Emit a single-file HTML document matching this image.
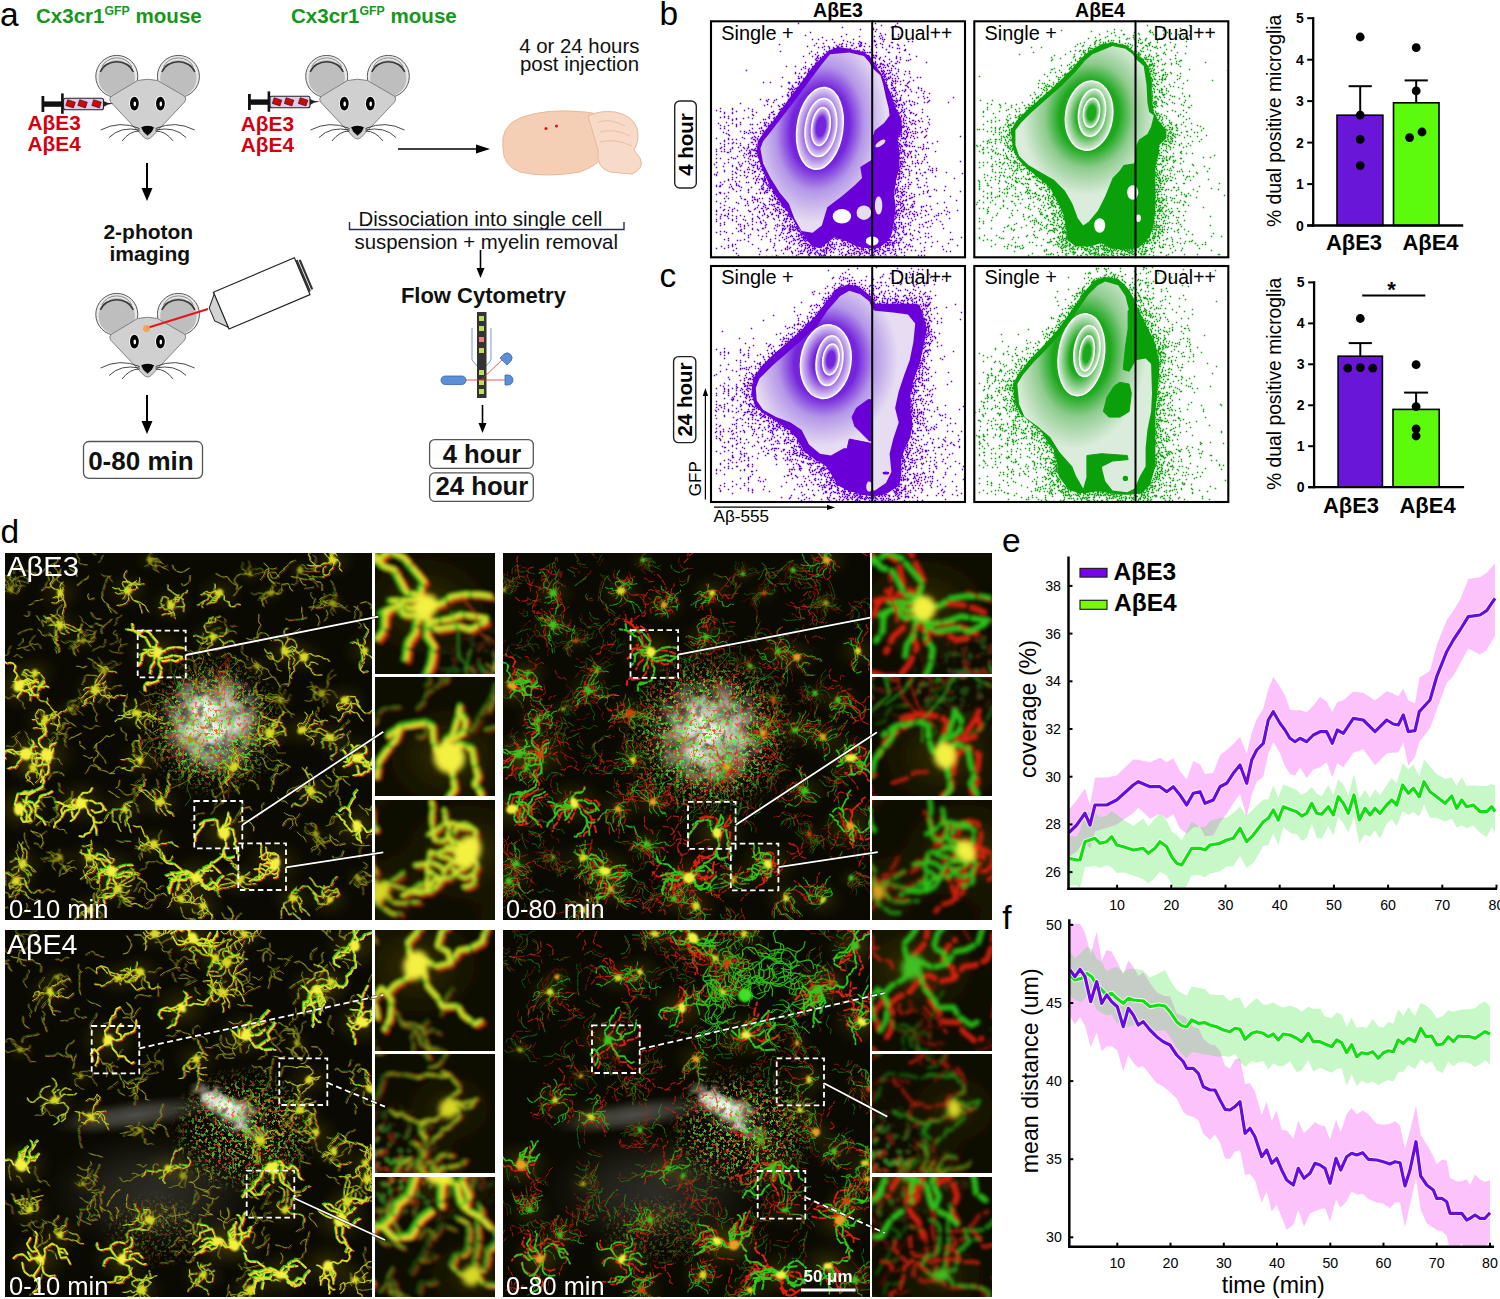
<!DOCTYPE html>
<html><head><meta charset="utf-8"><style>
html,body{margin:0;padding:0;background:#fff;}
body{width:1500px;height:1299px;overflow:hidden;}
svg{display:block;font-family:"Liberation Sans", sans-serif;}
</style></head><body>
<svg width="1500" height="1299" viewBox="0 0 1500 1299">
<defs><clipPath id="clip_bL"><rect x="712" y="22.3" width="252" height="234"/></clipPath><radialGradient id="g_bL" gradientUnits="userSpaceOnUse" cx="819.9" cy="128.4" r="94.8" gradientTransform="translate(819.9,128.4) rotate(8) scale(0.695,1) translate(-819.9,-128.4)"><stop offset="0.435" stop-color="#7324dc"/><stop offset="0.66" stop-color="#b496e8"/><stop offset="1" stop-color="#e6ddf2"/></radialGradient><radialGradient id="gr_bL"><stop offset="0.5" stop-color="#7324dc"/><stop offset="1" stop-color="#e6ddf2"/></radialGradient><clipPath id="clip_bR"><rect x="975.3" y="22.3" width="252" height="234"/></clipPath><radialGradient id="g_bR" gradientUnits="userSpaceOnUse" cx="1089.1" cy="115.6" r="80.1" gradientTransform="translate(1089.1,115.6) rotate(8) scale(0.842,1) translate(-1089.1,-115.6)"><stop offset="0.435" stop-color="#1ca81c"/><stop offset="0.66" stop-color="#8fcc8f"/><stop offset="1" stop-color="#dcecdc"/></radialGradient><radialGradient id="gr_bR"><stop offset="0.5" stop-color="#1ca81c"/><stop offset="1" stop-color="#dcecdc"/></radialGradient><clipPath id="clip_cL"><rect x="712" y="267" width="252" height="234"/></clipPath><radialGradient id="g_cL" gradientUnits="userSpaceOnUse" cx="825.8" cy="361.6" r="85.1" gradientTransform="translate(825.8,361.6) rotate(8) scale(0.848,1) translate(-825.8,-361.6)"><stop offset="0.435" stop-color="#7324dc"/><stop offset="0.66" stop-color="#b496e8"/><stop offset="1" stop-color="#e6ddf2"/></radialGradient><radialGradient id="gr_cL"><stop offset="0.5" stop-color="#7324dc"/><stop offset="1" stop-color="#e6ddf2"/></radialGradient><clipPath id="clip_cR"><rect x="975.3" y="267" width="252" height="234"/></clipPath><radialGradient id="g_cR" gradientUnits="userSpaceOnUse" cx="1081.4" cy="354.8" r="94.8" gradientTransform="translate(1081.4,354.8) rotate(8) scale(0.695,1) translate(-1081.4,-354.8)"><stop offset="0.435" stop-color="#1ca81c"/><stop offset="0.66" stop-color="#8fcc8f"/><stop offset="1" stop-color="#dcecdc"/></radialGradient><radialGradient id="gr_cR"><stop offset="0.5" stop-color="#1ca81c"/><stop offset="1" stop-color="#dcecdc"/></radialGradient><clipPath id="clipE"><rect x="1068.5" y="548.4" width="432.5" height="340.30000000000007"/></clipPath><clipPath id="clipF"><rect x="1069.3" y="911.3" width="428.70000000000005" height="335.4000000000001"/></clipPath><path id="t0" d="M0 0l-2 2l-4 -1l-3 0l-2 1l-2 3l0 4M0 0l-4 0l-4 -3l-1 -1l-3 -2l-4 2l-2 1l-2 0l-2 -2l-1 -3M-9 -4l-2 -2l0 -3l3 -3l3 -1l4 0M0 0l1 -3l0 -2l-1 -3l3 -2l2 -2l0 -4l-2 -3M1 -3l0 -3l2 -1l3 -1M0 0l3 0l3 -1l0 -4l3 -2l3 -1l4 3M6 -1l3 -2l2 1l3 1l4 1l2 -1M0 0l1 3l2 1l4 0l2 4l1 2l-2 3l-2 1l-1 4l-4 2M6 14l-3 0l-4 1l0 4l-2 1l-3 1M6 14l-2 0l-1 2l-1 2"/><path id="t1" d="M0 0l0 -3l3 -2l1 -4l-2 -4l1 -3l0 -4l-3 -3l-3 -2M4 -9l-3 -1l-3 2l-3 -3l-1 -3M0 0l3 -1l4 1l4 -1l3 0l2 -4l3 0l4 -2l0 -2M0 0l2 4l0 4l1 3l-2 1l2 4l2 0l3 1M1 12l4 -1l2 1l3 2l2 3M0 0l-4 0l-3 -1l-1 -3l-1 -2l-3 -2l-2 -3l0 -2l-3 -3l0 -3"/><path id="t2" d="M0 0l-2 -2l-5 0l-2 -1l-3 0l-3 -1l0 -2l-3 -3M0 0l-1 -3l-2 -3l1 -3l1 -3l-1 -2l-2 -3l-4 -1l-3 3M-4 -17l0 3l0 5M-2 -9l2 4l2 2l0 4M0 0l3 -1l2 2l3 2l2 3M0 0l3 3l0 4l2 2l0 3M5 12l0 2l0 4l4 1l2 2M3 3l2 0l3 -1l3 1l3 -3"/><path id="t3" d="M0 0l-3 -2l-2 0l-4 -1l-3 -1l-2 -2l-2 -1l-1 -3l-3 -1l-3 3M-23 -8l3 2l2 2l-1 3l0 2l2 3M-9 -3l-3 -1l-1 -3l-3 -1l-3 1M0 0l-3 -3l1 -5l3 -3l4 -1l2 -2l2 -4M-3 -3l0 -4l0 -2l-2 -2l0 -3l0 -2M0 0l-3 -3l-2 -3l0 -4l2 -1l2 -2M-1 -13l2 -1l4 0l2 0l4 -2l3 -1M-3 -11l3 2l2 2M0 0l2 1l1 4l3 2l1 1M2 1l2 4l2 1l-1 4M0 0l2 0l2 -4l0 -2l3 -2M0 0l-2 3l-2 3l-1 4l-1 2l-1 4M-6 12l3 0l3 0l3 1M-2 3l0 2l-1 3l-3 0"/><path id="t4" d="M0 0l2 1l2 1l4 1l3 -1l2 -1M0 0l1 2l1 4l1 4l3 0l4 -1l4 -1l0 -4l3 -2M17 2l2 -1l2 -2M3 10l3 1l1 2l2 1l4 1l2 1M0 0l-3 1l-2 -1l-2 -4l-1 -2M-5 0l1 -2l1 -3M0 0l1 -2l-1 -3l2 -1l4 -1l1 2l4 2l4 -1M0 0l2 -2l3 -1l4 -1l3 -1l2 -2l2 -1l4 -2"/><path id="t5" d="M0 0l4 -2l3 1l1 -1l1 -3l-1 -4l0 -2M0 0l3 3l0 4l3 2l1 2l3 0l2 -1l1 -4M7 11l3 1l2 -1l4 -1l3 1l1 4M6 9l3 -2l1 -2l-1 -4l-4 -2M0 0l-1 3l1 2l3 2l2 0l3 -1l3 -1M0 0l-3 0l-3 -1l-1 -2l1 -2l0 -3l2 -3M0 0l-1 -4l-2 -3l2 -3l2 -1M0 0l-2 -3l-3 -3l-3 -1l-3 3l-2 0l-2 2l-4 1M0 0l1 -3l4 -1l3 1l3 0l4 0l4 -1l2 -4M8 -3l2 0l2 1l2 -2l1 -3l0 -4M19 -4l3 0l4 1l4 1"/><path id="t6" d="M0 0l2 4l4 0l3 -1l3 -1l2 -3l3 -1l2 1l4 -2M0 0l-3 0l-5 -1l-1 -1l-3 -2l-2 -3M-14 -7l-3 -3l-4 -2M0 0l-1 -3l2 -3l2 -3l0 -3l-2 -3l-1 -1M1 -6l-4 2l-1 3M1 -6l-2 -2l-1 -4M0 0l-2 -2l-1 -3l-3 0l-3 1l-3 0M-9 -4l-3 -3l-4 0l-3 3M0 0l4 -2l1 -1l3 0l4 2l2 2l4 1M4 -2l-1 4l-3 3l-2 2l0 4l0 3M0 0l3 1l4 -1l3 1l2 4l-2 4l0 4M10 1l-2 0l-2 3"/><path id="t7" d="M0 0l-1 2l1 4l3 2l0 3l-1 3l-3 1l-4 1M0 0l-3 3l-3 -1l-3 0l-2 1l-1 4l1 3l2 3l1 4M-6 2l-4 2l-2 2M0 0l-4 2l-3 -1l-2 4l1 3l-2 2l-3 0M0 0l2 -3l1 -2l-1 -2l2 -4l3 -3l1 -2M7 -14l-3 -3l-1 -3M2 -7l3 -4l2 -1l3 -1l1 -4M0 0l4 -1l2 -3l2 -2l2 0l2 -1l3 -1l3 -4l2 -1l4 1M4 -1l3 -2l1 -3l1 -4l2 -3M0 0l3 -2l2 -2l2 -4l0 -3l-2 -3l1 -2l-3 -2l-2 -2M7 -8l-3 -3l-2 -1l-3 -3M3 -18l-1 -2l-3 -1M0 0l2 2l1 3l-2 3l-2 4"/><path id="t8" d="M0 0l4 1l2 -1l1 -2l2 -3l0 -4l3 -2l1 -2l0 -4l-1 -1M12 -11l1 -1l2 -2l1 -2l2 -1M0 0l3 1l2 1l0 4l1 2M3 1l2 -1l2 -1l3 -1l2 1l3 -3M0 0l-3 0l-3 -1l-1 -4l-2 -1l-3 0M-12 -6l-2 -4l-3 0l-2 1l-2 3l-3 0M-12 -6l-1 -2l-2 -2M0 0l-1 -3l1 -2l1 -3l4 -1M-0 -5l2 1l2 -2l1 -3l2 -3l2 -2M-0 -5l0 -2l1 -3l4 -1l2 -2M0 0l-1 -2l0 -3l2 -1l2 -1l4 2l3 0M7 -5l3 1l4 0l3 -2"/><path id="t9" d="M0 0l-2 -3l-2 0l-2 -3l-3 0l-2 3M-11 -3l-1 4l-1 2l-1 4l-4 2M-4 -3l-4 1l-3 -1l-1 -2M0 0l2 -1l2 2l2 3l-2 3l2 3M0 0l3 -1l1 -2l3 -3l4 -2M0 0l2 2l4 -2l1 -4l3 0M7 -4l2 4l1 3l2 2M0 0l-3 3l-3 2l0 3l1 2l3 0l3 0l2 -2l-1 -2M0 0l-4 1l-3 -3l-2 -2l-1 -3l1 -3l2 0l3 -3l3 0l3 -1M-7 -2l0 -3l-3 -2l-4 -1l-3 -3l-2 0M-4 -13l2 1l1 4l1 2"/><path id="t10" d="M0 0l3 3l3 0l2 -2l2 -2l3 -1l2 -4M0 0l3 3l2 3l3 1l2 4l1 4l-2 3l-2 3M9 18l-3 2l0 3l2 2M0 0l0 3l2 4l0 3l2 4M0 3l4 -1l3 -3l2 -3l4 -2l2 -1M0 3l-3 2l-3 -1M0 0l-3 3l-2 0l-2 3l-1 2M-7 6l0 2l2 3l0 3M0 0l-2 -1l-2 0l-2 1l-2 -1l-4 -2l-3 1l-3 -1l-3 1l-3 -3M-2 -1l-2 2l-4 3M0 0l-3 -2l-1 -3l-4 -1l-4 -1l-4 1l-1 4l-4 0l-4 2M0 0l3 -3l1 -3l3 -3l3 -2l2 -1"/><path id="t11" d="M0 0l-3 3l-1 4l-3 1l-2 -1l-2 -1M-3 3l1 -2l3 -1l3 -2l1 -3M-3 3l-2 -1l-4 0M0 0l0 3l0 2l1 3l0 3l0 2M1 11l-1 3l-2 1l-1 2l-2 3M0 0l-1 -4l-3 -2l-2 -3l0 -3l3 -2l2 -2l0 -4l-1 -3l-4 0M0 0l2 -3l0 -3l2 -2l3 -1M0 0l2 1l0 4l-2 2l-3 0"/><path id="t12" d="M0 0l-2 -1l-4 -2l-2 -1l-1 -3l-3 -3l0 -3M-12 -13l0 -4l1 -2l-2 -2l1 -4M-9 -7l-2 -1l-3 -1l-2 2l-1 3M0 0l3 -2l3 1l3 2l2 -1l1 -2l2 -4l0 -4M14 -6l-2 -3l-1 -4l-1 -3l-3 -3M0 0l2 0l2 2l0 2l3 4l2 2M4 2l-1 2l0 3l2 2l3 0M0 0l1 4l-3 2l-4 -2l-3 -1l-1 -2l-3 0l-3 -2l-2 0"/><path id="t13" d="M0 0l-3 1l-2 2l0 2l0 4l-2 3l0 3l-2 4l-2 1l-1 5M-9 19l2 1l2 1l4 -2l1 -5l2 -3M0 0l1 -4l3 -2l3 2l4 1l1 -3l3 1l2 1l2 4l3 1M0 0l2 -3l4 -1l1 1l0 4l3 3l0 3M0 0l2 2l4 0l1 2l2 3l3 1l2 0l4 2M2 2l1 4l1 3"/><path id="t14" d="M0 0l-4 1l-3 -3l-2 -2l1 -2l0 -3l3 -4M-8 -6l1 -2l1 -2l0 -4M0 0l1 -3l-2 -3l-3 -2l-1 -2l0 -3l0 -4M-5 -17l0 -4l-3 -3l-2 0l-3 0l-2 -2M0 0l1 -3l-2 -3l0 -2l2 -2l2 0l2 -2M3 -10l-1 -4l-2 -2l0 -2l1 -3l0 -4M3 -10l2 0l3 2l2 0l4 -2l4 0M0 0l4 0l2 2l3 0l1 -2l1 -3M11 -3l-3 0l-3 -4l-4 0l-2 1l-2 1M10 -0l-3 -2l-2 -1l-3 0l-2 1"/><path id="t15" d="M0 0l2 3l3 2l3 3l4 2l3 2l1 2l3 1M0 0l-2 2l-3 0l-3 4l-2 3l-3 2l-3 -1l-2 -2M0 0l2 -3l4 -1l2 3l-1 3l1 2l3 2l3 2l2 0l3 -2M0 0l0 3l-1 2l3 3l2 1l1 5l4 1M9 15l-2 3l-1 2l0 3l1 3l-1 3M4 9l0 2l1 4l-1 3"/><path id="t16" d="M0 0l-2 4l-1 3l-2 2l-2 0l-2 -3l-1 -2l1 -3l-1 -3M-2 4l4 -1l2 1l1 2l2 2l0 4M-7 9l-2 -4l-1 -2l1 -3l-1 -4l-1 -4M0 0l-2 2l-2 0l-3 -2l-2 -3l0 -2l2 -4M-9 -5l1 -2l3 0l2 3l1 2l-2 3M-2 2l3 2l2 4l-2 2l2 4l0 3M0 0l-3 -1l-4 0l-2 2l1 3l-3 3l-1 3l-4 1l-4 -1M0 0l2 -1l2 -4l2 -2l1 -3l-1 -5l0 -2l1 -3M7 -20l0 -2l1 -2l2 -2l2 -3M7 -10l0 -4l1 -3l3 -2l3 -3l2 -1M0 0l4 -2l4 -2l2 0l3 1l3 3l2 3l1 2M0 0l2 2l3 -1l3 0l2 1M0 0l-2 3l-2 0l-2 -1l-1 -3l-2 0l-3 -2l1 -5l-2 -3l-1 -2M-11 -8l-4 1l-3 1M-6 2l-2 -2l-3 -3l-3 -1"/><path id="t17" d="M0 0l1 4l3 1l3 1l3 -1M1 4l0 -4l-2 -1l-3 -2l-4 -1l-4 3M0 0l-2 4l-3 0l-4 2l-4 2M-13 8l-2 1l-1 2l-1 3l2 4l2 2M0 0l-2 4l-1 2l-3 2l-3 2l-2 1l-3 1l-2 2l-2 2l-3 -2M-2 4l-4 -1l-4 -1l-3 1M-16 14l-4 -1l0 -3l-4 -2l-2 -2M0 0l-1 -2l-2 -2l0 -3l-3 -2l-3 -1l-2 -3l-2 -2M-6 -9l-1 -3l-3 -1l-2 1M-13 -15l-3 1l-3 -1l-3 -2l-2 -1M0 0l1 -4l4 0l3 0l3 0l1 -1l2 -3l4 0M11 -4l3 -1l1 -3M0 0l2 -2l1 -3l2 -2l2 -3M0 0l3 0l3 2l4 -1l2 -1l3 -1"/><path id="t18" d="M0 0l-2 2l-1 1l-1 4l3 3l3 0l2 -3M2 10l-1 -1l-4 -1M2 10l2 1l3 0l3 -2l3 -1M0 0l-1 -2l-2 -3l2 -3l0 -3l2 -1l2 0M-1 -8l3 -1l2 1l2 3M0 0l0 -4l1 -1l3 -1l3 -2l4 0l3 3M11 -8l2 0l3 -3l2 -1l4 1l3 -1M-0 -4l2 1l3 0l2 2l3 1M0 0l2 -1l4 -2l3 -2l1 -3l3 -3l3 -1M16 -12l0 2l-1 4l0 3l-1 2l-1 3M9 -5l2 2l2 1l4 0l2 0M0 0l2 2l2 -1l3 1l4 -1l2 1M0 0l3 0l2 4l1 3l-1 3l1 2l0 4M3 0l2 2l2 1M0 0l2 3l4 3l2 -1l3 1l0 4l0 3l-1 4l0 3"/><path id="t19" d="M0 0l4 1l1 4l-2 3l0 2l1 2M0 0l0 3l-3 4l-3 1l-2 3l-3 0l-3 0M-8 11l-3 0l-2 -2l1 -3l1 -2l3 -1M0 0l-3 1l-3 0l-3 -1l-4 1l-4 -2l-4 -1l-3 -2M-13 1l-3 -1l-2 2l-1 2M-17 -1l-2 -4l-1 -2l1 -3l-1 -2l2 -2M0 0l-2 -2l-2 -3l-1 -3l-1 -2l0 -3M-6 -10l2 0l4 2l0 3l-2 2l-1 4M0 0l-1 -2l0 -4l2 -3l1 -3M2 -12l-2 -4l-1 -3l0 -3l-2 -3M-1 -2l3 -3l2 -4l1 -2l-1 -3l-3 -1M0 0l0 -4l1 -2l1 -2l3 -2l4 -2l2 -2M1 -6l3 1l1 3"/><path id="f0" d="M6 -0l1 -4l3 -3l1 -2l2 -4l3 0l3 -3M-1 3l-2 -1l-3 -1l-1 -3M7 -4l1 4l3 3l0 3l-2 2l0 3M-8 -9l-2 2l-3 3l-2 1l-1 2"/><path id="f1" d="M-4 7l-2 3l-3 0l-3 1M-6 -0l4 0l5 1l4 1l3 2M9 11l-4 1l-2 1l-3 1l-1 2l1 5l0 3"/><path id="f2" d="M9 1l4 -1l4 0l4 1l2 -3l3 -1l4 -1M7 -2l2 4l4 0l1 1l1 4l-1 3l-3 3l-1 2M5 -8l0 4l1 4l-1 4"/><path id="f3" d="M10 -11l-2 2l0 3l-3 3M2 -11l-3 -1l-2 -4l0 -2l-2 -4M-7 -0l-3 0l-5 -1l-1 -2l1 -2l-3 -4l-1 -3l-2 -1M9 9l2 2l2 0l4 0l2 4l2 1"/><path id="f4" d="M-5 2l4 2l4 1l3 2M7 -7l3 -1l4 1l3 3M-2 -4l1 -3l3 -4l1 -2l1 -3l-2 -3M12 12l1 4l0 4l0 3l0 3l0 3l-2 3"/><path id="f5" d="M-4 -10l-4 2l-3 3l-2 1l-3 -1l0 -3M7 -0l2 1l4 1l4 0l2 3l3 1l1 2l-1 5M-8 2l4 0l1 1l0 3l2 3M-0 -3l2 1l4 1l1 4l1 2l2 1"/><path id="f6" d="M-7 -0l0 -5l2 -2l3 -2l2 2M-6 6l4 -3l3 -1l3 1l3 2l1 3"/><path id="f7" d="M-1 8l-4 -1l-4 1l-3 -2l-4 -1M9 2l-1 -2l-3 -1l-2 4"/><path id="f8" d="M-10 -9l2 0l2 -2l2 0M-2 -3l-2 -2l-4 1l-3 1l-1 3l-4 1l-3 2M9 7l1 4l1 4l3 2l4 0l2 4M-11 -1l-1 -4l-3 -2l-3 -3l0 -4l-3 -1"/><path id="f9" d="M-11 -6l4 2l2 3l0 2l0 3l2 2l2 2l4 1M2 8l-3 -1l-3 -2l-1 -3l2 -2l4 -1l4 3M1 -5l-3 2l-3 0l-3 3l0 4l-1 3l-1 2M7 -6l3 -4l1 -3l4 -3"/><filter id="bl1" x="-5%" y="-5%" width="110%" height="110%"><feGaussianBlur stdDeviation="0.5"/></filter><filter id="bl2" x="-50%" y="-50%" width="200%" height="200%"><feGaussianBlur stdDeviation="1.1"/></filter><filter id="bl8" x="-50%" y="-50%" width="200%" height="200%"><feGaussianBlur stdDeviation="8"/></filter><filter id="blI" x="-5%" y="-5%" width="110%" height="110%"><feGaussianBlur stdDeviation="1.5"/></filter><filter id="blG" x="-5%" y="-5%" width="110%" height="110%"><feGaussianBlur stdDeviation="5"/></filter><filter id="spG" x="0" y="0" width="100%" height="100%"><feTurbulence type="fractalNoise" baseFrequency="0.3" numOctaves="2" seed="3"/><feColorMatrix type="matrix" values="0 0 0 0 0.1  0 0 0 0 0.92  0 0 0 0 0.05  15 0 0 0 -8.7"/><feComposite in2="SourceGraphic" operator="in"/></filter><filter id="spR" x="0" y="0" width="100%" height="100%"><feTurbulence type="fractalNoise" baseFrequency="0.3" numOctaves="2" seed="9"/><feColorMatrix type="matrix" values="0 0 0 0 0.95  0 0 0 0 0.08  0 0 0 0 0.02  15 0 0 0 -8.7"/><feComposite in2="SourceGraphic" operator="in"/></filter><filter id="plF" x="0" y="0" width="100%" height="100%"><feTurbulence type="fractalNoise" baseFrequency="0.07" numOctaves="3" seed="8"/><feColorMatrix type="matrix" values="0 0 0 0 0.96  0 0 0 0 0.96  0 0 0 0 0.9  3.2 0 0 0 -1.05"/><feComposite in2="SourceGraphic" operator="in"/></filter><radialGradient id="gfade"><stop offset="0" stop-color="#fff" stop-opacity="1"/><stop offset="0.6" stop-color="#fff" stop-opacity="0.7"/><stop offset="1" stop-color="#fff" stop-opacity="0"/></radialGradient><radialGradient id="glow"><stop offset="0" stop-color="#6a6200" stop-opacity="0.6"/><stop offset="1" stop-color="#3a3400" stop-opacity="0"/></radialGradient><radialGradient id="plq"><stop offset="0" stop-color="#ffffff" stop-opacity="1"/><stop offset="0.45" stop-color="#e8e8e0" stop-opacity="0.75"/><stop offset="1" stop-color="#a0a098" stop-opacity="0"/></radialGradient><filter id="plD" x="0" y="0" width="100%" height="100%"><feTurbulence type="fractalNoise" baseFrequency="0.11" numOctaves="2" seed="4"/><feColorMatrix type="matrix" values="0 0 0 0 0.05  0 0 0 0 0.05  0 0 0 0 0.03  5 0 0 0 -2.9"/><feComposite in2="SourceGraphic" operator="in"/></filter><clipPath id="cp_m1"><rect x="5" y="553" width="367" height="367"/></clipPath><clipPath id="ci_m1_553"><rect x="375" y="553" width="120" height="120.5"/></clipPath><clipPath id="ci_m1_677"><rect x="375" y="677" width="120" height="119.0"/></clipPath><clipPath id="ci_m1_800"><rect x="375" y="800" width="120" height="120.0"/></clipPath><clipPath id="cp_m2"><rect x="503" y="553" width="367" height="367"/></clipPath><clipPath id="ci_m2_553"><rect x="872" y="553" width="120" height="120.5"/></clipPath><clipPath id="ci_m2_677"><rect x="872" y="677" width="120" height="119.0"/></clipPath><clipPath id="ci_m2_800"><rect x="872" y="800" width="120" height="120.0"/></clipPath><clipPath id="cp_m3"><rect x="5" y="930" width="367" height="367"/></clipPath><clipPath id="ci_m3_930"><rect x="375" y="930" width="120" height="120.5"/></clipPath><clipPath id="ci_m3_1054"><rect x="375" y="1054" width="120" height="119.0"/></clipPath><clipPath id="ci_m3_1177"><rect x="375" y="1177" width="120" height="120.0"/></clipPath><clipPath id="cp_m4"><rect x="503" y="930" width="367" height="367"/></clipPath><clipPath id="ci_m4_930"><rect x="872" y="930" width="120" height="120.5"/></clipPath><clipPath id="ci_m4_1054"><rect x="872" y="1054" width="120" height="119.0"/></clipPath><clipPath id="ci_m4_1177"><rect x="872" y="1177" width="120" height="120.0"/></clipPath></defs>
<text x="0" y="25.5" font-size="33.5" font-weight="normal" fill="#000" text-anchor="start" >a</text><text x="659.5" y="25" font-size="33.5" font-weight="normal" fill="#000" text-anchor="start" >b</text><text x="659.5" y="286.5" font-size="33.5" font-weight="normal" fill="#000" text-anchor="start" >c</text><text x="0.5" y="542.8" font-size="33.5" font-weight="normal" fill="#000" text-anchor="start" >d</text><text x="1002" y="552.3" font-size="33.5" font-weight="normal" fill="#000" text-anchor="start" >e</text><text x="1002.3" y="929" font-size="33.5" font-weight="normal" fill="#000" text-anchor="start" >f</text><text x="36" y="22.5" font-size="20.55" font-weight="bold" fill="#16961a">Cx3cr1<tspan font-size="12.3" dy="-7.5">GFP</tspan><tspan dy="7.5"> mouse</tspan></text><text x="291" y="22.5" font-size="20.55" font-weight="bold" fill="#16961a">Cx3cr1<tspan font-size="12.3" dy="-7.5">GFP</tspan><tspan dy="7.5"> mouse</tspan></text><g transform="translate(147.6,55)"><circle cx="-30.8" cy="21.4" r="21" fill="#e9e9e9" stroke="#5a5a5a" stroke-width="1"/><circle cx="-30.8" cy="23.2" r="18.2" fill="#bebebe"/><path d="M-47.3,17 A17.5,15.5 0 0 1 -14.3,17" fill="none" stroke="#3a3a3a" stroke-width="1.5"/><path d="M-45.8,12 A16,14 0 0 1 -15.8,12" fill="none" stroke="#888" stroke-width="1"/><circle cx="30.8" cy="21.4" r="21" fill="#e9e9e9" stroke="#5a5a5a" stroke-width="1"/><circle cx="30.8" cy="23.2" r="18.2" fill="#bebebe"/><path d="M14.3,17 A17.5,15.5 0 0 1 47.3,17" fill="none" stroke="#3a3a3a" stroke-width="1.5"/><path d="M15.8,12 A16,14 0 0 1 45.8,12" fill="none" stroke="#888" stroke-width="1"/><path d="M-10,25.5 Q0,23 10,25.5 L37.5,41.5 Q39,44 37,47 L4,82 Q0,86 -4,82 L-37,47 Q-39,44 -36.5,41.5 Z" fill="#d0d0d0" stroke="#777" stroke-width="0.9"/><ellipse cx="-13.2" cy="48.6" rx="5.4" ry="7.8" fill="#f4f4f4"/><ellipse cx="-13.2" cy="48.6" rx="4.4" ry="6.8" fill="#000"/><ellipse cx="-12.799999999999999" cy="49" rx="1.3" ry="2.4" fill="#fff"/><ellipse cx="12.8" cy="48.6" rx="5.4" ry="7.8" fill="#f4f4f4"/><ellipse cx="12.8" cy="48.6" rx="4.4" ry="6.8" fill="#000"/><ellipse cx="13.200000000000001" cy="49" rx="1.3" ry="2.4" fill="#fff"/><path d="M-7,72 Q0,68.5 7,72 Q6,77 0,81 Q-6,77 -7,72 Z" fill="#050505" stroke="#eee" stroke-width="0.8"/><path d="M-8,73.5 Q-28,65 -47,75" fill="none" stroke="#333" stroke-width="0.9"/><path d="M-8,75 Q-27,71 -38.5,82.5" fill="none" stroke="#333" stroke-width="0.9"/><path d="M-8,76 Q-18,76 -25.5,86" fill="none" stroke="#333" stroke-width="0.9"/><path d="M8,73.5 Q28,65 47,75" fill="none" stroke="#333" stroke-width="0.9"/><path d="M8,75 Q27,71 38.5,82.5" fill="none" stroke="#333" stroke-width="0.9"/><path d="M8,76 Q18,76 25.5,86" fill="none" stroke="#333" stroke-width="0.9"/></g><g transform="translate(41.5,104)"><rect x="0" y="-8" width="2.8" height="16" fill="#111"/><rect x="2" y="-2.6" width="19" height="5.4" fill="#111"/><rect x="19.6" y="-10.6" width="2.6" height="20.4" fill="#111"/><rect x="22" y="-5.8" width="40" height="11.6" rx="2" fill="#dccdf0" stroke="#222" stroke-width="1.1"/><g fill="#c80a0a" stroke="#500" stroke-width="0.6"><rect x="25" y="-3.2" width="8" height="6" transform="rotate(18 29 0)"/><rect x="37" y="-3.2" width="8" height="6" transform="rotate(18 41 0)"/><rect x="51" y="-3.2" width="8" height="6" transform="rotate(18 55 0)"/></g><path d="M62,-3 L66,-1.2 L72,-0.4 L66,0.8 L62,3 Z" fill="#222"/></g><text x="27.6" y="130" font-size="20.3" font-weight="bold" fill="#d4000f" text-anchor="start"  textLength="53.2" lengthAdjust="spacingAndGlyphs">AβE3</text><text x="27.6" y="150.8" font-size="20.3" font-weight="bold" fill="#d4000f" text-anchor="start"  textLength="53.2" lengthAdjust="spacingAndGlyphs">AβE4</text><line x1="147" y1="163" x2="147" y2="189" stroke="#000" stroke-width="2"/><path d="M141.5,188 L152.5,188 L147,201 Z" fill="#000"/><text x="148.3" y="239.2" font-size="21" font-weight="bold" fill="#111" text-anchor="middle" >2-photon</text><text x="149.8" y="261.2" font-size="21" font-weight="bold" fill="#111" text-anchor="middle" >imaging</text><g transform="translate(147.6,293)"><circle cx="-30.8" cy="21.4" r="21" fill="#e9e9e9" stroke="#5a5a5a" stroke-width="1"/><circle cx="-30.8" cy="23.2" r="18.2" fill="#bebebe"/><path d="M-47.3,17 A17.5,15.5 0 0 1 -14.3,17" fill="none" stroke="#3a3a3a" stroke-width="1.5"/><path d="M-45.8,12 A16,14 0 0 1 -15.8,12" fill="none" stroke="#888" stroke-width="1"/><circle cx="30.8" cy="21.4" r="21" fill="#e9e9e9" stroke="#5a5a5a" stroke-width="1"/><circle cx="30.8" cy="23.2" r="18.2" fill="#bebebe"/><path d="M14.3,17 A17.5,15.5 0 0 1 47.3,17" fill="none" stroke="#3a3a3a" stroke-width="1.5"/><path d="M15.8,12 A16,14 0 0 1 45.8,12" fill="none" stroke="#888" stroke-width="1"/><path d="M-10,25.5 Q0,23 10,25.5 L37.5,41.5 Q39,44 37,47 L4,82 Q0,86 -4,82 L-37,47 Q-39,44 -36.5,41.5 Z" fill="#d0d0d0" stroke="#777" stroke-width="0.9"/><ellipse cx="-13.2" cy="48.6" rx="5.4" ry="7.8" fill="#f4f4f4"/><ellipse cx="-13.2" cy="48.6" rx="4.4" ry="6.8" fill="#000"/><ellipse cx="-12.799999999999999" cy="49" rx="1.3" ry="2.4" fill="#fff"/><ellipse cx="12.8" cy="48.6" rx="5.4" ry="7.8" fill="#f4f4f4"/><ellipse cx="12.8" cy="48.6" rx="4.4" ry="6.8" fill="#000"/><ellipse cx="13.200000000000001" cy="49" rx="1.3" ry="2.4" fill="#fff"/><path d="M-7,72 Q0,68.5 7,72 Q6,77 0,81 Q-6,77 -7,72 Z" fill="#050505" stroke="#eee" stroke-width="0.8"/><path d="M-8,73.5 Q-28,65 -47,75" fill="none" stroke="#333" stroke-width="0.9"/><path d="M-8,75 Q-27,71 -38.5,82.5" fill="none" stroke="#333" stroke-width="0.9"/><path d="M-8,76 Q-18,76 -25.5,86" fill="none" stroke="#333" stroke-width="0.9"/><path d="M8,73.5 Q28,65 47,75" fill="none" stroke="#333" stroke-width="0.9"/><path d="M8,75 Q27,71 38.5,82.5" fill="none" stroke="#333" stroke-width="0.9"/><path d="M8,76 Q18,76 25.5,86" fill="none" stroke="#333" stroke-width="0.9"/></g><g transform="translate(258,295) rotate(-23)"><rect x="-40" y="-20" width="88" height="40" fill="#fff" stroke="#222" stroke-width="1.2"/><rect x="48" y="-17" width="2.2" height="34" fill="#333"/><rect x="51" y="-16" width="2.2" height="32" fill="#333"/><path d="M-40,-18 L-50,-7 L-50,7 L-40,18 Z" fill="#d4d4d4" stroke="#222" stroke-width="1"/></g><line x1="147" y1="328" x2="208" y2="309" stroke="#e8141c" stroke-width="2"/><circle cx="146.5" cy="328.5" r="3.5" fill="#f7a043" opacity="0.9"/><line x1="147" y1="395" x2="147" y2="422" stroke="#000" stroke-width="2"/><path d="M141.5,421 L152.5,421 L147,434 Z" fill="#000"/><rect x="83.5" y="441.5" width="119" height="36.8" rx="5.5" fill="#fff" stroke="#555" stroke-width="1.3"/><text x="140.9" y="469.7" font-size="25.5" font-weight="bold" fill="#111" text-anchor="middle"  textLength="105.5" lengthAdjust="spacingAndGlyphs">0-80 min</text><g transform="translate(357.5,55)"><circle cx="-30.8" cy="21.4" r="21" fill="#e9e9e9" stroke="#5a5a5a" stroke-width="1"/><circle cx="-30.8" cy="23.2" r="18.2" fill="#bebebe"/><path d="M-47.3,17 A17.5,15.5 0 0 1 -14.3,17" fill="none" stroke="#3a3a3a" stroke-width="1.5"/><path d="M-45.8,12 A16,14 0 0 1 -15.8,12" fill="none" stroke="#888" stroke-width="1"/><circle cx="30.8" cy="21.4" r="21" fill="#e9e9e9" stroke="#5a5a5a" stroke-width="1"/><circle cx="30.8" cy="23.2" r="18.2" fill="#bebebe"/><path d="M14.3,17 A17.5,15.5 0 0 1 47.3,17" fill="none" stroke="#3a3a3a" stroke-width="1.5"/><path d="M15.8,12 A16,14 0 0 1 45.8,12" fill="none" stroke="#888" stroke-width="1"/><path d="M-10,25.5 Q0,23 10,25.5 L37.5,41.5 Q39,44 37,47 L4,82 Q0,86 -4,82 L-37,47 Q-39,44 -36.5,41.5 Z" fill="#d0d0d0" stroke="#777" stroke-width="0.9"/><ellipse cx="-13.2" cy="48.6" rx="5.4" ry="7.8" fill="#f4f4f4"/><ellipse cx="-13.2" cy="48.6" rx="4.4" ry="6.8" fill="#000"/><ellipse cx="-12.799999999999999" cy="49" rx="1.3" ry="2.4" fill="#fff"/><ellipse cx="12.8" cy="48.6" rx="5.4" ry="7.8" fill="#f4f4f4"/><ellipse cx="12.8" cy="48.6" rx="4.4" ry="6.8" fill="#000"/><ellipse cx="13.200000000000001" cy="49" rx="1.3" ry="2.4" fill="#fff"/><path d="M-7,72 Q0,68.5 7,72 Q6,77 0,81 Q-6,77 -7,72 Z" fill="#050505" stroke="#eee" stroke-width="0.8"/><path d="M-8,73.5 Q-28,65 -47,75" fill="none" stroke="#333" stroke-width="0.9"/><path d="M-8,75 Q-27,71 -38.5,82.5" fill="none" stroke="#333" stroke-width="0.9"/><path d="M-8,76 Q-18,76 -25.5,86" fill="none" stroke="#333" stroke-width="0.9"/><path d="M8,73.5 Q28,65 47,75" fill="none" stroke="#333" stroke-width="0.9"/><path d="M8,75 Q27,71 38.5,82.5" fill="none" stroke="#333" stroke-width="0.9"/><path d="M8,76 Q18,76 25.5,86" fill="none" stroke="#333" stroke-width="0.9"/></g><g transform="translate(248,102)"><rect x="0" y="-8" width="2.8" height="16" fill="#111"/><rect x="2" y="-2.6" width="19" height="5.4" fill="#111"/><rect x="19.6" y="-10.6" width="2.6" height="20.4" fill="#111"/><rect x="22" y="-5.8" width="40" height="11.6" rx="2" fill="#dccdf0" stroke="#222" stroke-width="1.1"/><g fill="#c80a0a" stroke="#500" stroke-width="0.6"><rect x="25" y="-3.2" width="8" height="6" transform="rotate(18 29 0)"/><rect x="37" y="-3.2" width="8" height="6" transform="rotate(18 41 0)"/><rect x="51" y="-3.2" width="8" height="6" transform="rotate(18 55 0)"/></g><path d="M62,-3 L66,-1.2 L72,-0.4 L66,0.8 L62,3 Z" fill="#222"/></g><text x="240.8" y="131" font-size="20.3" font-weight="bold" fill="#d4000f" text-anchor="start"  textLength="53.2" lengthAdjust="spacingAndGlyphs">AβE3</text><text x="240.8" y="152" font-size="20.3" font-weight="bold" fill="#d4000f" text-anchor="start"  textLength="53.2" lengthAdjust="spacingAndGlyphs">AβE4</text><line x1="398" y1="149" x2="478" y2="149" stroke="#000" stroke-width="1.6"/><path d="M476,144.5 L490,149 L476,153.5 Z" fill="#000"/><g><path d="M503,148 Q500,126 520,118 Q545,108 585,112 Q600,113 606,120 L612,130 Q618,140 608,150 Q600,165 580,172 Q545,178 520,172 Q503,166 503,148 Z" fill="#f5cfb5" stroke="#e9b89a" stroke-width="1"/><path d="M588,116 Q600,110 615,112 Q632,115 637,128 Q640,140 634,150 L640,158 Q645,168 632,174 L610,172 Q596,168 598,150 Z" fill="#f7dbc8" stroke="#e4b89c" stroke-width="1"/><path d="M598,122 Q610,118 625,126 M600,132 Q614,128 630,136 M600,142 Q615,138 632,146" fill="none" stroke="#e4b89c" stroke-width="0.8"/><circle cx="546" cy="128.5" r="1.5" fill="#e51010"/><circle cx="556.5" cy="126" r="1.5" fill="#e51010"/></g><text x="579.3" y="52.9" font-size="20.4" font-weight="normal" fill="#111" text-anchor="middle" >4 or 24 hours</text><text x="579.5" y="71.1" font-size="20.4" font-weight="normal" fill="#111" text-anchor="middle" >post injection</text><text x="480.4" y="225.5" font-size="20.4" font-weight="normal" fill="#111" text-anchor="middle" >Dissociation into single cell</text><path d="M349.5,222 L349.5,229.5 L624,229.5 L624,222" fill="none" stroke="#2a2a55" stroke-width="1.4"/><text x="486.2" y="249" font-size="20.4" font-weight="normal" fill="#111" text-anchor="middle" >suspension + myelin removal</text><line x1="480.5" y1="250" x2="480.5" y2="269" stroke="#000" stroke-width="1.6"/><path d="M476.5,268 L484.5,268 L480.5,278 Z" fill="#000"/><text x="483.4" y="302.6" font-size="22" font-weight="bold" fill="#111" text-anchor="middle" >Flow Cytometry</text><g><path d="M472,328 L472,360 L477,366 M491,328 L491,360 L486,366" fill="none" stroke="#7a9ad0" stroke-width="1"/><rect x="477" y="312" width="9.5" height="86" fill="#333"/><g fill="#b8e05a"><rect x="479" y="316" width="5" height="5"/><rect x="479" y="326" width="5" height="5"/><rect x="479" y="337" width="5" height="5" fill="#f08080"/><rect x="479" y="348" width="5" height="5"/><rect x="479" y="370" width="5" height="5"/><rect x="479" y="380" width="5" height="5"/><rect x="479" y="389" width="5" height="5"/></g><line x1="462" y1="380" x2="506" y2="380" stroke="#e03030" stroke-width="0.8"/><line x1="481" y1="380" x2="503" y2="359" stroke="#e03030" stroke-width="0.8"/><rect x="441" y="376" width="25" height="8.5" rx="4.2" fill="#5b8fd6" stroke="#3a66a8" stroke-width="0.8"/><path d="M505,375 L508,375 A5,5 0 0 1 508,385 L505,385 Z" fill="#5b8fd6" stroke="#3a66a8" stroke-width="0.8"/><path d="M500,358 L504,354 A5,5 0 0 1 511,361 L507,365 Z" fill="#5b8fd6" stroke="#3a66a8" stroke-width="0.8"/></g><line x1="482.5" y1="405" x2="482.5" y2="424" stroke="#000" stroke-width="1.6"/><path d="M478.5,423 L486.5,423 L482.5,433 Z" fill="#000"/><rect x="429.6" y="439.6" width="103.7" height="28.7" rx="5" fill="#fff" stroke="#555" stroke-width="1.3"/><text x="481.9" y="462.9" font-size="25.7" font-weight="bold" fill="#111" text-anchor="middle" >4 hour</text><rect x="429.6" y="472.9" width="103.7" height="28.4" rx="5" fill="#fff" stroke="#555" stroke-width="1.3"/><text x="481.9" y="495.4" font-size="25.7" font-weight="bold" fill="#111" text-anchor="middle" >24 hour</text><g clip-path="url(#clip_bL)"><path d="M798.5 23.5h0m77 0h0m22 0h0m-16 2h0m14 0h0m-53 2h0m49 0h0m-18 1h0m-13 1h0m13 0h0m3 0h0m-1 2h0m-65 1h0m70 1h0m-34 1h0m39 0h0m13 0h0m-93 1h0m76 0h0m11 0h0m-51 1h0m18 0h0m15 0h0m5 0h0m19 0h0m-76 1h0m60 0h0m-2 1h0m14 0h0m-82 1h0m6 0h0m14 0h0m21 0h0m29 0h0m2 0h0m-58 1h0m17 0h0m31 0h0m-27 1h0m12 0h0m15 0h0m1 0h0m8 0h0m25 0h0m4 0h0m-78 1h0m16 0h0m10 0h0m1 0h0m30 0h0m1 0h0m-76 1h0m7 0h0m19 0h0m11 0h0m5 0h0m3 0h0m4 0h0m15 0h0m-101 1h0m60 0h0m0 0h0m2 0h0m5 0h0m14 0h0m16 0h0m6 0h0m15 0h0m-83 1h0m22 0h0m15 0h0m1 0h0m7 0h0m2 0h0m14 0h0m14 0h0m9 0h0m6 0h0m-97 1h0m17 0h0m4 0h0m9 0h0m1 0h0m3 0h0m1 0h0m4 0h0m13 0h0m1 0h0m4 0h0m5 0h0m20 0h0m-71 1h0m4 0h0m7 0h0m4 0h0m4 0h0m19 0h0m20 0h0m6 0h0m10 0h0m-63 1h0m4 0h0m1 0h0m3 0h0m1 0h0m4 0h0m8 0h0m4 0h0m43 0h0m2 0h0m-75 1h0m0 0h0m21 0h0m2 0h0m0 0h0m1 0h0m0 0h0m0 0h0m1 0h0m14 0h0m0 0h0m8 0h0m15 0h0m19 0h0m-76 1h0m1 0h0m1 0h0m1 0h0m25 0h0m2 0h0m5 0h0m40 0h0m1 0h0m-125 1h0m31 0h0m15 0h0m30 0h0m0 0h0m6 0h0m-45 1h0m10 0h0m1 0h0m35 0h0m1 0h0m1 0h0m2 0h0m0 0h0m2 0h0m1 0h0m6 0h0m12 0h0m1 0h0m10 0h0m-90 1h0m14 0h0m4 0h0m-12 1h0m9 0h0m41 0h0m44 0h0m-91 1h0m50 0h0m4 0h0m1 0h0m2 0h0m1 0h0m-73 1h0m9 0h0m5 0h0m5 0h0m47 0h0m7 0h0m9 0h0m11 0h0m20 0h0m-99 1h0m0 0h0m3 0h0m53 0h0m1 0h0m6 0h0m0 0h0m16 0h0m4 0h0m-84 1h0m2 0h0m2 0h0m51 0h0m4 0h0m4 0h0m17 0h0m-81 1h0m6 0h0m58 0h0m10 0h0m11 0h0m10 0h0m-94 1h0m1 0h0m3 0h0m63 0h0m23 0h0m2 0h0m-90 1h0m53 0h0m4 0h0m0 0h0m9 0h0m7 0h0m6 0h0m-92 1h0m11 0h0m57 0h0m0 0h0m0 0h0m2 0h0m24 0h0m27 0h0m-111 1h0m0 0h0m1 0h0m57 0h0m1 0h0m0 0h0m1 0h0m5 0h0m1 0h0m8 0h0m6 0h0m1 0h0m-85 1h0m64 0h0m2 0h0m3 0h0m2 0h0m1 0h0m0 0h0m4 0h0m0 0h0m-72 1h0m61 0h0m8 0h0m3 0h0m5 0h0m-106 1h0m9 0h0m10 0h0m7 0h0m63 0h0m4 0h0m1 0h0m0 0h0m8 0h0m5 0h0m-90 1h0m73 0h0m2 0h0m1 0h0m4 0h0m2 0h0m-80 1h0m4 0h0m0 0h0m67 0h0m5 0h0m10 0h0m4 0h0m-94 1h0m7 0h0m90 0h0m-152 1h0m62 0h0m0 0h0m0 0h0m3 0h0m70 0h0m2 0h0m4 0h0m2 0h0m2 0h0m-83 1h0m1 0h0m1 0h0m71 0h0m1 0h0m2 0h0m14 0h0m7 0h0m4 0h0m-114 1h0m10 0h0m4 0h0m74 0h0m7 0h0m-95 1h0m4 0h0m5 0h0m3 0h0m75 0h0m1 0h0m3 0h0m2 0h0m1 0h0m7 0h0m13 0h0m-101 1h0m74 0h0m0 0h0m2 0h0m1 0h0m7 0h0m12 0h0m-97 1h0m77 0h0m10 0h0m-96 1h0m3 0h0m82 0h0m1 0h0m1 0h0m5 0h0m7 0h0m-115 1h0m19 0h0m83 0h0m0 0h0m4 0h0m2 0h0m20 0h0m7 0h0m3 0h0m-122 1h0m1 0h0m4 0h0m83 0h0m2 0h0m1 0h0m3 0h0m3 0h0m3 0h0m-94 1h0m79 0h0m1 0h0m1 0h0m2 0h0m-84 1h0m83 0h0m6 0h0m3 0h0m8 0h0m10 0h0m-114 1h0m4 0h0m90 0h0m2 0h0m2 0h0m3 0h0m9 0h0m-146 1h0m7 0h0m18 0h0m1 0h0m6 0h0m1 0h0m3 0h0m3 0h0m84 0h0m5 0h0m0 0h0m17 0h0m-119 1h0m9 0h0m2 0h0m92 0h0m0 0h0m3 0h0m0 0h0m12 0h0m-109 1h0m88 0h0m5 0h0m9 0h0m-108 1h0m8 0h0m87 0h0m4 0h0m1 0h0m13 0h0m1 0h0m-125 1h0m11 0h0m115 0h0m-114 1h0m0 0h0m4 0h0m96 0h0m2 0h0m13 0h0m10 0h0m-130 1h0m3 0h0m4 0h0m1 0h0m1 0h0m94 0h0m1 0h0m2 0h0m24 0h0m3 0h0m-132 1h0m1 0h0m2 0h0m2 0h0m94 0h0m6 0h0m11 0h0m5 0h0m-17 1h0m1 0h0m1 0h0m7 0h0m3 0h0m16 0h0m-129 1h0m1 0h0m96 0h0m10 0h0m5 0h0m7 0h0m13 0h0m-136 1h0m3 0h0m3 0h0m1 0h0m96 0h0m5 0h0m20 0h0m-125 1h0m2 0h0m1 0h0m96 0h0m5 0h0m28 0h0m6 0h0m0 0h0m-142 1h0m4 0h0m1 0h0m0 0h0m1 0h0m0 0h0m99 0h0m5 0h0m0 0h0m-110 1h0m1 0h0m3 0h0m101 0h0m0 0h0m3 0h0m6 0h0m7 0h0m-126 1h0m6 0h0m103 0h0m1 0h0m1 0h0m1 0h0m29 0h0m-133 1h0m1 0h0m109 0h0m18 0h0m9 0h0m26 0h0m-163 1h0m106 0h0m4 0h0m24 0h0m-164 1h0m8 0h0m8 0h0m12 0h0m104 0h0m0 0h0m8 0h0m-134 1h0m8 0h0m14 0h0m105 0h0m1 0h0m2 0h0m1 0h0m2 0h0m0 0h0m1 0h0m9 0h0m20 0h0m-162 1h0m128 0h0m2 0h0m9 0h0m3 0h0m3 0h0m16 0h0m-155 1h0m123 0h0m7 0h0m11 0h0m10 0h0m3 0h0m21 0h0m-208 1h0m44 0h0m110 0h0m10 0h0m13 0h0m-150 1h0m15 0h0m4 0h0m109 0h0m0 0h0m3 0h0m1 0h0m0 0h0m2 0h0m3 0h0m6 0h0m4 0h0m-150 1h0m14 0h0m5 0h0m113 0h0m2 0h0m1 0h0m3 0h0m9 0h0m-140 1h0m8 0h0m5 0h0m111 0h0m1 0h0m0 0h0m0 0h0m2 1h0m4 0h0m-182 1h0m12 0h0m16 0h0m33 0h0m1 0h0m124 0h0m-174 1h0m20 0h0m27 0h0m1 0h0m121 0h0m3 0h0m0 0h0m18 0h0m-206 1h0m0 0h0m28 0h0m152 0h0m0 0h0m1 0h0m5 0h0m7 0h0m-189 1h0m16 0h0m16 0h0m21 0h0m7 0h0m1 0h0m120 0h0m3 0h0m-180 1h0m0 0h0m8 0h0m24 0h0m15 0h0m1 0h0m7 0h0m119 0h0m2 0h0m3 0h0m0 0h0m0 0h0m7 0h0m1 0h0m11 0h0m-198 1h0m8 0h0m46 0h0m121 0h0m0 0h0m11 0h0m3 0h0m-161 1h0m17 0h0m4 0h0m1 0h0m130 0h0m12 0h0m-163 1h0m148 0h0m4 0h0m10 0h0m-191 1h0m4 0h0m41 0h0m7 0h0m1 0h0m0 0h0m124 0h0m3 0h0m23 0h0m-207 1h0m4 0h0m24 0h0m20 0h0m6 0h0m126 0h0m6 0h0m-178 1h0m8 0h0m7 0h0m9 0h0m17 0h0m4 0h0m2 0h0m1 0h0m127 0h0m0 0h0m6 0h0m12 0h0m-189 1h0m4 0h0m27 0h0m2 0h0m9 0h0m1 0h0m128 0h0m0 0h0m26 0h0m-197 1h0m42 0h0m1 0h0m128 0h0m2 0h0m7 0h0m1 0h0m5 0h0m-147 1h0m130 0h0m8 0h0m6 0h0m4 0h0m3 0h0m-196 1h0m14 0h0m20 0h0m0 0h0m4 0h0m2 0h0m5 0h0m0 0h0m1 0h0m1 0h0m130 0h0m7 0h0m18 0h0m-210 1h0m14 0h0m32 0h0m4 0h0m136 0h0m2 0h0m6 0h0m2 0h0m-178 1h0m4 0h0m0 0h0m10 0h0m2 0h0m5 0h0m8 0h0m5 0h0m0 0h0m1 0h0m140 0h0m4 0h0m14 0h0m0 0h0m-209 1h0m8 0h0m8 0h0m28 0h0m1 0h0m3 0h0m1 0h0m134 0h0m-179 1h0m12 0h0m30 0h0m2 0h0m134 0h0m2 0h0m0 0h0m2 0h0m-145 1h0m141 0h0m0 0h0m1 0h0m5 0h0m12 0h0m-200 1h0m4 0h0m28 0h0m7 0h0m0 0h0m2 0h0m7 0h0m139 0h0m8 0h0m12 0h0m-161 1h0m0 0h0m141 0h0m2 0h0m16 0h0m-197 1h0m21 0h0m13 0h0m1 0h0m142 0h0m0 0h0m-165 1h0m4 0h0m16 0h0m3 0h0m2 0h0m139 0h0m2 0h0m6 0h0m3 0h0m7 0h0m4 0h0m-203 1h0m23 0h0m4 0h0m2 0h0m3 0h0m1 0h0m8 0h0m0 0h0m1 0h0m136 0h0m0 0h0m0 0h0m5 0h0m2 0h0m2 0h0m7 0h0m4 0h0m-195 1h0m18 0h0m4 0h0m0 0h0m5 0h0m7 0h0m2 0h0m2 0h0m139 0h0m4 0h0m6 0h0m2 0h0m-187 1h0m172 0h0m0 0h0m0 0h0m1 0h0m3 0h0m3 0h0m-178 1h0m172 0h0m6 0h0m4 0h0m15 0h0m-172 1h0m4 0h0m141 0h0m2 0h0m5 0h0m1 0h0m6 0h0m12 0h0m35 0h0m-218 1h0m10 0h0m3 0h0m6 0h0m142 0h0m0 0h0m3 0h0m4 0h0m7 0h0m7 0h0m-208 1h0m12 0h0m16 0h0m7 0h0m6 0h0m144 0h0m1 0h0m1 0h0m1 0h0m1 0h0m9 0h0m-186 1h0m4 0h0m4 0h0m17 0h0m1 0h0m3 0h0m141 0h0m7 0h0m-181 1h0m31 0h0m4 0h0m141 0h0m-176 1h0m31 0h0m3 0h0m148 0h0m6 0h0m25 0h0m-204 1h0m18 0h0m1 0h0m146 0h0m5 0h0m2 0h0m4 0h0m18 0h0m0 0h0m-207 1h0m8 0h0m4 0h0m4 0h0m4 0h0m18 0h0m141 0h0m12 0h0m21 0h0m-208 1h0m24 0h0m5 0h0m3 0h0m0 0h0m2 0h0m0 0h0m141 0h0m1 0h0m4 0h0m1 0h0m1 0h0m17 0h0m-183 1h0m158 0h0m0 0h0m3 0h0m4 0h0m2 0h0m2 0h0m-185 1h0m24 0h0m8 0h0m1 0h0m1 0h0m141 0h0m2 0h0m1 0h0m0 0h0m0 0h0m4 0h0m3 0h0m3 0h0m2 0h0m9 0h0m-202 1h0m11 0h0m6 0h0m5 0h0m5 0h0m152 0h0m18 0h0m2 0h0m-200 1h0m12 0h0m12 0h0m3 0h0m8 0h0m2 0h0m143 0h0m23 0h0m3 0h0m2 0h0m-212 1h0m8 0h0m6 0h0m21 0h0m1 0h0m2 0h0m0 0h0m148 0h0m20 0h0m-181 1h0m5 0h0m3 0h0m4 0h0m1 0h0m1 0h0m1 0h0m143 0h0m1 0h0m3 0h0m1 0h0m11 0h0m-199 1h0m5 0h0m3 0h0m6 0h0m9 0h0m11 0h0m6 0h0m146 0h0m1 0h0m6 0h0m2 0h0m5 0h0m19 0h0m-208 1h0m1 0h0m21 0h0m1 0h0m150 0h0m1 0h0m0 0h0m3 0h0m6 0h0m-166 1h0m4 0h0m0 0h0m2 0h0m5 0h0m1 0h0m143 0h0m2 0h0m3 0h0m3 0h0m3 0h0m-194 1h0m30 0h0m153 0h0m5 0h0m4 0h0m10 0h0m7 0h0m-182 1h0m7 0h0m2 0h0m2 0h0m3 0h0m0 0h0m148 0h0m3 0h0m7 0h0m-178 1h0m12 0h0m3 0h0m3 0h0m1 0h0m151 0h0m4 0h0m15 0h0m-195 1h0m13 0h0m14 0h0m141 0h0m0 0h0m2 0h0m2 0h0m0 0h0m4 0h0m4 0h0m0 0h0m0 0h0m4 0h0m9 0h0m-208 1h0m4 0h0m13 0h0m2 0h0m13 0h0m11 0h0m140 0h0m1 0h0m2 0h0m-174 1h0m22 0h0m154 0h0m20 0h0m-171 1h0m0 0h0m164 0h0m-172 1h0m3 0h0m10 0h0m1 0h0m141 0h0m1 0h0m1 0h0m2 0h0m8 0h0m10 0h0m38 0h0m-244 1h0m12 0h0m10 0h0m17 0h0m2 0h0m143 0h0m0 0h0m3 0h0m2 0h0m12 0h0m10 0h0m-203 1h0m18 0h0m7 0h0m151 0h0m1 0h0m11 0h0m0 0h0m3 0h0m3 0h0m3 0h0m-207 1h0m25 0h0m12 0h0m4 0h0m146 0h0m1 0h0m-170 1h0m9 0h0m11 0h0m1 0h0m1 0h0m0 0h0m3 0h0m143 0h0m7 0h0m-184 1h0m9 0h0m8 0h0m17 0h0m3 0h0m2 0h0m138 0h0m2 0h0m1 0h0m1 0h0m0 0h0m0 0h0m5 0h0m6 0h0m14 0h0m-213 1h0m20 0h0m12 0h0m5 0h0m4 0h0m142 0h0m0 0h0m-163 1h0m21 0h0m2 0h0m0 0h0m142 0h0m31 0h0m4 0h0m-199 1h0m10 0h0m2 0h0m9 0h0m3 0h0m1 0h0m137 0h0m6 0h0m1 0h0m2 0h0m11 0h0m9 0h0m-204 1h0m16 0h0m0 0h0m12 0h0m10 0h0m1 0h0m0 0h0m135 0h0m1 0h0m12 0h0m19 0h0m2 0h0m4 0h0m-212 1h0m8 0h0m12 0h0m10 0h0m1 0h0m5 0h0m139 0h0m1 0h0m1 0h0m8 0h0m-192 1h0m18 0h0m9 0h0m4 0h0m6 0h0m0 0h0m148 0h0m14 0h0m8 0h0m1 0h0m7 0h0m14 0h0m-210 1h0m16 0h0m11 0h0m1 0h0m134 0h0m1 0h0m2 0h0m8 0h0m7 0h0m4 0h0m42 0h0m-248 1h0m2 0h0m16 0h0m27 0h0m139 0h0m1 0h0m4 0h0m-187 1h0m24 0h0m4 0h0m21 0h0m144 0h0m13 0h0m-175 1h0m8 0h0m3 0h0m6 0h0m135 0h0m4 0h0m0 0h0m32 0h0m-203 1h0m4 0h0m10 0h0m18 0h0m134 0h0m0 0h0m1 0h0m2 0h0m4 0h0m-152 1h0m4 0h0m4 0h0m1 0h0m2 0h0m0 0h0m1 0h0m134 0h0m2 0h0m15 0h0m1 0h0m9 0h0m28 0h0m-226 1h0m4 0h0m24 0h0m3 0h0m3 0h0m0 0h0m2 0h0m1 0h0m132 0h0m0 0h0m1 0h0m10 0h0m-180 1h0m28 0h0m7 0h0m1 0h0m1 0h0m153 0h0m-194 1h0m11 0h0m4 0h0m24 0h0m1 0h0m136 0h0m-180 1h0m26 0h0m2 0h0m7 0h0m3 0h0m7 0h0m1 0h0m129 0h0m3 0h0m10 0h0m3 0h0m15 0h0m-190 1h0m19 0h0m8 0h0m3 0h0m3 0h0m126 0h0m3 0h0m-176 1h0m8 0h0m6 0h0m27 0h0m3 0h0m0 0h0m2 0h0m127 0h0m1 0h0m0 0h0m0 0h0m9 0h0m4 0h0m1 0h0m7 0h0m-201 1h0m4 0h0m16 0h0m2 0h0m24 0h0m5 0h0m2 0h0m1 0h0m0 0h0m128 0h0m26 0h0m-208 1h0m3 0h0m1 0h0m11 0h0m8 0h0m22 0h0m7 0h0m2 0h0m0 0h0m1 0h0m131 0h0m3 0h0m3 0h0m0 0h0m19 0h0m18 0h0m-216 1h0m12 0h0m10 0h0m12 0h0m6 0h0m1 0h0m1 0h0m126 0h0m21 0h0m2 0h0m-188 1h0m29 0h0m1 0h0m5 0h0m2 0h0m1 0h0m126 0h0m4 0h0m4 0h0m4 0h0m-175 1h0m15 0h0m11 0h0m3 0h0m1 0h0m132 0h0m1 0h0m1 0h0m0 0h0m5 0h0m32 0h0m-194 1h0m8 0h0m0 0h0m18 0h0m1 0h0m2 0h0m126 0h0m2 0h0m0 0h0m0 0h0m31 0h0m8 0h0m8 0h0m-208 1h0m29 0h0m7 0h0m1 0h0m0 0h0m122 0h0m3 0h0m2 0h0m3 0h0m1 0h0m19 0h0m4 0h0m33 0h0m-241 1h0m1 0h0m8 0h0m20 0h0m12 0h0m4 0h0m2 0h0m1 0h0m6 0h0m1 0h0m121 0h0m2 0h0m4 0h0m1 0h0m0 0h0m4 0h0m21 0h0m-207 1h0m4 0h0m32 0h0m4 0h0m4 0h0m9 0h0m1 0h0m121 0h0m6 0h0m10 0h0m12 0h0m-207 1h0m59 0h0m0 0h0m119 0h0m8 0h0m2 0h0m10 0h0m5 0h0m-148 1h0m3 0h0m123 0h0m1 0h0m4 0h0m1 0h0m6 0h0m-183 1h0m14 0h0m12 0h0m20 0h0m4 0h0m0 0h0m120 0h0m4 0h0m6 0h0m8 0h0m15 0h0m1 0h0m20 0h0m-198 1h0m2 0h0m20 0h0m124 0h0m3 0h0m10 0h0m1 0h0m-188 1h0m4 0h0m13 0h0m18 0h0m0 0h0m3 0h0m7 0h0m5 0h0m1 0h0m3 0h0m131 0h0m1 0h0m0 0h0m-166 1h0m0 0h0m1 0h0m9 0h0m1 0h0m2 0h0m13 0h0m2 0h0m3 0h0m2 0h0m1 0h0m122 0h0m0 0h0m6 0h0m-154 1h0m5 0h0m15 0h0m0 0h0m7 0h0m117 0h0m7 0h0m2 0h0m1 0h0m50 0h0m-240 1h0m9 0h0m22 0h0m10 0h0m12 0h0m8 0h0m120 0h0m2 0h0m3 0h0m11 0h0m1 0h0m-178 1h0m17 0h0m7 0h0m0 0h0m17 0h0m1 0h0m1 0h0m2 0h0m117 0h0m2 0h0m0 0h0m44 0h0m-224 1h0m18 0h0m9 0h0m16 0h0m13 0h0m1 0h0m4 0h0m120 0h0m1 0h0m12 0h0m23 0h0m-173 1h0m5 0h0m2 0h0m2 0h0m0 0h0m1 0h0m4 0h0m0 0h0m1 0h0m3 0h0m114 0h0m1 0h0m1 0h0m2 0h0m3 0h0m0 0h0m4 0h0m5 0h0m-188 1h0m21 0h0m3 0h0m10 0h0m7 0h0m0 0h0m7 0h0m9 0h0m0 0h0m1 0h0m0 0h0m0 0h0m1 0h0m117 0h0m3 0h0m8 0h0m15 0h0m-163 1h0m11 0h0m8 0h0m114 0h0m6 0h0m10 0h0m1 0h0m8 0h0m2 0h0m7 0h0m-210 1h0m0 0h0m9 0h0m28 0h0m8 0h0m12 0h0m1 0h0m5 0h0m1 0h0m117 0h0m3 0h0m6 0h0m2 0h0m9 0h0m25 0h0m-212 1h0m21 0h0m6 0h0m1 0h0m0 0h0m5 0h0m1 0h0m7 0h0m0 0h0m125 0h0m4 0h0m-180 1h0m8 0h0m22 0h0m12 0h0m7 0h0m3 0h0m3 0h0m2 0h0m4 0h0m113 0h0m5 0h0m1 0h0m2 0h0m2 0h0m23 0h0m-215 1h0m7 0h0m5 0h0m0 0h0m9 0h0m11 0h0m15 0h0m12 0h0m2 0h0m6 0h0m3 0h0m110 0h0m1 0h0m1 0h0m1 0h0m2 0h0m20 0h0m4 0h0m19 0h0m13 0h0m-241 1h0m0 0h0m16 0h0m17 0h0m1 0h0m9 0h0m4 0h0m12 0h0m4 0h0m5 0h0m112 0h0m5 0h0m1 0h0m1 0h0m7 0h0m4 0h0m12 0h0m21 0h0m-188 1h0m11 0h0m10 0h0m3 0h0m112 0h0m1 0h0m0 0h0m13 0h0m7 0h0m33 0h0m-221 1h0m36 0h0m8 0h0m7 0h0m1 0h0m8 0h0m1 0h0m106 0h0m1 0h0m2 0h0m0 0h0m2 0h0m0 0h0m6 0h0m6 0h0m8 0h0m18 0h0m3 0h0m-225 1h0m5 0h0m7 0h0m24 0h0m12 0h0m7 0h0m1 0h0m13 0h0m1 0h0m2 0h0m1 0h0m106 0h0m2 0h0m8 0h0m4 0h0m4 0h0m1 0h0m3 0h0m11 0h0m18 0h0m-222 1h0m1 0h0m7 0h0m8 0h0m22 0h0m5 0h0m9 0h0m0 0h0m2 0h0m5 0h0m4 0h0m1 0h0m2 0h0m107 0h0m2 0h0m3 0h0m15 0h0m8 0h0m11 0h0m2 0h0m-218 1h0m7 0h0m9 0h0m8 0h0m13 0h0m11 0h0m10 0h0m9 0h0m2 0h0m1 0h0m1 0h0m104 0h0m0 0h0m7 0h0m5 0h0m7 0h0m20 0h0m-176 1h0m9 0h0m0 0h0m11 0h0m13 0h0m1 0h0m104 0h0m0 0h0m3 0h0m4 0h0m18 0h0m-201 1h0m8 0h0m8 0h0m16 0h0m7 0h0m14 0h0m11 0h0m2 0h0m1 0h0m3 0h0m105 0h0m13 0h0m3 0h0m38 0h0m-233 1h0m16 0h0m11 0h0m9 0h0m22 0h0m10 0h0m2 0h0m0 0h0m4 0h0m1 0h0m103 0h0m0 0h0m5 0h0m16 0h0m21 0h0m-204 1h0m13 0h0m18 0h0m16 0h0m4 0h0m11 0h0m118 0h0m19 0h0m-215 1h0m20 0h0m16 0h0m8 0h0m25 0h0m1 0h0m3 0h0m0 0h0m5 0h0m99 0h0m35 0h0m12 0h0m-216 1h0m32 0h0m4 0h0m5 0h0m20 0h0m7 0h0m101 0h0m3 0h0m2 0h0m1 0h0m0 0h0m2 0h0m9 0h0m15 0h0m1 0h0m-206 1h0m27 0h0m14 0h0m21 0h0m13 0h0m0 0h0m0 0h0m0 0h0m1 0h0m98 0h0m0 0h0m0 0h0m7 0h0m4 0h0m3 0h0m24 0h0m-208 1h0m14 0h0m2 0h0m12 0h0m14 0h0m11 0h0m13 0h0m4 0h0m2 0h0m98 0h0m1 0h0m6 0h0m7 0h0m11 0h0m3 0h0m20 0h0m-222 1h0m24 0h0m4 0h0m17 0h0m10 0h0m4 0h0m3 0h0m1 0h0m4 0h0m2 0h0m3 0h0m0 0h0m102 0h0m5 0h0m11 0h0m-170 1h0m4 0h0m33 0h0m7 0h0m3 0h0m3 0h0m2 0h0m2 0h0m0 0h0m2 0h0m0 0h0m0 0h0m1 0h0m0 0h0m97 0h0m1 0h0m0 0h0m4 0h0m4 0h0m2 0h0m18 0h0m7 0h0m-165 1h0m25 0h0m2 0h0m1 0h0m2 0h0m2 0h0m0 0h0m96 0h0m2 0h0m1 0h0m5 0h0m2 0h0m16 0h0m8 0h0m-191 1h0m8 0h0m8 0h0m10 0h0m1 0h0m11 0h0m8 0h0m1 0h0m0 0h0m2 0h0m4 0h0m7 0h0m1 0h0m1 0h0m96 0h0m0 0h0m1 0h0m3 0h0m5 0h0m40 0h0m-202 1h0m11 0h0m5 0h0m25 0h0m2 0h0m5 0h0m0 0h0m1 0h0m0 0h0m2 0h0m1 0h0m2 0h0m2 0h0m96 0h0m3 0h0m13 0h0m-169 1h0m18 0h0m18 0h0m6 0h0m7 0h0m4 0h0m0 0h0m0 0h0m1 0h0m3 0h0m1 0h0m1 0h0m0 0h0m95 0h0m1 0h0m8 0h0m11 0h0m-194 1h0m4 0h0m14 0h0m3 0h0m27 0h0m22 0h0m8 0h0m1 0h0m2 0h0m94 0h0m7 0h0m16 0h0m-202 1h0m10 0h0m55 0h0m7 0h0m1 0h0m11 0h0m2 0h0m93 0h0m2 0h0m0 0h0m6 0h0m16 0h0m31 0h0m-218 1h0m12 0h0m22 0h0m17 0h0m4 0h0m9 0h0m5 0h0m1 0h0m96 0h0m8 0h0m4 0h0m15 0h0m3 0h0m-208 1h0m30 0h0m30 0h0m18 0h0m2 0h0m1 0h0m1 0h0m92 0h0m5 0h0m5 0h0m1 0h0m1 0h0m4 0h0m-162 1h0m10 0h0m17 0h0m4 0h0m12 0h0m7 0h0m1 0h0m0 0h0m2 0h0m3 0h0m89 0h0m0 0h0m5 0h0m14 0h0m-150 1h0m4 0h0m20 0h0m4 0h0m2 0h0m4 0h0m2 0h0m5 0h0m87 0h0m2 0h0m0 0h0m2 0h0m31 0h0m6 0h0m-183 1h0m34 0h0m6 0h0m13 0h0m1 0h0m0 0h0m1 0h0m1 0h0m1 0h0m86 0h0m3 0h0m8 0h0m18 0h0m8 0h0m33 0h0m-233 1h0m47 0h0m11 0h0m7 0h0m6 0h0m4 0h0m1 0h0m0 0h0m1 0h0m30 0h0m1 0h0m2 0h0m2 0h0m56 0h0m3 0h0m1 0h0m13 0h0m-189 1h0m20 0h0m17 0h0m9 0h0m14 0h0m10 0h0m3 0h0m1 0h0m5 0h0m2 0h0m28 0h0m4 0h0m52 0h0m12 0h0m9 0h0m7 0h0m33 0h0m2 0h0m-224 1h0m9 0h0m3 0h0m39 0h0m14 0h0m2 0h0m5 0h0m0 0h0m1 0h0m0 0h0m0 0h0m0 0h0m1 0h0m2 0h0m2 0h0m1 0h0m34 0h0m1 0h0m1 0h0m0 0h0m45 0h0m0 0h0m1 0h0m1 0h0m1 0h0m0 0h0m0 0h0m0 0h0m4 0h0m1 0h0m4 0h0m11 0h0m-163 1h0m22 0h0m16 0h0m5 0h0m9 0h0m5 0h0m3 0h0m22 0h0m0 0h0m12 0h0m52 0h0m43 0h0m-148 1h0m10 0h0m0 0h0m11 0h0m17 0h0m1 0h0m4 0h0m4 0h0m8 0h0m3 0h0m2 0h0m0 0h0m37 0h0m1 0h0m2 0h0m1 0h0m2 0h0m1 0h0m3 0h0m2 0h0m0 0h0m0 0h0m1 0h0m4 0h0m22 0h0m7 0h0m-158 1h0m15 0h0m5 0h0m4 0h0m5 0h0m1 0h0m1 0h0m1 0h0m22 0h0m4 0h0m8 0h0m3 0h0m2 0h0m42 0h0m1 0h0m4 0h0m1 0h0m1 0h0m4 0h0m0 0h0m22 0h0m28 0h0m-216 1h0m3 0h0m17 0h0m41 0h0m8 0h0m6 0h0m1 0h0m19 0h0m0 0h0m2 0h0m2 0h0m1 0h0m2 0h0m0 0h0m2 0h0m5 0h0m0 0h0m0 0h0m4 0h0m3 0h0m4 0h0m33 0h0m0 0h0m2 0h0m1 0h0m0 0h0m2 0h0m2 0h0m14 0h0m3 0h0m-181 1h0m4 0h0m42 0h0m25 0h0m3 0h0m3 0h0m0 0h0m2 0h0m2 0h0m1 0h0m13 0h0m1 0h0m3 0h0m2 0h0m0 0h0m1 0h0m11 0h0m2 0h0m0 0h0m1 0h0m1 0h0m5 0h0m2 0h0m33 0h0m1 0h0m0 0h0m1 0h0m2 0h0m3 0h0m1 0h0m5 0h0m10 0h0m49 0h0m-236 1h0m11 0h0m55 0h0m14 0h0m8 0h0m3 0h0m11 0h0m7 0h0m4 0h0m5 0h0m8 0h0m3 0h0m3 0h0m3 0h0m5 0h0m22 0h0m2 0h0m8 0h0m0 0h0m12 0h0m5 0h0m2 0h0m19 0h0m11 0h0m-214 1h0m45 0h0m14 0h0m3 0h0m15 0h0m3 0h0m0 0h0m0 0h0m1 0h0m5 0h0m0 0h0m7 0h0m5 0h0m1 0h0m4 0h0m1 0h0m16 0h0m9 0h0m0 0h0m4 0h0m1 0h0m1 0h0m17 0h0m5 0h0m8 0h0m11 0h0m20 0h0m-208 1h0m8 0h0m12 0h0m22 0h0m27 0h0m4 0h0m8 0h0m8 0h0m2 0h0m5 0h0m0 0h0m1 0h0m1 0h0m0 0h0m1 0h0m10 0h0m1 0h0m1 0h0m1 0h0m5 0h0m2 0h0m8 0h0m11 0h0m1 0h0m2 0h0m1 0h0m0 0h0m3 0h0m2 0h0m5 0h0m5 0h0m1 0h0m1 0h0m0 0h0m4 0h0m8 0h0m1 0h0m1 0h0m10 0h0m-132 1h0m18 0h0m2 0h0m17 0h0m6 0h0m4 0h0m6 0h0m3 0h0m3 0h0m0 0h0m0 0h0m4 0h0m4 0h0m4 0h0m0 0h0m3 0h0m9 0h0m0 0h0m4 0h0m0 0h0m5 0h0m2 0h0m1 0h0m1 0h0m0 0h0m2 0h0m4 0h0m1 0h0m1 0h0m3 0h0m5 0h0m0 0h0m1 0h0m2 0h0m10 0h0m3 0h0m4 0h0m2 0h0m6 0h0m36 0h0m-210 1h0m33 0h0m9 0h0m6 0h0m14 0h0m6 0h0m3 0h0m4 0h0m2 0h0m2 0h0m5 0h0m3 0h0m1 0h0m2 0h0m1 0h0m2 0h0m3 0h0m19 0h0m4 0h0m1 0h0m10 0h0m6 0h0m3 0h0m3 0h0m1 0h0m1 0h0m6 0h0m0 0h0m4 0h0m1 0h0m1 0h0m4 0h0m18 0h0m4 0h0m9 0h0m-164 1h0m31 0h0m7 0h0m2 0h0m0 0h0m3 0h0m4 0h0m9 0h0m0 0h0m6 0h0m1 0h0m3 0h0m5 0h0m8 0h0m0 0h0m0 0h0m8 0h0m9 0h0m1 0h0m1 0h0m3 0h0m0 0h0m4 0h0m1 0h0m3 0h0m5 0h0m1 0h0m4 0h0m5 0h0m1 0h0m10 0h0m26 0h0m25 0h0m4 0h0m-158 1h0m15 0h0m3 0h0m1 0h0m4 0h0m2 0h0m0 0h0m7 0h0m2 0h0m4 0h0m3 0h0m0 0h0m9 0h0m6 0h0m6 0h0m5 0h0m5 0h0m2 0h0m1 0h0m6 0h0m4 0h0m6 0h0m8 0h0m10 0h0m3 0h0m-168 1h0m47 0h0m0 0h0m9 0h0m8 0h0m1 0h0m1 0h0m7 0h0m1 0h0m4 0h0m4 0h0m2 0h0m6 0h0m15 0h0m7 0h0m1 0h0m2 0h0m2 0h0m3 0h0m3 0h0m1 0h0m2 0h0m4 0h0m2 0h0m1 0h0m9 0h0m0 0h0m4 0h0m1 0h0m7 0h0m5 0h0m-136 1h0m39 0h0m10 0h0m7 0h0m4 0h0m1 0h0m4 0h0m15 0h0m6 0h0m1 0h0m8 0h0m6 0h0m14 0h0m4 0h0m7 0h0m9 0h0m-156 1h0m38 0h0m20 0h0m13 0h0m10 0h0m2 0h0m2 0h0m1 0h0m1 0h0m5 0h0m12 0h0m3 0h0m6 0h0m8 0h0m5 0h0m6 0h0m3 0h0m7 0h0m16 0h0m8 0h0m14 0h0m3 0h0m3 0h0m-158 1h0m6 0h0m6 0h0m10 0h0m4 0h0m16 0h0m8 0h0m3 0h0m3 0h0m12 0h0m3 0h0m12 0h0m0 0h0m1 0h0m7 0h0m0 0h0m1 0h0m5 0h0m6 0h0m6 0h0m5 0h0m4 0h0m2 0h0m4 0h0m2 0h0m4 0h0m1 0h0" stroke="#6a00d8" stroke-width="1.45" stroke-linecap="square"/><polygon points="829.1,51.4 838.3,47.8 849.3,49.6 862.1,52.4 869.4,56.9 872.2,62.4 874.9,66.1 880.4,73.4 885.9,84.4 891.4,97.3 895.1,108.2 900.6,119.2 901.5,130.2 896.9,139.4 898.7,152.2 898.7,166.9 895.1,181.5 893.2,194.4 895.1,207.2 893.2,221.8 891.4,232.8 887.8,240.2 878.6,247.5 867.6,247.5 856.6,245.7 845.6,240.2 834.6,236.5 827.3,242.0 819.9,247.5 812.6,245.7 805.3,236.5 798.0,225.5 790.6,214.5 783.3,205.4 776.0,194.4 768.6,181.5 761.3,165.0 757.6,152.2 758.6,141.2 765.0,132.1 774.1,121.1 787.0,102.7 798.0,88.1 812.6,67.9 823.6,56.9" fill="#6a00d8" stroke="#6a00d8" stroke-width="1.5" stroke-linejoin="round"/><polygon points="830.0,54.2 849.3,52.4 863.9,56.0 869.4,62.4 872.2,67.9 880.4,75.3 883.2,84.4 885.9,97.3 888.7,108.2 889.6,115.6 884.1,122.9 874.9,130.2 872.2,137.6 872.2,159.5 860.3,166.9 862.1,177.9 854.8,185.2 841.9,196.2 827.3,207.2 821.8,225.5 812.6,232.8 801.6,231.0 794.3,218.2 788.8,203.5 779.6,192.5 770.5,177.9 763.1,163.2 760.4,148.6 763.1,141.2 770.5,132.1 783.3,115.6 796.1,99.1 810.8,78.9 821.8,64.3" fill="url(#g_bL)"/><ellipse cx="880.4" cy="143.4" rx="5.9" ry="2.4" fill="#e6ddf2" transform="rotate(-35 880.4 143.4)"/><ellipse cx="841.9" cy="216.3" rx="9.2" ry="7.3" fill="#fff" transform="rotate(0 841.9 216.3)"/><ellipse cx="863.9" cy="212.7" rx="7.3" ry="7.3" fill="#e6ddf2" transform="rotate(0 863.9 212.7)"/><ellipse cx="878.6" cy="205.4" rx="3.7" ry="9.2" fill="#e6ddf2" transform="rotate(0 878.6 205.4)"/><ellipse cx="872.2" cy="241.1" rx="6.4" ry="4.6" fill="#fff" transform="rotate(0 872.2 241.1)"/><ellipse cx="819.9" cy="128.4" rx="22.9" ry="41.2" transform="rotate(8 819.9 128.4)" fill="url(#gr_bL)" stroke="#fff" stroke-width="1.5"/><ellipse cx="820.9" cy="127.5" rx="15.6" ry="29.3" transform="rotate(8 820.9 127.5)" fill="url(#gr_bL)" stroke="#fff" stroke-width="1.5"/><ellipse cx="820.9" cy="126.6" rx="9.2" ry="19.2" transform="rotate(8 820.9 126.6)" fill="url(#gr_bL)" stroke="#fff" stroke-width="1.5"/></g><line x1="872.2" y1="20.3" x2="872.2" y2="258.3" stroke="#000" stroke-width="2"/><rect x="711" y="21.3" width="254" height="236" fill="none" stroke="#000" stroke-width="2.1"/><text x="721.2" y="39.5" font-size="19.8" font-weight="normal" fill="#000" text-anchor="start"  textLength="72.5" lengthAdjust="spacingAndGlyphs">Single +</text><text x="952.4" y="39.5" font-size="19.3" font-weight="normal" fill="#000" text-anchor="end" >Dual++</text><g clip-path="url(#clip_bR)"><path d="M1147.5 25.5h0m42 0h0m-33 1h0m3 0h0m5 1h0m16 1h0m-66 1h0m62 0h0m-115 1h0m60 0h0m29 0h0m13 0h0m2 0h0m-74 1h0m16 0h0m42 0h0m41 0h0m-76 1h0m20 0h0m16 0h0m2 0h0m13 0h0m2 0h0m-56 1h0m27 0h0m33 0h0m-72 1h0m24 0h0m1 0h0m15 0h0m14 0h0m10 0h0m15 0h0m-63 1h0m18 0h0m23 0h0m33 0h0m-82 1h0m76 0h0m-88 1h0m10 0h0m14 0h0m14 0h0m54 0h0m-99 1h0m39 0h0m2 0h0m10 0h0m7 0h0m13 0h0m-59 1h0m26 0h0m8 0h0m6 0h0m5 0h0m30 0h0m-170 1h0m91 0h0m3 0h0m9 0h0m3 0h0m2 0h0m6 0h0m19 0h0m7 0h0m12 0h0m-62 1h0m13 0h0m11 0h0m67 0h0m-102 1h0m10 0h0m6 0h0m3 0h0m2 0h0m5 0h0m2 0h0m7 0h0m16 0h0m3 0h0m4 0h0m8 0h0m7 0h0m13 0h0m-90 1h0m15 0h0m8 0h0m2 0h0m4 0h0m2 0h0m1 0h0m1 0h0m2 0h0m1 0h0m9 0h0m3 0h0m12 0h0m1 0h0m7 0h0m0 0h0m1 0h0m-72 1h0m17 0h0m5 0h0m7 0h0m14 0h0m2 0h0m8 0h0m19 0h0m16 0h0m10 0h0m-92 1h0m7 0h0m32 0h0m1 0h0m4 0h0m5 0h0m13 0h0m1 0h0m3 0h0m0 0h0m15 0h0m0 0h0m-89 1h0m7 0h0m13 0h0m30 0h0m1 0h0m2 0h0m9 0h0m10 0h0m0 0h0m5 0h0m4 0h0m18 0h0m12 0h0m-155 1h0m10 0h0m48 0h0m7 0h0m31 0h0m4 0h0m12 0h0m11 0h0m1 0h0m5 0h0m14 0h0m-86 1h0m2 0h0m1 0h0m1 0h0m2 0h0m36 0h0m12 0h0m15 0h0m-69 1h0m7 0h0m40 0h0m0 0h0m12 0h0m19 0h0m-91 1h0m5 0h0m3 0h0m2 0h0m3 0h0m2 0h0m50 0h0m10 0h0m21 0h0m-101 1h0m9 0h0m4 0h0m5 0h0m1 0h0m45 0h0m2 0h0m5 0h0m2 0h0m-110 1h0m50 0h0m1 0h0m6 0h0m48 0h0m26 0h0m13 0h0m-92 1h0m2 0h0m51 0h0m1 0h0m17 0h0m7 0h0m22 0h0m-166 1h0m46 0h0m9 0h0m7 0h0m3 0h0m1 0h0m50 0h0m1 0h0m1 0h0m1 0h0m2 0h0m9 0h0m16 0h0m-111 1h0m84 0h0m1 0h0m6 0h0m4 0h0m0 0h0m8 0h0m1 0h0m17 0h0m-101 1h0m11 0h0m53 0h0m10 0h0m3 0h0m5 0h0m-105 1h0m22 0h0m0 0h0m7 0h0m59 0h0m1 0h0m0 0h0m4 0h0m2 0h0m7 0h0m-93 1h0m19 0h0m2 0h0m1 0h0m63 0h0m30 0h0m-123 1h0m23 0h0m68 0h0m2 0h0m1 0h0m1 0h0m1 0h0m0 0h0m2 0h0m3 0h0m8 0h0m9 0h0m-119 1h0m24 0h0m5 0h0m71 0h0m6 0h0m1 0h0m22 0h0m1 0h0m-104 1h0m70 0h0m3 0h0m1 0h0m7 0h0m18 0h0m3 0h0m-108 1h0m74 0h0m60 0h0m-127 1h0m74 0h0m2 0h0m11 0h0m6 0h0m5 0h0m-107 1h0m5 0h0m75 0h0m1 0h0m1 0h0m1 0h0m10 0h0m0 0h0m2 0h0m7 0h0m7 0h0m-117 1h0m6 0h0m6 0h0m2 0h0m74 0h0m0 0h0m1 0h0m0 0h0m1 0h0m2 0h0m1 0h0m-83 1h0m77 0h0m1 0h0m4 0h0m4 0h0m23 0h0m-110 1h0m-16 1h0m15 0h0m2 0h0m3 0h0m74 0h0m2 0h0m2 0h0m-101 1h0m1 0h0m17 0h0m80 0h0m5 0h0m9 0h0m26 0h0m-130 1h0m92 0h0m2 0h0m8 0h0m1 0h0m65 0h0m-157 1h0m80 0h0m1 0h0m-101 1h0m5 0h0m6 0h0m92 0h0m5 0h0m7 0h0m5 0h0m-105 1h0m2 0h0m1 0h0m1 0h0m81 0h0m4 0h0m1 0h0m1 0h0m15 0h0m9 0h0m-136 1h0m20 0h0m1 0h0m1 0h0m1 0h0m83 0h0m2 0h0m11 0h0m2 0h0m0 0h0m0 0h0m2 0h0m-105 1h0m0 0h0m2 0h0m0 0h0m91 0h0m7 0h0m1 0h0m14 0h0m-198 1h0m68 0h0m9 0h0m9 0h0m88 0h0m6 0h0m7 0h0m14 0h0m-122 1h0m2 0h0m90 0h0m1 0h0m11 0h0m-11 1h0m3 0h0m8 0h0m3 0h0m14 0h0m-121 1h0m1 0h0m93 0h0m2 0h0m1 0h0m4 0h0m2 0h0m1 0h0m2 0h0m1 0h0m12 0h0m-138 1h0m10 0h0m12 0h0m91 0h0m10 0h0m25 0h0m25 0h0m-154 1h0m3 0h0m91 0h0m0 0h0m5 0h0m-104 1h0m108 0h0m13 0h0m-136 1h0m4 0h0m2 0h0m12 0h0m1 0h0m99 0h0m27 0h0m-136 1h0m6 0h0m5 0h0m93 0h0m1 0h0m0 0h0m1 0h0m4 0h0m1 0h0m11 0h0m-124 1h0m4 0h0m6 0h0m1 0h0m0 0h0m0 0h0m98 0h0m-108 1h0m2 0h0m1 0h0m2 0h0m0 0h0m101 0h0m3 0h0m9 0h0m6 0h0m3 0h0m-135 1h0m6 0h0m8 0h0m126 0h0m-137 1h0m5 0h0m107 0h0m8 0h0m5 0h0m16 0h0m-139 1h0m4 0h0m107 0h0m3 0h0m4 0h0m1 0h0m-118 1h0m2 0h0m113 0h0m2 0h0m5 0h0m-14 1h0m2 0h0m0 0h0m0 0h0m5 0h0m0 0h0m9 0h0m-134 1h0m8 0h0m4 0h0m1 0h0m0 0h0m107 0h0m5 0h0m2 0h0m0 0h0m1 0h0m-116 1h0m1 0h0m105 0h0m14 0h0m16 0h0m-147 1h0m6 0h0m121 0h0m1 0h0m1 0h0m-134 1h0m10 0h0m4 0h0m108 0h0m11 0h0m7 0h0m19 0h0m-151 1h0m0 0h0m5 0h0m109 0h0m3 0h0m1 0h0m3 0h0m13 0h0m2 0h0m10 0h0m5 0h0m-153 1h0m1 0h0m1 0h0m0 0h0m113 0h0m3 0h0m1 0h0m5 0h0m4 0h0m-132 1h0m4 0h0m4 0h0m1 0h0m111 0h0m0 0h0m5 0h0m22 0h0m-140 1h0m119 0h0m11 0h0m-189 1h0m12 0h0m42 0h0m117 0h0m1 0h0m0 0h0m9 0h0m24 0h0m-151 1h0m4 0h0m116 0h0m0 0h0m1 0h0m1 0h0m6 0h0m-140 1h0m10 0h0m2 0h0m119 0h0m1 0h0m0 0h0m0 0h0m2 0h0m6 0h0m2 0h0m8 0h0m12 0h0m-197 1h0m18 0h0m29 0h0m119 0h0m2 0h0m1 0h0m10 0h0m8 0h0m-183 1h0m8 0h0m17 0h0m12 0h0m7 0h0m119 0h0m0 0h0m1 0h0m12 0h0m14 0h0m-181 1h0m11 0h0m13 0h0m5 0h0m2 0h0m1 0h0m124 0h0m5 0h0m22 0h0m8 0h0m-38 1h0m1 0h0m0 0h0m3 0h0m5 0h0m-175 1h0m13 0h0m11 0h0m15 0h0m2 0h0m1 0h0m0 0h0m1 0h0m0 0h0m123 0h0m2 0h0m0 0h0m33 0h0m1 0h0m-170 1h0m6 0h0m3 0h0m-41 1h0m21 0h0m7 0h0m13 0h0m-22 1h0m20 0h0m2 0h0m0 0h0m125 0h0m19 0h0m11 0h0m-200 1h0m16 0h0m17 0h0m3 0h0m136 0h0m12 0h0m8 0h0m-192 1h0m42 0h0m130 0h0m31 0h0m-193 1h0m163 0h0m0 0h0m0 0h0m1 0h0m1 0h0m-149 1h0m11 0h0m2 0h0m1 0h0m133 0h0m5 0h0m19 0h0m-165 1h0m4 0h0m2 0h0m134 0h0m2 0h0m2 0h0m0 0h0m5 0h0m0 0h0m14 0h0m-195 1h0m24 0h0m11 0h0m1 0h0m141 0h0m6 0h0m12 0h0m5 0h0m-188 1h0m20 0h0m1 0h0m3 0h0m137 0h0m3 0h0m3 0h0m-152 1h0m8 0h0m141 0h0m7 0h0m23 0h0m-183 1h0m151 0h0m1 0h0m0 0h0m4 0h0m0 0h0m0 0h0m24 0h0m-195 1h0m8 0h0m8 0h0m1 0h0m153 0h0m8 0h0m-182 1h0m8 0h0m21 0h0m142 0h0m-167 1h0m16 0h0m6 0h0m3 0h0m143 0h0m3 0h0m7 0h0m2 0h0m12 0h0m-171 1h0m1 0h0m2 0h0m1 0h0m144 0h0m1 0h0m9 0h0m21 0h0m-208 1h0m22 0h0m3 0h0m2 0h0m0 0h0m150 0h0m0 0h0m3 0h0m8 0h0m5 0h0m5 0h0m-173 1h0m1 0h0m1 0h0m1 0h0m3 0h0m147 0h0m6 0h0m1 0h0m7 0h0m1 0h0m21 0h0m-190 1h0m155 0h0m3 0h0m20 0h0m15 0h0m-209 1h0m4 0h0m5 0h0m3 0h0m5 0h0m154 0h0m2 0h0m5 0h0m1 0h0m2 0h0m4 0h0m-181 1h0m4 0h0m0 0h0m12 0h0m161 0h0m5 0h0m26 0h0m-226 1h0m2 0h0m4 0h0m16 0h0m0 0h0m10 0h0m2 0h0m0 0h0m154 0h0m1 0h0m3 0h0m2 0h0m0 0h0m1 0h0m19 0h0m-196 1h0m8 0h0m3 0h0m3 0h0m2 0h0m0 0h0m156 0h0m9 0h0m1 0h0m24 0h0m-214 1h0m4 0h0m14 0h0m6 0h0m159 0h0m16 0h0m1 0h0m-192 1h0m4 0h0m0 0h0m2 0h0m0 0h0m8 0h0m0 0h0m1 0h0m2 0h0m157 0h0m2 0h0m10 0h0m13 0h0m3 0h0m-188 1h0m2 0h0m1 0h0m0 0h0m156 0h0m2 0h0m3 0h0m-180 1h0m6 0h0m8 0h0m2 0h0m2 0h0m161 0h0m3 0h0m0 0h0m2 0h0m-169 1h0m1 0h0m3 0h0m155 0h0m1 0h0m4 0h0m1 0h0m6 0h0m8 0h0m19 0h0m-205 1h0m2 0h0m3 0h0m162 0h0m2 0h0m4 0h0m16 0h0m7 0h0m-193 1h0m3 0h0m3 0h0m157 0h0m4 0h0m4 0h0m9 0h0m-183 1h0m169 0h0m2 0h0m-182 1h0m5 0h0m1 0h0m3 0h0m6 0h0m4 0h0m2 0h0m0 0h0m1 0h0m155 0h0m0 0h0m1 0h0m3 0h0m30 0h0m-213 1h0m13 0h0m4 0h0m0 0h0m5 0h0m1 0h0m154 0h0m7 0h0m0 0h0m-189 1h0m4 0h0m8 0h0m13 0h0m0 0h0m4 0h0m152 0h0m1 0h0m1 0h0m2 0h0m2 0h0m2 0h0m3 0h0m0 0h0m17 0h0m7 0h0m-210 1h0m2 0h0m9 0h0m6 0h0m6 0h0m157 0h0m-182 1h0m0 0h0m8 0h0m9 0h0m3 0h0m155 0h0m1 0h0m7 0h0m1 0h0m10 0h0m7 0h0m-26 1h0m2 0h0m0 0h0m1 0h0m1 0h0m8 0h0m5 0h0m-203 1h0m4 0h0m25 0h0m2 0h0m3 0h0m2 0h0m150 0h0m6 0h0m11 0h0m11 0h0m-213 1h0m15 0h0m16 0h0m3 0h0m0 0h0m148 0h0m7 0h0m3 0h0m17 0h0m-203 1h0m4 0h0m20 0h0m1 0h0m2 0h0m160 0h0m3 0h0m10 0h0m-187 1h0m13 0h0m3 0h0m149 0h0m5 0h0m-184 1h0m1 0h0m8 0h0m12 0h0m7 0h0m2 0h0m158 0h0m-177 1h0m10 0h0m0 0h0m9 0h0m147 0h0m0 0h0m4 0h0m0 0h0m2 0h0m-186 1h0m13 0h0m16 0h0m3 0h0m155 0h0m15 0h0m0 0h0m-198 1h0m5 0h0m7 0h0m19 0h0m147 0h0m6 0h0m13 0h0m-197 1h0m12 0h0m0 0h0m3 0h0m7 0h0m10 0h0m143 0h0m1 0h0m0 0h0m14 0h0m8 0h0m5 0h0m6 0h0m-195 1h0m3 0h0m11 0h0m4 0h0m-12 1h0m3 0h0m153 0h0m1 0h0m1 0h0m53 0h0m-223 1h0m15 0h0m5 0h0m152 0h0m3 0h0m0 0h0m4 0h0m2 0h0m0 0h0m1 0h0m-166 1h0m6 0h0m3 0h0m0 0h0m0 0h0m150 0h0m4 0h0m33 0h0m7 0h0m-219 1h0m13 0h0m2 0h0m1 0h0m151 0h0m1 0h0m0 0h0m3 0h0m2 0h0m5 0h0m11 0h0m1 0h0m-182 1h0m9 0h0m9 0h0m149 0h0m3 0h0m-159 1h0m4 0h0m143 0h0m5 0h0m1 0h0m3 0h0m1 0h0m6 0h0m2 0h0m-180 1h0m19 0h0m1 0h0m0 0h0m147 0h0m1 0h0m11 0h0m9 0h0m-204 1h0m4 0h0m0 0h0m4 0h0m12 0h0m1 0h0m4 0h0m6 0h0m3 0h0m2 0h0m1 0h0m6 0h0m151 0h0m-170 1h0m4 0h0m7 0h0m3 0h0m0 0h0m2 0h0m137 0h0m4 0h0m7 0h0m13 0h0m-188 1h0m4 0h0m6 0h0m20 0h0m135 0h0m1 0h0m1 0h0m2 0h0m31 0h0m-209 1h0m25 0h0m3 0h0m6 0h0m0 0h0m2 0h0m2 0h0m2 0h0m142 0h0m28 0h0m-202 1h0m0 0h0m1 0h0m7 0h0m14 0h0m4 0h0m138 0h0m1 0h0m7 0h0m9 0h0m32 0h0m-225 1h0m40 0h0m136 0h0m7 0h0m11 0h0m-172 1h0m8 0h0m2 0h0m0 0h0m0 0h0m6 0h0m7 0h0m0 0h0m2 0h0m1 0h0m129 0h0m14 0h0m39 0h0m0 0h0m-217 1h0m13 0h0m11 0h0m4 0h0m1 0h0m2 0h0m5 0h0m1 0h0m127 0h0m8 0h0m3 0h0m14 0h0m-169 1h0m3 0h0m2 0h0m0 0h0m12 0h0m128 0h0m4 0h0m1 0h0m7 0h0m2 0h0m-179 1h0m22 0h0m7 0h0m8 0h0m130 0h0m2 0h0m16 0h0m2 0h0m3 0h0m7 0h0m18 0h0m-212 1h0m0 0h0m4 0h0m2 0h0m3 0h0m23 0h0m128 0h0m1 0h0m3 0h0m2 0h0m35 0h0m-183 1h0m3 0h0m13 0h0m2 0h0m0 0h0m126 0h0m2 0h0m11 0h0m27 0h0m-213 1h0m43 0h0m1 0h0m127 0h0m2 0h0m0 0h0m3 0h0m14 0h0m0 0h0m-187 1h0m13 0h0m3 0h0m9 0h0m23 0h0m120 0h0m1 0h0m2 0h0m5 0h0m4 0h0m16 0h0m-188 1h0m9 0h0m5 0h0m14 0h0m9 0h0m1 0h0m1 0h0m2 0h0m120 0h0m9 0h0m5 0h0m0 0h0m0 0h0m17 0h0m2 0h0m4 0h0m-209 1h0m7 0h0m8 0h0m8 0h0m3 0h0m5 0h0m18 0h0m2 0h0m122 0h0m2 0h0m3 0h0m10 0h0m14 0h0m-170 1h0m2 0h0m3 0h0m4 0h0m4 0h0m8 0h0m2 0h0m119 0h0m1 0h0m3 0h0m4 0h0m2 0h0m7 0h0m-180 1h0m17 0h0m14 0h0m2 0h0m1 0h0m1 0h0m11 0h0m115 0h0m4 0h0m5 0h0m20 0h0m23 0h0m-230 1h0m7 0h0m5 0h0m9 0h0m16 0h0m21 0h0m1 0h0m121 0h0m1 0h0m1 0h0m3 0h0m4 0h0m3 0h0m1 0h0m19 0h0m-211 1h0m20 0h0m6 0h0m10 0h0m1 0h0m3 0h0m19 0h0m0 0h0m0 0h0m1 0h0m3 0h0m117 0h0m1 0h0m2 0h0m4 0h0m-187 1h0m27 0h0m10 0h0m1 0h0m23 0h0m2 0h0m1 0h0m113 0h0m3 0h0m-172 1h0m11 0h0m10 0h0m13 0h0m1 0h0m3 0h0m2 0h0m8 0h0m7 0h0m118 0h0m0 0h0m1 0h0m3 0h0m12 0h0m7 0h0m1 0h0m35 0h0m-240 1h0m32 0h0m12 0h0m5 0h0m16 0h0m3 0h0m109 0h0m0 0h0m1 0h0m7 0h0m-177 1h0m1 0h0m25 0h0m23 0h0m1 0h0m10 0h0m108 0h0m0 0h0m2 0h0m1 0h0m2 0h0m-181 1h0m28 0h0m4 0h0m36 0h0m111 0h0m41 0h0m-208 1h0m0 0h0m24 0h0m11 0h0m2 0h0m13 0h0m2 0h0m1 0h0m4 0h0m1 0h0m1 0h0m108 0h0m2 0h0m2 0h0m1 0h0m10 0h0m1 0h0m4 0h0m-199 1h0m20 0h0m0 0h0m7 0h0m3 0h0m30 0h0m10 0h0m162 0h0m-232 1h0m25 0h0m0 0h0m3 0h0m8 0h0m12 0h0m13 0h0m1 0h0m6 0h0m1 0h0m1 0h0m106 0h0m1 0h0m0 0h0m1 0h0m2 0h0m2 0h0m1 0h0m4 0h0m2 0h0m10 0h0m15 0h0m25 0h0m-191 1h0m2 0h0m1 0h0m15 0h0m120 0h0m6 0h0m5 0h0m-193 1h0m16 0h0m27 0h0m20 0h0m3 0h0m0 0h0m3 0h0m0 0h0m104 0h0m2 0h0m1 0h0m0 0h0m0 0h0m1 0h0m37 0h0m-206 1h0m11 0h0m5 0h0m13 0h0m5 0h0m0 0h0m3 0h0m7 0h0m14 0h0m106 0h0m2 0h0m0 0h0m24 0h0m-194 1h0m4 0h0m13 0h0m3 0h0m8 0h0m12 0h0m2 0h0m3 0h0m2 0h0m0 0h0m1 0h0m18 0h0m0 0h0m0 0h0m135 0h0m-197 1h0m30 0h0m15 0h0m11 0h0m5 0h0m1 0h0m1 0h0m103 0h0m1 0h0m3 0h0m3 0h0m17 0h0m3 0h0m-185 1h0m13 0h0m26 0h0m1 0h0m4 0h0m6 0h0m4 0h0m102 0h0m2 0h0m19 0h0m10 0h0m4 0h0m34 0h0m-241 1h0m14 0h0m2 0h0m7 0h0m9 0h0m2 0h0m1 0h0m12 0h0m5 0h0m7 0h0m6 0h0m3 0h0m1 0h0m3 0h0m111 0h0m0 0h0m19 0h0m1 0h0m-199 1h0m4 0h0m4 0h0m38 0h0m12 0h0m3 0h0m5 0h0m102 0h0m2 0h0m4 0h0m9 0h0m26 0h0m-209 1h0m41 0h0m2 0h0m8 0h0m7 0h0m0 0h0m3 0h0m2 0h0m3 0h0m0 0h0m0 0h0m3 0h0m1 0h0m101 0h0m1 0h0m3 0h0m4 0h0m6 0h0m2 0h0m-156 1h0m4 0h0m15 0h0m3 0h0m5 0h0m9 0h0m0 0h0m103 0h0m6 0h0m1 0h0m-185 1h0m13 0h0m11 0h0m36 0h0m9 0h0m4 0h0m4 0h0m0 0h0m1 0h0m99 0h0m2 0h0m1 0h0m3 0h0m1 0h0m0 0h0m3 0h0m5 0h0m9 0h0m-177 1h0m8 0h0m1 0h0m39 0h0m1 0h0m0 0h0m6 0h0m97 0h0m1 0h0m2 0h0m3 0h0m23 0h0m-207 1h0m6 0h0m7 0h0m43 0h0m0 0h0m10 0h0m7 0h0m0 0h0m3 0h0m4 0h0m1 0h0m97 0h0m4 0h0m1 0h0m1 0h0m13 0h0m3 0h0m2 0h0m6 0h0m-171 1h0m6 0h0m27 0h0m4 0h0m1 0h0m4 0h0m99 0h0m7 0h0m0 0h0m5 0h0m-191 1h0m19 0h0m34 0h0m19 0h0m3 0h0m6 0h0m0 0h0m1 0h0m1 0h0m97 0h0m27 0h0m-180 1h0m12 0h0m0 0h0m26 0h0m3 0h0m7 0h0m1 0h0m2 0h0m6 0h0m0 0h0m96 0h0m3 0h0m1 0h0m4 0h0m1 0h0m18 0h0m5 0h0m-185 1h0m25 0h0m6 0h0m19 0h0m2 0h0m5 0h0m98 0h0m8 0h0m-178 1h0m37 0h0m18 0h0m6 0h0m1 0h0m5 0h0m0 0h0m4 0h0m0 0h0m1 0h0m1 0h0m95 0h0m4 0h0m2 0h0m0 0h0m0 0h0m1 0h0m40 0h0m-224 1h0m4 0h0m17 0h0m0 0h0m7 0h0m21 0h0m10 0h0m10 0h0m11 0h0m0 0h0m100 0h0m3 0h0m9 0h0m6 0h0m-190 1h0m43 0h0m10 0h0m118 0h0m1 0h0m0 0h0m2 0h0m0 0h0m7 0h0m-156 1h0m5 0h0m28 0h0m8 0h0m3 0h0m0 0h0m4 0h0m1 0h0m1 0h0m95 0h0m1 0h0m1 0h0m1 0h0m0 0h0m1 0h0m5 0h0m-179 1h0m1 0h0m51 0h0m20 0h0m96 0h0m2 0h0m2 0h0m1 0h0m2 0h0m3 0h0m4 0h0m3 0h0m6 0h0m1 0h0m6 0h0m-144 1h0m15 0h0m0 0h0m2 0h0m3 0h0m0 0h0m2 0h0m108 0h0m-184 1h0m10 0h0m14 0h0m29 0h0m11 0h0m1 0h0m1 0h0m1 0h0m4 0h0m3 0h0m93 0h0m1 0h0m0 0h0m4 0h0m0 0h0m4 0h0m7 0h0m-147 1h0m17 0h0m1 0h0m1 0h0m10 0h0m3 0h0m5 0h0m94 0h0m0 0h0m10 0h0m-168 1h0m16 0h0m20 0h0m14 0h0m1 0h0m0 0h0m7 0h0m5 0h0m3 0h0m2 0h0m91 0h0m2 0h0m1 0h0m3 0h0m5 0h0m7 0h0m10 0h0m-160 1h0m6 0h0m17 0h0m1 0h0m8 0h0m0 0h0m4 0h0m1 0h0m3 0h0m1 0h0m93 0h0m8 0h0m3 0h0m42 0h0m-218 1h0m17 0h0m19 0h0m16 0h0m9 0h0m4 0h0m4 0h0m3 0h0m93 0h0m5 0h0m1 0h0m2 0h0m11 0h0m2 0h0m-199 1h0m56 0h0m10 0h0m7 0h0m11 0h0m1 0h0m1 0h0m89 0h0m3 0h0m1 0h0m1 0h0m9 0h0m-144 1h0m24 0h0m5 0h0m4 0h0m1 0h0m5 0h0m0 0h0m1 0h0m97 0h0m-170 1h0m41 0h0m2 0h0m2 0h0m12 0h0m6 0h0m3 0h0m4 0h0m0 0h0m4 0h0m99 0h0m13 0h0m7 0h0m-205 1h0m4 0h0m47 0h0m6 0h0m14 0h0m15 0h0m89 0h0m2 0h0m3 0h0m4 0h0m-129 1h0m4 0h0m0 0h0m3 0h0m12 0h0m1 0h0m8 0h0m94 0h0m13 0h0m0 0h0m9 0h0m-195 1h0m0 0h0m33 0h0m22 0h0m19 0h0m0 0h0m5 0h0m92 0h0m9 0h0m2 0h0m0 0h0m2 0h0m5 0h0m4 0h0m-162 1h0m20 0h0m6 0h0m7 0h0m3 0h0m1 0h0m0 0h0m1 0h0m9 0h0m3 0h0m0 0h0m0 0h0m1 0h0m91 0h0m24 0h0m-172 1h0m18 0h0m16 0h0m4 0h0m7 0h0m3 0h0m2 0h0m96 0h0m0 0h0m2 0h0m1 0h0m1 0h0m2 0h0m1 0h0m49 0h0m-203 1h0m39 0h0m13 0h0m1 0h0m4 0h0m1 0h0m90 0h0m4 0h0m5 0h0m17 0h0m-177 1h0m17 0h0m11 0h0m12 0h0m15 0h0m2 0h0m2 0h0m0 0h0m3 0h0m87 0h0m1 0h0m0 0h0m2 0h0m1 0h0m1 0h0m1 0h0m3 0h0m6 0h0m-189 1h0m12 0h0m0 0h0m20 0h0m29 0h0m6 0h0m7 0h0m1 0h0m1 0h0m7 0h0m1 0h0m2 0h0m106 0h0m-160 1h0m3 0h0m27 0h0m13 0h0m2 0h0m6 0h0m5 0h0m85 0h0m1 0h0m1 0h0m1 0h0m1 0h0m3 0h0m1 0h0m2 0h0m2 0h0m3 0h0m11 0h0m6 0h0m-171 1h0m26 0h0m10 0h0m1 0h0m1 0h0m1 0h0m2 0h0m3 0h0m7 0h0m92 0h0m6 0h0m15 0h0m-174 1h0m31 0h0m14 0h0m5 0h0m9 0h0m1 0h0m2 0h0m87 0h0m6 0h0m3 0h0m1 0h0m12 0h0m0 0h0m14 0h0m-134 1h0m6 0h0m2 0h0m1 0h0m1 0h0m1 0h0m1 0h0m89 0h0m3 0h0m1 0h0m4 0h0m4 0h0m11 0h0m-131 1h0m12 0h0m0 0h0m4 0h0m2 0h0m87 0h0m2 0h0m0 0h0m1 0h0m3 0h0m0 0h0m2 0h0m53 0h0m-180 1h0m33 0h0m89 0h0m31 0h0m6 0h0m-208 1h0m12 0h0m31 0h0m7 0h0m28 0h0m5 0h0m86 0h0m5 0h0m0 0h0m4 0h0m-136 1h0m32 0h0m2 0h0m2 0h0m4 0h0m87 0h0m1 0h0m1 0h0m0 0h0m2 0h0m1 0h0m53 0h0m10 0h0m-242 1h0m20 0h0m14 0h0m5 0h0m17 0h0m2 0h0m20 0h0m1 0h0m4 0h0m4 0h0m1 0h0m1 0h0m81 0h0m3 0h0m0 0h0m2 0h0m5 0h0m12 0h0m-192 1h0m22 0h0m2 0h0m50 0h0m1 0h0m5 0h0m3 0h0m2 0h0m1 0h0m1 0h0m1 0h0m1 0h0m84 0h0m1 0h0m1 0h0m5 0h0m8 0h0m0 0h0m13 0h0m-193 1h0m25 0h0m31 0h0m7 0h0m11 0h0m2 0h0m3 0h0m2 0h0m81 0h0m0 0h0m1 0h0m16 0h0m6 0h0m-189 1h0m8 0h0m68 0h0m4 0h0m2 0h0m3 0h0m78 0h0m1 0h0m2 0h0m1 0h0m3 0h0m0 0h0m4 0h0m6 0h0m29 0h0m-142 1h0m1 0h0m5 0h0m5 0h0m1 0h0m4 0h0m79 0h0m1 0h0m1 0h0m1 0h0m24 0h0m13 0h0m4 0h0m2 0h0m-176 1h0m14 0h0m3 0h0m15 0h0m1 0h0m1 0h0m8 0h0m4 0h0m0 0h0m5 0h0m1 0h0m77 0h0m3 0h0m4 0h0m3 0h0m1 0h0m4 0h0m18 0h0m28 0h0m-147 1h0m7 0h0m1 0h0m3 0h0m31 0h0m2 0h0m42 0h0m2 0h0m1 0h0m2 0h0m5 0h0m1 0h0m25 0h0m4 0h0m11 0h0m-200 1h0m13 0h0m47 0h0m2 0h0m2 0h0m3 0h0m1 0h0m6 0h0m1 0h0m72 0h0m1 0h0m0 0h0m20 0h0m2 0h0m7 0h0m30 0h0m3 0h0m-194 1h0m11 0h0m14 0h0m5 0h0m12 0h0m9 0h0m3 0h0m2 0h0m2 0h0m0 0h0m1 0h0m5 0h0m25 0h0m0 0h0m1 0h0m1 0h0m0 0h0m2 0h0m0 0h0m0 0h0m1 0h0m38 0h0m9 0h0m7 0h0m10 0h0m28 0h0m-206 1h0m13 0h0m3 0h0m8 0h0m2 0h0m2 0h0m39 0h0m3 0h0m3 0h0m2 0h0m3 0h0m4 0h0m2 0h0m6 0h0m5 0h0m1 0h0m4 0h0m1 0h0m4 0h0m1 0h0m1 0h0m2 0h0m3 0h0m1 0h0m0 0h0m2 0h0m0 0h0m36 0h0m17 0h0m3 0h0m0 0h0m11 0h0m-158 1h0m8 0h0m37 0h0m3 0h0m2 0h0m7 0h0m6 0h0m3 0h0m1 0h0m1 0h0m7 0h0m2 0h0m0 0h0m1 0h0m5 0h0m5 0h0m0 0h0m5 0h0m0 0h0m35 0h0m2 0h0m0 0h0m1 0h0m8 0h0m6 0h0m2 0h0m1 0h0m-156 1h0m13 0h0m2 0h0m39 0h0m1 0h0m8 0h0m1 0h0m2 0h0m0 0h0m4 0h0m7 0h0m1 0h0m0 0h0m2 0h0m0 0h0m0 0h0m7 0h0m0 0h0m2 0h0m2 0h0m0 0h0m3 0h0m2 0h0m1 0h0m2 0h0m4 0h0m2 0h0m0 0h0m1 0h0m3 0h0m19 0h0m5 0h0m10 0h0m2 0h0m18 0h0m12 0h0m17 0h0m-153 1h0m23 0h0m3 0h0m0 0h0m2 0h0m0 0h0m3 0h0m4 0h0m3 0h0m2 0h0m1 0h0m2 0h0m0 0h0m0 0h0m4 0h0m2 0h0m2 0h0m5 0h0m1 0h0m2 0h0m2 0h0m3 0h0m0 0h0m4 0h0m2 0h0m0 0h0m4 0h0m1 0h0m6 0h0m2 0h0m2 0h0m1 0h0m0 0h0m2 0h0m1 0h0m4 0h0m3 0h0m3 0h0m0 0h0m6 0h0m0 0h0m-107 1h0m2 0h0m16 0h0m0 0h0m3 0h0m1 0h0m19 0h0m1 0h0m4 0h0m1 0h0m4 0h0m3 0h0m0 0h0m6 0h0m2 0h0m1 0h0m1 0h0m1 0h0m2 0h0m2 0h0m2 0h0m3 0h0m4 0h0m0 0h0m2 0h0m1 0h0m1 0h0m1 0h0m1 0h0m1 0h0m3 0h0m4 0h0m10 0h0m0 0h0m1 0h0m28 0h0m6 0h0m30 0h0m-197 1h0m30 0h0m26 0h0m0 0h0m3 0h0m15 0h0m0 0h0m2 0h0m8 0h0m11 0h0m2 0h0m1 0h0m5 0h0m4 0h0m4 0h0m0 0h0m2 0h0m0 0h0m3 0h0m1 0h0m2 0h0m5 0h0m3 0h0m0 0h0m1 0h0m2 0h0m1 0h0m1 0h0m5 0h0m-94 1h0m5 0h0m10 0h0m1 0h0m1 0h0m1 0h0m8 0h0m0 0h0m6 0h0m5 0h0m1 0h0m0 0h0m1 0h0m8 0h0m1 0h0m2 0h0m1 0h0m4 0h0m16 0h0m1 0h0m0 0h0m1 0h0m2 0h0m0 0h0m6 0h0m15 0h0m7 0h0m1 0h0m11 0h0m-140 1h0m19 0h0m15 0h0m2 0h0m6 0h0m8 0h0m7 0h0m0 0h0m2 0h0m1 0h0m1 0h0m1 0h0m1 0h0m3 0h0m4 0h0m9 0h0m2 0h0m3 0h0m1 0h0m3 0h0m1 0h0m3 0h0m5 0h0m2 0h0m3 0h0m6 0h0m1 0h0m3 0h0m1 0h0m-99 1h0m2 0h0m2 0h0m3 0h0m12 0h0m8 0h0m12 0h0m1 0h0m4 0h0m5 0h0m2 0h0m1 0h0m3 0h0m1 0h0m1 0h0m1 0h0m2 0h0m5 0h0m9 0h0m1 0h0m1 0h0m2 0h0m2 0h0m1 0h0m0 0h0m0 0h0m5 0h0m1 0h0m3 0h0m5 0h0m2 0h0m1 0h0m5 0h0m19 0h0m16 0h0m13 0h0m21 0h0m1 0h0m-191 1h0m30 0h0m8 0h0m11 0h0m3 0h0m0 0h0m0 0h0m1 0h0m6 0h0m7 0h0m5 0h0m2 0h0m3 0h0m3 0h0m0 0h0m1 0h0m4 0h0m1 0h0m4 0h0m0 0h0m0 0h0m6 0h0m1 0h0m5 0h0m24 0h0m13 0h0m-128 1h0m24 0h0m29 0h0m5 0h0m1 0h0m6 0h0m7 0h0m3 0h0m1 0h0m17 0h0m3 0h0m6 0h0m2 0h0m4 0h0m10 0h0m2 0h0" stroke="#13a313" stroke-width="1.45" stroke-linecap="square"/><polygon points="1090.6,51.4 1101.6,45.0 1112.6,43.2 1125.4,46.0 1132.7,51.4 1135.5,55.1 1141.9,58.8 1147.4,66.1 1151.1,80.8 1151.1,97.3 1152.9,111.9 1158.4,122.9 1165.7,130.2 1165.7,137.6 1158.4,144.9 1158.4,152.2 1156.5,159.5 1154.7,166.9 1154.7,179.7 1154.7,194.4 1154.7,209.0 1152.9,225.5 1149.2,236.5 1138.2,247.5 1123.6,249.3 1110.7,247.5 1101.6,242.0 1090.6,245.7 1075.9,245.7 1068.6,240.2 1066.8,229.2 1064.9,216.3 1059.4,203.5 1050.3,187.0 1037.4,176.0 1026.4,166.9 1019.1,159.5 1013.6,148.6 1011.8,130.2 1017.3,121.1 1028.3,110.1 1042.9,97.3 1059.4,82.6 1072.3,69.8 1081.4,58.8" fill="#0aa00a" stroke="#0aa00a" stroke-width="1.5" stroke-linejoin="round"/><polygon points="1092.4,54.2 1112.6,46.0 1125.4,48.7 1132.7,54.2 1135.5,58.8 1143.7,66.1 1146.5,84.4 1147.4,102.7 1149.2,111.9 1153.8,115.6 1151.1,126.6 1147.4,133.9 1139.1,139.4 1136.4,144.9 1134.6,163.2 1123.6,165.0 1119.9,170.5 1112.6,177.9 1105.2,196.2 1097.9,210.8 1088.7,221.8 1083.2,225.5 1077.8,218.2 1072.3,203.5 1064.9,190.7 1053.9,179.7 1041.1,172.4 1028.3,165.0 1019.1,155.9 1015.4,144.9 1015.4,130.2 1020.9,122.9 1031.9,111.9 1046.6,99.1 1061.3,86.3 1075.9,71.6 1085.1,60.6" fill="url(#g_bR)"/><ellipse cx="1132.7" cy="192.5" rx="5.5" ry="7.3" fill="#fff" transform="rotate(0 1132.7 192.5)"/><ellipse cx="1099.7" cy="225.5" rx="5.5" ry="7.3" fill="#fff" transform="rotate(0 1099.7 225.5)"/><ellipse cx="1138.2" cy="218.2" rx="2.7" ry="3.7" fill="#fff" transform="rotate(0 1138.2 218.2)"/><ellipse cx="1089.1" cy="115.6" rx="23.5" ry="34.8" transform="rotate(8 1089.1 115.6)" fill="url(#gr_bR)" stroke="#fff" stroke-width="1.5"/><ellipse cx="1092.0" cy="112.8" rx="13.4" ry="23.8" transform="rotate(8 1092.0 112.8)" fill="url(#gr_bR)" stroke="#fff" stroke-width="1.5"/><ellipse cx="1091.5" cy="112.8" rx="8.2" ry="14.7" transform="rotate(8 1091.5 112.8)" fill="url(#gr_bR)" stroke="#fff" stroke-width="1.5"/></g><line x1="1135.5" y1="20.3" x2="1135.5" y2="258.3" stroke="#000" stroke-width="2"/><rect x="974.3" y="21.3" width="254" height="236" fill="none" stroke="#000" stroke-width="2.1"/><text x="984.5" y="39.5" font-size="19.8" font-weight="normal" fill="#000" text-anchor="start"  textLength="72.5" lengthAdjust="spacingAndGlyphs">Single +</text><text x="1215.7" y="39.5" font-size="19.3" font-weight="normal" fill="#000" text-anchor="end" >Dual++</text><g clip-path="url(#clip_cL)"><path d="M876.5 267.5h0m-19 1h0m40 0h0m14 0h0m-63 1h0m70 0h0m4 0h0m-94 1h0m85 1h0m-68 1h0m54 0h0m2 0h0m8 0h0m8 0h0m-75 1h0m48 0h0m1 0h0m-42 1h0m0 0h0m34 0h0m18 0h0m9 0h0m19 0h0m-89 2h0m26 0h0m6 0h0m10 0h0m-49 1h0m10 0h0m9 0h0m28 0h0m29 0h0m2 0h0m12 0h0m7 0h0m-98 1h0m7 0h0m6 0h0m2 0h0m42 0h0m16 0h0m17 0h0m-79 1h0m30 0h0m69 0h0m-101 1h0m8 0h0m0 0h0m2 0h0m3 0h0m7 0h0m4 0h0m28 0h0m40 0h0m-86 1h0m2 0h0m52 0h0m14 0h0m-56 1h0m18 0h0m3 0h0m1 0h0m4 0h0m12 0h0m29 0h0m0 0h0m-91 1h0m4 0h0m10 0h0m3 0h0m2 0h0m1 0h0m46 0h0m16 0h0m9 0h0m-85 1h0m7 0h0m0 0h0m13 0h0m39 0h0m13 0h0m3 0h0m18 0h0m-100 1h0m7 0h0m1 0h0m1 0h0m3 0h0m1 0h0m0 0h0m0 0h0m4 0h0m0 0h0m1 0h0m2 0h0m1 0h0m10 0h0m5 0h0m3 0h0m8 0h0m5 0h0m7 0h0m20 0h0m11 0h0m-97 1h0m0 0h0m13 0h0m0 0h0m5 0h0m10 0h0m1 0h0m1 0h0m2 0h0m10 0h0m6 0h0m13 0h0m26 0h0m-82 1h0m6 0h0m1 0h0m19 0h0m0 0h0m4 0h0m17 0h0m39 0h0m-93 1h0m9 0h0m5 0h0m18 0h0m2 0h0m1 0h0m4 0h0m3 0h0m6 0h0m3 0h0m2 0h0m18 0h0m-60 1h0m27 0h0m42 0h0m8 0h0m-79 1h0m1 0h0m1 0h0m29 0h0m4 0h0m3 0h0m1 0h0m15 0h0m10 0h0m0 0h0m2 0h0m7 0h0m8 0h0m-101 1h0m20 0h0m1 0h0m0 0h0m34 0h0m12 0h0m4 0h0m0 0h0m7 0h0m28 0h0m10 0h0m-118 1h0m16 0h0m5 0h0m32 0h0m7 0h0m9 0h0m29 0h0m15 0h0m-106 1h0m6 0h0m3 0h0m4 0h0m33 0h0m4 0h0m3 0h0m1 0h0m0 0h0m6 0h0m5 0h0m5 0h0m6 0h0m14 0h0m3 0h0m7 0h0m5 0h0m-111 1h0m56 0h0m0 0h0m2 0h0m2 0h0m6 0h0m16 0h0m28 0h0m-93 1h0m2 0h0m42 0h0m9 0h0m14 0h0m7 0h0m1 0h0m4 0h0m5 0h0m21 0h0m-107 1h0m42 0h0m6 0h0m8 0h0m6 0h0m5 0h0m3 0h0m5 0h0m16 0h0m6 0h0m2 0h0m2 0h0m-106 1h0m5 0h0m46 0h0m2 0h0m1 0h0m0 0h0m1 0h0m28 0h0m5 0h0m5 0h0m4 0h0m1 0h0m-96 1h0m1 0h0m2 0h0m1 0h0m45 0h0m8 0h0m0 0h0m0 0h0m2 0h0m1 0h0m3 0h0m4 0h0m2 0h0m12 0h0m1 0h0m3 0h0m4 0h0m1 0h0m13 0h0m1 0h0m0 0h0m2 0h0m-109 1h0m8 0h0m41 0h0m2 0h0m3 0h0m11 0h0m3 0h0m5 0h0m1 0h0m1 0h0m11 0h0m4 0h0m7 0h0m3 0h0m5 0h0m1 0h0m-104 1h0m2 0h0m2 0h0m0 0h0m46 0h0m1 0h0m7 0h0m5 0h0m3 0h0m5 0h0m1 0h0m5 0h0m1 0h0m2 0h0m3 0h0m4 0h0m8 0h0m-93 1h0m47 0h0m6 0h0m3 0h0m5 0h0m9 0h0m2 0h0m5 0h0m9 0h0m0 0h0m4 0h0m6 0h0m-121 1h0m23 0h0m50 0h0m8 0h0m1 0h0m1 0h0m3 0h0m0 0h0m0 0h0m5 0h0m1 0h0m1 0h0m1 0h0m3 0h0m2 0h0m7 0h0m7 0h0m2 0h0m10 0h0m4 0h0m-107 1h0m2 0h0m49 0h0m0 0h0m3 0h0m2 0h0m1 0h0m6 0h0m1 0h0m5 0h0m0 0h0m5 0h0m0 0h0m4 0h0m1 0h0m0 0h0m1 0h0m4 0h0m1 0h0m4 0h0m11 0h0m6 0h0m-113 1h0m59 0h0m4 0h0m5 0h0m2 0h0m4 0h0m3 0h0m1 0h0m1 0h0m0 0h0m3 0h0m2 0h0m0 0h0m5 0h0m1 0h0m4 0h0m3 0h0m1 0h0m1 0h0m1 0h0m4 0h0m3 0h0m2 0h0m3 0h0m1 0h0m26 0h0m0 0h0m-144 1h0m3 0h0m3 0h0m2 0h0m97 0h0m1 0h0m6 0h0m2 0h0m0 0h0m1 0h0m1 0h0m1 0h0m-118 1h0m111 0h0m0 0h0m4 0h0m0 0h0m2 0h0m-133 1h0m22 0h0m4 0h0m116 0h0m10 0h0m-23 1h0m3 0h0m4 0h0m4 0h0m-122 1h0m8 0h0m0 0h0m1 0h0m101 0h0m2 0h0m0 0h0m-3 1h0m0 0h0m9 0h0m0 0h0m0 0h0m-136 1h0m24 0h0m0 0h0m1 0h0m1 0h0m101 0h0m1 0h0m4 0h0m0 0h0m2 0h0m-119 1h0m5 0h0m2 0h0m2 0h0m104 0h0m0 0h0m5 0h0m34 0h0m-150 1h0m0 0h0m116 0h0m10 0h0m-137 1h0m15 0h0m108 0h0m3 0h0m0 0h0m5 0h0m-158 1h0m24 0h0m128 0h0m0 0h0m-118 1h0m0 0h0m4 0h0m117 0h0m-118 1h0m3 0h0m116 0h0m-131 1h0m9 0h0m5 0h0m2 0h0m110 0h0m0 0h0m5 0h0m5 0h0m7 0h0m-128 1h0m111 0h0m0 0h0m1 0h0m1 0h0m34 0h0m-197 1h0m35 0h0m10 0h0m118 0h0m0 0h0m3 0h0m1 0h0m-128 1h0m6 0h0m116 0h0m7 0h0m6 0h0m-133 1h0m4 0h0m116 0h0m1 0h0m3 0h0m13 0h0m-143 1h0m9 0h0m118 0h0m2 0h0m1 0h0m9 0h0m-143 1h0m3 0h0m1 0h0m2 0h0m0 0h0m5 0h0m1 0h0m121 0h0m-133 1h0m9 0h0m3 0h0m123 0h0m-144 1h0m17 0h0m3 0h0m122 0h0m1 0h0m1 0h0m-140 1h0m3 0h0m12 0h0m1 0h0m0 0h0m1 0h0m120 0h0m1 0h0m1 0h0m0 0h0m-177 1h0m36 0h0m7 0h0m134 0h0m-131 1h0m3 0h0m1 0h0m127 0h0m0 0h0m3 0h0m-132 1h0m3 0h0m124 0h0m2 0h0m0 0h0m-206 1h0m76 0h0m1 0h0m129 0h0m2 0h0m1 0h0m0 0h0m-137 1h0m135 0h0m5 0h0m-154 1h0m8 0h0m4 0h0m5 0h0m0 0h0m2 0h0m128 0h0m0 0h0m1 0h0m11 0h0m-163 1h0m14 0h0m1 0h0m135 0h0m0 0h0m3 0h0m2 0h0m0 0h0m-145 1h0m9 0h0m131 0h0m2 0h0m0 0h0m-136 1h0m3 0h0m132 0h0m0 0h0m5 0h0m2 0h0m-151 1h0m11 0h0m131 0h0m1 0h0m4 0h0m5 0h0m-196 1h0m14 0h0m31 0h0m2 0h0m2 0h0m4 0h0m143 0h0m-155 1h0m3 0h0m5 0h0m2 0h0m2 0h0m134 0h0m4 0h0m2 1h0m-150 1h0m3 0h0m1 0h0m0 0h0m1 0h0m1 0h0m0 0h0m143 0h0m-7 1h0m2 0h0m2 0h0m9 0h0m0 0h0m-192 1h0m21 0h0m19 0h0m140 0h0m2 0h0m2 0h0m1 0h0m-160 1h0m11 0h0m0 0h0m1 0h0m142 0h0m5 0h0m-176 1h0m16 0h0m10 0h0m2 0h0m3 0h0m145 0h0m12 0h0m-173 1h0m5 0h0m11 0h0m141 0h0m12 0h0m-188 1h0m175 0h0m-200 1h0m47 0h0m152 0h0m0 0h0m-207 1h0m24 0h0m189 0h0m-189 1h0m8 0h0m19 0h0m7 0h0m151 0h0m1 0h0m0 0h0m1 0h0m0 0h0m1 0h0m2 0h0m-206 1h0m50 0h0m4 0h0m147 0h0m1 0h0m27 0h0m-233 1h0m4 0h0m4 0h0m12 0h0m32 0h0m3 0h0m149 0h0m3 0h0m-199 1h0m20 0h0m20 0h0m3 0h0m1 0h0m151 0h0m-203 1h0m24 0h0m16 0h0m12 0h0m3 0h0m153 0h0m-204 1h0m19 0h0m5 0h0m9 0h0m166 0h0m-160 1h0m5 0h0m155 0h0m0 0h0m4 0h0m17 0h0m-196 1h0m15 0h0m6 0h0m155 0h0m0 0h0m-200 1h0m47 0h0m151 0h0m18 0h0m-176 1h0m4 0h0m2 0h0m153 0h0m1 0h0m18 0h0m-206 1h0m4 0h0m180 0h0m2 0h0m1 0h0m0 0h0m8 0h0m-186 1h0m9 0h0m11 0h0m159 0h0m-184 1h0m20 0h0m5 0h0m0 0h0m154 0h0m0 0h0m2 0h0m-164 1h0m0 0h0m2 0h0m7 0h0m154 0h0m0 0h0m1 0h0m1 0h0m4 0h0m-198 1h0m31 0h0m1 0h0m3 0h0m2 0h0m157 0h0m-202 1h0m20 0h0m180 0h0m-169 1h0m4 0h0m5 0h0m159 0h0m3 0h0m2 0h0m-178 1h0m3 0h0m12 0h0m159 0h0m5 0h0m4 0h0m-189 1h0m2 0h0m2 0h0m0 0h0m11 0h0m3 0h0m160 0h0m1 0h0m4 0h0m3 0h0m-200 1h0m14 0h0m6 0h0m2 0h0m12 0h0m167 0h0m1 0h0m-196 1h0m187 0h0m3 0h0m-202 1h0m16 0h0m182 0h0m-169 1h0m7 0h0m163 0h0m3 0h0m0 0h0m3 0h0m10 0h0m13 0h0m-202 1h0m5 0h0m5 0h0m1 0h0m165 0h0m6 0h0m-212 1h0m36 0h0m0 0h0m3 0h0m0 0h0m1 0h0m0 0h0m1 0h0m159 0h0m3 0h0m2 0h0m5 0h0m-212 1h0m25 0h0m0 0h0m6 0h0m0 0h0m8 0h0m3 0h0m166 0h0m-170 1h0m164 0h0m15 0h0m-203 1h0m18 0h0m7 0h0m2 0h0m164 0h0m2 0h0m-177 1h0m5 0h0m1 0h0m4 0h0m160 0h0m3 0h0m1 0h0m1 0h0m3 0h0m6 0h0m-199 1h0m19 0h0m2 0h0m2 0h0m1 0h0m163 0h0m2 0h0m1 0h0m7 0h0m-186 1h0m4 0h0m0 0h0m171 0h0m7 0h0m2 0h0m2 0h0m2 0h0m-175 1h0m0 0h0m162 0h0m3 0h0m33 0h0m-204 1h0m1 0h0m0 0h0m166 0h0m0 0h0m5 0h0m1 0h0m-196 1h0m19 0h0m1 0h0m4 0h0m2 0h0m1 0h0m162 0h0m2 0h0m7 0h0m-186 1h0m8 0h0m8 0h0m0 0h0m170 0h0m25 0h0m-227 1h0m8 0h0m17 0h0m2 0h0m2 0h0m1 0h0m1 0h0m1 0h0m160 0h0m1 0h0m2 0h0m6 0h0m1 0h0m2 0h0m0 0h0m9 0h0m-210 1h0m13 0h0m8 0h0m1 0h0m2 0h0m5 0h0m160 0h0m1 0h0m2 0h0m1 0h0m0 0h0m2 0h0m6 0h0m-187 1h0m175 0h0m-196 1h0m8 0h0m8 0h0m4 0h0m5 0h0m6 0h0m1 0h0m1 0h0m3 0h0m159 0h0m2 0h0m11 0h0m11 0h0m-211 1h0m4 0h0m14 0h0m4 0h0m4 0h0m2 0h0m159 0h0m3 0h0m13 0h0m5 0h0m-204 1h0m8 0h0m4 0h0m7 0h0m164 0h0m0 0h0m3 0h0m1 0h0m1 0h0m0 0h0m1 0h0m0 0h0m1 0h0m12 0h0m-206 1h0m4 0h0m16 0h0m4 0h0m163 0h0m4 0h0m8 0h0m6 0h0m-187 1h0m10 0h0m160 0h0m2 0h0m2 0h0m-200 1h0m7 0h0m5 0h0m8 0h0m8 0h0m166 0h0m1 0h0m0 0h0m1 0h0m-176 1h0m8 0h0m2 0h0m2 0h0m3 0h0m1 0h0m0 0h0m161 0h0m0 0h0m1 0h0m0 0h0m13 0h0m2 0h0m3 0h0m-216 1h0m12 0h0m18 0h0m1 0h0m5 0h0m167 0h0m1 0h0m5 0h0m2 0h0m-193 1h0m6 0h0m6 0h0m3 0h0m2 0h0m2 0h0m160 0h0m5 0h0m13 0h0m-199 1h0m13 0h0m4 0h0m-25 1h0m9 0h0m13 0h0m164 0h0m2 0h0m1 0h0m0 0h0m8 0h0m0 0h0m0 0h0m-190 1h0m1 0h0m1 0h0m17 0h0m2 0h0m0 0h0m0 0h0m1 0h0m1 0h0m156 0h0m6 0h0m1 0h0m1 0h0m2 0h0m3 0h0m-191 1h0m5 0h0m12 0h0m162 0h0m2 0h0m2 0h0m5 0h0m11 0h0m-215 1h0m27 0h0m2 0h0m165 0h0m0 0h0m1 0h0m11 0h0m4 0h0m4 0h0m-187 1h0m172 0h0m17 0h0m-205 1h0m19 0h0m4 0h0m4 0h0m156 0h0m3 0h0m0 0h0m8 0h0m4 0h0m-209 1h0m8 0h0m16 0h0m8 0h0m1 0h0m2 0h0m160 0h0m0 0h0m0 0h0m1 0h0m4 0h0m12 0h0m-209 1h0m1 0h0m12 0h0m9 0h0m8 0h0m3 0h0m160 0h0m11 0h0m22 0h0m-221 1h0m16 0h0m9 0h0m3 0h0m1 0h0m2 0h0m155 0h0m1 0h0m0 0h0m5 0h0m47 0h0m-247 1h0m5 0h0m33 0h0m156 0h0m0 0h0m2 0h0m25 0h0m-213 1h0m12 0h0m20 0h0m156 0h0m12 0h0m-206 1h0m10 0h0m13 0h0m7 0h0m0 0h0m4 0h0m1 0h0m1 0h0m4 0h0m153 0h0m3 0h0m3 0h0m2 0h0m5 0h0m3 0h0m10 0h0m22 0h0m-244 1h0m13 0h0m183 0h0m1 0h0m0 0h0m2 0h0m0 0h0m3 0h0m12 0h0m-213 1h0m7 0h0m5 0h0m4 0h0m6 0h0m9 0h0m1 0h0m1 0h0m0 0h0m3 0h0m4 0h0m5 0h0m0 0h0m0 0h0m150 0h0m10 0h0m13 0h0m-198 1h0m8 0h0m1 0h0m2 0h0m4 0h0m0 0h0m5 0h0m6 0h0m1 0h0m0 0h0m148 0h0m2 0h0m1 0h0m3 0h0m2 0h0m1 0h0m1 0h0m2 0h0m0 0h0m-169 1h0m1 0h0m5 0h0m154 0h0m5 0h0m2 0h0m-177 1h0m6 0h0m1 0h0m1 0h0m7 0h0m2 0h0m3 0h0m148 0h0m6 0h0m5 0h0m16 0h0m6 0h0m-230 1h0m9 0h0m19 0h0m9 0h0m1 0h0m3 0h0m4 0h0m3 0h0m0 0h0m1 0h0m4 0h0m145 0h0m4 0h0m23 0h0m2 0h0m-218 1h0m38 0h0m1 0h0m2 0h0m146 0h0m2 0h0m1 0h0m1 0h0m2 0h0m3 0h0m11 0h0m-198 1h0m19 0h0m9 0h0m3 0h0m0 0h0m1 0h0m3 0h0m143 0h0m6 0h0m5 0h0m23 0h0m0 0h0m-229 1h0m24 0h0m8 0h0m12 0h0m8 0h0m2 0h0m142 0h0m0 0h0m4 0h0m7 0h0m2 0h0m25 0h0m-213 1h0m5 0h0m6 0h0m4 0h0m3 0h0m18 0h0m1 0h0m143 0h0m-181 1h0m0 0h0m21 0h0m1 0h0m8 0h0m1 0h0m1 0h0m5 0h0m141 0h0m6 0h0m3 0h0m18 0h0m-178 1h0m1 0h0m4 0h0m0 0h0m3 0h0m4 0h0m2 0h0m140 0h0m10 0h0m-182 1h0m26 0h0m2 0h0m5 0h0m1 0h0m136 0h0m3 0h0m-182 1h0m12 0h0m4 0h0m3 0h0m14 0h0m9 0h0m0 0h0m134 0h0m5 0h0m1 0h0m2 0h0m2 0h0m2 0h0m26 0h0m5 0h0m-239 1h0m16 0h0m2 0h0m25 0h0m1 0h0m12 0h0m4 0h0m1 0h0m2 0h0m0 0h0m2 0h0m131 0h0m8 0h0m16 0h0m-216 1h0m22 0h0m26 0h0m5 0h0m3 0h0m4 0h0m143 0h0m24 0h0m-228 1h0m17 0h0m12 0h0m3 0h0m18 0h0m4 0h0m3 0h0m1 0h0m2 0h0m3 0h0m1 0h0m129 0h0m14 0h0m8 0h0m-183 1h0m8 0h0m5 0h0m4 0h0m10 0h0m1 0h0m5 0h0m1 0h0m126 0h0m8 0h0m6 0h0m6 0h0m5 0h0m-220 1h0m13 0h0m7 0h0m22 0h0m14 0h0m0 0h0m1 0h0m1 0h0m1 0h0m5 0h0m4 0h0m2 0h0m1 0h0m124 0h0m6 0h0m0 0h0m16 0h0m-210 1h0m29 0h0m2 0h0m11 0h0m8 0h0m4 0h0m8 0h0m3 0h0m123 0h0m15 0h0m4 0h0m4 0h0m-202 1h0m11 0h0m19 0h0m8 0h0m1 0h0m5 0h0m6 0h0m2 0h0m128 0h0m5 0h0m1 0h0m2 0h0m1 0h0m5 0h0m2 0h0m-212 1h0m0 0h0m4 0h0m0 0h0m3 0h0m5 0h0m3 0h0m9 0h0m4 0h0m0 0h0m10 0h0m14 0h0m4 0h0m15 0h0m3 0h0m122 0h0m1 0h0m34 0h0m5 0h0m9 0h0m0 0h0m-246 1h0m5 0h0m16 0h0m8 0h0m0 0h0m26 0h0m2 0h0m19 0h0m121 0h0m-179 1h0m20 0h0m19 0h0m11 0h0m4 0h0m1 0h0m2 0h0m0 0h0m1 0h0m1 0h0m1 0h0m119 0h0m0 0h0m2 0h0m0 0h0m1 0h0m13 0h0m-208 1h0m12 0h0m24 0h0m6 0h0m11 0h0m10 0h0m5 0h0m4 0h0m-40 1h0m25 0h0m17 0h0m129 0h0m35 0h0m-242 1h0m6 0h0m15 0h0m25 0h0m10 0h0m139 0h0m6 0h0m1 0h0m-160 1h0m16 0h0m6 0h0m6 0h0m2 0h0m5 0h0m118 0h0m34 0h0m-229 1h0m3 0h0m11 0h0m2 0h0m2 0h0m6 0h0m27 0h0m4 0h0m142 0h0m17 0h0m8 0h0m-218 1h0m0 0h0m20 0h0m6 0h0m25 0h0m14 0h0m3 0h0m4 0h0m0 0h0m0 0h0m2 0h0m4 0h0m114 0h0m3 0h0m6 0h0m12 0h0m10 0h0m16 0h0m-239 1h0m16 0h0m29 0h0m0 0h0m4 0h0m8 0h0m7 0h0m1 0h0m5 0h0m0 0h0m0 0h0m0 0h0m0 0h0m7 0h0m1 0h0m118 0h0m2 0h0m26 0h0m-216 1h0m29 0h0m7 0h0m11 0h0m3 0h0m6 0h0m7 0h0m1 0h0m1 0h0m0 0h0m4 0h0m1 0h0m147 0h0m13 0h0m-234 1h0m4 0h0m12 0h0m8 0h0m10 0h0m29 0h0m1 0h0m9 0h0m2 0h0m111 0h0m3 0h0m14 0h0m5 0h0m19 0h0m-214 1h0m7 0h0m0 0h0m33 0h0m2 0h0m5 0h0m2 0h0m4 0h0m7 0h0m118 0h0m17 0h0m18 0h0m-214 1h0m35 0h0m2 0h0m26 0h0m108 0h0m4 0h0m13 0h0m2 0h0m16 0h0m11 0h0m-221 1h0m22 0h0m40 0h0m113 0h0m4 0h0m1 0h0m7 0h0m28 0h0m7 0h0m-232 1h0m10 0h0m20 0h0m12 0h0m30 0h0m2 0h0m2 0h0m1 0h0m1 0h0m106 0h0m15 0h0m21 0h0m17 0h0m-235 1h0m1 0h0m17 0h0m19 0h0m30 0h0m1 0h0m7 0h0m1 0h0m107 0h0m0 0h0m9 0h0m18 0h0m0 0h0m4 0h0m1 0h0m20 0h0m-223 1h0m8 0h0m17 0h0m5 0h0m6 0h0m2 0h0m1 0h0m1 0h0m2 0h0m15 0h0m0 0h0m8 0h0m0 0h0m104 0h0m4 0h0m1 0h0m2 0h0m8 0h0m-149 1h0m12 0h0m1 0h0m11 0h0m6 0h0m2 0h0m104 0h0m10 0h0m5 0h0m23 0h0m-217 1h0m40 0h0m6 0h0m9 0h0m6 0h0m4 0h0m3 0h0m4 0h0m2 0h0m0 0h0m1 0h0m102 0h0m5 0h0m8 0h0m7 0h0m1 0h0m2 0h0m5 0h0m-217 1h0m8 0h0m16 0h0m23 0h0m18 0h0m13 0h0m112 0h0m0 0h0m3 0h0m8 0h0m5 0h0m3 0h0m1 0h0m-194 1h0m55 0h0m2 0h0m4 0h0m4 0h0m3 0h0m0 0h0m2 0h0m0 0h0m3 0h0m101 0h0m0 0h0m1 0h0m2 0h0m0 0h0m6 0h0m5 0h0m-200 1h0m20 0h0m4 0h0m2 0h0m12 0h0m0 0h0m9 0h0m1 0h0m26 0h0m1 0h0m1 0h0m4 0h0m3 0h0m0 0h0m0 0h0m105 0h0m5 0h0m6 0h0m16 0h0m17 0h0m-211 1h0m34 0h0m10 0h0m4 0h0m3 0h0m1 0h0m7 0h0m1 0h0m1 0h0m103 0h0m2 0h0m1 0h0m19 0h0m14 0h0m8 0h0m-217 1h0m12 0h0m21 0h0m11 0h0m20 0h0m1 0h0m2 0h0m3 0h0m1 0h0m1 0h0m1 0h0m0 0h0m4 0h0m93 0h0m5 0h0m4 0h0m5 0h0m-184 1h0m12 0h0m8 0h0m22 0h0m16 0h0m9 0h0m7 0h0m1 0h0m3 0h0m0 0h0m93 0h0m4 0h0m14 0h0m1 0h0m-190 1h0m0 0h0m1 0h0m7 0h0m8 0h0m39 0h0m15 0h0m0 0h0m4 0h0m3 0h0m1 0h0m3 0h0m0 0h0m89 0h0m4 0h0m1 0h0m14 0h0m4 0h0m5 0h0m5 0h0m12 0h0m-199 1h0m9 0h0m18 0h0m8 0h0m4 0h0m18 0h0m1 0h0m2 0h0m0 0h0m3 0h0m3 0h0m88 0h0m0 0h0m0 0h0m1 0h0m0 0h0m5 0h0m0 0h0m4 0h0m10 0h0m-194 1h0m11 0h0m37 0h0m11 0h0m0 0h0m3 0h0m2 0h0m0 0h0m3 0h0m13 0h0m1 0h0m1 0h0m5 0h0m0 0h0m89 0h0m6 0h0m1 0h0m5 0h0m1 0h0m3 0h0m23 0h0m-219 1h0m6 0h0m14 0h0m0 0h0m4 0h0m37 0h0m4 0h0m0 0h0m8 0h0m16 0h0m3 0h0m1 0h0m85 0h0m1 0h0m1 0h0m8 0h0m2 0h0m20 0h0m-193 1h0m50 0h0m10 0h0m2 0h0m11 0h0m88 0h0m0 0h0m1 0h0m2 0h0m3 0h0m18 0h0m4 0h0m12 0h0m13 0h0m-223 1h0m4 0h0m66 0h0m1 0h0m13 0h0m0 0h0m0 0h0m1 0h0m0 0h0m1 0h0m0 0h0m1 0h0m85 0h0m0 0h0m6 0h0m1 0h0m1 0h0m3 0h0m21 0h0m-216 1h0m8 0h0m68 0h0m11 0h0m2 0h0m1 0h0m2 0h0m1 0h0m2 0h0m4 0h0m83 0h0m12 0h0m0 0h0m7 0h0m2 0h0m22 0h0m14 0h0m-239 1h0m28 0h0m4 0h0m24 0h0m11 0h0m6 0h0m5 0h0m10 0h0m2 0h0m91 0h0m3 0h0m5 0h0m13 0h0m12 0h0m-187 1h0m52 0h0m12 0h0m12 0h0m81 0h0m12 0h0m13 0h0m-201 1h0m8 0h0m1 0h0m0 0h0m11 0h0m4 0h0m47 0h0m0 0h0m1 0h0m0 0h0m17 0h0m1 0h0m1 0h0m86 0h0m1 0h0m4 0h0m3 0h0m0 0h0m22 0h0m1 0h0m14 0h0m13 0h0m-239 1h0m69 0h0m17 0h0m12 0h0m1 0h0m1 0h0m3 0h0m75 0h0m3 0h0m5 0h0m6 0h0m-188 1h0m0 0h0m4 0h0m67 0h0m1 0h0m1 0h0m16 0h0m4 0h0m0 0h0m1 0h0m0 0h0m0 0h0m0 0h0m1 0h0m3 0h0m1 0h0m75 0h0m1 0h0m0 0h0m6 0h0m1 0h0m11 0h0m8 0h0m7 0h0m11 0h0m-231 1h0m28 0h0m45 0h0m2 0h0m1 0h0m2 0h0m5 0h0m10 0h0m6 0h0m5 0h0m1 0h0m0 0h0m3 0h0m1 0h0m3 0h0m0 0h0m73 0h0m4 0h0m3 0h0m1 0h0m53 0h0m-246 1h0m4 0h0m20 0h0m4 0h0m12 0h0m44 0h0m9 0h0m3 0h0m2 0h0m6 0h0m3 0h0m84 0h0m-156 1h0m1 0h0m37 0h0m23 0h0m0 0h0m7 0h0m2 0h0m0 0h0m81 0h0m27 0h0m4 0h0m0 0h0m-123 1h0m6 0h0m2 0h0m1 0h0m9 0h0m1 0h0m0 0h0m0 0h0m78 0h0m16 0h0m10 0h0m12 0h0m-229 1h0m75 0h0m31 0h0m3 0h0m0 0h0m2 0h0m2 0h0m76 0h0m8 0h0m4 0h0m5 0h0m2 0h0m-200 1h0m28 0h0m39 0h0m21 0h0m1 0h0m2 0h0m5 0h0m4 0h0m85 0h0m1 0h0m4 0h0m6 0h0m25 0h0m10 0h0m-168 1h0m1 0h0m7 0h0m26 0h0m3 0h0m4 0h0m74 0h0m2 0h0m12 0h0m1 0h0m-167 1h0m34 0h0m12 0h0m7 0h0m5 0h0m17 0h0m7 0h0m73 0h0m9 0h0m11 0h0m5 0h0m2 0h0m-184 1h0m11 0h0m38 0h0m30 0h0m0 0h0m2 0h0m2 0h0m1 0h0m0 0h0m69 0h0m2 0h0m11 0h0m5 0h0m2 0h0m4 0h0m3 0h0m15 0h0m-203 1h0m0 0h0m8 0h0m44 0h0m13 0h0m10 0h0m15 0h0m2 0h0m71 0h0m4 0h0m6 0h0m2 0h0m17 0h0m-184 1h0m17 0h0m49 0h0m4 0h0m3 0h0m5 0h0m5 0h0m69 0h0m0 0h0m1 0h0m2 0h0m1 0h0m1 0h0m2 0h0m1 0h0m10 0h0m6 0h0m39 0h0m-205 1h0m51 0h0m6 0h0m15 0h0m0 0h0m1 0h0m2 0h0m2 0h0m66 0h0m0 0h0m2 0h0m4 0h0m9 0h0m5 0h0m16 0h0m0 0h0m-205 1h0m28 0h0m3 0h0m41 0h0m22 0h0m0 0h0m1 0h0m87 0h0m3 0h0m1 0h0m0 0h0m9 0h0m3 0h0m2 0h0m20 0h0m-204 1h0m38 0h0m25 0h0m9 0h0m6 0h0m3 0h0m1 0h0m3 0h0m1 0h0m77 0h0m3 0h0m11 0h0m-201 1h0m20 0h0m86 0h0m5 0h0m1 0h0m74 0h0m1 0h0m6 0h0m3 0h0m11 0h0m-195 1h0m61 0h0m4 0h0m5 0h0m0 0h0m7 0h0m4 0h0m0 0h0m1 0h0m6 0h0m4 0h0m1 0h0m7 0h0m0 0h0m1 0h0m0 0h0m62 0h0m0 0h0m1 0h0m1 0h0m39 0h0m-220 1h0m24 0h0m0 0h0m0 0h0m62 0h0m15 0h0m2 0h0m3 0h0m5 0h0m1 0h0m2 0h0m3 0h0m68 0h0m3 0h0m4 0h0m3 0h0m4 0h0m3 0h0m8 0h0m-206 1h0m8 0h0m32 0h0m17 0h0m18 0h0m3 0h0m17 0h0m5 0h0m7 0h0m4 0h0m63 0h0m1 0h0m6 0h0m32 0h0m8 0h0m11 0h0m0 0h0m-134 1h0m2 0h0m1 0h0m6 0h0m6 0h0m58 0h0m6 0h0m3 0h0m9 0h0m18 0h0m-212 1h0m21 0h0m8 0h0m81 0h0m1 0h0m1 0h0m7 0h0m6 0h0m51 0h0m2 0h0m7 0h0m0 0h0m1 0h0m8 0h0m5 0h0m3 0h0m-193 1h0m24 0h0m11 0h0m31 0h0m14 0h0m14 0h0m7 0h0m8 0h0m7 0h0m0 0h0m1 0h0m51 0h0m1 0h0m1 0h0m5 0h0m1 0h0m1 0h0m17 0h0m20 0h0m-222 1h0m28 0h0m4 0h0m60 0h0m6 0h0m19 0h0m1 0h0m4 0h0m6 0h0m1 0h0m44 0h0m3 0h0m1 0h0m1 0h0m3 0h0m0 0h0m1 0h0m8 0h0m0 0h0m5 0h0m7 0h0m19 0h0m15 0h0m-236 1h0m49 0h0m56 0h0m1 0h0m7 0h0m8 0h0m2 0h0m1 0h0m1 0h0m0 0h0m3 0h0m1 0h0m1 0h0m44 0h0m0 0h0m1 0h0m1 0h0m9 0h0m3 0h0m36 0h0m-192 1h0m49 0h0m24 0h0m1 0h0m5 0h0m0 0h0m3 0h0m1 0h0m3 0h0m5 0h0m1 0h0m6 0h0m44 0h0m2 0h0m3 0h0m1 0h0m0 0h0m1 0h0m9 0h0m11 0h0m22 0h0m-211 1h0m91 0h0m7 0h0m7 0h0m0 0h0m2 0h0m5 0h0m5 0h0m1 0h0m4 0h0m1 0h0m1 0h0m39 0h0m2 0h0m0 0h0m4 0h0m6 0h0m31 0h0m23 0h0m-157 1h0m9 0h0m29 0h0m2 0h0m2 0h0m1 0h0m6 0h0m4 0h0m2 0h0m1 0h0m2 0h0m19 0h0m1 0h0m0 0h0m2 0h0m1 0h0m1 0h0m0 0h0m10 0h0m3 0h0m6 0h0m47 0h0m-161 1h0m11 0h0m12 0h0m16 0h0m18 0h0m1 0h0m5 0h0m2 0h0m1 0h0m0 0h0m3 0h0m6 0h0m13 0h0m0 0h0m2 0h0m3 0h0m4 0h0m0 0h0m1 0h0m0 0h0m6 0h0m3 0h0m16 0h0m13 0h0m9 0h0m6 0h0m15 0h0m-118 1h0m3 0h0m3 0h0m2 0h0m5 0h0m3 0h0m4 0h0m1 0h0m1 0h0m1 0h0m4 0h0m5 0h0m1 0h0m2 0h0m4 0h0m1 0h0m3 0h0m3 0h0m0 0h0m4 0h0m4 0h0m4 0h0m4 0h0m4 0h0m1 0h0m1 0h0m1 0h0m-127 1h0m9 0h0m16 0h0m21 0h0m2 0h0m11 0h0m4 0h0m0 0h0m3 0h0m3 0h0m2 0h0m2 0h0m4 0h0m1 0h0m2 0h0m0 0h0m4 0h0m2 0h0m0 0h0m2 0h0m1 0h0m0 0h0m3 0h0m2 0h0m23 0h0m7 0h0m3 0h0m4 0h0m5 0h0m-128 1h0m9 0h0m11 0h0m18 0h0m6 0h0m1 0h0m12 0h0m0 0h0m5 0h0m6 0h0m0 0h0m3 0h0m1 0h0m1 0h0m2 0h0m0 0h0m2 0h0m2 0h0m2 0h0m2 0h0m0 0h0m1 0h0m2 0h0m1 0h0m4 0h0m1 0h0m2 0h0m3 0h0m2 0h0m10 0h0m1 0h0m-95 1h0m17 0h0m7 0h0m11 0h0m4 0h0m4 0h0m0 0h0m0 0h0m1 0h0m4 0h0m0 0h0m4 0h0m1 0h0m7 0h0m1 0h0m12 0h0m6 0h0m6 0h0m1 0h0m4 0h0m3 0h0m48 0h0m-144 1h0m28 0h0m7 0h0m6 0h0m13 0h0m2 0h0m2 0h0m10 0h0m5 0h0m1 0h0m6 0h0m1 0h0m0 0h0m3 0h0m3 0h0m4 0h0m12 0h0m13 0h0m5 0h0m-113 1h0m2 0h0m20 0h0m8 0h0m8 0h0m9 0h0m9 0h0m5 0h0m4 0h0m4 0h0m12 0h0m4 0h0m15 0h0m4 0h0" stroke="#6a00d8" stroke-width="1.45" stroke-linecap="square"/><polygon points="838.3,288.8 849.3,285.2 860.3,288.8 869.4,296.1 872.2,301.6 874.9,304.4 893.2,304.4 907.9,304.4 918.9,305.3 922.6,316.3 926.2,329.1 922.6,347.4 918.9,363.9 913.4,378.6 909.7,393.3 909.7,407.9 911.6,422.6 909.7,437.2 904.2,448.2 900.6,459.2 900.6,473.9 898.7,484.9 887.8,492.2 874.9,495.9 862.1,494.0 849.3,490.4 838.3,484.9 832.8,475.7 827.3,466.5 816.3,459.2 805.3,451.9 798.0,439.1 790.6,429.9 779.6,422.6 765.0,413.4 755.8,406.1 752.1,393.3 754.0,378.6 761.3,367.6 774.1,354.8 787.0,343.8 801.6,331.0 814.5,318.1 827.3,301.6" fill="#6a00d8" stroke="#6a00d8" stroke-width="1.5" stroke-linejoin="round"/><polygon points="840.1,296.1 849.3,290.7 860.3,294.3 869.4,301.6 872.2,309.0 874.9,310.8 893.2,312.6 907.9,314.5 915.2,323.6 913.4,342.0 909.7,360.3 904.2,374.9 898.7,391.4 895.1,407.9 898.7,422.6 893.2,439.1 889.6,453.7 891.4,472.0 885.9,483.0 874.9,490.4 867.6,490.4 862.1,448.2 843.8,448.2 830.9,455.5 819.9,453.7 809.0,444.6 801.6,429.9 790.6,422.6 776.0,417.1 763.1,409.7 756.7,400.6 755.8,387.8 759.5,378.6 772.3,365.8 787.0,352.9 801.6,340.1 816.3,327.3 827.3,310.8" fill="url(#g_cL)"/><polygon points="868.0,399.7 856.6,407.9 852.0,417.1 854.8,426.2 869.4,440.9 872.0,440.9 872.0,399.7" fill="#6a00d8" stroke="#6a00d8" stroke-width="1" stroke-linejoin="round"/><polygon points="849.3,439.1 872.0,443.6 872.0,481.2 865.8,493.1 849.3,490.4 838.3,484.9 834.6,473.9 838.3,464.7 845.6,455.5" fill="#6a00d8" stroke="#6a00d8" stroke-width="1" stroke-linejoin="round"/><ellipse cx="869.1" cy="486.7" rx="2.9" ry="5.1" fill="#e6ddf2" transform="rotate(0 869.1 486.7)"/><ellipse cx="885.9" cy="473.0" rx="3.3" ry="1.5" fill="#6a00d8" transform="rotate(0 885.9 473.0)"/><ellipse cx="825.8" cy="361.6" rx="25.1" ry="37.0" transform="rotate(8 825.8 361.6)" fill="url(#gr_cL)" stroke="#fff" stroke-width="1.5"/><ellipse cx="829.5" cy="360.6" rx="13.2" ry="25.1" transform="rotate(8 829.5 360.6)" fill="url(#gr_cL)" stroke="#fff" stroke-width="1.5"/><ellipse cx="830.9" cy="359.4" rx="8.2" ry="15.6" transform="rotate(8 830.9 359.4)" fill="url(#gr_cL)" stroke="#fff" stroke-width="1.5"/></g><line x1="872.2" y1="265" x2="872.2" y2="503" stroke="#000" stroke-width="2"/><rect x="711" y="266" width="254" height="236" fill="none" stroke="#000" stroke-width="2.1"/><text x="721.2" y="284.2" font-size="19.8" font-weight="normal" fill="#000" text-anchor="start"  textLength="72.5" lengthAdjust="spacingAndGlyphs">Single +</text><text x="952.4" y="284.2" font-size="19.3" font-weight="normal" fill="#000" text-anchor="end" >Dual++</text><g clip-path="url(#clip_cR)"><path d="M1143.5 267.5h0m1 0h0m8 0h0m-56 1h0m2 0h0m6 0h0m4 0h0m12 0h0m26 0h0m-50 1h0m9 0h0m1 0h0m37 0h0m40 0h0m-26 1h0m58 0h0m-166 1h0m48 0h0m9 0h0m14 0h0m14 0h0m16 0h0m11 0h0m-72 1h0m22 0h0m37 0h0m-63 1h0m3 0h0m2 0h0m20 0h0m30 0h0m6 0h0m12 0h0m-52 1h0m7 0h0m2 0h0m10 0h0m11 0h0m-32 1h0m1 0h0m0 0h0m9 0h0m4 0h0m-10 1h0m4 0h0m2 0h0m7 0h0m0 0h0m1 0h0m13 0h0m-67 1h0m20 0h0m12 0h0m3 0h0m1 0h0m5 0h0m2 0h0m0 0h0m3 0h0m3 0h0m54 0h0m-87 1h0m7 0h0m5 0h0m0 0h0m2 0h0m3 0h0m1 0h0m5 0h0m5 0h0m2 0h0m2 0h0m0 0h0m16 0h0m14 0h0m17 0h0m-69 1h0m3 0h0m2 0h0m0 0h0m23 0h0m16 0h0m-49 1h0m4 0h0m4 0h0m25 0h0m15 0h0m3 0h0m2 0h0m14 0h0m-64 1h0m32 0h0m29 0h0m33 0h0m-95 1h0m1 0h0m1 0h0m0 0h0m1 0h0m31 0h0m7 0h0m13 0h0m1 0h0m2 0h0m9 0h0m-71 1h0m2 0h0m4 0h0m30 0h0m18 0h0m5 0h0m6 0h0m-28 1h0m1 0h0m6 0h0m0 0h0m4 0h0m5 0h0m-10 1h0m10 0h0m8 0h0m1 0h0m34 0h0m-98 1h0m41 0h0m63 0h0m-105 1h0m47 0h0m3 0h0m2 0h0m12 0h0m-69 1h0m4 0h0m7 0h0m44 0h0m19 0h0m1 0h0m13 0h0m-98 1h0m14 0h0m5 0h0m42 0h0m2 0h0m5 0h0m5 0h0m20 0h0m-79 1h0m1 0h0m0 0h0m1 0h0m48 0h0m0 0h0m8 0h0m-83 1h0m25 0h0m2 0h0m45 0h0m16 0h0m3 0h0m13 0h0m6 0h0m-88 1h0m1 0h0m2 0h0m0 0h0m47 0h0m8 0h0m-61 1h0m1 0h0m2 0h0m2 0h0m3 0h0m48 0h0m6 0h0m15 0h0m-71 1h0m1 0h0m47 0h0m5 0h0m-63 1h0m4 0h0m5 0h0m2 0h0m51 0h0m4 0h0m1 0h0m8 0h0m36 0h0m-109 1h0m3 0h0m3 0h0m59 0h0m26 0h0m5 0h0m-115 1h0m80 0h0m1 0h0m4 0h0m3 0h0m1 0h0m1 0h0m8 0h0m-78 1h0m59 0h0m1 0h0m9 0h0m1 0h0m1 0h0m3 0h0m3 0h0m27 0h0m-114 1h0m9 0h0m5 0h0m54 0h0m3 0h0m4 0h0m0 0h0m7 0h0m0 0h0m3 0h0m15 0h0m20 0h0m-51 1h0m2 0h0m2 0h0m1 0h0m2 0h0m0 0h0m21 0h0m-105 1h0m20 0h0m2 0h0m0 0h0m58 0h0m4 0h0m7 0h0m12 0h0m56 0h0m-145 1h0m7 0h0m62 0h0m11 0h0m-76 1h0m68 0h0m5 0h0m21 0h0m-94 1h0m61 0h0m12 0h0m-90 1h0m10 0h0m4 0h0m64 0h0m2 0h0m3 0h0m2 0h0m0 0h0m10 0h0m0 0h0m8 0h0m-91 1h0m3 0h0m0 0h0m1 0h0m65 0h0m0 0h0m40 0h0m-108 1h0m65 0h0m4 0h0m11 0h0m5 0h0m-91 1h0m3 0h0m1 0h0m1 0h0m2 0h0m66 0h0m6 0h0m6 0h0m6 0h0m2 0h0m2 0h0m5 0h0m-103 1h0m76 0h0m2 0h0m5 0h0m9 0h0m18 0h0m20 0h0m-121 1h0m0 0h0m67 0h0m1 0h0m0 0h0m5 0h0m2 0h0m-75 1h0m70 0h0m2 0h0m2 0h0m4 0h0m35 0h0m-118 1h0m2 0h0m3 0h0m69 0h0m0 0h0m1 0h0m0 0h0m5 0h0m30 0h0m-114 1h0m6 0h0m74 0h0m4 0h0m0 0h0m3 0h0m3 0h0m4 0h0m7 0h0m1 0h0m-103 1h0m7 0h0m1 0h0m76 0h0m0 0h0m5 0h0m9 0h0m33 0h0m-133 1h0m4 0h0m1 0h0m5 0h0m71 0h0m3 0h0m3 0h0m2 0h0m1 0h0m2 0h0m-92 1h0m1 0h0m5 0h0m85 0h0m3 0h0m2 0h0m-104 1h0m14 0h0m77 0h0m8 0h0m2 0h0m8 0h0m5 0h0m-114 1h0m2 0h0m92 0h0m15 0h0m21 0h0m7 0h0m-130 1h0m84 0h0m1 0h0m0 0h0m13 0h0m11 0h0m-108 1h0m4 0h0m2 0h0m0 0h0m0 0h0m0 0h0m79 0h0m1 0h0m2 0h0m12 0h0m-102 1h0m2 0h0m3 0h0m0 0h0m3 0h0m81 0h0m3 0h0m5 0h0m3 0h0m11 0h0m-107 1h0m0 0h0m84 0h0m3 0h0m28 0h0m-116 1h0m85 0h0m3 0h0m3 0h0m0 0h0m1 0h0m-94 1h0m1 0h0m88 0h0m8 0h0m17 0h0m-116 1h0m3 0h0m92 0h0m1 0h0m1 0h0m2 0h0m32 0h0m-36 1h0m30 0h0m-133 1h0m7 0h0m2 0h0m1 0h0m89 0h0m1 0h0m10 0h0m6 0h0m8 0h0m-124 1h0m4 0h0m7 0h0m93 0h0m17 0h0m0 0h0m15 0h0m1 0h0m3 0h0m-160 1h0m18 0h0m102 0h0m2 0h0m10 0h0m12 0h0m-118 1h0m94 0h0m3 0h0m4 0h0m3 0h0m0 0h0m5 0h0m9 0h0m17 0h0m-147 1h0m9 0h0m1 0h0m5 0h0m94 0h0m0 0h0m7 0h0m6 0h0m2 0h0m3 0h0m12 0h0m-131 1h0m1 0h0m2 0h0m1 0h0m1 0h0m96 0h0m0 0h0m16 0h0m-121 1h0m7 0h0m0 0h0m106 0h0m1 0h0m23 0h0m-182 1h0m17 0h0m25 0h0m4 0h0m2 0h0m0 0h0m5 0h0m96 0h0m3 0h0m1 0h0m1 0h0m13 0h0m-119 1h0m103 0h0m4 0h0m8 0h0m40 0h0m-159 1h0m106 0h0m1 0h0m1 0h0m3 0h0m0 0h0m-109 1h0m106 0h0m0 0h0m1 0h0m4 0h0m6 0h0m-120 1h0m5 0h0m103 0h0m1 0h0m3 0h0m1 0h0m3 0h0m5 0h0m0 0h0m18 0h0m4 0h0m-34 1h0m5 0h0m6 0h0m16 0h0m9 0h0m-163 1h0m132 0h0m5 0h0m-161 1h0m36 0h0m8 0h0m109 0h0m2 0h0m9 0h0m3 0h0m18 0h0m-157 1h0m9 0h0m7 0h0m114 0h0m3 0h0m9 0h0m7 0h0m10 0h0m-162 1h0m8 0h0m10 0h0m1 0h0m0 0h0m1 0h0m110 0h0m3 0h0m8 0h0m7 0h0m2 0h0m-22 1h0m5 0h0m4 0h0m15 0h0m11 0h0m-153 1h0m7 0h0m111 0h0m0 0h0m0 0h0m7 0h0m3 0h0m6 0h0m-163 1h0m35 0h0m0 0h0m115 0h0m1 0h0m4 0h0m3 0h0m2 0h0m0 0h0m6 0h0m2 0h0m10 0h0m3 0h0m-173 1h0m10 0h0m7 0h0m9 0h0m117 0h0m3 0h0m3 0h0m2 0h0m30 0h0m-202 1h0m33 0h0m130 0h0m1 0h0m1 0h0m0 0h0m3 0h0m0 0h0m-168 1h0m20 0h0m11 0h0m11 0h0m1 0h0m3 0h0m117 0h0m0 0h0m1 0h0m3 0h0m12 0h0m16 0h0m-155 1h0m3 0h0m2 0h0m117 0h0m1 0h0m-151 1h0m15 0h0m134 0h0m2 0h0m3 0h0m10 0h0m7 0h0m12 0h0m-32 1h0m2 0h0m0 0h0m1 0h0m1 0h0m1 0h0m20 0h0m18 0h0m-222 1h0m24 0h0m12 0h0m12 0h0m0 0h0m3 0h0m3 0h0m3 0h0m122 0h0m1 0h0m1 0h0m3 0h0m1 0h0m17 0h0m-178 1h0m5 0h0m25 0h0m126 0h0m1 0h0m5 0h0m28 0h0m-210 1h0m33 0h0m1 0h0m143 0h0m-169 1h0m21 0h0m22 0h0m0 0h0m124 0h0m3 0h0m0 0h0m2 0h0m2 0h0m7 0h0m10 0h0m2 0h0m9 0h0m-206 1h0m35 0h0m0 0h0m7 0h0m2 0h0m1 0h0m128 0h0m4 0h0m5 0h0m7 0h0m13 0h0m-165 1h0m7 0h0m137 0h0m-150 1h0m2 0h0m4 0h0m2 0h0m134 0h0m2 0h0m-150 1h0m14 0h0m132 0h0m3 0h0m2 0h0m2 0h0m6 0h0m0 0h0m4 0h0m-192 1h0m12 0h0m4 0h0m19 0h0m3 0h0m5 0h0m2 0h0m132 0h0m1 0h0m7 0h0m0 0h0m3 0h0m17 0h0m5 0h0m-199 1h0m34 0h0m131 0h0m3 0h0m2 0h0m7 0h0m-171 1h0m15 0h0m145 0h0m4 0h0m43 0h0m-204 1h0m13 0h0m0 0h0m3 0h0m7 0h0m133 0h0m1 0h0m0 0h0m12 0h0m10 0h0m-176 1h0m16 0h0m2 0h0m2 0h0m151 0h0m-173 1h0m11 0h0m6 0h0m4 0h0m134 0h0m1 0h0m56 0h0m-200 1h0m5 0h0m3 0h0m139 0h0m15 0h0m3 0h0m1 0h0m-191 1h0m29 0h0m1 0h0m148 0h0m-178 1h0m9 0h0m11 0h0m0 0h0m148 0h0m3 0h0m6 0h0m0 0h0m3 0h0m-171 1h0m1 0h0m8 0h0m5 0h0m4 0h0m2 0h0m2 0h0m140 0h0m3 0h0m15 0h0m-181 1h0m2 0h0m6 0h0m155 0h0m-179 1h0m29 0h0m4 0h0m3 0h0m2 0h0m140 0h0m0 0h0m7 0h0m0 0h0m1 0h0m-178 1h0m14 0h0m4 0h0m4 0h0m7 0h0m192 0h0m-225 1h0m30 0h0m1 0h0m2 0h0m0 0h0m139 0h0m4 0h0m2 0h0m7 0h0m-184 1h0m3 0h0m1 0h0m6 0h0m6 0h0m156 0h0m6 0h0m2 0h0m-173 1h0m17 0h0m5 0h0m0 0h0m142 0h0m1 0h0m3 0h0m1 0h0m11 0h0m1 0h0m5 0h0m13 0h0m-206 1h0m7 0h0m166 0h0m21 0h0m-195 1h0m22 0h0m7 0h0m143 0h0m30 0h0m-194 1h0m7 0h0m14 0h0m147 0h0m4 0h0m1 0h0m13 0h0m-194 1h0m8 0h0m0 0h0m3 0h0m5 0h0m5 0h0m2 0h0m3 0h0m0 0h0m1 0h0m145 0h0m19 0h0m8 0h0m-192 1h0m7 0h0m4 0h0m2 0h0m4 0h0m2 0h0m146 0h0m0 0h0m1 0h0m5 0h0m8 0h0m-186 1h0m174 0h0m1 0h0m-183 1h0m13 0h0m7 0h0m159 0h0m0 0h0m6 0h0m6 0h0m11 0h0m10 0h0m-184 1h0m4 0h0m-22 1h0m17 0h0m2 0h0m2 0h0m1 0h0m2 0h0m146 0h0m27 0h0m-202 1h0m5 0h0m16 0h0m152 0h0m7 0h0m5 0h0m2 0h0m17 0h0m2 0h0m20 0h0m-211 1h0m3 0h0m7 0h0m1 0h0m2 0h0m2 0h0m144 0h0m0 0h0m6 0h0m5 0h0m6 0h0m-187 1h0m8 0h0m6 0h0m3 0h0m2 0h0m3 0h0m2 0h0m1 0h0m148 0h0m2 0h0m14 0h0m15 0h0m5 0h0m-213 1h0m23 0h0m0 0h0m2 0h0m5 0h0m143 0h0m22 0h0m-196 1h0m0 0h0m15 0h0m1 0h0m5 0h0m0 0h0m1 0h0m5 0h0m1 0h0m1 0h0m161 0h0m-178 1h0m3 0h0m14 0h0m146 0h0m1 0h0m21 0h0m1 0h0m-182 1h0m9 0h0m150 0h0m2 0h0m0 0h0m0 0h0m6 0h0m1 0h0m6 0h0m1 0h0m20 0h0m-181 1h0m144 0h0m2 0h0m3 0h0m1 0h0m6 0h0m7 0h0m-189 1h0m14 0h0m8 0h0m4 0h0m1 0h0m143 0h0m1 0h0m9 0h0m0 0h0m-180 1h0m4 0h0m6 0h0m17 0h0m151 0h0m1 0h0m1 0h0m4 0h0m-184 1h0m18 0h0m6 0h0m1 0h0m2 0h0m144 0h0m4 0h0m2 0h0m6 0h0m-182 1h0m3 0h0m1 0h0m11 0h0m10 0h0m1 0h0m0 0h0m1 0h0m142 0h0m3 0h0m-175 1h0m2 0h0m4 0h0m15 0h0m5 0h0m148 0h0m1 0h0m1 0h0m9 0h0m-167 1h0m2 0h0m7 0h0m144 0h0m5 0h0m2 0h0m1 0h0m15 0h0m-185 1h0m10 0h0m0 0h0m3 0h0m0 0h0m3 0h0m3 0h0m0 0h0m1 0h0m142 0h0m2 0h0m1 0h0m1 0h0m1 0h0m2 0h0m9 0h0m-191 1h0m6 0h0m0 0h0m24 0h0m2 0h0m0 0h0m1 0h0m0 0h0m0 0h0m-31 1h0m1 0h0m15 0h0m15 0h0m1 0h0m143 0h0m1 0h0m11 0h0m21 0h0m-184 1h0m3 0h0m4 0h0m2 0h0m141 0h0m0 0h0m7 0h0m4 0h0m-153 1h0m142 0h0m2 0h0m1 0h0m3 0h0m25 0h0m32 0h0m-237 1h0m12 0h0m11 0h0m6 0h0m2 0h0m2 0h0m1 0h0m0 0h0m141 0h0m3 0h0m6 0h0m5 0h0m29 0h0m20 0h0m-238 1h0m14 0h0m12 0h0m4 0h0m3 0h0m1 0h0m1 0h0m137 0h0m0 0h0m2 0h0m2 0h0m-164 1h0m8 0h0m1 0h0m7 0h0m5 0h0m2 0h0m152 0h0m-186 1h0m3 0h0m5 0h0m7 0h0m6 0h0m8 0h0m2 0h0m141 0h0m1 0h0m1 0h0m0 0h0m9 0h0m1 0h0m11 0h0m-200 1h0m12 0h0m15 0h0m4 0h0m0 0h0m3 0h0m3 0h0m1 0h0m2 0h0m136 0h0m1 0h0m1 0h0m5 0h0m1 0h0m8 0h0m16 0h0m16 0h0m-197 1h0m7 0h0m2 0h0m141 0h0m4 0h0m3 0h0m0 0h0m1 0h0m5 0h0m3 0h0m3 0h0m-196 1h0m30 0h0m2 0h0m6 0h0m0 0h0m2 0h0m161 0h0m23 0h0m-228 1h0m45 0h0m136 0h0m4 0h0m-175 1h0m12 0h0m1 0h0m2 0h0m7 0h0m11 0h0m3 0h0m135 0h0m4 0h0m3 0h0m2 0h0m-183 1h0m17 0h0m1 0h0m17 0h0m1 0h0m3 0h0m135 0h0m1 0h0m2 0h0m10 0h0m5 0h0m-191 1h0m16 0h0m158 0h0m7 0h0m4 0h0m0 0h0m3 0h0m3 0h0m-191 1h0m26 0h0m6 0h0m2 0h0m1 0h0m1 0h0m2 0h0m1 0h0m-6 1h0m139 0h0m4 0h0m1 0h0m18 0h0m27 0h0m-212 1h0m22 0h0m12 0h0m138 0h0m13 0h0m1 0h0m-178 1h0m21 0h0m5 0h0m129 0h0m1 0h0m0 0h0m1 0h0m2 0h0m23 0h0m-205 1h0m1 0h0m9 0h0m7 0h0m17 0h0m1 0h0m2 0h0m4 0h0m140 0h0m1 0h0m1 0h0m1 0h0m5 0h0m6 0h0m2 0h0m5 0h0m-200 1h0m11 0h0m26 0h0m6 0h0m0 0h0m2 0h0m0 0h0m3 0h0m128 0h0m2 0h0m3 0h0m3 0h0m1 0h0m1 0h0m30 0h0m-183 1h0m12 0h0m3 0h0m0 0h0m140 0h0m21 0h0m0 0h0m-202 1h0m20 0h0m149 0h0m1 0h0m29 0h0m-191 1h0m2 0h0m4 0h0m2 0h0m4 0h0m6 0h0m1 0h0m5 0h0m14 0h0m0 0h0m123 0h0m2 0h0m13 0h0m8 0h0m-188 1h0m0 0h0m22 0h0m2 0h0m12 0h0m0 0h0m6 0h0m124 0h0m1 0h0m1 0h0m0 0h0m50 0h0m-229 1h0m20 0h0m11 0h0m0 0h0m8 0h0m8 0h0m4 0h0m1 0h0m4 0h0m121 0h0m22 0h0m-180 1h0m9 0h0m5 0h0m2 0h0m17 0h0m0 0h0m2 0h0m1 0h0m121 0h0m1 0h0m0 0h0m2 0h0m16 0h0m0 0h0m15 0h0m-198 1h0m8 0h0m2 0h0m11 0h0m3 0h0m2 0h0m7 0h0m1 0h0m4 0h0m7 0h0m1 0h0m117 0h0m5 0h0m6 0h0m7 0h0m-186 1h0m9 0h0m4 0h0m13 0h0m8 0h0m4 0h0m11 0h0m122 0h0m5 0h0m8 0h0m0 0h0m-192 1h0m8 0h0m15 0h0m3 0h0m1 0h0m10 0h0m7 0h0m8 0h0m6 0h0m4 0h0m114 0h0m0 0h0m0 0h0m5 0h0m2 0h0m8 0h0m-166 1h0m7 0h0m17 0h0m4 0h0m6 0h0m1 0h0m1 0h0m116 0h0m4 0h0m2 0h0m12 0h0m12 0h0m35 0h0m-206 1h0m6 0h0m2 0h0m12 0h0m2 0h0m5 0h0m114 0h0m0 0h0m9 0h0m15 0h0m41 0h0m-213 1h0m3 0h0m2 0h0m2 0h0m7 0h0m2 0h0m1 0h0m6 0h0m1 0h0m2 0h0m3 0h0m2 0h0m0 0h0m116 0h0m1 0h0m2 0h0m0 0h0m7 0h0m-182 1h0m4 0h0m8 0h0m0 0h0m5 0h0m11 0h0m21 0h0m2 0h0m0 0h0m1 0h0m120 0h0m5 0h0m1 0h0m6 0h0m0 0h0m6 0h0m2 0h0m-199 1h0m7 0h0m12 0h0m5 0h0m16 0h0m16 0h0m5 0h0m4 0h0m0 0h0m0 0h0m1 0h0m1 0h0m1 0h0m0 0h0m112 0h0m1 0h0m17 0h0m4 0h0m14 0h0m-214 1h0m1 0h0m4 0h0m1 0h0m15 0h0m27 0h0m8 0h0m123 0h0m0 0h0m3 0h0m1 0h0m5 0h0m2 0h0m-189 1h0m0 0h0m0 0h0m14 0h0m16 0h0m15 0h0m7 0h0m6 0h0m0 0h0m6 0h0m114 0h0m1 0h0m11 0h0m-162 1h0m14 0h0m2 0h0m3 0h0m5 0h0m0 0h0m1 0h0m0 0h0m9 0h0m0 0h0m1 0h0m2 0h0m112 0h0m4 0h0m3 0h0m3 0h0m-183 1h0m18 0h0m11 0h0m6 0h0m16 0h0m7 0h0m5 0h0m117 0h0m5 0h0m9 0h0m-193 1h0m23 0h0m1 0h0m5 0h0m3 0h0m20 0h0m3 0h0m116 0h0m6 0h0m3 0h0m2 0h0m3 0h0m3 0h0m-193 1h0m33 0h0m3 0h0m23 0h0m8 0h0m109 0h0m3 0h0m0 0h0m8 0h0m1 0h0m-188 1h0m34 0h0m19 0h0m8 0h0m3 0h0m1 0h0m2 0h0m1 0h0m1 0h0m107 0h0m1 0h0m2 0h0m1 0h0m1 0h0m1 0h0m39 0h0m10 0h0m-230 1h0m7 0h0m18 0h0m2 0h0m10 0h0m4 0h0m8 0h0m16 0h0m2 0h0m1 0h0m1 0h0m107 0h0m45 0h0m22 0h0m-244 1h0m28 0h0m6 0h0m14 0h0m3 0h0m16 0h0m3 0h0m1 0h0m0 0h0m0 0h0m105 0h0m0 0h0m7 0h0m11 0h0m27 0h0m-212 1h0m11 0h0m8 0h0m27 0h0m7 0h0m3 0h0m0 0h0m3 0h0m4 0h0m0 0h0m106 0h0m6 0h0m0 0h0m15 0h0m0 0h0m-196 1h0m19 0h0m1 0h0m48 0h0m1 0h0m0 0h0m105 0h0m0 0h0m31 0h0m-153 1h0m4 0h0m7 0h0m1 0h0m3 0h0m3 0h0m0 0h0m106 0h0m3 0h0m2 0h0m2 0h0m27 0h0m-213 1h0m5 0h0m9 0h0m6 0h0m18 0h0m8 0h0m4 0h0m10 0h0m3 0h0m9 0h0m108 0h0m0 0h0m27 0h0m-195 1h0m20 0h0m9 0h0m14 0h0m5 0h0m11 0h0m1 0h0m3 0h0m111 0h0m11 0h0m5 0h0m17 0h0m-169 1h0m14 0h0m4 0h0m4 0h0m3 0h0m104 0h0m0 0h0m1 0h0m19 0h0m1 0h0m9 0h0m-181 1h0m4 0h0m5 0h0m22 0h0m9 0h0m2 0h0m6 0h0m103 0h0m7 0h0m1 0h0m0 0h0m2 0h0m2 0h0m9 0h0m1 0h0m22 0h0m-219 1h0m1 0h0m53 0h0m9 0h0m5 0h0m1 0h0m0 0h0m2 0h0m104 0h0m3 0h0m0 0h0m1 0h0m7 0h0m2 0h0m18 0h0m-198 1h0m4 0h0m36 0h0m11 0h0m11 0h0m2 0h0m102 0h0m2 0h0m8 0h0m1 0h0m4 0h0m3 0h0m24 0h0m2 0h0m-222 1h0m22 0h0m10 0h0m9 0h0m14 0h0m7 0h0m13 0h0m102 0h0m4 0h0m6 0h0m3 0h0m-190 1h0m5 0h0m70 0h0m0 0h0m101 0h0m1 0h0m4 0h0m1 0h0m1 0h0m5 0h0m23 0h0m20 0h0m1 0h0m-212 1h0m9 0h0m19 0h0m13 0h0m8 0h0m0 0h0m7 0h0m102 0h0m0 0h0m1 0h0m3 0h0m1 0h0m1 0h0m16 0h0m10 0h0m-190 1h0m7 0h0m2 0h0m1 0h0m11 0h0m9 0h0m8 0h0m16 0h0m1 0h0m1 0h0m1 0h0m102 0h0m5 0h0m2 0h0m8 0h0m27 0h0m-209 1h0m4 0h0m12 0h0m33 0h0m3 0h0m2 0h0m1 0h0m0 0h0m1 0h0m2 0h0m6 0h0m100 0h0m1 0h0m8 0h0m-149 1h0m25 0h0m5 0h0m6 0h0m105 0h0m4 0h0m11 0h0m10 0h0m-198 1h0m62 0h0m7 0h0m2 0h0m2 0h0m1 0h0m114 0h0m40 0h0m5 0h0m-232 1h0m11 0h0m16 0h0m4 0h0m1 0h0m16 0h0m1 0h0m20 0h0m1 0h0m1 0h0m1 0h0m99 0h0m1 0h0m2 0h0m6 0h0m9 0h0m5 0h0m3 0h0m-181 1h0m13 0h0m2 0h0m19 0h0m12 0h0m4 0h0m2 0h0m0 0h0m1 0h0m2 0h0m101 0h0m2 0h0m0 0h0m1 0h0m4 0h0m5 0h0m-183 1h0m49 0h0m3 0h0m0 0h0m3 0h0m5 0h0m5 0h0m1 0h0m6 0h0m99 0h0m7 0h0m6 0h0m21 0h0m-195 1h0m23 0h0m0 0h0m8 0h0m8 0h0m7 0h0m12 0h0m1 0h0m0 0h0m2 0h0m99 0h0m4 0h0m2 0h0m6 0h0m52 0h0m-240 1h0m8 0h0m47 0h0m21 0h0m1 0h0m2 0h0m98 0h0m5 0h0m0 0h0m1 0h0m5 0h0m5 0h0m47 0h0m4 0h0m-216 1h0m18 0h0m3 0h0m17 0h0m10 0h0m1 0h0m2 0h0m97 0h0m2 0h0m13 0h0m1 0h0m1 0h0m7 0h0m3 0h0m15 0h0m-214 1h0m9 0h0m5 0h0m10 0h0m29 0h0m4 0h0m3 0h0m5 0h0m2 0h0m0 0h0m4 0h0m2 0h0m103 0h0m0 0h0m2 0h0m12 0h0m13 0h0m-166 1h0m7 0h0m6 0h0m20 0h0m0 0h0m3 0h0m1 0h0m100 0h0m1 0h0m4 0h0m26 0h0m17 0h0m-197 1h0m4 0h0m23 0h0m10 0h0m2 0h0m4 0h0m4 0h0m1 0h0m1 0h0m100 0h0m4 0h0m7 0h0m0 0h0m4 0h0m5 0h0m44 0h0m-173 1h0m6 0h0m2 0h0m0 0h0m105 0h0m0 0h0m4 0h0m3 0h0m10 0h0m-167 1h0m2 0h0m10 0h0m5 0h0m22 0h0m3 0h0m0 0h0m2 0h0m1 0h0m1 0h0m99 0h0m3 0h0m1 0h0m2 0h0m5 0h0m-167 1h0m3 0h0m8 0h0m25 0h0m15 0h0m1 0h0m5 0h0m2 0h0m98 0h0m8 0h0m18 0h0m3 0h0m11 0h0m5 0h0m-183 1h0m5 0h0m23 0h0m2 0h0m0 0h0m2 0h0m1 0h0m2 0h0m1 0h0m3 0h0m1 0h0m96 0h0m2 0h0m3 0h0m1 0h0m1 0h0m14 0h0m-173 1h0m4 0h0m6 0h0m12 0h0m0 0h0m26 0h0m106 0h0m1 0h0m1 0h0m5 0h0m4 0h0m1 0h0m5 0h0m14 0h0m4 0h0m0 0h0m-193 1h0m20 0h0m29 0h0m4 0h0m0 0h0m4 0h0m0 0h0m98 0h0m1 0h0m0 0h0m0 0h0m4 0h0m6 0h0m17 0h0m3 0h0m-198 1h0m20 0h0m21 0h0m16 0h0m9 0h0m3 0h0m101 0h0m2 0h0m41 0h0m-163 1h0m5 0h0m3 0h0m12 0h0m3 0h0m95 0h0m1 0h0m1 0h0m5 0h0m7 0h0m27 0h0m-217 1h0m32 0h0m35 0h0m3 0h0m1 0h0m0 0h0m8 0h0m95 0h0m3 0h0m3 0h0m4 0h0m7 0h0m3 0h0m21 0h0m-160 1h0m11 0h0m3 0h0m9 0h0m2 0h0m95 0h0m2 0h0m2 0h0m21 0h0m7 0h0m-183 1h0m49 0h0m4 0h0m2 0h0m4 0h0m1 0h0m89 0h0m8 0h0m12 0h0m1 0h0m4 0h0m48 0h0m-238 1h0m26 0h0m19 0h0m4 0h0m6 0h0m9 0h0m6 0h0m0 0h0m1 0h0m2 0h0m0 0h0m95 0h0m-164 1h0m16 0h0m8 0h0m35 0h0m3 0h0m4 0h0m3 0h0m91 0h0m1 0h0m2 0h0m4 0h0m8 0h0m4 0h0m12 0h0m-203 1h0m12 0h0m45 0h0m114 0h0m13 0h0m19 0h0m2 0h0m-197 1h0m0 0h0m12 0h0m37 0h0m10 0h0m3 0h0m4 0h0m1 0h0m1 0h0m5 0h0m0 0h0m99 0h0m2 0h0m14 0h0m8 0h0m1 0h0m7 0h0m-200 1h0m17 0h0m13 0h0m24 0h0m7 0h0m2 0h0m4 0h0m5 0h0m3 0h0m84 0h0m0 0h0m1 0h0m1 0h0m3 0h0m4 0h0m5 0h0m2 0h0m3 0h0m1 0h0m-128 1h0m8 0h0m7 0h0m1 0h0m4 0h0m2 0h0m2 0h0m86 0h0m2 0h0m1 0h0m15 0h0m4 0h0m1 0h0m35 0h0m-211 1h0m28 0h0m11 0h0m2 0h0m18 0h0m7 0h0m85 0h0m0 0h0m1 0h0m1 0h0m9 0h0m-126 1h0m8 0h0m2 0h0m0 0h0m4 0h0m5 0h0m11 0h0m2 0h0m0 0h0m79 0h0m1 0h0m2 0h0m5 0h0m5 0h0m22 0h0m10 0h0m24 0h0m-178 1h0m3 0h0m11 0h0m0 0h0m11 0h0m1 0h0m1 0h0m4 0h0m0 0h0m79 0h0m2 0h0m3 0h0m6 0h0m16 0h0m2 0h0m5 0h0m11 0h0m-209 1h0m12 0h0m3 0h0m3 0h0m34 0h0m2 0h0m13 0h0m2 0h0m6 0h0m1 0h0m2 0h0m7 0h0m2 0h0m1 0h0m1 0h0m26 0h0m48 0h0m6 0h0m4 0h0m2 0h0m8 0h0m4 0h0m2 0h0m27 0h0m-208 1h0m40 0h0m8 0h0m5 0h0m3 0h0m3 0h0m10 0h0m0 0h0m2 0h0m3 0h0m1 0h0m1 0h0m3 0h0m0 0h0m22 0h0m5 0h0m1 0h0m4 0h0m41 0h0m4 0h0m1 0h0m16 0h0m5 0h0m38 0h0m-228 1h0m25 0h0m45 0h0m2 0h0m10 0h0m0 0h0m2 0h0m2 0h0m3 0h0m9 0h0m16 0h0m4 0h0m1 0h0m2 0h0m2 0h0m1 0h0m4 0h0m36 0h0m1 0h0m0 0h0m1 0h0m6 0h0m1 0h0m1 0h0m13 0h0m11 0h0m15 0h0m-205 1h0m20 0h0m1 0h0m8 0h0m33 0h0m2 0h0m4 0h0m8 0h0m14 0h0m2 0h0m1 0h0m3 0h0m1 0h0m1 0h0m0 0h0m4 0h0m6 0h0m2 0h0m5 0h0m4 0h0m2 0h0m0 0h0m2 0h0m3 0h0m1 0h0m24 0h0m1 0h0m2 0h0m7 0h0m44 0h0m-197 1h0m57 0h0m13 0h0m3 0h0m1 0h0m4 0h0m0 0h0m2 0h0m3 0h0m2 0h0m5 0h0m2 0h0m2 0h0m2 0h0m1 0h0m2 0h0m0 0h0m0 0h0m3 0h0m1 0h0m2 0h0m0 0h0m4 0h0m1 0h0m2 0h0m4 0h0m1 0h0m2 0h0m2 0h0m25 0h0m1 0h0m2 0h0m3 0h0m28 0h0m-161 1h0m18 0h0m13 0h0m18 0h0m2 0h0m0 0h0m1 0h0m1 0h0m2 0h0m2 0h0m5 0h0m1 0h0m1 0h0m5 0h0m0 0h0m4 0h0m1 0h0m6 0h0m2 0h0m2 0h0m0 0h0m2 0h0m1 0h0m2 0h0m2 0h0m3 0h0m1 0h0m0 0h0m1 0h0m3 0h0m3 0h0m4 0h0m1 0h0m9 0h0m4 0h0m1 0h0m6 0h0m2 0h0m1 0h0m3 0h0m7 0h0m1 0h0m0 0h0m0 0h0m1 0h0m8 0h0m3 0h0m3 0h0m-118 1h0m18 0h0m9 0h0m15 0h0m19 0h0m1 0h0m2 0h0m1 0h0m0 0h0m2 0h0m6 0h0m0 0h0m11 0h0m1 0h0m4 0h0m4 0h0m3 0h0m4 0h0m0 0h0m3 0h0m1 0h0m5 0h0m0 0h0m1 0h0m40 0h0m-181 1h0m7 0h0m4 0h0m4 0h0m9 0h0m19 0h0m18 0h0m1 0h0m2 0h0m0 0h0m1 0h0m2 0h0m1 0h0m4 0h0m1 0h0m5 0h0m7 0h0m3 0h0m3 0h0m3 0h0m6 0h0m2 0h0m0 0h0m3 0h0m3 0h0m2 0h0m2 0h0m7 0h0m3 0h0m2 0h0m5 0h0m10 0h0m9 0h0m10 0h0m-111 1h0m0 0h0m0 0h0m1 0h0m2 0h0m2 0h0m4 0h0m3 0h0m2 0h0m2 0h0m3 0h0m20 0h0m2 0h0m2 0h0m2 0h0m6 0h0m0 0h0m2 0h0m0 0h0m4 0h0m1 0h0m3 0h0m3 0h0m0 0h0m7 0h0m1 0h0m0 0h0m4 0h0m3 0h0m16 0h0m1 0h0m6 0h0m8 0h0m24 0h0m-194 1h0m18 0h0m2 0h0m10 0h0m7 0h0m19 0h0m13 0h0m4 0h0m5 0h0m7 0h0m13 0h0m11 0h0m8 0h0m0 0h0m8 0h0m2 0h0m3 0h0m2 0h0m8 0h0m3 0h0m33 0h0m25 0h0m-168 1h0m5 0h0m14 0h0m3 0h0m11 0h0m7 0h0m6 0h0m1 0h0m1 0h0m5 0h0m3 0h0m4 0h0m1 0h0m5 0h0m10 0h0m1 0h0m2 0h0m2 0h0m3 0h0m6 0h0m7 0h0m5 0h0m4 0h0m3 0h0m15 0h0m4 0h0m3 0h0m-126 1h0m3 0h0m4 0h0m7 0h0m2 0h0m27 0h0m2 0h0m0 0h0m21 0h0m4 0h0m3 0h0m4 0h0m2 0h0m62 0h0" stroke="#13a313" stroke-width="1.45" stroke-linecap="square"/><polygon points="1094.2,281.5 1105.2,277.8 1118.1,279.7 1127.2,288.8 1132.7,298.0 1135.5,305.3 1140.1,314.5 1147.4,329.1 1154.7,343.8 1158.4,360.3 1158.4,374.9 1156.5,393.3 1154.7,411.6 1154.7,429.9 1154.7,448.2 1154.7,466.5 1149.2,484.9 1141.9,492.2 1130.9,494.0 1119.9,494.0 1108.9,492.2 1097.9,490.4 1086.9,492.2 1077.8,492.2 1068.6,488.5 1059.4,475.7 1057.6,461.0 1053.9,448.2 1046.6,439.1 1041.1,429.9 1031.9,422.6 1020.9,413.4 1015.4,400.6 1013.6,384.1 1019.1,374.9 1030.1,360.3 1042.9,347.4 1057.6,331.0 1072.3,310.8 1083.2,294.3" fill="#0aa00a" stroke="#0aa00a" stroke-width="1.5" stroke-linejoin="round"/><polygon points="1097.9,285.2 1105.2,281.5 1118.1,285.2 1125.4,296.1 1129.1,310.8 1130.9,329.1 1134.6,347.4 1135.5,360.3 1145.6,358.4 1151.1,363.9 1152.0,393.3 1151.1,411.6 1147.4,429.9 1145.6,448.2 1145.6,466.5 1140.1,475.7 1134.6,488.5 1127.2,492.2 1112.6,490.4 1105.2,481.2 1101.6,466.5 1094.2,459.2 1086.9,475.7 1083.2,488.5 1075.9,475.7 1072.3,466.5 1059.4,451.9 1050.3,437.2 1037.4,426.2 1024.6,417.1 1019.1,404.2 1017.3,384.1 1022.8,374.9 1033.8,362.1 1046.6,349.3 1061.3,332.8 1075.9,312.6 1088.7,294.3" fill="url(#g_cR)"/><polygon points="1128.1,310.8 1135.3,304.4 1135.3,360.3 1129.1,371.3 1123.2,369.4 1125.4,347.4 1128.1,329.1" fill="#0aa00a" stroke="#0aa00a" stroke-width="1" stroke-linejoin="round"/><polygon points="1119.9,382.3 1129.1,384.1 1131.3,393.3 1129.1,411.6 1119.9,417.1 1108.9,417.1 1103.4,411.6 1107.1,396.9 1114.4,385.9" fill="#0aa00a" stroke="#0aa00a" stroke-width="1" stroke-linejoin="round"/><polygon points="1086.9,455.5 1101.6,453.7 1127.2,455.5 1128.1,459.6 1112.6,461.0 1101.6,466.5 1097.9,477.5 1090.6,484.9 1086.9,475.7" fill="#0aa00a" stroke="#0aa00a" stroke-width="1" stroke-linejoin="round"/><ellipse cx="1125.4" cy="478.4" rx="2.7" ry="2.7" fill="#0aa00a" transform="rotate(0 1125.4 478.4)"/><ellipse cx="1081.4" cy="354.8" rx="22.9" ry="41.2" transform="rotate(8 1081.4 354.8)" fill="url(#gr_cR)" stroke="#fff" stroke-width="1.5"/><ellipse cx="1086.9" cy="351.1" rx="12.8" ry="25.7" transform="rotate(8 1086.9 351.1)" fill="url(#gr_cR)" stroke="#fff" stroke-width="1.5"/><ellipse cx="1086.9" cy="353.3" rx="7.3" ry="17.8" transform="rotate(8 1086.9 353.3)" fill="url(#gr_cR)" stroke="#fff" stroke-width="1.5"/></g><line x1="1135.5" y1="265" x2="1135.5" y2="503" stroke="#000" stroke-width="2"/><rect x="974.3" y="266" width="254" height="236" fill="none" stroke="#000" stroke-width="2.1"/><text x="984.5" y="284.2" font-size="19.8" font-weight="normal" fill="#000" text-anchor="start"  textLength="72.5" lengthAdjust="spacingAndGlyphs">Single +</text><text x="1215.7" y="284.2" font-size="19.3" font-weight="normal" fill="#000" text-anchor="end" >Dual++</text><text x="838" y="17" font-size="19.5" font-weight="bold" fill="#000" text-anchor="middle" >AβE3</text><text x="1100" y="17" font-size="19.5" font-weight="bold" fill="#000" text-anchor="middle" >AβE4</text><rect x="674.7" y="101.0" width="21.6" height="87" rx="5" fill="#fff" stroke="#222" stroke-width="1.4"/><text x="0" y="0" font-size="20.5" font-weight="bold" text-anchor="middle" transform="translate(692.8,144.5) rotate(-90)">4 hour</text><rect x="673.6" y="356.6" width="22.2" height="86" rx="5" fill="#fff" stroke="#222" stroke-width="1.4"/><text x="0" y="0" font-size="20.5" font-weight="bold" text-anchor="middle" transform="translate(692.0,399.6) rotate(-90)">24 hour</text><line x1="705.4" y1="499.5" x2="705.4" y2="394" stroke="#000" stroke-width="1.2"/><path d="M702.7,396 L705.4,388 L708.1,396 Z" fill="#000"/><text x="0" y="0" font-size="17" text-anchor="middle" transform="translate(701.2,478.7) rotate(-90)">GFP</text><line x1="714" y1="507.2" x2="829" y2="507.2" stroke="#000" stroke-width="1.2"/><path d="M827,504.7 L835,507.4 L827,510.1 Z" fill="#000"/><text x="713.6" y="522" font-size="16.5" font-weight="normal" fill="#000" text-anchor="start"  textLength="55.5" lengthAdjust="spacingAndGlyphs">Aβ-555</text><rect x="1337" y="115.2" width="45.90000000000009" height="110.3" fill="#6a16d8" stroke="#000" stroke-width="1.6"/><rect x="1393.5" y="102.8" width="45.5" height="122.7" fill="#5cfa0c" stroke="#000" stroke-width="1.6"/><line x1="1360.2" y1="115.2" x2="1360.2" y2="86.2" stroke="#000" stroke-width="2"/><line x1="1348.6000000000001" y1="86.2" x2="1371.8" y2="86.2" stroke="#000" stroke-width="2"/><line x1="1416.2" y1="102.8" x2="1416.2" y2="80.4" stroke="#000" stroke-width="2"/><line x1="1404.6000000000001" y1="80.4" x2="1427.8" y2="80.4" stroke="#000" stroke-width="2"/><circle cx="1360.2" cy="37" r="4.4" fill="#000"/><circle cx="1360.2" cy="115.1" r="4.4" fill="#000"/><circle cx="1360.2" cy="139.4" r="4.4" fill="#000"/><circle cx="1360.2" cy="165.6" r="4.4" fill="#000"/><circle cx="1416.2" cy="47.7" r="4.4" fill="#000"/><circle cx="1416.2" cy="90.9" r="4.4" fill="#000"/><circle cx="1409.6" cy="137.6" r="4.4" fill="#000"/><circle cx="1422" cy="132" r="4.4" fill="#000"/><line x1="1313.2" y1="17.1" x2="1313.2" y2="226.6" stroke="#000" stroke-width="2.3"/><line x1="1307.2" y1="225.5" x2="1463.2" y2="225.5" stroke="#000" stroke-width="2.3"/><line x1="1307.2" y1="225.5" x2="1313.2" y2="225.5" stroke="#000" stroke-width="2"/><text x="1303.7" y="230.5" font-size="14" font-weight="bold" text-anchor="end">0</text><line x1="1307.2" y1="184.1" x2="1313.2" y2="184.1" stroke="#000" stroke-width="2"/><text x="1303.7" y="189.1" font-size="14" font-weight="bold" text-anchor="end">1</text><line x1="1307.2" y1="142.6" x2="1313.2" y2="142.6" stroke="#000" stroke-width="2"/><text x="1303.7" y="147.6" font-size="14" font-weight="bold" text-anchor="end">2</text><line x1="1307.2" y1="101.1" x2="1313.2" y2="101.1" stroke="#000" stroke-width="2"/><text x="1303.7" y="106.1" font-size="14" font-weight="bold" text-anchor="end">3</text><line x1="1307.2" y1="59.7" x2="1313.2" y2="59.7" stroke="#000" stroke-width="2"/><text x="1303.7" y="64.7" font-size="14" font-weight="bold" text-anchor="end">4</text><line x1="1307.2" y1="18.2" x2="1313.2" y2="18.2" stroke="#000" stroke-width="2"/><text x="1303.7" y="23.2" font-size="14" font-weight="bold" text-anchor="end">5</text><text x="0" y="0" font-size="19.3" text-anchor="middle" transform="translate(1281,120.9) rotate(-90)">% dual positive microglia</text><text x="1354" y="250" font-size="22" font-weight="bold" fill="#000" text-anchor="middle" >AβE3</text><text x="1430.5" y="250" font-size="22" font-weight="bold" fill="#000" text-anchor="middle" >AβE4</text><rect x="1338.1" y="356.2" width="44.30000000000018" height="131.0" fill="#6a16d8" stroke="#000" stroke-width="1.6"/><rect x="1393" y="409.4" width="46.200000000000045" height="77.8" fill="#5cfa0c" stroke="#000" stroke-width="1.6"/><line x1="1360.3" y1="356.2" x2="1360.3" y2="343.1" stroke="#000" stroke-width="2"/><line x1="1348.7" y1="343.1" x2="1371.8999999999999" y2="343.1" stroke="#000" stroke-width="2"/><line x1="1416.1" y1="409.4" x2="1416.1" y2="392.6" stroke="#000" stroke-width="2"/><line x1="1404.1" y1="392.6" x2="1428.1" y2="392.6" stroke="#000" stroke-width="2"/><circle cx="1360.3" cy="318.5" r="4.4" fill="#000"/><circle cx="1347.8" cy="368.2" r="4.4" fill="#000"/><circle cx="1360.3" cy="367.6" r="4.4" fill="#000"/><circle cx="1372.8" cy="368.2" r="4.4" fill="#000"/><circle cx="1416.1" cy="364.7" r="4.4" fill="#000"/><circle cx="1416.1" cy="406.7" r="4.4" fill="#000"/><circle cx="1416.1" cy="428.8" r="4.4" fill="#000"/><circle cx="1416.1" cy="436" r="4.4" fill="#000"/><line x1="1314.1" y1="281.2" x2="1314.1" y2="488.3" stroke="#000" stroke-width="2.3"/><line x1="1308.1" y1="487.2" x2="1464.1" y2="487.2" stroke="#000" stroke-width="2.3"/><line x1="1308.1" y1="487.2" x2="1314.1" y2="487.2" stroke="#000" stroke-width="2"/><text x="1304.6" y="492.2" font-size="14" font-weight="bold" text-anchor="end">0</text><line x1="1308.1" y1="446.2" x2="1314.1" y2="446.2" stroke="#000" stroke-width="2"/><text x="1304.6" y="451.2" font-size="14" font-weight="bold" text-anchor="end">1</text><line x1="1308.1" y1="405.3" x2="1314.1" y2="405.3" stroke="#000" stroke-width="2"/><text x="1304.6" y="410.3" font-size="14" font-weight="bold" text-anchor="end">2</text><line x1="1308.1" y1="364.3" x2="1314.1" y2="364.3" stroke="#000" stroke-width="2"/><text x="1304.6" y="369.3" font-size="14" font-weight="bold" text-anchor="end">3</text><line x1="1308.1" y1="323.4" x2="1314.1" y2="323.4" stroke="#000" stroke-width="2"/><text x="1304.6" y="328.4" font-size="14" font-weight="bold" text-anchor="end">4</text><line x1="1308.1" y1="282.4" x2="1314.1" y2="282.4" stroke="#000" stroke-width="2"/><text x="1304.6" y="287.4" font-size="14" font-weight="bold" text-anchor="end">5</text><text x="0" y="0" font-size="19.3" text-anchor="middle" transform="translate(1281,383.8) rotate(-90)">% dual positive microglia</text><line x1="1362.2" y1="295.4" x2="1425.3" y2="295.4" stroke="#000" stroke-width="2"/><text x="1391.5" y="297" font-size="22" font-weight="bold" text-anchor="middle">*</text><text x="1351" y="513" font-size="22" font-weight="bold" fill="#000" text-anchor="middle" >AβE3</text><text x="1427.6" y="513" font-size="22" font-weight="bold" fill="#000" text-anchor="middle" >AβE4</text><g clip-path="url(#clipE)"><polygon points="1068.3,836.1 1076.7,836.4 1080.0,830.5 1085.0,812.2 1095.0,812.5 1100.0,817.3 1106.7,816.0 1111.7,811.0 1116.7,814.4 1123.3,819.6 1133.3,825.9 1143.3,818.5 1148.3,826.6 1155.0,818.2 1160.0,812.8 1166.7,820.6 1171.7,831.6 1176.7,834.8 1181.7,840.6 1191.7,821.5 1200.0,827.0 1205.0,827.1 1210.0,820.8 1220.0,818.0 1226.7,817.4 1233.3,813.0 1240.0,806.5 1246.7,816.0 1253.3,808.9 1263.3,799.6 1268.3,799.5 1273.3,785.3 1278.3,797.7 1283.3,784.4 1291.7,787.7 1296.7,790.3 1301.7,794.9 1306.7,792.1 1311.7,786.9 1316.7,793.5 1321.7,796.3 1328.3,785.2 1333.3,794.8 1338.3,779.8 1343.3,784.3 1348.3,795.2 1354.0,774.6 1359.3,798.4 1365.0,789.7 1370.0,798.2 1375.0,789.2 1380.0,795.5 1386.7,785.0 1391.7,778.1 1396.7,783.6 1402.7,763.2 1408.3,769.6 1413.3,764.6 1419.3,776.4 1424.0,759.5 1430.0,766.6 1436.7,774.3 1445.0,778.7 1451.7,777.6 1456.7,785.8 1461.7,777.3 1466.7,785.9 1473.3,785.4 1480.0,786.0 1486.7,786.1 1491.7,784.0 1495.0,785.8 1495.0,833.6 1491.7,826.8 1486.7,837.0 1480.0,832.8 1473.3,825.4 1466.7,828.3 1461.7,825.3 1456.7,827.6 1451.7,818.7 1445.0,821.6 1436.7,817.7 1430.0,817.7 1424.0,804.5 1419.3,816.2 1413.3,811.9 1408.3,815.1 1402.7,811.1 1396.7,826.2 1391.7,819.2 1386.7,823.8 1380.0,838.5 1375.0,830.2 1370.0,836.8 1365.0,834.2 1359.3,843.4 1354.0,816.7 1348.3,832.3 1343.3,823.5 1338.3,816.5 1333.3,835.6 1328.3,825.8 1321.7,838.7 1316.7,837.4 1311.7,823.5 1306.7,838.0 1301.7,841.1 1296.7,834.0 1291.7,833.7 1283.3,827.3 1278.3,845.2 1273.3,833.5 1268.3,845.0 1263.3,846.1 1253.3,863.1 1246.7,867.8 1240.0,856.0 1233.3,866.1 1226.7,866.5 1220.0,871.3 1210.0,873.4 1205.0,877.4 1200.0,875.0 1191.7,875.5 1181.7,895.3 1176.7,891.9 1171.7,883.8 1166.7,875.8 1160.0,871.5 1155.0,877.8 1148.3,883.4 1143.3,878.9 1133.3,875.5 1123.3,872.5 1116.7,872.9 1111.7,867.2 1106.7,865.2 1100.0,867.8 1095.0,866.1 1085.0,867.0 1080.0,888.3 1076.7,884.9 1068.3,886.1" fill="#c8f7c8"/><polygon points="1068.3,810.4 1076.7,800.2 1085.0,788.5 1090.0,805.4 1095.0,777.6 1106.7,777.4 1116.7,775.4 1133.3,759.4 1138.3,759.8 1150.0,762.2 1160.0,757.8 1166.7,762.2 1173.3,758.3 1180.0,771.2 1186.7,779.2 1193.3,761.0 1200.0,764.5 1205.0,773.9 1213.3,772.9 1220.0,755.3 1226.7,750.0 1233.3,743.9 1240.0,737.0 1246.7,753.7 1251.7,732.4 1256.7,719.4 1263.3,708.6 1268.3,688.9 1273.3,677.1 1280.0,686.7 1285.0,695.3 1290.0,709.7 1295.0,710.4 1300.0,710.1 1306.7,712.3 1313.3,705.7 1320.0,696.7 1326.7,701.5 1332.3,712.0 1337.3,702.1 1343.3,700.2 1353.3,691.4 1363.3,692.8 1375.0,700.5 1386.7,691.2 1393.3,693.6 1398.3,696.5 1403.3,688.4 1408.3,700.2 1415.0,703.4 1419.3,677.8 1430.0,670.8 1436.7,645.2 1446.7,620.3 1453.3,610.8 1460.0,599.9 1468.3,579.1 1480.0,577.2 1486.7,572.7 1495.0,563.5 1495.0,635.8 1486.7,649.9 1480.0,654.5 1468.3,648.6 1460.0,663.8 1453.3,676.1 1446.7,682.8 1436.7,710.0 1430.0,727.9 1419.3,741.9 1415.0,757.1 1408.3,765.6 1403.3,742.2 1398.3,752.4 1393.3,752.5 1386.7,753.5 1375.0,765.3 1363.3,749.3 1353.3,752.7 1343.3,767.3 1337.3,763.3 1332.3,777.1 1326.7,762.3 1320.0,767.3 1313.3,769.4 1306.7,777.9 1300.0,767.5 1295.0,775.4 1290.0,774.0 1285.0,766.3 1280.0,753.3 1273.3,742.1 1268.3,753.6 1263.3,776.7 1256.7,781.7 1251.7,794.4 1246.7,817.0 1240.0,794.1 1233.3,803.0 1226.7,813.8 1220.0,822.3 1213.3,835.2 1205.0,836.2 1200.0,826.6 1193.3,827.3 1186.7,833.5 1180.0,828.5 1173.3,814.0 1166.7,818.9 1160.0,813.5 1150.0,818.8 1138.3,807.4 1133.3,812.9 1116.7,824.5 1106.7,827.7 1095.0,831.2 1090.0,849.0 1085.0,840.2 1076.7,851.3 1068.3,857.3" fill="#fcc2fc"/><polygon points="1068.3,857.3 1076.7,851.3 1085.0,840.2 1090.0,849.0 1095.0,831.2 1106.7,827.7 1116.7,824.5 1123.5,819.7 1123.3,819.6 1116.7,814.4 1111.7,811.0 1106.7,816.0 1100.0,817.3 1095.0,812.5 1085.0,812.2 1080.0,830.5 1076.7,836.4 1068.3,836.1 1068.3,857.3" fill="#c6ccc6"/><polygon points="1246.7,816.0 1246.2,815.3 1246.7,817.0 1247.0,815.7 1246.7,816.0" fill="#c6ccc6"/><polygon points="1220.0,818.0 1210.0,820.8 1205.0,827.1 1200.2,827.0 1205.0,836.2 1213.3,835.2 1220.0,822.3 1223.6,817.7 1220.0,818.0" fill="#c6ccc6"/><polygon points="1191.7,821.5 1185.8,832.8 1186.7,833.5 1193.3,827.3 1199.5,826.7 1191.7,821.5" fill="#c6ccc6"/><polygon points="1160.0,812.8 1158.7,814.2 1160.0,813.5 1162.0,815.1 1160.0,812.8" fill="#c6ccc6"/><polyline points="1068.3,858.3 1076.7,860.0 1080.0,860.0 1085.0,841.7 1095.0,838.3 1100.0,843.3 1106.7,841.7 1111.7,836.7 1116.7,845.0 1123.3,846.7 1133.3,850.0 1143.3,848.3 1148.3,853.3 1155.0,848.3 1160.0,841.7 1166.7,846.7 1171.7,856.7 1176.7,863.3 1181.7,865.0 1191.7,848.3 1200.0,848.3 1205.0,850.0 1210.0,845.0 1220.0,843.3 1226.7,840.0 1233.3,838.3 1240.0,828.3 1246.7,841.7 1253.3,835.0 1263.3,821.7 1268.3,818.3 1273.3,810.0 1278.3,820.0 1283.3,806.7 1291.7,810.0 1296.7,811.7 1301.7,816.0 1306.7,813.3 1311.7,803.3 1316.7,813.3 1321.7,814.3 1328.3,806.7 1333.3,815.0 1338.3,796.7 1343.3,803.3 1348.3,813.3 1354.0,795.0 1359.3,820.0 1365.0,808.3 1370.0,815.0 1375.0,808.3 1380.0,813.3 1386.7,805.0 1391.7,800.0 1396.7,805.0 1402.7,785.0 1408.3,793.3 1413.3,788.3 1419.3,796.7 1424.0,781.7 1430.0,791.7 1436.7,796.7 1445.0,803.3 1451.7,796.0 1456.7,808.3 1461.7,800.0 1466.7,806.7 1473.3,805.0 1480.0,811.7 1486.7,811.7 1491.7,806.7 1495.0,811.7" fill="none" stroke="#fff" stroke-width="5" stroke-linejoin="round" opacity="0.85"/><polyline points="1068.3,858.3 1076.7,860.0 1080.0,860.0 1085.0,841.7 1095.0,838.3 1100.0,843.3 1106.7,841.7 1111.7,836.7 1116.7,845.0 1123.3,846.7 1133.3,850.0 1143.3,848.3 1148.3,853.3 1155.0,848.3 1160.0,841.7 1166.7,846.7 1171.7,856.7 1176.7,863.3 1181.7,865.0 1191.7,848.3 1200.0,848.3 1205.0,850.0 1210.0,845.0 1220.0,843.3 1226.7,840.0 1233.3,838.3 1240.0,828.3 1246.7,841.7 1253.3,835.0 1263.3,821.7 1268.3,818.3 1273.3,810.0 1278.3,820.0 1283.3,806.7 1291.7,810.0 1296.7,811.7 1301.7,816.0 1306.7,813.3 1311.7,803.3 1316.7,813.3 1321.7,814.3 1328.3,806.7 1333.3,815.0 1338.3,796.7 1343.3,803.3 1348.3,813.3 1354.0,795.0 1359.3,820.0 1365.0,808.3 1370.0,815.0 1375.0,808.3 1380.0,813.3 1386.7,805.0 1391.7,800.0 1396.7,805.0 1402.7,785.0 1408.3,793.3 1413.3,788.3 1419.3,796.7 1424.0,781.7 1430.0,791.7 1436.7,796.7 1445.0,803.3 1451.7,796.0 1456.7,808.3 1461.7,800.0 1466.7,806.7 1473.3,805.0 1480.0,811.7 1486.7,811.7 1491.7,806.7 1495.0,811.7" fill="none" stroke="#10e010" stroke-width="3.2" stroke-linejoin="round"/><polyline points="1068.3,833.3 1076.7,825.0 1085.0,813.3 1090.0,825.0 1095.0,805.0 1106.7,805.0 1116.7,800.0 1133.3,785.0 1138.3,781.7 1150.0,786.7 1160.0,786.7 1166.7,791.7 1173.3,786.7 1180.0,795.0 1186.7,805.0 1193.3,793.3 1200.0,791.7 1205.0,803.3 1213.3,800.0 1220.0,786.7 1226.7,783.3 1233.3,773.3 1240.0,765.0 1246.7,783.3 1251.7,760.0 1256.7,750.0 1263.3,743.3 1268.3,720.0 1273.3,711.7 1280.0,723.3 1285.0,730.0 1290.0,738.3 1295.0,741.7 1300.0,738.3 1306.7,741.7 1313.3,735.0 1320.0,731.7 1326.7,731.7 1332.3,743.3 1337.3,730.0 1343.3,733.3 1353.3,718.3 1363.3,720.0 1375.0,731.7 1386.7,720.0 1393.3,724.0 1398.3,725.0 1403.3,715.0 1408.3,731.7 1415.0,730.7 1419.3,711.7 1430.0,700.0 1436.7,676.7 1446.7,651.7 1453.3,640.0 1460.0,630.0 1468.3,616.7 1480.0,615.0 1486.7,610.7 1495.0,598.3" fill="none" stroke="#fff" stroke-width="5" stroke-linejoin="round" opacity="0.85"/><polyline points="1068.3,833.3 1076.7,825.0 1085.0,813.3 1090.0,825.0 1095.0,805.0 1106.7,805.0 1116.7,800.0 1133.3,785.0 1138.3,781.7 1150.0,786.7 1160.0,786.7 1166.7,791.7 1173.3,786.7 1180.0,795.0 1186.7,805.0 1193.3,793.3 1200.0,791.7 1205.0,803.3 1213.3,800.0 1220.0,786.7 1226.7,783.3 1233.3,773.3 1240.0,765.0 1246.7,783.3 1251.7,760.0 1256.7,750.0 1263.3,743.3 1268.3,720.0 1273.3,711.7 1280.0,723.3 1285.0,730.0 1290.0,738.3 1295.0,741.7 1300.0,738.3 1306.7,741.7 1313.3,735.0 1320.0,731.7 1326.7,731.7 1332.3,743.3 1337.3,730.0 1343.3,733.3 1353.3,718.3 1363.3,720.0 1375.0,731.7 1386.7,720.0 1393.3,724.0 1398.3,725.0 1403.3,715.0 1408.3,731.7 1415.0,730.7 1419.3,711.7 1430.0,700.0 1436.7,676.7 1446.7,651.7 1453.3,640.0 1460.0,630.0 1468.3,616.7 1480.0,615.0 1486.7,610.7 1495.0,598.3" fill="none" stroke="#6c08e2" stroke-width="3.2" stroke-linejoin="round"/></g><line x1="1068.5" y1="556.4" x2="1068.5" y2="889.9000000000001" stroke="#000" stroke-width="2.5"/><line x1="1067.3" y1="888.7" x2="1497" y2="888.7" stroke="#000" stroke-width="2.5"/><line x1="1117.1" y1="884.7" x2="1117.1" y2="888.7" stroke="#000" stroke-width="2"/><text x="1117.1" y="909.7" font-size="14.2" text-anchor="middle">10</text><line x1="1171.3" y1="884.7" x2="1171.3" y2="888.7" stroke="#000" stroke-width="2"/><text x="1171.3" y="909.7" font-size="14.2" text-anchor="middle">20</text><line x1="1225.5" y1="884.7" x2="1225.5" y2="888.7" stroke="#000" stroke-width="2"/><text x="1225.5" y="909.7" font-size="14.2" text-anchor="middle">30</text><line x1="1279.7" y1="884.7" x2="1279.7" y2="888.7" stroke="#000" stroke-width="2"/><text x="1279.7" y="909.7" font-size="14.2" text-anchor="middle">40</text><line x1="1333.9" y1="884.7" x2="1333.9" y2="888.7" stroke="#000" stroke-width="2"/><text x="1333.9" y="909.7" font-size="14.2" text-anchor="middle">50</text><line x1="1388.1" y1="884.7" x2="1388.1" y2="888.7" stroke="#000" stroke-width="2"/><text x="1388.1" y="909.7" font-size="14.2" text-anchor="middle">60</text><line x1="1442.3" y1="884.7" x2="1442.3" y2="888.7" stroke="#000" stroke-width="2"/><text x="1442.3" y="909.7" font-size="14.2" text-anchor="middle">70</text><line x1="1496.5" y1="884.7" x2="1496.5" y2="888.7" stroke="#000" stroke-width="2"/><text x="1496.5" y="909.7" font-size="14.2" text-anchor="middle">80</text><line x1="1068.5" y1="872.1" x2="1072.5" y2="872.1" stroke="#000" stroke-width="2"/><text x="1061.0" y="877.1" font-size="14.2" text-anchor="end">26</text><line x1="1068.5" y1="824.4" x2="1072.5" y2="824.4" stroke="#000" stroke-width="2"/><text x="1061.0" y="829.4" font-size="14.2" text-anchor="end">28</text><line x1="1068.5" y1="776.7" x2="1072.5" y2="776.7" stroke="#000" stroke-width="2"/><text x="1061.0" y="781.7" font-size="14.2" text-anchor="end">30</text><line x1="1068.5" y1="729.0" x2="1072.5" y2="729.0" stroke="#000" stroke-width="2"/><text x="1061.0" y="734.0" font-size="14.2" text-anchor="end">32</text><line x1="1068.5" y1="681.3" x2="1072.5" y2="681.3" stroke="#000" stroke-width="2"/><text x="1061.0" y="686.3" font-size="14.2" text-anchor="end">34</text><line x1="1068.5" y1="633.6" x2="1072.5" y2="633.6" stroke="#000" stroke-width="2"/><text x="1061.0" y="638.6" font-size="14.2" text-anchor="end">36</text><line x1="1068.5" y1="585.9" x2="1072.5" y2="585.9" stroke="#000" stroke-width="2"/><text x="1061.0" y="590.9" font-size="14.2" text-anchor="end">38</text><text x="0" y="0" font-size="23.2" text-anchor="middle" transform="translate(1035.6,709) rotate(-90)">coverage (%)</text><rect x="1080" y="568.4" width="27" height="8.7" fill="#7800f0" stroke="#222" stroke-width="1.2"/><rect x="1080" y="600.3" width="27" height="9" fill="#78fa00" stroke="#222" stroke-width="1.2"/><text x="1113.5" y="579.5" font-size="24.5" font-weight="bold" fill="#000" text-anchor="start" >AβE3</text><text x="1114" y="610.7" font-size="24.5" font-weight="bold" fill="#000" text-anchor="start" >AβE4</text><g clip-path="url(#clipF)"><polygon points="1070.0,952.1 1075.0,958.2 1081.7,952.3 1086.7,946.8 1091.7,949.1 1096.7,958.8 1101.7,961.9 1106.7,971.4 1111.7,968.2 1116.7,967.0 1123.3,972.3 1128.3,968.9 1133.3,968.7 1143.3,970.3 1150.0,977.7 1158.3,973.6 1165.0,969.9 1170.0,979.8 1176.7,989.9 1181.7,992.9 1186.7,995.7 1191.7,986.6 1198.3,987.7 1205.0,989.0 1210.0,994.5 1216.7,995.0 1223.3,995.1 1230.0,1001.3 1235.0,998.0 1240.0,997.9 1245.0,1008.4 1251.7,1001.9 1256.7,998.3 1263.3,1004.8 1268.3,1004.4 1273.3,1002.2 1278.3,1005.8 1283.3,1007.4 1290.0,1005.7 1296.7,1008.0 1301.7,1011.6 1308.3,1006.8 1313.3,1008.7 1320.0,1008.5 1325.0,1016.4 1331.7,1017.9 1336.7,1012.4 1341.7,1014.7 1346.7,1026.9 1351.7,1017.8 1356.7,1028.1 1361.7,1026.7 1366.7,1027.9 1372.7,1019.1 1378.3,1026.4 1383.3,1027.5 1388.3,1021.8 1393.3,1023.7 1398.3,1009.3 1403.3,1016.0 1408.3,1006.9 1415.0,1016.0 1420.7,1002.9 1426.0,1005.5 1431.7,1010.4 1436.7,1018.5 1442.7,1016.1 1448.3,1010.3 1453.3,1011.7 1458.3,1010.1 1463.3,1009.4 1470.0,1009.1 1475.0,1008.2 1480.0,1003.7 1485.0,1001.5 1490.0,1006.5 1490.0,1064.5 1485.0,1060.3 1480.0,1064.3 1475.0,1066.9 1470.0,1063.4 1463.3,1061.7 1458.3,1062.6 1453.3,1066.4 1448.3,1061.6 1442.7,1073.1 1436.7,1070.2 1431.7,1061.2 1426.0,1063.8 1420.7,1059.2 1415.0,1068.9 1408.3,1064.9 1403.3,1071.8 1398.3,1072.2 1393.3,1081.6 1388.3,1080.3 1383.3,1082.1 1378.3,1085.2 1372.7,1081.6 1366.7,1083.6 1361.7,1080.5 1356.7,1086.3 1351.7,1074.1 1346.7,1085.9 1341.7,1068.6 1336.7,1068.8 1331.7,1072.7 1325.0,1070.1 1320.0,1067.8 1313.3,1071.4 1308.3,1059.7 1301.7,1070.3 1296.7,1072.2 1290.0,1061.3 1283.3,1066.2 1278.3,1065.9 1273.3,1063.2 1268.3,1069.8 1263.3,1060.8 1256.7,1062.8 1251.7,1060.9 1245.0,1067.0 1240.0,1062.2 1235.0,1053.9 1230.0,1056.7 1223.3,1056.1 1216.7,1056.7 1210.0,1054.9 1205.0,1054.7 1198.3,1053.1 1191.7,1051.7 1186.7,1058.2 1181.7,1053.5 1176.7,1047.7 1170.0,1037.3 1165.0,1030.3 1158.3,1030.9 1150.0,1030.4 1143.3,1024.0 1133.3,1025.3 1128.3,1027.0 1123.3,1024.5 1116.7,1023.1 1111.7,1014.2 1106.7,1015.5 1101.7,1013.1 1096.7,1009.2 1091.7,1000.1 1086.7,995.8 1081.7,1002.2 1075.0,999.4 1070.0,995.8" fill="#c8f7c8"/><polygon points="1070.0,922.8 1075.0,923.9 1080.0,923.7 1085.0,932.8 1090.7,954.6 1096.7,931.4 1101.7,960.8 1106.7,950.0 1111.7,951.7 1117.3,961.9 1123.3,974.8 1128.3,960.4 1133.3,966.8 1138.3,975.9 1143.3,972.5 1150.0,983.2 1156.7,992.3 1163.3,995.8 1170.0,996.4 1176.7,1013.6 1183.3,1016.1 1186.7,1018.5 1193.3,1027.3 1198.3,1028.2 1203.3,1038.8 1210.0,1044.5 1215.0,1045.5 1220.0,1050.9 1225.0,1065.8 1230.0,1068.8 1235.0,1059.3 1240.0,1058.4 1245.0,1083.9 1250.0,1083.2 1255.0,1091.4 1261.7,1114.9 1266.7,1101.7 1271.7,1120.9 1276.7,1110.4 1281.7,1129.7 1286.7,1130.5 1293.3,1138.5 1298.3,1120.7 1304.0,1132.9 1310.0,1127.5 1315.0,1121.9 1320.0,1125.3 1325.0,1126.2 1330.0,1139.4 1336.0,1119.8 1340.7,1132.1 1346.7,1114.0 1351.7,1107.9 1356.7,1114.3 1362.7,1110.5 1368.3,1114.1 1376.7,1123.8 1383.3,1124.8 1390.0,1123.8 1395.0,1121.2 1400.0,1125.4 1405.0,1149.1 1410.0,1130.7 1416.0,1105.5 1420.7,1135.0 1426.7,1144.5 1433.3,1156.1 1436.7,1164.6 1441.7,1159.8 1446.7,1160.6 1450.0,1178.0 1456.7,1181.2 1461.7,1181.3 1466.7,1179.2 1470.0,1185.1 1475.0,1174.5 1480.0,1179.6 1485.0,1181.8 1490.0,1180.3 1490.0,1241.0 1485.0,1247.4 1480.0,1245.8 1475.0,1248.2 1470.0,1246.5 1466.7,1254.4 1461.7,1242.9 1456.7,1249.2 1450.0,1250.4 1446.7,1236.1 1441.7,1230.8 1436.7,1230.2 1433.3,1227.8 1426.7,1223.2 1420.7,1210.0 1416.0,1178.1 1410.0,1204.5 1405.0,1227.2 1400.0,1202.4 1395.0,1202.6 1390.0,1208.2 1383.3,1203.4 1376.7,1202.6 1368.3,1199.0 1362.7,1193.7 1356.7,1194.6 1351.7,1191.3 1346.7,1201.0 1340.7,1207.8 1336.0,1199.6 1330.0,1221.5 1325.0,1207.9 1320.0,1209.3 1315.0,1211.0 1310.0,1213.4 1304.0,1226.8 1298.3,1209.8 1293.3,1225.0 1286.7,1229.7 1281.7,1217.2 1276.7,1205.0 1271.7,1211.6 1266.7,1190.8 1261.7,1202.7 1255.0,1180.2 1250.0,1174.1 1245.0,1175.1 1240.0,1149.9 1235.0,1151.5 1230.0,1158.9 1225.0,1158.2 1220.0,1142.6 1215.0,1134.6 1210.0,1139.8 1203.3,1133.8 1198.3,1119.9 1193.3,1117.0 1186.7,1114.7 1183.3,1111.8 1176.7,1098.6 1170.0,1092.1 1163.3,1086.5 1156.7,1083.3 1150.0,1074.8 1143.3,1066.2 1138.3,1067.8 1133.3,1062.8 1128.3,1055.0 1123.3,1071.6 1117.3,1050.3 1111.7,1046.3 1106.7,1046.6 1101.7,1051.0 1096.7,1032.4 1090.7,1047.2 1085.0,1025.6 1080.0,1016.9 1075.0,1024.5 1070.0,1016.2" fill="#fcc2fc"/><polygon points="1070.0,995.8 1075.0,999.4 1081.7,1002.2 1086.7,995.8 1091.7,1000.1 1096.7,1009.2 1101.7,1013.1 1106.7,1015.5 1111.7,1014.2 1116.7,1023.1 1123.3,1024.5 1128.3,1027.0 1133.3,1025.3 1143.3,1024.0 1150.0,1030.4 1158.3,1030.9 1165.0,1030.3 1170.0,1037.3 1176.7,1047.7 1181.7,1053.5 1186.7,1058.2 1191.7,1051.7 1198.3,1053.1 1205.0,1054.7 1210.0,1054.9 1216.7,1056.7 1221.8,1056.2 1220.0,1050.9 1215.0,1045.5 1210.0,1044.5 1203.3,1038.8 1198.3,1028.2 1193.3,1027.3 1186.7,1018.5 1183.3,1016.1 1176.7,1013.6 1170.0,996.4 1163.3,995.8 1156.7,992.3 1150.0,983.2 1143.3,972.5 1138.3,975.9 1134.4,968.9 1133.3,968.7 1128.3,968.9 1124.4,971.5 1123.3,974.8 1121.4,970.8 1116.7,967.0 1111.7,968.2 1106.7,971.4 1101.7,961.9 1096.7,958.8 1092.0,949.6 1090.7,954.6 1088.9,947.8 1086.7,946.8 1081.7,952.3 1075.0,958.2 1070.0,952.1 1070.0,995.8" fill="#c6ccc6"/><polygon points="1240.0,1062.2 1240.9,1063.1 1240.0,1058.4 1237.9,1058.8 1240.0,1062.2" fill="#c6ccc6"/><polyline points="1070.0,975.0 1075.0,980.0 1081.7,978.3 1086.7,973.3 1091.7,976.7 1096.7,985.0 1101.7,990.0 1106.7,995.0 1111.7,993.3 1116.7,998.3 1123.3,1003.3 1128.3,998.3 1133.3,1000.0 1143.3,1001.0 1150.0,1006.7 1158.3,1005.0 1165.0,1006.0 1170.0,1011.7 1176.7,1021.7 1181.7,1025.7 1186.7,1026.7 1191.7,1020.0 1198.3,1023.3 1205.0,1022.7 1210.0,1025.0 1216.7,1026.7 1223.3,1030.0 1230.0,1031.7 1235.0,1028.3 1240.0,1029.3 1245.0,1039.3 1251.7,1033.3 1256.7,1031.7 1263.3,1033.3 1268.3,1036.7 1273.3,1034.0 1278.3,1040.0 1283.3,1034.0 1290.0,1035.0 1296.7,1038.3 1301.7,1041.7 1308.3,1033.3 1313.3,1041.7 1320.0,1041.7 1325.0,1044.0 1331.7,1046.7 1336.7,1040.0 1341.7,1042.7 1346.7,1052.7 1351.7,1044.7 1356.7,1056.7 1361.7,1052.7 1366.7,1054.0 1372.7,1051.7 1378.3,1058.3 1383.3,1052.7 1388.3,1050.7 1393.3,1051.7 1398.3,1040.0 1403.3,1043.3 1408.3,1038.3 1415.0,1041.7 1420.7,1028.3 1426.0,1036.7 1431.7,1036.0 1436.7,1045.0 1442.7,1044.0 1448.3,1036.7 1453.3,1041.7 1458.3,1036.0 1463.3,1036.7 1470.0,1036.7 1475.0,1038.3 1480.0,1035.0 1485.0,1031.7 1490.0,1034.0" fill="none" stroke="#fff" stroke-width="5" stroke-linejoin="round" opacity="0.85"/><polyline points="1070.0,975.0 1075.0,980.0 1081.7,978.3 1086.7,973.3 1091.7,976.7 1096.7,985.0 1101.7,990.0 1106.7,995.0 1111.7,993.3 1116.7,998.3 1123.3,1003.3 1128.3,998.3 1133.3,1000.0 1143.3,1001.0 1150.0,1006.7 1158.3,1005.0 1165.0,1006.0 1170.0,1011.7 1176.7,1021.7 1181.7,1025.7 1186.7,1026.7 1191.7,1020.0 1198.3,1023.3 1205.0,1022.7 1210.0,1025.0 1216.7,1026.7 1223.3,1030.0 1230.0,1031.7 1235.0,1028.3 1240.0,1029.3 1245.0,1039.3 1251.7,1033.3 1256.7,1031.7 1263.3,1033.3 1268.3,1036.7 1273.3,1034.0 1278.3,1040.0 1283.3,1034.0 1290.0,1035.0 1296.7,1038.3 1301.7,1041.7 1308.3,1033.3 1313.3,1041.7 1320.0,1041.7 1325.0,1044.0 1331.7,1046.7 1336.7,1040.0 1341.7,1042.7 1346.7,1052.7 1351.7,1044.7 1356.7,1056.7 1361.7,1052.7 1366.7,1054.0 1372.7,1051.7 1378.3,1058.3 1383.3,1052.7 1388.3,1050.7 1393.3,1051.7 1398.3,1040.0 1403.3,1043.3 1408.3,1038.3 1415.0,1041.7 1420.7,1028.3 1426.0,1036.7 1431.7,1036.0 1436.7,1045.0 1442.7,1044.0 1448.3,1036.7 1453.3,1041.7 1458.3,1036.0 1463.3,1036.7 1470.0,1036.7 1475.0,1038.3 1480.0,1035.0 1485.0,1031.7 1490.0,1034.0" fill="none" stroke="#10e010" stroke-width="3.2" stroke-linejoin="round"/><polyline points="1070.0,970.0 1075.0,976.7 1080.0,969.3 1085.0,976.7 1090.7,1001.7 1096.7,981.7 1101.7,1003.3 1106.7,995.0 1111.7,1001.7 1117.3,1006.7 1123.3,1026.7 1128.3,1008.3 1133.3,1015.0 1138.3,1025.0 1143.3,1021.7 1150.0,1030.0 1156.7,1036.7 1163.3,1041.7 1170.0,1045.0 1176.7,1055.0 1183.3,1061.7 1186.7,1068.3 1193.3,1068.3 1198.3,1073.3 1203.3,1086.7 1210.0,1090.0 1215.0,1090.0 1220.0,1100.0 1225.0,1109.3 1230.0,1110.0 1235.0,1106.7 1240.0,1101.7 1245.0,1133.3 1250.0,1128.3 1255.0,1136.7 1261.7,1156.7 1266.7,1150.0 1271.7,1163.3 1276.7,1158.3 1281.7,1170.0 1286.7,1180.0 1293.3,1185.0 1298.3,1168.3 1304.0,1178.3 1310.0,1173.3 1315.0,1163.3 1320.0,1165.0 1325.0,1168.3 1330.0,1183.3 1336.0,1158.3 1340.7,1170.0 1346.7,1156.7 1351.7,1153.3 1356.7,1155.0 1362.7,1152.7 1368.3,1159.3 1376.7,1160.0 1383.3,1161.7 1390.0,1164.0 1395.0,1161.7 1400.0,1162.7 1405.0,1186.0 1410.0,1170.0 1416.0,1141.7 1420.7,1176.0 1426.7,1185.0 1433.3,1190.0 1436.7,1198.3 1441.7,1198.3 1446.7,1201.7 1450.0,1213.3 1456.7,1213.3 1461.7,1213.3 1466.7,1220.0 1470.0,1218.3 1475.0,1215.0 1480.0,1218.3 1485.0,1218.3 1490.0,1212.7" fill="none" stroke="#fff" stroke-width="5" stroke-linejoin="round" opacity="0.85"/><polyline points="1070.0,970.0 1075.0,976.7 1080.0,969.3 1085.0,976.7 1090.7,1001.7 1096.7,981.7 1101.7,1003.3 1106.7,995.0 1111.7,1001.7 1117.3,1006.7 1123.3,1026.7 1128.3,1008.3 1133.3,1015.0 1138.3,1025.0 1143.3,1021.7 1150.0,1030.0 1156.7,1036.7 1163.3,1041.7 1170.0,1045.0 1176.7,1055.0 1183.3,1061.7 1186.7,1068.3 1193.3,1068.3 1198.3,1073.3 1203.3,1086.7 1210.0,1090.0 1215.0,1090.0 1220.0,1100.0 1225.0,1109.3 1230.0,1110.0 1235.0,1106.7 1240.0,1101.7 1245.0,1133.3 1250.0,1128.3 1255.0,1136.7 1261.7,1156.7 1266.7,1150.0 1271.7,1163.3 1276.7,1158.3 1281.7,1170.0 1286.7,1180.0 1293.3,1185.0 1298.3,1168.3 1304.0,1178.3 1310.0,1173.3 1315.0,1163.3 1320.0,1165.0 1325.0,1168.3 1330.0,1183.3 1336.0,1158.3 1340.7,1170.0 1346.7,1156.7 1351.7,1153.3 1356.7,1155.0 1362.7,1152.7 1368.3,1159.3 1376.7,1160.0 1383.3,1161.7 1390.0,1164.0 1395.0,1161.7 1400.0,1162.7 1405.0,1186.0 1410.0,1170.0 1416.0,1141.7 1420.7,1176.0 1426.7,1185.0 1433.3,1190.0 1436.7,1198.3 1441.7,1198.3 1446.7,1201.7 1450.0,1213.3 1456.7,1213.3 1461.7,1213.3 1466.7,1220.0 1470.0,1218.3 1475.0,1215.0 1480.0,1218.3 1485.0,1218.3 1490.0,1212.7" fill="none" stroke="#6c08e2" stroke-width="3.2" stroke-linejoin="round"/></g><line x1="1069.3" y1="919.3" x2="1069.3" y2="1247.9" stroke="#000" stroke-width="2.5"/><line x1="1068.1" y1="1246.7" x2="1494" y2="1246.7" stroke="#000" stroke-width="2.5"/><line x1="1117.3" y1="1242.7" x2="1117.3" y2="1246.7" stroke="#000" stroke-width="2"/><text x="1117.3" y="1267.7" font-size="14.2" text-anchor="middle">10</text><line x1="1170.5" y1="1242.7" x2="1170.5" y2="1246.7" stroke="#000" stroke-width="2"/><text x="1170.5" y="1267.7" font-size="14.2" text-anchor="middle">20</text><line x1="1223.8" y1="1242.7" x2="1223.8" y2="1246.7" stroke="#000" stroke-width="2"/><text x="1223.8" y="1267.7" font-size="14.2" text-anchor="middle">30</text><line x1="1277.0" y1="1242.7" x2="1277.0" y2="1246.7" stroke="#000" stroke-width="2"/><text x="1277.0" y="1267.7" font-size="14.2" text-anchor="middle">40</text><line x1="1330.3" y1="1242.7" x2="1330.3" y2="1246.7" stroke="#000" stroke-width="2"/><text x="1330.3" y="1267.7" font-size="14.2" text-anchor="middle">50</text><line x1="1383.5" y1="1242.7" x2="1383.5" y2="1246.7" stroke="#000" stroke-width="2"/><text x="1383.5" y="1267.7" font-size="14.2" text-anchor="middle">60</text><line x1="1436.7" y1="1242.7" x2="1436.7" y2="1246.7" stroke="#000" stroke-width="2"/><text x="1436.7" y="1267.7" font-size="14.2" text-anchor="middle">70</text><line x1="1490.0" y1="1242.7" x2="1490.0" y2="1246.7" stroke="#000" stroke-width="2"/><text x="1490.0" y="1267.7" font-size="14.2" text-anchor="middle">80</text><line x1="1069.3" y1="1237.3" x2="1073.3" y2="1237.3" stroke="#000" stroke-width="2"/><text x="1061.8" y="1242.3" font-size="14.2" text-anchor="end">30</text><line x1="1069.3" y1="1159.2" x2="1073.3" y2="1159.2" stroke="#000" stroke-width="2"/><text x="1061.8" y="1164.2" font-size="14.2" text-anchor="end">35</text><line x1="1069.3" y1="1081.1" x2="1073.3" y2="1081.1" stroke="#000" stroke-width="2"/><text x="1061.8" y="1086.1" font-size="14.2" text-anchor="end">40</text><line x1="1069.3" y1="1003.0" x2="1073.3" y2="1003.0" stroke="#000" stroke-width="2"/><text x="1061.8" y="1008.0" font-size="14.2" text-anchor="end">45</text><line x1="1069.3" y1="924.9" x2="1073.3" y2="924.9" stroke="#000" stroke-width="2"/><text x="1061.8" y="929.9" font-size="14.2" text-anchor="end">50</text><text x="0" y="0" font-size="23.2" text-anchor="middle" transform="translate(1037.5,1070.8) rotate(-90)">mean distance (um)</text><text x="1273.3" y="1292.7" font-size="23.2" font-weight="normal" fill="#000" text-anchor="middle" >time (min)</text><g clip-path="url(#cp_m1)"><g transform="translate(5 553)"><g><rect x="-60" y="-60" width="487" height="487" fill="#0a0902"/></g><g><ellipse cx="6" cy="37" rx="18" ry="14" fill="url(#glow)" opacity="0.35"/><ellipse cx="55" cy="40" rx="26" ry="21" fill="url(#glow)" opacity="0.55"/><ellipse cx="123" cy="38" rx="26" ry="21" fill="url(#glow)" opacity="0.55"/><ellipse cx="166" cy="52" rx="26" ry="21" fill="url(#glow)" opacity="0.55"/><ellipse cx="153" cy="99" rx="34" ry="27" fill="url(#glow)" opacity="0.75"/><ellipse cx="14" cy="133" rx="34" ry="27" fill="url(#glow)" opacity="0.75"/><ellipse cx="30" cy="120" rx="26" ry="21" fill="url(#glow)" opacity="0.55"/><ellipse cx="132" cy="160" rx="26" ry="21" fill="url(#glow)" opacity="0.55"/><ellipse cx="78" cy="88" rx="18" ry="14" fill="url(#glow)" opacity="0.35"/><ellipse cx="99" cy="118" rx="18" ry="14" fill="url(#glow)" opacity="0.35"/><ellipse cx="65" cy="156" rx="18" ry="14" fill="url(#glow)" opacity="0.35"/><ellipse cx="328" cy="7" rx="26" ry="21" fill="url(#glow)" opacity="0.55"/><ellipse cx="214" cy="40" rx="26" ry="21" fill="url(#glow)" opacity="0.55"/><ellipse cx="266" cy="40" rx="18" ry="14" fill="url(#glow)" opacity="0.35"/><ellipse cx="245" cy="21" rx="18" ry="14" fill="url(#glow)" opacity="0.35"/><ellipse cx="328" cy="50" rx="18" ry="14" fill="url(#glow)" opacity="0.35"/><ellipse cx="208" cy="84" rx="26" ry="21" fill="url(#glow)" opacity="0.55"/><ellipse cx="280" cy="98" rx="26" ry="21" fill="url(#glow)" opacity="0.55"/><ellipse cx="299" cy="104" rx="26" ry="21" fill="url(#glow)" opacity="0.55"/><ellipse cx="360" cy="98" rx="26" ry="21" fill="url(#glow)" opacity="0.55"/><ellipse cx="252" cy="113" rx="18" ry="14" fill="url(#glow)" opacity="0.35"/><ellipse cx="297" cy="177" rx="26" ry="21" fill="url(#glow)" opacity="0.55"/><ellipse cx="265" cy="180" rx="26" ry="21" fill="url(#glow)" opacity="0.55"/><ellipse cx="317" cy="140" rx="18" ry="14" fill="url(#glow)" opacity="0.35"/><ellipse cx="21" cy="201" rx="34" ry="27" fill="url(#glow)" opacity="0.75"/><ellipse cx="42" cy="202" rx="34" ry="27" fill="url(#glow)" opacity="0.75"/><ellipse cx="14" cy="256" rx="34" ry="27" fill="url(#glow)" opacity="0.75"/><ellipse cx="76" cy="250" rx="34" ry="27" fill="url(#glow)" opacity="0.75"/><ellipse cx="120" cy="256" rx="26" ry="21" fill="url(#glow)" opacity="0.55"/><ellipse cx="155" cy="249" rx="26" ry="21" fill="url(#glow)" opacity="0.55"/><ellipse cx="149" cy="291" rx="26" ry="21" fill="url(#glow)" opacity="0.55"/><ellipse cx="107" cy="318" rx="34" ry="27" fill="url(#glow)" opacity="0.75"/><ellipse cx="113" cy="336" rx="26" ry="21" fill="url(#glow)" opacity="0.55"/><ellipse cx="11" cy="328" rx="26" ry="21" fill="url(#glow)" opacity="0.55"/><ellipse cx="18" cy="311" rx="26" ry="21" fill="url(#glow)" opacity="0.55"/><ellipse cx="55" cy="304" rx="18" ry="14" fill="url(#glow)" opacity="0.35"/><ellipse cx="84" cy="305" rx="26" ry="21" fill="url(#glow)" opacity="0.55"/><ellipse cx="28" cy="215" rx="26" ry="21" fill="url(#glow)" opacity="0.55"/><ellipse cx="176" cy="346" rx="26" ry="21" fill="url(#glow)" opacity="0.55"/><ellipse cx="219" cy="280" rx="34" ry="27" fill="url(#glow)" opacity="0.75"/><ellipse cx="270" cy="311" rx="34" ry="27" fill="url(#glow)" opacity="0.75"/><ellipse cx="191" cy="325" rx="34" ry="27" fill="url(#glow)" opacity="0.75"/><ellipse cx="229" cy="214" rx="26" ry="21" fill="url(#glow)" opacity="0.55"/><ellipse cx="306" cy="238" rx="26" ry="21" fill="url(#glow)" opacity="0.55"/><ellipse cx="353" cy="205" rx="34" ry="27" fill="url(#glow)" opacity="0.75"/><ellipse cx="352" cy="273" rx="34" ry="27" fill="url(#glow)" opacity="0.75"/><ellipse cx="311" cy="281" rx="18" ry="14" fill="url(#glow)" opacity="0.35"/><ellipse cx="288" cy="345" rx="26" ry="21" fill="url(#glow)" opacity="0.55"/><ellipse cx="325" cy="184" rx="26" ry="21" fill="url(#glow)" opacity="0.55"/><ellipse cx="353" cy="325" rx="18" ry="14" fill="url(#glow)" opacity="0.35"/><ellipse cx="198" cy="353" rx="26" ry="21" fill="url(#glow)" opacity="0.55"/><ellipse cx="55" cy="72" rx="26" ry="21" fill="url(#glow)" opacity="0.55"/><ellipse cx="90" cy="137" rx="26" ry="21" fill="url(#glow)" opacity="0.55"/><ellipse cx="40" cy="167" rx="26" ry="21" fill="url(#glow)" opacity="0.55"/><ellipse cx="135" cy="207" rx="26" ry="21" fill="url(#glow)" opacity="0.55"/><ellipse cx="185" cy="187" rx="18" ry="14" fill="url(#glow)" opacity="0.35"/><ellipse cx="275" cy="147" rx="18" ry="14" fill="url(#glow)" opacity="0.35"/><ellipse cx="340" cy="147" rx="26" ry="21" fill="url(#glow)" opacity="0.55"/><ellipse cx="235" cy="327" rx="26" ry="21" fill="url(#glow)" opacity="0.55"/><ellipse cx="325" cy="347" rx="26" ry="21" fill="url(#glow)" opacity="0.55"/><ellipse cx="85" cy="357" rx="26" ry="21" fill="url(#glow)" opacity="0.55"/><ellipse cx="145" cy="7" rx="18" ry="14" fill="url(#glow)" opacity="0.35"/><ellipse cx="295" cy="17" rx="18" ry="14" fill="url(#glow)" opacity="0.35"/></g><g><ellipse cx="207" cy="169" rx="36" ry="36" fill="url(#plq)" opacity="0.85" transform="rotate(0 207 169)"/><ellipse cx="200" cy="158" rx="18" ry="18" fill="url(#plq)" opacity="0.9" transform="rotate(0 200 158)"/><ellipse cx="236" cy="176" rx="18" ry="12" fill="url(#plq)" opacity="0.6" transform="rotate(0 236 176)"/><ellipse cx="186" cy="188" rx="20" ry="15" fill="url(#plq)" opacity="0.6" transform="rotate(0 186 188)"/><ellipse cx="207" cy="172" rx="60" ry="60" fill="url(#plq)" opacity="0.25" transform="rotate(0 207 172)"/><ellipse cx="207" cy="169" rx="54" ry="54" fill="url(#gfade)" opacity="0.85" filter="url(#plF)" transform="rotate(0 207 169)"/><ellipse cx="207" cy="169" rx="43" ry="43" fill="url(#gfade)" opacity="0.8" filter="url(#plD)" transform="rotate(0 207 169)"/></g><g><ellipse cx="207" cy="172" rx="75" ry="75" fill="url(#gfade)" opacity="0.95" filter="url(#spR)"/><ellipse cx="207" cy="172" rx="75" ry="75" fill="url(#gfade)" opacity="0.95" filter="url(#spG)"/></g><g filter="url(#bl1)" fill="none" stroke="#d83010" stroke-width="0.85" opacity="0.50" stroke-dasharray="4.5 1.8" stroke-linecap="round" stroke-linejoin="round"><use href="#t18" transform="matrix(.09 -.86 .86 .09 6 37)"/><use href="#t7" transform="matrix(-.72 -.35 .35 -.72 79 88)"/><use href="#t13" transform="matrix(-.53 -.44 .44 -.53 100 118)"/><use href="#t14" transform="matrix(.4 .59 -.59 .4 66 156)"/><use href="#t7" transform="matrix(-.67 -.34 .34 -.67 267 40)"/><use href="#t13" transform="matrix(-.35 -.54 .54 -.35 246 22)"/><use href="#t6" transform="matrix(-.78 .05 -.05 -.78 329 51)"/><use href="#t11" transform="matrix(.31 -.81 .81 .31 253 114)"/><use href="#t16" transform="matrix(.82 .04 -.04 .82 318 140)"/><use href="#t8" transform="matrix(-.61 -.46 .46 -.61 56 304)"/><use href="#t7" transform="matrix(-.26 .73 -.73 -.26 312 282)"/><use href="#t14" transform="matrix(-.19 .84 -.84 -.19 354 325)"/><use href="#t1" transform="matrix(.31 -.63 .63 .31 186 188)"/><use href="#t10" transform="matrix(-.6 -.58 .58 -.6 276 148)"/><use href="#t8" transform="matrix(.25 .8 -.8 .25 146 8)"/><use href="#t15" transform="matrix(.68 -.48 .48 .68 296 18)"/><use href="#f0" transform="matrix(.7 -.87 .87 .7 14 320)"/><use href="#f1" transform="matrix(-1.05 .13 -.13 -1.05 359 293)"/><use href="#f1" transform="matrix(-.72 -.47 .47 -.72 55 262)"/><use href="#f0" transform="matrix(.03 -.85 .85 .03 88 80)"/><use href="#f3" transform="matrix(.04 1.16 -1.16 .04 270 240)"/><use href="#f9" transform="matrix(-.14 1.01 -1.01 -.14 288 272)"/><use href="#f0" transform="matrix(1.04 -.2 .2 1.04 363 329)"/><use href="#f3" transform="matrix(.96 .1 -.1 .96 39 194)"/><use href="#f8" transform="matrix(-.51 -1.15 1.15 -.51 332 212)"/><use href="#f1" transform="matrix(.74 -.79 .79 .74 41 16)"/><use href="#f9" transform="matrix(-1.06 -.52 .52 -1.06 222 365)"/><use href="#f0" transform="matrix(1.11 .67 -.67 1.11 44 252)"/><use href="#f4" transform="matrix(-1.07 -.35 .35 -1.07 107 61)"/><use href="#f6" transform="matrix(.78 -.57 .57 .78 56 314)"/><use href="#f0" transform="matrix(-.56 .87 -.87 -.56 89 143)"/><use href="#f3" transform="matrix(-.3 -.97 .97 -.3 151 220)"/><use href="#f3" transform="matrix(-.12 .96 -.96 -.12 325 279)"/><use href="#f0" transform="matrix(1.13 .34 -.34 1.13 83 193)"/><use href="#f6" transform="matrix(1.08 -.42 .42 1.08 48 218)"/><use href="#f9" transform="matrix(-.65 -.9 .9 -.65 136 291)"/><use href="#f4" transform="matrix(.91 -.28 .28 .91 313 21)"/><use href="#f2" transform="matrix(1.14 .46 -.46 1.14 243 137)"/><use href="#f6" transform="matrix(.99 .02 -.02 .99 17 21)"/><use href="#f7" transform="matrix(-.09 1.01 -1.01 -.09 363 307)"/><use href="#f7" transform="matrix(-.37 1.08 -1.08 -.37 100 357)"/><use href="#f4" transform="matrix(.11 1.05 -1.05 .11 314 51)"/><use href="#f7" transform="matrix(-.01 -.82 .82 -.01 110 85)"/><use href="#f8" transform="matrix(1.04 -.07 .07 1.04 40 260)"/><use href="#f7" transform="matrix(.35 .92 -.92 .35 230 229)"/><use href="#f7" transform="matrix(-.81 -.84 .84 -.81 90 51)"/><use href="#f6" transform="matrix(.85 .98 -.98 .85 38 280)"/><use href="#f0" transform="matrix(-1.21 .06 -.06 -1.21 326 167)"/><use href="#f2" transform="matrix(-.6 1.08 -1.08 -.6 280 204)"/><use href="#f8" transform="matrix(-.98 -.66 .66 -.98 188 352)"/><use href="#f0" transform="matrix(.5 .64 -.64 .5 138 307)"/><use href="#f4" transform="matrix(.47 .97 -.97 .47 302 59)"/><use href="#f4" transform="matrix(1.25 -.31 .31 1.25 195 214)"/><use href="#f8" transform="matrix(-.12 .86 -.86 -.12 207 254)"/><use href="#f8" transform="matrix(.56 -.67 .67 .56 70 175)"/><use href="#f7" transform="matrix(-.08 .88 -.88 -.08 357 68)"/><use href="#f6" transform="matrix(-1.2 -.06 .06 -1.2 177 22)"/><use href="#f1" transform="matrix(.8 .03 -.03 .8 210 66)"/><use href="#f5" transform="matrix(.71 -.52 .52 .71 15 98)"/><use href="#f6" transform="matrix(-.84 .24 -.24 -.84 91 317)"/><use href="#f9" transform="matrix(.99 -.07 .07 .99 124 345)"/><use href="#f3" transform="matrix(-.88 .59 -.59 -.88 211 109)"/><use href="#f6" transform="matrix(.32 1.11 -1.11 .32 359 58)"/><use href="#f0" transform="matrix(-.03 .92 -.92 -.03 139 194)"/><use href="#f7" transform="matrix(.37 .77 -.77 .37 182 213)"/><use href="#f6" transform="matrix(-1.15 -.46 .46 -1.15 331 295)"/><use href="#f0" transform="matrix(-.27 -1.07 1.07 -.27 112 227)"/><use href="#f6" transform="matrix(-1.11 -.02 .02 -1.11 23 261)"/><use href="#f2" transform="matrix(1.16 -.33 .33 1.16 76 329)"/><use href="#f0" transform="matrix(-1.29 -.14 .14 -1.29 64 20)"/><use href="#f8" transform="matrix(1.06 -.07 .07 1.06 74 319)"/><use href="#f2" transform="matrix(1.04 .11 -.11 1.04 86 134)"/><use href="#f3" transform="matrix(.83 .58 -.58 .83 114 162)"/><use href="#f7" transform="matrix(1.12 -.08 .08 1.12 131 337)"/><use href="#f7" transform="matrix(-1.08 .06 -.06 -1.08 15 27)"/><use href="#f1" transform="matrix(-.51 -.85 .85 -.51 22 291)"/><use href="#f3" transform="matrix(.06 -.9 .9 .06 102 80)"/><use href="#f2" transform="matrix(.39 -.76 .76 .39 190 105)"/><use href="#f2" transform="matrix(-.06 1.1 -1.1 -.06 132 227)"/><use href="#f5" transform="matrix(-1.16 .16 -.16 -1.16 219 137)"/><use href="#f6" transform="matrix(-.43 .92 -.92 -.43 247 191)"/><use href="#f0" transform="matrix(-.16 .9 -.9 -.16 9 137)"/><use href="#f5" transform="matrix(1.22 -.24 .24 1.22 288 28)"/><use href="#f1" transform="matrix(-.81 .04 -.04 -.81 114 101)"/><use href="#f3" transform="matrix(.94 .05 -.05 .94 89 13)"/><use href="#f9" transform="matrix(.64 .77 -.77 .64 147 169)"/><use href="#f6" transform="matrix(-.71 -.44 .44 -.71 143 349)"/><use href="#f1" transform="matrix(.81 .61 -.61 .81 96 201)"/><use href="#f2" transform="matrix(.47 .7 -.7 .47 8 180)"/><use href="#f2" transform="matrix(-.12 1.17 -1.17 -.12 335 218)"/><use href="#f7" transform="matrix(-.79 .56 -.56 -.79 29 59)"/><use href="#f2" transform="matrix(.94 -.59 .59 .94 32 74)"/><use href="#f4" transform="matrix(-.05 .97 -.97 -.05 16 344)"/><use href="#f9" transform="matrix(1.09 .31 -.31 1.09 270 21)"/><use href="#f6" transform="matrix(1.15 .47 -.47 1.15 244 266)"/><use href="#f3" transform="matrix(-.83 -.29 .29 -.83 49 178)"/><use href="#f2" transform="matrix(.66 -.71 .71 .66 140 302)"/><use href="#f8" transform="matrix(-.1 -.81 .81 -.1 317 281)"/><use href="#f2" transform="matrix(1.07 -.35 .35 1.07 198 169)"/><use href="#f2" transform="matrix(.33 -1.02 1.02 .33 249 94)"/><use href="#f1" transform="matrix(-.07 1.27 -1.27 -.07 68 246)"/><use href="#f3" transform="matrix(.92 -.6 .6 .92 21 337)"/><use href="#f0" transform="matrix(-.54 .89 -.89 -.54 48 75)"/><use href="#f1" transform="matrix(.78 -.5 .5 .78 18 79)"/><use href="#f8" transform="matrix(1.22 -.06 .06 1.22 165 347)"/><use href="#f1" transform="matrix(.99 .48 -.48 .99 90 108)"/><use href="#f7" transform="matrix(.5 -.67 .67 .5 316 344)"/><use href="#f0" transform="matrix(.69 .47 -.47 .69 311 45)"/><use href="#f2" transform="matrix(.87 -.81 .81 .87 357 263)"/><use href="#f4" transform="matrix(1.07 .64 -.64 1.07 234 231)"/><use href="#f2" transform="matrix(-.82 -.76 .76 -.82 239 41)"/><use href="#f1" transform="matrix(.24 1.13 -1.13 .24 286 121)"/><use href="#f7" transform="matrix(-.49 .82 -.82 -.49 213 266)"/><use href="#f2" transform="matrix(-.7 .89 -.89 -.7 68 164)"/><use href="#f8" transform="matrix(.84 .29 -.29 .84 233 84)"/><use href="#f7" transform="matrix(-.73 .45 -.45 -.73 121 328)"/></g><g filter="url(#bl1)" fill="none" stroke="#d83010" stroke-width="1.05" opacity="0.80" stroke-dasharray="4.5 1.8" stroke-linecap="round" stroke-linejoin="round"><use href="#t11" transform="matrix(.95 -.36 .36 .95 56 41)"/><use href="#t16" transform="matrix(-.36 .85 -.85 -.36 124 39)"/><use href="#t9" transform="matrix(-.32 .97 -.97 -.32 166 53)"/><use href="#t14" transform="matrix(-1.11 -.14 .14 -1.11 31 121)"/><use href="#t6" transform="matrix(-.98 .25 -.25 -.98 132 160)"/><use href="#t19" transform="matrix(1.02 -.37 .37 1.02 329 8)"/><use href="#t8" transform="matrix(-.96 -.24 .24 -.96 214 41)"/><use href="#t0" transform="matrix(-.98 -.07 .07 -.98 209 84)"/><use href="#t0" transform="matrix(.2 .92 -.92 .2 281 98)"/><use href="#t1" transform="matrix(-.79 .62 -.62 -.79 300 104)"/><use href="#t2" transform="matrix(-1 -.51 .51 -1 360 98)"/><use href="#t15" transform="matrix(-.14 -.9 .9 -.14 298 178)"/><use href="#t9" transform="matrix(-.04 1.15 -1.15 -.04 266 180)"/><use href="#t4" transform="matrix(-.23 1.07 -1.07 -.23 120 256)"/><use href="#t17" transform="matrix(.33 .95 -.95 .33 156 249)"/><use href="#t2" transform="matrix(-1.11 .42 -.42 -1.11 150 292)"/><use href="#t17" transform="matrix(-1.04 .02 -.02 -1.04 114 336)"/><use href="#t14" transform="matrix(-.69 .54 -.54 -.69 12 328)"/><use href="#t10" transform="matrix(.18 .86 -.86 .18 19 311)"/><use href="#t3" transform="matrix(-.99 .3 -.3 -.99 85 306)"/><use href="#t7" transform="matrix(.79 -.39 .39 .79 29 216)"/><use href="#t5" transform="matrix(.69 -.5 .5 .69 177 346)"/><use href="#t6" transform="matrix(.07 -1.04 1.04 .07 230 214)"/><use href="#t10" transform="matrix(.36 .9 -.9 .36 307 238)"/><use href="#t4" transform="matrix(.3 1.04 -1.04 .3 289 345)"/><use href="#t10" transform="matrix(.87 .19 -.19 .87 326 184)"/><use href="#t11" transform="matrix(.79 -.66 .66 .79 199 354)"/><use href="#t17" transform="matrix(-.54 -.75 .75 -.54 56 72)"/><use href="#t17" transform="matrix(-.93 .47 -.47 -.93 91 138)"/><use href="#t9" transform="matrix(-.6 .93 -.93 -.6 41 168)"/><use href="#t13" transform="matrix(-.81 .43 -.43 -.81 136 208)"/><use href="#t14" transform="matrix(-.79 .74 -.74 -.79 341 148)"/><use href="#t17" transform="matrix(1.05 .32 -.32 1.05 236 328)"/><use href="#t14" transform="matrix(.86 -.83 .83 .86 326 348)"/><use href="#t1" transform="matrix(-.54 -.66 .66 -.54 86 358)"/></g><g filter="url(#bl1)" fill="none" stroke="#d83010" stroke-width="1.35" opacity="1.00" stroke-dasharray="4.5 1.8" stroke-linecap="round" stroke-linejoin="round"><use href="#t10" transform="matrix(1.25 .91 -.91 1.25 154 100)"/><use href="#t8" transform="matrix(.84 .84 -.84 .84 15 134)"/><use href="#t2" transform="matrix(.46 -1.04 1.04 .46 22 202)"/><use href="#t11" transform="matrix(1.35 -.02 .02 1.35 43 203)"/><use href="#t14" transform="matrix(.74 1.29 -1.29 .74 15 256)"/><use href="#t19" transform="matrix(-.84 -1.19 1.19 -.84 77 250)"/><use href="#t10" transform="matrix(1.1 .64 -.64 1.1 108 318)"/><use href="#t12" transform="matrix(-.88 -1.21 1.21 -.88 220 280)"/><use href="#t18" transform="matrix(-1.11 .16 -.16 -1.11 271 312)"/><use href="#t7" transform="matrix(-.71 -1.28 1.28 -.71 192 325)"/><use href="#t9" transform="matrix(-1.26 -.13 .13 -1.26 354 206)"/><use href="#t12" transform="matrix(1.15 .58 -.58 1.15 352 273)"/></g><g filter="url(#bl1)" fill="none" stroke="#38c41a" stroke-width="0.85" opacity="0.50" stroke-dasharray="6 1.2" stroke-linecap="round" stroke-linejoin="round"><use href="#t18" transform="matrix(.09 -.86 .86 .09 5 36)"/><use href="#t7" transform="matrix(-.72 -.35 .35 -.72 77 87)"/><use href="#t13" transform="matrix(-.53 -.44 .44 -.53 98 117)"/><use href="#t14" transform="matrix(.4 .59 -.59 .4 64 155)"/><use href="#t7" transform="matrix(-.67 -.34 .34 -.67 266 39)"/><use href="#t13" transform="matrix(-.35 -.54 .54 -.35 244 21)"/><use href="#t6" transform="matrix(-.78 .05 -.05 -.78 327 50)"/><use href="#t11" transform="matrix(.31 -.81 .81 .31 252 113)"/><use href="#t16" transform="matrix(.82 .04 -.04 .82 316 140)"/><use href="#t8" transform="matrix(-.61 -.46 .46 -.61 54 303)"/><use href="#t7" transform="matrix(-.26 .73 -.73 -.26 310 281)"/><use href="#t14" transform="matrix(-.19 .84 -.84 -.19 352 324)"/><use href="#t1" transform="matrix(.31 -.63 .63 .31 184 187)"/><use href="#t10" transform="matrix(-.6 -.58 .58 -.6 274 147)"/><use href="#t8" transform="matrix(.25 .8 -.8 .25 144 7)"/><use href="#t15" transform="matrix(.68 -.48 .48 .68 294 17)"/><use href="#f0" transform="matrix(.7 -.87 .87 .7 13 319)"/><use href="#f1" transform="matrix(-1.05 .13 -.13 -1.05 358 293)"/><use href="#f1" transform="matrix(-.72 -.47 .47 -.72 53 262)"/><use href="#f0" transform="matrix(.03 -.85 .85 .03 87 79)"/><use href="#f3" transform="matrix(.04 1.16 -1.16 .04 269 239)"/><use href="#f9" transform="matrix(-.14 1.01 -1.01 -.14 287 271)"/><use href="#f0" transform="matrix(1.04 -.2 .2 1.04 361 329)"/><use href="#f3" transform="matrix(.96 .1 -.1 .96 38 193)"/><use href="#f8" transform="matrix(-.51 -1.15 1.15 -.51 331 211)"/><use href="#f1" transform="matrix(.74 -.79 .79 .74 40 15)"/><use href="#f9" transform="matrix(-1.06 -.52 .52 -1.06 221 364)"/><use href="#f0" transform="matrix(1.11 .67 -.67 1.11 42 251)"/><use href="#f4" transform="matrix(-1.07 -.35 .35 -1.07 105 61)"/><use href="#f6" transform="matrix(.78 -.57 .57 .78 55 313)"/><use href="#f0" transform="matrix(-.56 .87 -.87 -.56 88 143)"/><use href="#f3" transform="matrix(-.3 -.97 .97 -.3 149 219)"/><use href="#f3" transform="matrix(-.12 .96 -.96 -.12 324 278)"/><use href="#f0" transform="matrix(1.13 .34 -.34 1.13 82 193)"/><use href="#f6" transform="matrix(1.08 -.42 .42 1.08 47 217)"/><use href="#f9" transform="matrix(-.65 -.9 .9 -.65 135 290)"/><use href="#f4" transform="matrix(.91 -.28 .28 .91 311 20)"/><use href="#f2" transform="matrix(1.14 .46 -.46 1.14 242 136)"/><use href="#f6" transform="matrix(.99 .02 -.02 .99 15 21)"/><use href="#f7" transform="matrix(-.09 1.01 -1.01 -.09 361 306)"/><use href="#f7" transform="matrix(-.37 1.08 -1.08 -.37 98 356)"/><use href="#f4" transform="matrix(.11 1.05 -1.05 .11 313 50)"/><use href="#f7" transform="matrix(-.01 -.82 .82 -.01 109 85)"/><use href="#f8" transform="matrix(1.04 -.07 .07 1.04 39 260)"/><use href="#f7" transform="matrix(.35 .92 -.92 .35 229 228)"/><use href="#f7" transform="matrix(-.81 -.84 .84 -.81 89 50)"/><use href="#f6" transform="matrix(.85 .98 -.98 .85 37 279)"/><use href="#f0" transform="matrix(-1.21 .06 -.06 -1.21 324 166)"/><use href="#f2" transform="matrix(-.6 1.08 -1.08 -.6 279 203)"/><use href="#f8" transform="matrix(-.98 -.66 .66 -.98 187 351)"/><use href="#f0" transform="matrix(.5 .64 -.64 .5 137 306)"/><use href="#f4" transform="matrix(.47 .97 -.97 .47 301 58)"/><use href="#f4" transform="matrix(1.25 -.31 .31 1.25 194 213)"/><use href="#f8" transform="matrix(-.12 .86 -.86 -.12 206 253)"/><use href="#f8" transform="matrix(.56 -.67 .67 .56 68 175)"/><use href="#f7" transform="matrix(-.08 .88 -.88 -.08 356 67)"/><use href="#f6" transform="matrix(-1.2 -.06 .06 -1.2 176 22)"/><use href="#f1" transform="matrix(.8 .03 -.03 .8 208 65)"/><use href="#f5" transform="matrix(.71 -.52 .52 .71 13 98)"/><use href="#f6" transform="matrix(-.84 .24 -.24 -.84 90 316)"/><use href="#f9" transform="matrix(.99 -.07 .07 .99 122 345)"/><use href="#f3" transform="matrix(-.88 .59 -.59 -.88 210 108)"/><use href="#f6" transform="matrix(.32 1.11 -1.11 .32 357 58)"/><use href="#f0" transform="matrix(-.03 .92 -.92 -.03 138 193)"/><use href="#f7" transform="matrix(.37 .77 -.77 .37 181 212)"/><use href="#f6" transform="matrix(-1.15 -.46 .46 -1.15 330 294)"/><use href="#f0" transform="matrix(-.27 -1.07 1.07 -.27 111 227)"/><use href="#f6" transform="matrix(-1.11 -.02 .02 -1.11 22 260)"/><use href="#f2" transform="matrix(1.16 -.33 .33 1.16 75 328)"/><use href="#f0" transform="matrix(-1.29 -.14 .14 -1.29 63 19)"/><use href="#f8" transform="matrix(1.06 -.07 .07 1.06 73 319)"/><use href="#f2" transform="matrix(1.04 .11 -.11 1.04 84 133)"/><use href="#f3" transform="matrix(.83 .58 -.58 .83 113 162)"/><use href="#f7" transform="matrix(1.12 -.08 .08 1.12 130 336)"/><use href="#f7" transform="matrix(-1.08 .06 -.06 -1.08 14 26)"/><use href="#f1" transform="matrix(-.51 -.85 .85 -.51 21 290)"/><use href="#f3" transform="matrix(.06 -.9 .9 .06 100 80)"/><use href="#f2" transform="matrix(.39 -.76 .76 .39 189 104)"/><use href="#f2" transform="matrix(-.06 1.1 -1.1 -.06 130 226)"/><use href="#f5" transform="matrix(-1.16 .16 -.16 -1.16 218 137)"/><use href="#f6" transform="matrix(-.43 .92 -.92 -.43 246 190)"/><use href="#f0" transform="matrix(-.16 .9 -.9 -.16 8 136)"/><use href="#f5" transform="matrix(1.22 -.24 .24 1.22 287 27)"/><use href="#f1" transform="matrix(-.81 .04 -.04 -.81 112 100)"/><use href="#f3" transform="matrix(.94 .05 -.05 .94 88 12)"/><use href="#f9" transform="matrix(.64 .77 -.77 .64 146 169)"/><use href="#f6" transform="matrix(-.71 -.44 .44 -.71 142 348)"/><use href="#f1" transform="matrix(.81 .61 -.61 .81 95 201)"/><use href="#f2" transform="matrix(.47 .7 -.7 .47 7 179)"/><use href="#f2" transform="matrix(-.12 1.17 -1.17 -.12 334 217)"/><use href="#f7" transform="matrix(-.79 .56 -.56 -.79 27 59)"/><use href="#f2" transform="matrix(.94 -.59 .59 .94 31 73)"/><use href="#f4" transform="matrix(-.05 .97 -.97 -.05 15 343)"/><use href="#f9" transform="matrix(1.09 .31 -.31 1.09 269 20)"/><use href="#f6" transform="matrix(1.15 .47 -.47 1.15 243 265)"/><use href="#f3" transform="matrix(-.83 -.29 .29 -.83 47 177)"/><use href="#f2" transform="matrix(.66 -.71 .71 .66 139 301)"/><use href="#f8" transform="matrix(-.1 -.81 .81 -.1 316 281)"/><use href="#f2" transform="matrix(1.07 -.35 .35 1.07 196 169)"/><use href="#f2" transform="matrix(.33 -1.02 1.02 .33 248 93)"/><use href="#f1" transform="matrix(-.07 1.27 -1.27 -.07 66 246)"/><use href="#f3" transform="matrix(.92 -.6 .6 .92 20 336)"/><use href="#f0" transform="matrix(-.54 .89 -.89 -.54 47 74)"/><use href="#f1" transform="matrix(.78 -.5 .5 .78 17 78)"/><use href="#f8" transform="matrix(1.22 -.06 .06 1.22 164 346)"/><use href="#f1" transform="matrix(.99 .48 -.48 .99 88 108)"/><use href="#f7" transform="matrix(.5 -.67 .67 .5 315 343)"/><use href="#f0" transform="matrix(.69 .47 -.47 .69 310 44)"/><use href="#f2" transform="matrix(.87 -.81 .81 .87 356 263)"/><use href="#f4" transform="matrix(1.07 .64 -.64 1.07 232 230)"/><use href="#f2" transform="matrix(-.82 -.76 .76 -.82 238 40)"/><use href="#f1" transform="matrix(.24 1.13 -1.13 .24 285 121)"/><use href="#f7" transform="matrix(-.49 .82 -.82 -.49 212 265)"/><use href="#f2" transform="matrix(-.7 .89 -.89 -.7 66 163)"/><use href="#f8" transform="matrix(.84 .29 -.29 .84 231 83)"/><use href="#f7" transform="matrix(-.73 .45 -.45 -.73 120 327)"/></g><g filter="url(#bl1)" fill="none" stroke="#38c41a" stroke-width="1.05" opacity="0.80" stroke-dasharray="6 1.2" stroke-linecap="round" stroke-linejoin="round"><use href="#t11" transform="matrix(.95 -.36 .36 .95 55 40)"/><use href="#t16" transform="matrix(-.36 .85 -.85 -.36 123 38)"/><use href="#t9" transform="matrix(-.32 .97 -.97 -.32 165 52)"/><use href="#t14" transform="matrix(-1.11 -.14 .14 -1.11 29 120)"/><use href="#t6" transform="matrix(-.98 .25 -.25 -.98 131 160)"/><use href="#t19" transform="matrix(1.02 -.37 .37 1.02 328 7)"/><use href="#t8" transform="matrix(-.96 -.24 .24 -.96 213 40)"/><use href="#t0" transform="matrix(-.98 -.07 .07 -.98 208 83)"/><use href="#t0" transform="matrix(.2 .92 -.92 .2 280 97)"/><use href="#t1" transform="matrix(-.79 .62 -.62 -.79 299 104)"/><use href="#t2" transform="matrix(-1 -.51 .51 -1 359 97)"/><use href="#t15" transform="matrix(-.14 -.9 .9 -.14 297 177)"/><use href="#t9" transform="matrix(-.04 1.15 -1.15 -.04 264 180)"/><use href="#t4" transform="matrix(-.23 1.07 -1.07 -.23 119 255)"/><use href="#t17" transform="matrix(.33 .95 -.95 .33 154 248)"/><use href="#t2" transform="matrix(-1.11 .42 -.42 -1.11 149 291)"/><use href="#t17" transform="matrix(-1.04 .02 -.02 -1.04 112 336)"/><use href="#t14" transform="matrix(-.69 .54 -.54 -.69 11 327)"/><use href="#t10" transform="matrix(.18 .86 -.86 .18 18 310)"/><use href="#t3" transform="matrix(-.99 .3 -.3 -.99 84 305)"/><use href="#t7" transform="matrix(.79 -.39 .39 .79 28 215)"/><use href="#t5" transform="matrix(.69 -.5 .5 .69 176 346)"/><use href="#t6" transform="matrix(.07 -1.04 1.04 .07 228 213)"/><use href="#t10" transform="matrix(.36 .9 -.9 .36 306 237)"/><use href="#t4" transform="matrix(.3 1.04 -1.04 .3 288 344)"/><use href="#t10" transform="matrix(.87 .19 -.19 .87 324 184)"/><use href="#t11" transform="matrix(.79 -.66 .66 .79 198 353)"/><use href="#t17" transform="matrix(-.54 -.75 .75 -.54 54 72)"/><use href="#t17" transform="matrix(-.93 .47 -.47 -.93 90 137)"/><use href="#t9" transform="matrix(-.6 .93 -.93 -.6 40 167)"/><use href="#t13" transform="matrix(-.81 .43 -.43 -.81 134 207)"/><use href="#t14" transform="matrix(-.79 .74 -.74 -.79 340 147)"/><use href="#t17" transform="matrix(1.05 .32 -.32 1.05 234 327)"/><use href="#t14" transform="matrix(.86 -.83 .83 .86 324 347)"/><use href="#t1" transform="matrix(-.54 -.66 .66 -.54 84 357)"/></g><g filter="url(#bl1)" fill="none" stroke="#38c41a" stroke-width="1.35" opacity="1.00" stroke-dasharray="6 1.2" stroke-linecap="round" stroke-linejoin="round"><use href="#t10" transform="matrix(1.25 .91 -.91 1.25 152 99)"/><use href="#t8" transform="matrix(.84 .84 -.84 .84 14 133)"/><use href="#t2" transform="matrix(.46 -1.04 1.04 .46 20 201)"/><use href="#t11" transform="matrix(1.35 -.02 .02 1.35 42 202)"/><use href="#t14" transform="matrix(.74 1.29 -1.29 .74 14 255)"/><use href="#t19" transform="matrix(-.84 -1.19 1.19 -.84 76 250)"/><use href="#t10" transform="matrix(1.1 .64 -.64 1.1 106 317)"/><use href="#t12" transform="matrix(-.88 -1.21 1.21 -.88 219 279)"/><use href="#t18" transform="matrix(-1.11 .16 -.16 -1.11 270 311)"/><use href="#t7" transform="matrix(-.71 -1.28 1.28 -.71 190 324)"/><use href="#t9" transform="matrix(-1.26 -.13 .13 -1.26 352 205)"/><use href="#t12" transform="matrix(1.15 .58 -.58 1.15 351 272)"/></g><g filter="url(#bl1)" fill="none" stroke="#e8e030" stroke-width="0.72" opacity="0.47" stroke-dasharray="5 1.5" stroke-linecap="round" stroke-linejoin="round"><use href="#t18" transform="matrix(.09 -.86 .86 .09 6 37)"/><use href="#t7" transform="matrix(-.72 -.35 .35 -.72 78 88)"/><use href="#t13" transform="matrix(-.53 -.44 .44 -.53 99 118)"/><use href="#t14" transform="matrix(.4 .59 -.59 .4 65 156)"/><use href="#t7" transform="matrix(-.67 -.34 .34 -.67 266 40)"/><use href="#t13" transform="matrix(-.35 -.54 .54 -.35 245 21)"/><use href="#t6" transform="matrix(-.78 .05 -.05 -.78 328 50)"/><use href="#t11" transform="matrix(.31 -.81 .81 .31 252 113)"/><use href="#t16" transform="matrix(.82 .04 -.04 .82 317 140)"/><use href="#t8" transform="matrix(-.61 -.46 .46 -.61 55 304)"/><use href="#t7" transform="matrix(-.26 .73 -.73 -.26 311 281)"/><use href="#t14" transform="matrix(-.19 .84 -.84 -.19 353 325)"/><use href="#t1" transform="matrix(.31 -.63 .63 .31 185 187)"/><use href="#t10" transform="matrix(-.6 -.58 .58 -.6 275 147)"/><use href="#t8" transform="matrix(.25 .8 -.8 .25 145 7)"/><use href="#t15" transform="matrix(.68 -.48 .48 .68 295 17)"/><use href="#f0" transform="matrix(.7 -.87 .87 .7 13 319)"/><use href="#f1" transform="matrix(-1.05 .13 -.13 -1.05 358 293)"/><use href="#f1" transform="matrix(-.72 -.47 .47 -.72 54 262)"/><use href="#f0" transform="matrix(.03 -.85 .85 .03 88 80)"/><use href="#f3" transform="matrix(.04 1.16 -1.16 .04 269 239)"/><use href="#f9" transform="matrix(-.14 1.01 -1.01 -.14 287 271)"/><use href="#f0" transform="matrix(1.04 -.2 .2 1.04 362 329)"/><use href="#f3" transform="matrix(.96 .1 -.1 .96 39 194)"/><use href="#f8" transform="matrix(-.51 -1.15 1.15 -.51 332 212)"/><use href="#f1" transform="matrix(.74 -.79 .79 .74 41 15)"/><use href="#f9" transform="matrix(-1.06 -.52 .52 -1.06 221 365)"/><use href="#f0" transform="matrix(1.11 .67 -.67 1.11 43 251)"/><use href="#f4" transform="matrix(-1.07 -.35 .35 -1.07 106 61)"/><use href="#f6" transform="matrix(.78 -.57 .57 .78 56 313)"/><use href="#f0" transform="matrix(-.56 .87 -.87 -.56 88 143)"/><use href="#f3" transform="matrix(-.3 -.97 .97 -.3 150 220)"/><use href="#f3" transform="matrix(-.12 .96 -.96 -.12 324 278)"/><use href="#f0" transform="matrix(1.13 .34 -.34 1.13 82 193)"/><use href="#f6" transform="matrix(1.08 -.42 .42 1.08 47 218)"/><use href="#f9" transform="matrix(-.65 -.9 .9 -.65 136 291)"/><use href="#f4" transform="matrix(.91 -.28 .28 .91 312 20)"/><use href="#f2" transform="matrix(1.14 .46 -.46 1.14 243 136)"/><use href="#f6" transform="matrix(.99 .02 -.02 .99 16 21)"/><use href="#f7" transform="matrix(-.09 1.01 -1.01 -.09 362 307)"/><use href="#f7" transform="matrix(-.37 1.08 -1.08 -.37 99 356)"/><use href="#f4" transform="matrix(.11 1.05 -1.05 .11 313 51)"/><use href="#f7" transform="matrix(-.01 -.82 .82 -.01 109 85)"/><use href="#f8" transform="matrix(1.04 -.07 .07 1.04 39 260)"/><use href="#f7" transform="matrix(.35 .92 -.92 .35 230 229)"/><use href="#f7" transform="matrix(-.81 -.84 .84 -.81 89 50)"/><use href="#f6" transform="matrix(.85 .98 -.98 .85 37 279)"/><use href="#f0" transform="matrix(-1.21 .06 -.06 -1.21 325 167)"/><use href="#f2" transform="matrix(-.6 1.08 -1.08 -.6 280 204)"/><use href="#f8" transform="matrix(-.98 -.66 .66 -.98 187 352)"/><use href="#f0" transform="matrix(.5 .64 -.64 .5 138 306)"/><use href="#f4" transform="matrix(.47 .97 -.97 .47 301 58)"/><use href="#f4" transform="matrix(1.25 -.31 .31 1.25 194 214)"/><use href="#f8" transform="matrix(-.12 .86 -.86 -.12 207 253)"/><use href="#f8" transform="matrix(.56 -.67 .67 .56 69 175)"/><use href="#f7" transform="matrix(-.08 .88 -.88 -.08 356 67)"/><use href="#f6" transform="matrix(-1.2 -.06 .06 -1.2 177 22)"/><use href="#f1" transform="matrix(.8 .03 -.03 .8 209 66)"/><use href="#f5" transform="matrix(.71 -.52 .52 .71 14 98)"/><use href="#f6" transform="matrix(-.84 .24 -.24 -.84 90 317)"/><use href="#f9" transform="matrix(.99 -.07 .07 .99 123 345)"/><use href="#f3" transform="matrix(-.88 .59 -.59 -.88 210 108)"/><use href="#f6" transform="matrix(.32 1.11 -1.11 .32 358 58)"/><use href="#f0" transform="matrix(-.03 .92 -.92 -.03 139 194)"/><use href="#f7" transform="matrix(.37 .77 -.77 .37 181 212)"/><use href="#f6" transform="matrix(-1.15 -.46 .46 -1.15 331 295)"/><use href="#f0" transform="matrix(-.27 -1.07 1.07 -.27 111 227)"/><use href="#f6" transform="matrix(-1.11 -.02 .02 -1.11 22 261)"/><use href="#f2" transform="matrix(1.16 -.33 .33 1.16 75 328)"/><use href="#f0" transform="matrix(-1.29 -.14 .14 -1.29 63 20)"/><use href="#f8" transform="matrix(1.06 -.07 .07 1.06 74 319)"/><use href="#f2" transform="matrix(1.04 .11 -.11 1.04 85 133)"/><use href="#f3" transform="matrix(.83 .58 -.58 .83 114 162)"/><use href="#f7" transform="matrix(1.12 -.08 .08 1.12 130 336)"/><use href="#f7" transform="matrix(-1.08 .06 -.06 -1.08 14 27)"/><use href="#f1" transform="matrix(-.51 -.85 .85 -.51 21 291)"/><use href="#f3" transform="matrix(.06 -.9 .9 .06 101 80)"/><use href="#f2" transform="matrix(.39 -.76 .76 .39 190 105)"/><use href="#f2" transform="matrix(-.06 1.1 -1.1 -.06 131 226)"/><use href="#f5" transform="matrix(-1.16 .16 -.16 -1.16 219 137)"/><use href="#f6" transform="matrix(-.43 .92 -.92 -.43 246 190)"/><use href="#f0" transform="matrix(-.16 .9 -.9 -.16 9 136)"/><use href="#f5" transform="matrix(1.22 -.24 .24 1.22 287 27)"/><use href="#f1" transform="matrix(-.81 .04 -.04 -.81 113 100)"/><use href="#f3" transform="matrix(.94 .05 -.05 .94 89 12)"/><use href="#f9" transform="matrix(.64 .77 -.77 .64 146 169)"/><use href="#f6" transform="matrix(-.71 -.44 .44 -.71 142 348)"/><use href="#f1" transform="matrix(.81 .61 -.61 .81 95 201)"/><use href="#f2" transform="matrix(.47 .7 -.7 .47 7 179)"/><use href="#f2" transform="matrix(-.12 1.17 -1.17 -.12 335 217)"/><use href="#f7" transform="matrix(-.79 .56 -.56 -.79 28 59)"/><use href="#f2" transform="matrix(.94 -.59 .59 .94 32 73)"/><use href="#f4" transform="matrix(-.05 .97 -.97 -.05 15 343)"/><use href="#f9" transform="matrix(1.09 .31 -.31 1.09 269 20)"/><use href="#f6" transform="matrix(1.15 .47 -.47 1.15 243 265)"/><use href="#f3" transform="matrix(-.83 -.29 .29 -.83 48 177)"/><use href="#f2" transform="matrix(.66 -.71 .71 .66 140 301)"/><use href="#f8" transform="matrix(-.1 -.81 .81 -.1 317 281)"/><use href="#f2" transform="matrix(1.07 -.35 .35 1.07 197 169)"/><use href="#f2" transform="matrix(.33 -1.02 1.02 .33 248 93)"/><use href="#f1" transform="matrix(-.07 1.27 -1.27 -.07 67 246)"/><use href="#f3" transform="matrix(.92 -.6 .6 .92 21 336)"/><use href="#f0" transform="matrix(-.54 .89 -.89 -.54 48 75)"/><use href="#f1" transform="matrix(.78 -.5 .5 .78 18 78)"/><use href="#f8" transform="matrix(1.22 -.06 .06 1.22 164 346)"/><use href="#f1" transform="matrix(.99 .48 -.48 .99 89 108)"/><use href="#f7" transform="matrix(.5 -.67 .67 .5 316 344)"/><use href="#f0" transform="matrix(.69 .47 -.47 .69 310 44)"/><use href="#f2" transform="matrix(.87 -.81 .81 .87 356 263)"/><use href="#f4" transform="matrix(1.07 .64 -.64 1.07 233 230)"/><use href="#f2" transform="matrix(-.82 -.76 .76 -.82 239 40)"/><use href="#f1" transform="matrix(.24 1.13 -1.13 .24 285 121)"/><use href="#f7" transform="matrix(-.49 .82 -.82 -.49 212 266)"/><use href="#f2" transform="matrix(-.7 .89 -.89 -.7 67 163)"/><use href="#f8" transform="matrix(.84 .29 -.29 .84 232 84)"/><use href="#f7" transform="matrix(-.73 .45 -.45 -.73 120 327)"/></g><g filter="url(#bl1)" fill="none" stroke="#e8e030" stroke-width="0.89" opacity="0.76" stroke-dasharray="5 1.5" stroke-linecap="round" stroke-linejoin="round"><use href="#t11" transform="matrix(.95 -.36 .36 .95 55 40)"/><use href="#t16" transform="matrix(-.36 .85 -.85 -.36 123 38)"/><use href="#t9" transform="matrix(-.32 .97 -.97 -.32 166 52)"/><use href="#t14" transform="matrix(-1.11 -.14 .14 -1.11 30 120)"/><use href="#t6" transform="matrix(-.98 .25 -.25 -.98 132 160)"/><use href="#t19" transform="matrix(1.02 -.37 .37 1.02 328 7)"/><use href="#t8" transform="matrix(-.96 -.24 .24 -.96 214 40)"/><use href="#t0" transform="matrix(-.98 -.07 .07 -.98 208 84)"/><use href="#t0" transform="matrix(.2 .92 -.92 .2 280 98)"/><use href="#t1" transform="matrix(-.79 .62 -.62 -.79 299 104)"/><use href="#t2" transform="matrix(-1 -.51 .51 -1 360 98)"/><use href="#t15" transform="matrix(-.14 -.9 .9 -.14 297 177)"/><use href="#t9" transform="matrix(-.04 1.15 -1.15 -.04 265 180)"/><use href="#t4" transform="matrix(-.23 1.07 -1.07 -.23 120 256)"/><use href="#t17" transform="matrix(.33 .95 -.95 .33 155 249)"/><use href="#t2" transform="matrix(-1.11 .42 -.42 -1.11 149 291)"/><use href="#t17" transform="matrix(-1.04 .02 -.02 -1.04 113 336)"/><use href="#t14" transform="matrix(-.69 .54 -.54 -.69 11 328)"/><use href="#t10" transform="matrix(.18 .86 -.86 .18 18 311)"/><use href="#t3" transform="matrix(-.99 .3 -.3 -.99 84 305)"/><use href="#t7" transform="matrix(.79 -.39 .39 .79 28 215)"/><use href="#t5" transform="matrix(.69 -.5 .5 .69 176 346)"/><use href="#t6" transform="matrix(.07 -1.04 1.04 .07 229 214)"/><use href="#t10" transform="matrix(.36 .9 -.9 .36 306 238)"/><use href="#t4" transform="matrix(.3 1.04 -1.04 .3 288 345)"/><use href="#t10" transform="matrix(.87 .19 -.19 .87 325 184)"/><use href="#t11" transform="matrix(.79 -.66 .66 .79 198 353)"/><use href="#t17" transform="matrix(-.54 -.75 .75 -.54 55 72)"/><use href="#t17" transform="matrix(-.93 .47 -.47 -.93 90 137)"/><use href="#t9" transform="matrix(-.6 .93 -.93 -.6 40 167)"/><use href="#t13" transform="matrix(-.81 .43 -.43 -.81 135 207)"/><use href="#t14" transform="matrix(-.79 .74 -.74 -.79 340 147)"/><use href="#t17" transform="matrix(1.05 .32 -.32 1.05 235 327)"/><use href="#t14" transform="matrix(.86 -.83 .83 .86 325 347)"/><use href="#t1" transform="matrix(-.54 -.66 .66 -.54 85 357)"/></g><g filter="url(#bl1)" fill="none" stroke="#e8e030" stroke-width="1.15" opacity="0.95" stroke-dasharray="5 1.5" stroke-linecap="round" stroke-linejoin="round"><use href="#t10" transform="matrix(1.25 .91 -.91 1.25 153 99)"/><use href="#t8" transform="matrix(.84 .84 -.84 .84 14 133)"/><use href="#t2" transform="matrix(.46 -1.04 1.04 .46 21 201)"/><use href="#t11" transform="matrix(1.35 -.02 .02 1.35 42 202)"/><use href="#t14" transform="matrix(.74 1.29 -1.29 .74 14 256)"/><use href="#t19" transform="matrix(-.84 -1.19 1.19 -.84 76 250)"/><use href="#t10" transform="matrix(1.1 .64 -.64 1.1 107 318)"/><use href="#t12" transform="matrix(-.88 -1.21 1.21 -.88 219 280)"/><use href="#t18" transform="matrix(-1.11 .16 -.16 -1.11 270 311)"/><use href="#t7" transform="matrix(-.71 -1.28 1.28 -.71 191 325)"/><use href="#t9" transform="matrix(-1.26 -.13 .13 -1.26 353 205)"/><use href="#t12" transform="matrix(1.15 .58 -.58 1.15 352 273)"/></g><g fill="none" stroke="#c8c820" stroke-width="0.8" opacity="0.6"><path d="M235 183l9 1l7 4l9 -3l7 6l6 9l8 0"/><path d="M194 201l-2 9l-4 8l-4 9l-10 5l-10 4l-3 10"/><path d="M187 149l-4 -2l-4 -3l-2 -4l0 -6l2 -7l3 -7"/><path d="M240 161l6 2l6 3l4 -6l4 -5l4 -3l4 -4"/><path d="M243 168l5 4l4 -1l5 -6l4 -2l4 -4l3 -6"/><path d="M195 141l-3 -8l0 -9l-3 -8l0 -8l-3 -8l-9 -6"/><path d="M175 169l-5 1l-4 -3l-6 4l-5 -2l-5 -4l-5 4"/><path d="M187 146l0 -5l0 -5l3 -6l-4 -3l-5 -2l-4 -3"/><path d="M178 158l-7 -4l-5 -7l-7 -5l-8 -2l-11 3l-6 -5"/><path d="M244 175l6 0l5 6l6 -2l5 5l6 -1l6 -4"/><path d="M189 196l0 6l-3 4l-6 1l-1 5l-2 5l-1 5"/><path d="M177 187l-6 7l-7 3l-9 -1l-9 -2l-5 9l-6 6"/><path d="M235 186l6 6l5 6l9 1l6 4l6 5l10 -1"/><path d="M172 162l-5 -6l-3 -7l-7 0l-9 3l-5 -4l-8 4"/><path d="M217 141l-2 -6l-1 -5l4 -4l4 -4l1 -5l-1 -6"/><path d="M196 138l2 -7l2 -7l-7 -6l4 -7l2 -7l-5 -6"/><path d="M177 172l-8 -1l-7 2l-8 3l-7 4l-8 -7l-7 -7"/><path d="M233 153l5 -4l8 1l6 -4l6 -1l8 1l8 4"/><path d="M236 184l6 0l5 -1l6 -3l4 2l6 -5l5 -4"/><path d="M195 202l-5 4l-1 5l-6 3l3 7l-3 5l3 6"/></g><g fill="none" stroke="#40c020" stroke-width="0.8" opacity="0.6"><path d="M232 199l3 4l4 3l1 7l6 1l4 3l6 3"/><path d="M181 158l-5 0l-6 1l-5 0l-4 -4l-3 -6l-5 -2"/><path d="M184 148l-6 -6l-5 -7l-1 -10l-6 -6l0 -10l-3 -8"/><path d="M221 145l5 -6l1 -7l-3 -9l2 -7l5 -5l-1 -9"/><path d="M185 200l0 6l0 6l-4 4l-3 5l-2 5l-9 1"/><path d="M234 187l7 0l8 -1l7 0l8 -5l7 0l7 1"/><path d="M194 138l-2 -3l-2 -3l2 -5l2 -4l4 -4l3 -4"/><path d="M200 203l-5 8l-4 8l-7 7l-2 9l4 10l-6 8"/><path d="M225 138l3 -2l0 -4l3 -2l2 -4l-2 -5l2 -3"/><path d="M173 174l-7 5l-8 1l-7 6l-8 3l-6 8l-10 -5"/><path d="M231 186l4 3l6 0l5 2l5 1l4 2l1 8"/><path d="M222 199l-1 5l1 4l5 3l0 4l0 5l7 2"/><path d="M187 146l-4 -5l-4 -3l-6 -3l-3 -5l-1 -6l2 -8"/><path d="M188 201l-2 4l-5 3l2 6l-2 4l-3 4l-4 3"/></g><g fill="none" stroke="#d04010" stroke-width="0.8" opacity="0.6"><path d="M236 176l7 -3l6 -3l7 -4l6 3l6 -6l7 3"/><path d="M216 142l1 -5l4 -4l-3 -6l-3 -6l7 -4l2 -4"/><path d="M227 199l1 8l1 8l-2 8l-3 8l-1 8l1 7"/><path d="M183 192l-5 4l-3 6l-7 2l-7 1l-8 0l-1 10"/><path d="M213 144l0 -8l4 -7l1 -7l7 -6l-1 -8l-5 -9"/><path d="M179 164l-7 0l-6 -4l-7 -4l-8 4l-7 -4l-4 -10"/><path d="M216 140l4 -6l2 -6l-4 -7l3 -6l-1 -7l7 -5"/><path d="M219 146l1 -7l-2 -8l-3 -7l-4 -7l7 -6l7 -5"/><path d="M206 143l4 -6l0 -6l4 -5l1 -6l0 -6l8 -4"/><path d="M176 184l-8 0l-8 -1l-7 2l-8 1l-7 1l-5 11"/><path d="M191 137l1 -9l-5 -6l-4 -7l-8 -5l-2 -8l-6 -7"/></g><g filter="url(#bl2)"><ellipse cx="6" cy="37" rx="3.0" ry="2.2" fill="#9a9a18" transform="rotate(70 6 37)"/><ellipse cx="55" cy="40" rx="3.9" ry="2.9" fill="#d8d828" transform="rotate(87 55 40)"/><ellipse cx="123" cy="38" rx="3.9" ry="3.3" fill="#d8d828" transform="rotate(4 123 38)"/><ellipse cx="166" cy="52" rx="5.0" ry="3.5" fill="#d8d828" transform="rotate(59 166 52)"/><ellipse cx="153" cy="99" rx="5.1" ry="4.5" fill="#f4f040" transform="rotate(134 153 99)"/><ellipse cx="14" cy="133" rx="6.3" ry="5.2" fill="#f4f040" transform="rotate(126 14 133)"/><ellipse cx="30" cy="120" rx="3.8" ry="3.2" fill="#d8d828" transform="rotate(85 30 120)"/><ellipse cx="132" cy="160" rx="3.9" ry="3.5" fill="#d8d828" transform="rotate(9 132 160)"/><ellipse cx="78" cy="88" rx="2.6" ry="2.3" fill="#9a9a18" transform="rotate(93 78 88)"/><ellipse cx="99" cy="118" rx="3.5" ry="2.7" fill="#9a9a18" transform="rotate(27 99 118)"/><ellipse cx="65" cy="156" rx="2.8" ry="2.6" fill="#9a9a18" transform="rotate(45 65 156)"/><ellipse cx="328" cy="7" rx="4.2" ry="3.7" fill="#d8d828" transform="rotate(35 328 7)"/><ellipse cx="214" cy="40" rx="4.5" ry="3.7" fill="#d8d828" transform="rotate(144 214 40)"/><ellipse cx="266" cy="40" rx="3.3" ry="2.9" fill="#9a9a18" transform="rotate(137 266 40)"/><ellipse cx="245" cy="21" rx="2.6" ry="1.8" fill="#9a9a18" transform="rotate(73 245 21)"/><ellipse cx="328" cy="50" rx="3.3" ry="2.7" fill="#9a9a18" transform="rotate(1 328 50)"/><ellipse cx="208" cy="84" rx="3.8" ry="3.1" fill="#d8d828" transform="rotate(63 208 84)"/><ellipse cx="280" cy="98" rx="5.0" ry="3.8" fill="#d8d828" transform="rotate(67 280 98)"/><ellipse cx="299" cy="104" rx="4.7" ry="4.5" fill="#d8d828" transform="rotate(126 299 104)"/><ellipse cx="360" cy="98" rx="3.7" ry="2.9" fill="#d8d828" transform="rotate(118 360 98)"/><ellipse cx="252" cy="113" rx="3.5" ry="2.7" fill="#9a9a18" transform="rotate(50 252 113)"/><ellipse cx="297" cy="177" rx="5.0" ry="3.6" fill="#d8d828" transform="rotate(148 297 177)"/><ellipse cx="265" cy="180" rx="5.0" ry="4.2" fill="#d8d828" transform="rotate(163 265 180)"/><ellipse cx="317" cy="140" rx="3.5" ry="2.9" fill="#9a9a18" transform="rotate(87 317 140)"/><ellipse cx="21" cy="201" rx="6.3" ry="6.0" fill="#f4f040" transform="rotate(105 21 201)"/><ellipse cx="42" cy="202" rx="6.9" ry="5.9" fill="#f4f040" transform="rotate(62 42 202)"/><ellipse cx="14" cy="256" rx="6.7" ry="5.1" fill="#f4f040" transform="rotate(96 14 256)"/><ellipse cx="76" cy="250" rx="6.0" ry="5.3" fill="#f4f040" transform="rotate(24 76 250)"/><ellipse cx="120" cy="256" rx="3.6" ry="2.8" fill="#d8d828" transform="rotate(81 120 256)"/><ellipse cx="155" cy="249" rx="5.0" ry="3.8" fill="#d8d828" transform="rotate(154 155 249)"/><ellipse cx="149" cy="291" rx="4.4" ry="3.8" fill="#d8d828" transform="rotate(82 149 291)"/><ellipse cx="107" cy="318" rx="5.2" ry="4.8" fill="#f4f040" transform="rotate(151 107 318)"/><ellipse cx="113" cy="336" rx="4.7" ry="3.5" fill="#d8d828" transform="rotate(157 113 336)"/><ellipse cx="11" cy="328" rx="4.7" ry="3.9" fill="#d8d828" transform="rotate(166 11 328)"/><ellipse cx="18" cy="311" rx="4.8" ry="3.9" fill="#d8d828" transform="rotate(107 18 311)"/><ellipse cx="55" cy="304" rx="3.3" ry="2.6" fill="#9a9a18" transform="rotate(64 55 304)"/><ellipse cx="84" cy="305" rx="4.0" ry="3.2" fill="#d8d828" transform="rotate(30 84 305)"/><ellipse cx="28" cy="215" rx="4.4" ry="3.5" fill="#d8d828" transform="rotate(59 28 215)"/><ellipse cx="176" cy="346" rx="4.1" ry="3.4" fill="#d8d828" transform="rotate(57 176 346)"/><ellipse cx="219" cy="280" rx="6.5" ry="6.1" fill="#f4f040" transform="rotate(65 219 280)"/><ellipse cx="270" cy="311" rx="6.8" ry="4.9" fill="#f4f040" transform="rotate(115 270 311)"/><ellipse cx="191" cy="325" rx="5.7" ry="4.6" fill="#f4f040" transform="rotate(118 191 325)"/><ellipse cx="229" cy="214" rx="4.8" ry="3.8" fill="#d8d828" transform="rotate(136 229 214)"/><ellipse cx="306" cy="238" rx="4.4" ry="3.8" fill="#d8d828" transform="rotate(39 306 238)"/><ellipse cx="353" cy="205" rx="5.8" ry="4.4" fill="#f4f040" transform="rotate(148 353 205)"/><ellipse cx="352" cy="273" rx="6.0" ry="4.6" fill="#f4f040" transform="rotate(81 352 273)"/><ellipse cx="311" cy="281" rx="3.1" ry="2.9" fill="#9a9a18" transform="rotate(157 311 281)"/><ellipse cx="288" cy="345" rx="4.6" ry="3.7" fill="#d8d828" transform="rotate(20 288 345)"/><ellipse cx="325" cy="184" rx="4.9" ry="3.4" fill="#d8d828" transform="rotate(18 325 184)"/><ellipse cx="353" cy="325" rx="3.5" ry="2.5" fill="#9a9a18" transform="rotate(56 353 325)"/><ellipse cx="198" cy="353" rx="4.0" ry="2.9" fill="#d8d828" transform="rotate(1 198 353)"/><ellipse cx="55" cy="72" rx="4.7" ry="3.3" fill="#d8d828" transform="rotate(62 55 72)"/><ellipse cx="90" cy="137" rx="4.5" ry="4.2" fill="#d8d828" transform="rotate(64 90 137)"/><ellipse cx="40" cy="167" rx="4.9" ry="3.5" fill="#d8d828" transform="rotate(112 40 167)"/><ellipse cx="135" cy="207" rx="3.7" ry="2.8" fill="#d8d828" transform="rotate(34 135 207)"/><ellipse cx="185" cy="187" rx="3.2" ry="2.8" fill="#9a9a18" transform="rotate(126 185 187)"/><ellipse cx="275" cy="147" rx="2.7" ry="2.3" fill="#9a9a18" transform="rotate(17 275 147)"/><ellipse cx="340" cy="147" rx="4.8" ry="3.8" fill="#d8d828" transform="rotate(176 340 147)"/><ellipse cx="235" cy="327" rx="4.7" ry="3.2" fill="#d8d828" transform="rotate(135 235 327)"/><ellipse cx="325" cy="347" rx="3.6" ry="2.6" fill="#d8d828" transform="rotate(156 325 347)"/><ellipse cx="85" cy="357" rx="3.8" ry="3.3" fill="#d8d828" transform="rotate(138 85 357)"/><ellipse cx="145" cy="7" rx="3.6" ry="2.9" fill="#9a9a18" transform="rotate(50 145 7)"/><ellipse cx="295" cy="17" rx="3.4" ry="3.0" fill="#9a9a18" transform="rotate(107 295 17)"/></g></g></g><g clip-path="url(#ci_m1_553)"><rect x="375" y="553" width="120" height="120.5" fill="#0a0902"/><g filter="url(#blI)"><g transform="translate(375 553) scale(2.500) translate(-132.7 -77.7)"><g><rect x="-60" y="-60" width="487" height="487" fill="#0a0902"/></g><g><ellipse cx="166" cy="52" rx="26" ry="21" fill="url(#glow)" opacity="0.55"/><ellipse cx="153" cy="99" rx="34" ry="27" fill="url(#glow)" opacity="0.75"/><ellipse cx="208" cy="84" rx="26" ry="21" fill="url(#glow)" opacity="0.55"/></g><g><ellipse cx="207" cy="172" rx="60" ry="60" fill="url(#plq)" opacity="0.25" transform="rotate(0 207 172)"/><ellipse cx="207" cy="169" rx="54" ry="54" fill="url(#gfade)" opacity="0.85" filter="url(#plF)" transform="rotate(0 207 169)"/><ellipse cx="207" cy="169" rx="43" ry="43" fill="url(#gfade)" opacity="0.8" filter="url(#plD)" transform="rotate(0 207 169)"/></g><g><ellipse cx="207" cy="172" rx="75" ry="75" fill="url(#gfade)" opacity="0.95" filter="url(#spR)"/><ellipse cx="207" cy="172" rx="75" ry="75" fill="url(#gfade)" opacity="0.95" filter="url(#spG)"/></g><g filter="url(#bl1)" fill="none" stroke="#d83010" stroke-width="0.85" opacity="0.50" stroke-dasharray="4.5 1.8" stroke-linecap="round" stroke-linejoin="round"><use href="#f4" transform="matrix(-1.07 -.35 .35 -1.07 107 61)"/><use href="#f0" transform="matrix(-.56 .87 -.87 -.56 89 143)"/><use href="#f7" transform="matrix(-.01 -.82 .82 -.01 110 85)"/><use href="#f7" transform="matrix(-.81 -.84 .84 -.81 90 51)"/><use href="#f1" transform="matrix(.8 .03 -.03 .8 210 66)"/><use href="#f3" transform="matrix(-.88 .59 -.59 -.88 211 109)"/><use href="#f3" transform="matrix(.83 .58 -.58 .83 114 162)"/><use href="#f3" transform="matrix(.06 -.9 .9 .06 102 80)"/><use href="#f2" transform="matrix(.39 -.76 .76 .39 190 105)"/><use href="#f5" transform="matrix(-1.16 .16 -.16 -1.16 219 137)"/><use href="#f1" transform="matrix(-.81 .04 -.04 -.81 114 101)"/><use href="#f2" transform="matrix(1.07 -.35 .35 1.07 198 169)"/><use href="#f1" transform="matrix(.99 .48 -.48 .99 90 108)"/></g><g filter="url(#bl1)" fill="none" stroke="#d83010" stroke-width="1.05" opacity="0.80" stroke-dasharray="4.5 1.8" stroke-linecap="round" stroke-linejoin="round"><use href="#t16" transform="matrix(-.36 .85 -.85 -.36 124 39)"/><use href="#t9" transform="matrix(-.32 .97 -.97 -.32 166 53)"/><use href="#t6" transform="matrix(-.98 .25 -.25 -.98 132 160)"/><use href="#t8" transform="matrix(-.96 -.24 .24 -.96 214 41)"/><use href="#t0" transform="matrix(-.98 -.07 .07 -.98 209 84)"/><use href="#t17" transform="matrix(-.93 .47 -.47 -.93 91 138)"/></g><g filter="url(#bl1)" fill="none" stroke="#d83010" stroke-width="1.35" opacity="1.00" stroke-dasharray="4.5 1.8" stroke-linecap="round" stroke-linejoin="round"><use href="#t10" transform="matrix(1.25 .91 -.91 1.25 154 100)"/></g><g filter="url(#bl1)" fill="none" stroke="#38c41a" stroke-width="0.85" opacity="0.50" stroke-dasharray="6 1.2" stroke-linecap="round" stroke-linejoin="round"><use href="#f4" transform="matrix(-1.07 -.35 .35 -1.07 105 61)"/><use href="#f0" transform="matrix(-.56 .87 -.87 -.56 88 143)"/><use href="#f7" transform="matrix(-.01 -.82 .82 -.01 109 85)"/><use href="#f7" transform="matrix(-.81 -.84 .84 -.81 89 50)"/><use href="#f1" transform="matrix(.8 .03 -.03 .8 208 65)"/><use href="#f3" transform="matrix(-.88 .59 -.59 -.88 210 108)"/><use href="#f3" transform="matrix(.83 .58 -.58 .83 113 162)"/><use href="#f3" transform="matrix(.06 -.9 .9 .06 100 80)"/><use href="#f2" transform="matrix(.39 -.76 .76 .39 189 104)"/><use href="#f5" transform="matrix(-1.16 .16 -.16 -1.16 218 137)"/><use href="#f1" transform="matrix(-.81 .04 -.04 -.81 112 100)"/><use href="#f2" transform="matrix(1.07 -.35 .35 1.07 196 169)"/><use href="#f1" transform="matrix(.99 .48 -.48 .99 88 108)"/></g><g filter="url(#bl1)" fill="none" stroke="#38c41a" stroke-width="1.05" opacity="0.80" stroke-dasharray="6 1.2" stroke-linecap="round" stroke-linejoin="round"><use href="#t16" transform="matrix(-.36 .85 -.85 -.36 123 38)"/><use href="#t9" transform="matrix(-.32 .97 -.97 -.32 165 52)"/><use href="#t6" transform="matrix(-.98 .25 -.25 -.98 131 160)"/><use href="#t8" transform="matrix(-.96 -.24 .24 -.96 213 40)"/><use href="#t0" transform="matrix(-.98 -.07 .07 -.98 208 83)"/><use href="#t17" transform="matrix(-.93 .47 -.47 -.93 90 137)"/></g><g filter="url(#bl1)" fill="none" stroke="#38c41a" stroke-width="1.35" opacity="1.00" stroke-dasharray="6 1.2" stroke-linecap="round" stroke-linejoin="round"><use href="#t10" transform="matrix(1.25 .91 -.91 1.25 152 99)"/></g><g filter="url(#bl1)" fill="none" stroke="#e8e030" stroke-width="0.72" opacity="0.47" stroke-dasharray="5 1.5" stroke-linecap="round" stroke-linejoin="round"><use href="#f4" transform="matrix(-1.07 -.35 .35 -1.07 106 61)"/><use href="#f0" transform="matrix(-.56 .87 -.87 -.56 88 143)"/><use href="#f7" transform="matrix(-.01 -.82 .82 -.01 109 85)"/><use href="#f7" transform="matrix(-.81 -.84 .84 -.81 89 50)"/><use href="#f1" transform="matrix(.8 .03 -.03 .8 209 66)"/><use href="#f3" transform="matrix(-.88 .59 -.59 -.88 210 108)"/><use href="#f3" transform="matrix(.83 .58 -.58 .83 114 162)"/><use href="#f3" transform="matrix(.06 -.9 .9 .06 101 80)"/><use href="#f2" transform="matrix(.39 -.76 .76 .39 190 105)"/><use href="#f5" transform="matrix(-1.16 .16 -.16 -1.16 219 137)"/><use href="#f1" transform="matrix(-.81 .04 -.04 -.81 113 100)"/><use href="#f2" transform="matrix(1.07 -.35 .35 1.07 197 169)"/><use href="#f1" transform="matrix(.99 .48 -.48 .99 89 108)"/></g><g filter="url(#bl1)" fill="none" stroke="#e8e030" stroke-width="0.89" opacity="0.76" stroke-dasharray="5 1.5" stroke-linecap="round" stroke-linejoin="round"><use href="#t16" transform="matrix(-.36 .85 -.85 -.36 123 38)"/><use href="#t9" transform="matrix(-.32 .97 -.97 -.32 166 52)"/><use href="#t6" transform="matrix(-.98 .25 -.25 -.98 132 160)"/><use href="#t8" transform="matrix(-.96 -.24 .24 -.96 214 40)"/><use href="#t0" transform="matrix(-.98 -.07 .07 -.98 208 84)"/><use href="#t17" transform="matrix(-.93 .47 -.47 -.93 90 137)"/></g><g filter="url(#bl1)" fill="none" stroke="#e8e030" stroke-width="1.15" opacity="0.95" stroke-dasharray="5 1.5" stroke-linecap="round" stroke-linejoin="round"><use href="#t10" transform="matrix(1.25 .91 -.91 1.25 153 99)"/></g><g fill="none" stroke="#c8c820" stroke-width="0.8" opacity="0.6"><path d="M187 149l-4 -2l-4 -3l-2 -4l0 -6l2 -7l3 -7"/><path d="M195 141l-3 -8l0 -9l-3 -8l0 -8l-3 -8l-9 -6"/><path d="M187 146l0 -5l0 -5l3 -6l-4 -3l-5 -2l-4 -3"/><path d="M178 158l-7 -4l-5 -7l-7 -5l-8 -2l-11 3l-6 -5"/><path d="M172 162l-5 -6l-3 -7l-7 0l-9 3l-5 -4l-8 4"/><path d="M196 138l2 -7l2 -7l-7 -6l4 -7l2 -7l-5 -6"/></g><g fill="none" stroke="#40c020" stroke-width="0.8" opacity="0.6"><path d="M184 148l-6 -6l-5 -7l-1 -10l-6 -6l0 -10l-3 -8"/><path d="M194 138l-2 -3l-2 -3l2 -5l2 -4l4 -4l3 -4"/><path d="M187 146l-4 -5l-4 -3l-6 -3l-3 -5l-1 -6l2 -8"/></g><g fill="none" stroke="#d04010" stroke-width="0.8" opacity="0.6"><path d="M191 137l1 -9l-5 -6l-4 -7l-8 -5l-2 -8l-6 -7"/></g><g filter="url(#bl2)"><ellipse cx="153" cy="99" rx="5.1" ry="4.5" fill="#f4f040" transform="rotate(134 153 99)"/></g></g></g></g><g clip-path="url(#ci_m1_677)"><rect x="375" y="677" width="120" height="119.0" fill="#0a0902"/><g filter="url(#blI)"><g transform="translate(375 677) scale(2.500) translate(-189.3 -248.0)"><g><rect x="-60" y="-60" width="487" height="487" fill="#0a0902"/></g><g><ellipse cx="219" cy="280" rx="34" ry="27" fill="url(#glow)" opacity="0.75"/><ellipse cx="270" cy="311" rx="34" ry="27" fill="url(#glow)" opacity="0.75"/><ellipse cx="191" cy="325" rx="34" ry="27" fill="url(#glow)" opacity="0.75"/></g><g><ellipse cx="207" cy="172" rx="75" ry="75" fill="url(#gfade)" opacity="0.95" filter="url(#spR)"/><ellipse cx="207" cy="172" rx="75" ry="75" fill="url(#gfade)" opacity="0.95" filter="url(#spG)"/></g><g filter="url(#bl1)" fill="none" stroke="#d83010" stroke-width="0.85" opacity="0.50" stroke-dasharray="4.5 1.8" stroke-linecap="round" stroke-linejoin="round"><use href="#f3" transform="matrix(.04 1.16 -1.16 .04 270 240)"/><use href="#f3" transform="matrix(-.3 -.97 .97 -.3 151 220)"/><use href="#f7" transform="matrix(.35 .92 -.92 .35 230 229)"/><use href="#f2" transform="matrix(-.6 1.08 -1.08 -.6 280 204)"/><use href="#f4" transform="matrix(1.25 -.31 .31 1.25 195 214)"/><use href="#f8" transform="matrix(-.12 .86 -.86 -.12 207 254)"/><use href="#f7" transform="matrix(.37 .77 -.77 .37 182 213)"/><use href="#f6" transform="matrix(1.15 .47 -.47 1.15 244 266)"/><use href="#f8" transform="matrix(1.22 -.06 .06 1.22 165 347)"/><use href="#f4" transform="matrix(1.07 .64 -.64 1.07 234 231)"/><use href="#f7" transform="matrix(-.49 .82 -.82 -.49 213 266)"/></g><g filter="url(#bl1)" fill="none" stroke="#d83010" stroke-width="1.05" opacity="0.80" stroke-dasharray="4.5 1.8" stroke-linecap="round" stroke-linejoin="round"><use href="#t17" transform="matrix(.33 .95 -.95 .33 156 249)"/><use href="#t2" transform="matrix(-1.11 .42 -.42 -1.11 150 292)"/><use href="#t6" transform="matrix(.07 -1.04 1.04 .07 230 214)"/><use href="#t17" transform="matrix(1.05 .32 -.32 1.05 236 328)"/></g><g filter="url(#bl1)" fill="none" stroke="#d83010" stroke-width="1.35" opacity="1.00" stroke-dasharray="4.5 1.8" stroke-linecap="round" stroke-linejoin="round"><use href="#t12" transform="matrix(-.88 -1.21 1.21 -.88 220 280)"/><use href="#t18" transform="matrix(-1.11 .16 -.16 -1.11 271 312)"/><use href="#t7" transform="matrix(-.71 -1.28 1.28 -.71 192 325)"/></g><g filter="url(#bl1)" fill="none" stroke="#38c41a" stroke-width="0.85" opacity="0.50" stroke-dasharray="6 1.2" stroke-linecap="round" stroke-linejoin="round"><use href="#f3" transform="matrix(.04 1.16 -1.16 .04 269 239)"/><use href="#f3" transform="matrix(-.3 -.97 .97 -.3 149 219)"/><use href="#f7" transform="matrix(.35 .92 -.92 .35 229 228)"/><use href="#f2" transform="matrix(-.6 1.08 -1.08 -.6 279 203)"/><use href="#f4" transform="matrix(1.25 -.31 .31 1.25 194 213)"/><use href="#f8" transform="matrix(-.12 .86 -.86 -.12 206 253)"/><use href="#f7" transform="matrix(.37 .77 -.77 .37 181 212)"/><use href="#f6" transform="matrix(1.15 .47 -.47 1.15 243 265)"/><use href="#f8" transform="matrix(1.22 -.06 .06 1.22 164 346)"/><use href="#f4" transform="matrix(1.07 .64 -.64 1.07 232 230)"/><use href="#f7" transform="matrix(-.49 .82 -.82 -.49 212 265)"/></g><g filter="url(#bl1)" fill="none" stroke="#38c41a" stroke-width="1.05" opacity="0.80" stroke-dasharray="6 1.2" stroke-linecap="round" stroke-linejoin="round"><use href="#t17" transform="matrix(.33 .95 -.95 .33 154 248)"/><use href="#t2" transform="matrix(-1.11 .42 -.42 -1.11 149 291)"/><use href="#t6" transform="matrix(.07 -1.04 1.04 .07 228 213)"/><use href="#t17" transform="matrix(1.05 .32 -.32 1.05 234 327)"/></g><g filter="url(#bl1)" fill="none" stroke="#38c41a" stroke-width="1.35" opacity="1.00" stroke-dasharray="6 1.2" stroke-linecap="round" stroke-linejoin="round"><use href="#t12" transform="matrix(-.88 -1.21 1.21 -.88 219 279)"/><use href="#t18" transform="matrix(-1.11 .16 -.16 -1.11 270 311)"/><use href="#t7" transform="matrix(-.71 -1.28 1.28 -.71 190 324)"/></g><g filter="url(#bl1)" fill="none" stroke="#e8e030" stroke-width="0.72" opacity="0.47" stroke-dasharray="5 1.5" stroke-linecap="round" stroke-linejoin="round"><use href="#f3" transform="matrix(.04 1.16 -1.16 .04 269 239)"/><use href="#f3" transform="matrix(-.3 -.97 .97 -.3 150 220)"/><use href="#f7" transform="matrix(.35 .92 -.92 .35 230 229)"/><use href="#f2" transform="matrix(-.6 1.08 -1.08 -.6 280 204)"/><use href="#f4" transform="matrix(1.25 -.31 .31 1.25 194 214)"/><use href="#f8" transform="matrix(-.12 .86 -.86 -.12 207 253)"/><use href="#f7" transform="matrix(.37 .77 -.77 .37 181 212)"/><use href="#f6" transform="matrix(1.15 .47 -.47 1.15 243 265)"/><use href="#f8" transform="matrix(1.22 -.06 .06 1.22 164 346)"/><use href="#f4" transform="matrix(1.07 .64 -.64 1.07 233 230)"/><use href="#f7" transform="matrix(-.49 .82 -.82 -.49 212 266)"/></g><g filter="url(#bl1)" fill="none" stroke="#e8e030" stroke-width="0.89" opacity="0.76" stroke-dasharray="5 1.5" stroke-linecap="round" stroke-linejoin="round"><use href="#t17" transform="matrix(.33 .95 -.95 .33 155 249)"/><use href="#t2" transform="matrix(-1.11 .42 -.42 -1.11 149 291)"/><use href="#t6" transform="matrix(.07 -1.04 1.04 .07 229 214)"/><use href="#t17" transform="matrix(1.05 .32 -.32 1.05 235 327)"/></g><g filter="url(#bl1)" fill="none" stroke="#e8e030" stroke-width="1.15" opacity="0.95" stroke-dasharray="5 1.5" stroke-linecap="round" stroke-linejoin="round"><use href="#t12" transform="matrix(-.88 -1.21 1.21 -.88 219 280)"/><use href="#t18" transform="matrix(-1.11 .16 -.16 -1.11 270 311)"/><use href="#t7" transform="matrix(-.71 -1.28 1.28 -.71 191 325)"/></g><g fill="none" stroke="#c8c820" stroke-width="0.8" opacity="0.6"><path d="M194 201l-2 9l-4 8l-4 9l-10 5l-10 4l-3 10"/></g><g fill="none" stroke="#40c020" stroke-width="0.8" opacity="0.6"><path d="M200 203l-5 8l-4 8l-7 7l-2 9l4 10l-6 8"/></g><g fill="none" stroke="#d04010" stroke-width="0.8" opacity="0.6"><path d="M227 199l1 8l1 8l-2 8l-3 8l-1 8l1 7"/></g><g filter="url(#bl2)"><ellipse cx="219" cy="280" rx="6.5" ry="6.1" fill="#f4f040" transform="rotate(65 219 280)"/></g></g></g></g><g clip-path="url(#ci_m1_800)"><rect x="375" y="800" width="120" height="120.0" fill="#0a0902"/><g filter="url(#blI)"><g transform="translate(375 800) scale(2.516) translate(-233.3 -290.3)"><g><rect x="-60" y="-60" width="487" height="487" fill="#0a0902"/></g><g><ellipse cx="219" cy="280" rx="34" ry="27" fill="url(#glow)" opacity="0.75"/><ellipse cx="270" cy="311" rx="34" ry="27" fill="url(#glow)" opacity="0.75"/><ellipse cx="288" cy="345" rx="26" ry="21" fill="url(#glow)" opacity="0.55"/><ellipse cx="235" cy="327" rx="26" ry="21" fill="url(#glow)" opacity="0.55"/></g><g filter="url(#bl1)" fill="none" stroke="#d83010" stroke-width="0.85" opacity="0.50" stroke-dasharray="4.5 1.8" stroke-linecap="round" stroke-linejoin="round"><use href="#t7" transform="matrix(-.26 .73 -.73 -.26 312 282)"/><use href="#f9" transform="matrix(-.14 1.01 -1.01 -.14 288 272)"/><use href="#f9" transform="matrix(-1.06 -.52 .52 -1.06 222 365)"/><use href="#f8" transform="matrix(-.98 -.66 .66 -.98 188 352)"/><use href="#f8" transform="matrix(-.12 .86 -.86 -.12 207 254)"/><use href="#f6" transform="matrix(-1.15 -.46 .46 -1.15 331 295)"/><use href="#f6" transform="matrix(1.15 .47 -.47 1.15 244 266)"/><use href="#f8" transform="matrix(-.1 -.81 .81 -.1 317 281)"/><use href="#f7" transform="matrix(.5 -.67 .67 .5 316 344)"/><use href="#f7" transform="matrix(-.49 .82 -.82 -.49 213 266)"/></g><g filter="url(#bl1)" fill="none" stroke="#d83010" stroke-width="1.05" opacity="0.80" stroke-dasharray="4.5 1.8" stroke-linecap="round" stroke-linejoin="round"><use href="#t4" transform="matrix(.3 1.04 -1.04 .3 289 345)"/><use href="#t11" transform="matrix(.79 -.66 .66 .79 199 354)"/><use href="#t17" transform="matrix(1.05 .32 -.32 1.05 236 328)"/><use href="#t14" transform="matrix(.86 -.83 .83 .86 326 348)"/></g><g filter="url(#bl1)" fill="none" stroke="#d83010" stroke-width="1.35" opacity="1.00" stroke-dasharray="4.5 1.8" stroke-linecap="round" stroke-linejoin="round"><use href="#t12" transform="matrix(-.88 -1.21 1.21 -.88 220 280)"/><use href="#t18" transform="matrix(-1.11 .16 -.16 -1.11 271 312)"/><use href="#t7" transform="matrix(-.71 -1.28 1.28 -.71 192 325)"/></g><g filter="url(#bl1)" fill="none" stroke="#38c41a" stroke-width="0.85" opacity="0.50" stroke-dasharray="6 1.2" stroke-linecap="round" stroke-linejoin="round"><use href="#t7" transform="matrix(-.26 .73 -.73 -.26 310 281)"/><use href="#f9" transform="matrix(-.14 1.01 -1.01 -.14 287 271)"/><use href="#f9" transform="matrix(-1.06 -.52 .52 -1.06 221 364)"/><use href="#f8" transform="matrix(-.98 -.66 .66 -.98 187 351)"/><use href="#f8" transform="matrix(-.12 .86 -.86 -.12 206 253)"/><use href="#f6" transform="matrix(-1.15 -.46 .46 -1.15 330 294)"/><use href="#f6" transform="matrix(1.15 .47 -.47 1.15 243 265)"/><use href="#f8" transform="matrix(-.1 -.81 .81 -.1 316 281)"/><use href="#f7" transform="matrix(.5 -.67 .67 .5 315 343)"/><use href="#f7" transform="matrix(-.49 .82 -.82 -.49 212 265)"/></g><g filter="url(#bl1)" fill="none" stroke="#38c41a" stroke-width="1.05" opacity="0.80" stroke-dasharray="6 1.2" stroke-linecap="round" stroke-linejoin="round"><use href="#t4" transform="matrix(.3 1.04 -1.04 .3 288 344)"/><use href="#t11" transform="matrix(.79 -.66 .66 .79 198 353)"/><use href="#t17" transform="matrix(1.05 .32 -.32 1.05 234 327)"/><use href="#t14" transform="matrix(.86 -.83 .83 .86 324 347)"/></g><g filter="url(#bl1)" fill="none" stroke="#38c41a" stroke-width="1.35" opacity="1.00" stroke-dasharray="6 1.2" stroke-linecap="round" stroke-linejoin="round"><use href="#t12" transform="matrix(-.88 -1.21 1.21 -.88 219 279)"/><use href="#t18" transform="matrix(-1.11 .16 -.16 -1.11 270 311)"/><use href="#t7" transform="matrix(-.71 -1.28 1.28 -.71 190 324)"/></g><g filter="url(#bl1)" fill="none" stroke="#e8e030" stroke-width="0.72" opacity="0.47" stroke-dasharray="5 1.5" stroke-linecap="round" stroke-linejoin="round"><use href="#t7" transform="matrix(-.26 .73 -.73 -.26 311 281)"/><use href="#f9" transform="matrix(-.14 1.01 -1.01 -.14 287 271)"/><use href="#f9" transform="matrix(-1.06 -.52 .52 -1.06 221 365)"/><use href="#f8" transform="matrix(-.98 -.66 .66 -.98 187 352)"/><use href="#f8" transform="matrix(-.12 .86 -.86 -.12 207 253)"/><use href="#f6" transform="matrix(-1.15 -.46 .46 -1.15 331 295)"/><use href="#f6" transform="matrix(1.15 .47 -.47 1.15 243 265)"/><use href="#f8" transform="matrix(-.1 -.81 .81 -.1 317 281)"/><use href="#f7" transform="matrix(.5 -.67 .67 .5 316 344)"/><use href="#f7" transform="matrix(-.49 .82 -.82 -.49 212 266)"/></g><g filter="url(#bl1)" fill="none" stroke="#e8e030" stroke-width="0.89" opacity="0.76" stroke-dasharray="5 1.5" stroke-linecap="round" stroke-linejoin="round"><use href="#t4" transform="matrix(.3 1.04 -1.04 .3 288 345)"/><use href="#t11" transform="matrix(.79 -.66 .66 .79 198 353)"/><use href="#t17" transform="matrix(1.05 .32 -.32 1.05 235 327)"/><use href="#t14" transform="matrix(.86 -.83 .83 .86 325 347)"/></g><g filter="url(#bl1)" fill="none" stroke="#e8e030" stroke-width="1.15" opacity="0.95" stroke-dasharray="5 1.5" stroke-linecap="round" stroke-linejoin="round"><use href="#t12" transform="matrix(-.88 -1.21 1.21 -.88 219 280)"/><use href="#t18" transform="matrix(-1.11 .16 -.16 -1.11 270 311)"/><use href="#t7" transform="matrix(-.71 -1.28 1.28 -.71 191 325)"/></g><g filter="url(#bl2)"><ellipse cx="219" cy="280" rx="6.5" ry="6.1" fill="#f4f040" transform="rotate(65 219 280)"/><ellipse cx="270" cy="311" rx="6.8" ry="4.9" fill="#f4f040" transform="rotate(115 270 311)"/><ellipse cx="288" cy="345" rx="4.6" ry="3.7" fill="#d8d828" transform="rotate(20 288 345)"/><ellipse cx="235" cy="327" rx="4.7" ry="3.2" fill="#d8d828" transform="rotate(135 235 327)"/></g></g></g></g><rect x="137.7" y="630.7" width="48.0" height="46.6" fill="none" stroke="#fff" stroke-width="1.8" stroke-dasharray="5.5 3.5"/><line x1="185.7" y1="655" x2="378.3" y2="616.7" stroke="#000" stroke-width="3.2" opacity="0.6"/><line x1="185.7" y1="655" x2="378.3" y2="616.7" stroke="#fff" stroke-width="1.8"/><rect x="194.3" y="801" width="48.0" height="47.3" fill="none" stroke="#fff" stroke-width="1.8" stroke-dasharray="5.5 3.5"/><line x1="242.3" y1="825" x2="383.3" y2="731.7" stroke="#000" stroke-width="3.2" opacity="0.6"/><line x1="242.3" y1="825" x2="383.3" y2="731.7" stroke="#fff" stroke-width="1.8"/><rect x="238.3" y="843.3" width="47.7" height="46.7" fill="none" stroke="#fff" stroke-width="1.8" stroke-dasharray="5.5 3.5"/><line x1="286" y1="867.3" x2="383.3" y2="852.3" stroke="#000" stroke-width="3.2" opacity="0.6"/><line x1="286" y1="867.3" x2="383.3" y2="852.3" stroke="#fff" stroke-width="1.8"/><g clip-path="url(#cp_m2)"><g transform="translate(503 553)"><g><rect x="-60" y="-60" width="487" height="487" fill="#0a0902"/></g><g><ellipse cx="1" cy="37" rx="18" ry="14" fill="url(#glow)" opacity="0.35"/><ellipse cx="50" cy="40" rx="26" ry="21" fill="url(#glow)" opacity="0.55"/><ellipse cx="118" cy="38" rx="26" ry="21" fill="url(#glow)" opacity="0.55"/><ellipse cx="161" cy="52" rx="26" ry="21" fill="url(#glow)" opacity="0.55"/><ellipse cx="148" cy="99" rx="34" ry="27" fill="url(#glow)" opacity="0.75"/><ellipse cx="9" cy="133" rx="34" ry="27" fill="url(#glow)" opacity="0.75"/><ellipse cx="25" cy="120" rx="26" ry="21" fill="url(#glow)" opacity="0.55"/><ellipse cx="127" cy="160" rx="26" ry="21" fill="url(#glow)" opacity="0.55"/><ellipse cx="73" cy="88" rx="18" ry="14" fill="url(#glow)" opacity="0.35"/><ellipse cx="94" cy="118" rx="18" ry="14" fill="url(#glow)" opacity="0.35"/><ellipse cx="60" cy="156" rx="18" ry="14" fill="url(#glow)" opacity="0.35"/><ellipse cx="324" cy="7" rx="26" ry="21" fill="url(#glow)" opacity="0.55"/><ellipse cx="209" cy="40" rx="26" ry="21" fill="url(#glow)" opacity="0.55"/><ellipse cx="261" cy="40" rx="18" ry="14" fill="url(#glow)" opacity="0.35"/><ellipse cx="240" cy="21" rx="18" ry="14" fill="url(#glow)" opacity="0.35"/><ellipse cx="323" cy="50" rx="18" ry="14" fill="url(#glow)" opacity="0.35"/><ellipse cx="203" cy="84" rx="26" ry="21" fill="url(#glow)" opacity="0.55"/><ellipse cx="275" cy="98" rx="26" ry="21" fill="url(#glow)" opacity="0.55"/><ellipse cx="294" cy="104" rx="26" ry="21" fill="url(#glow)" opacity="0.55"/><ellipse cx="355" cy="98" rx="26" ry="21" fill="url(#glow)" opacity="0.55"/><ellipse cx="247" cy="113" rx="18" ry="14" fill="url(#glow)" opacity="0.35"/><ellipse cx="292" cy="177" rx="26" ry="21" fill="url(#glow)" opacity="0.55"/><ellipse cx="260" cy="180" rx="26" ry="21" fill="url(#glow)" opacity="0.55"/><ellipse cx="312" cy="140" rx="18" ry="14" fill="url(#glow)" opacity="0.35"/><ellipse cx="16" cy="201" rx="34" ry="27" fill="url(#glow)" opacity="0.75"/><ellipse cx="37" cy="202" rx="34" ry="27" fill="url(#glow)" opacity="0.75"/><ellipse cx="9" cy="256" rx="34" ry="27" fill="url(#glow)" opacity="0.75"/><ellipse cx="71" cy="250" rx="34" ry="27" fill="url(#glow)" opacity="0.75"/><ellipse cx="115" cy="256" rx="26" ry="21" fill="url(#glow)" opacity="0.55"/><ellipse cx="150" cy="249" rx="26" ry="21" fill="url(#glow)" opacity="0.55"/><ellipse cx="144" cy="291" rx="26" ry="21" fill="url(#glow)" opacity="0.55"/><ellipse cx="102" cy="318" rx="34" ry="27" fill="url(#glow)" opacity="0.75"/><ellipse cx="108" cy="336" rx="26" ry="21" fill="url(#glow)" opacity="0.55"/><ellipse cx="6" cy="328" rx="26" ry="21" fill="url(#glow)" opacity="0.55"/><ellipse cx="13" cy="311" rx="26" ry="21" fill="url(#glow)" opacity="0.55"/><ellipse cx="50" cy="304" rx="18" ry="14" fill="url(#glow)" opacity="0.35"/><ellipse cx="80" cy="305" rx="26" ry="21" fill="url(#glow)" opacity="0.55"/><ellipse cx="23" cy="215" rx="26" ry="21" fill="url(#glow)" opacity="0.55"/><ellipse cx="171" cy="346" rx="26" ry="21" fill="url(#glow)" opacity="0.55"/><ellipse cx="214" cy="280" rx="34" ry="27" fill="url(#glow)" opacity="0.75"/><ellipse cx="265" cy="311" rx="34" ry="27" fill="url(#glow)" opacity="0.75"/><ellipse cx="186" cy="325" rx="34" ry="27" fill="url(#glow)" opacity="0.75"/><ellipse cx="224" cy="214" rx="26" ry="21" fill="url(#glow)" opacity="0.55"/><ellipse cx="302" cy="238" rx="26" ry="21" fill="url(#glow)" opacity="0.55"/><ellipse cx="348" cy="205" rx="34" ry="27" fill="url(#glow)" opacity="0.75"/><ellipse cx="347" cy="273" rx="34" ry="27" fill="url(#glow)" opacity="0.75"/><ellipse cx="306" cy="281" rx="18" ry="14" fill="url(#glow)" opacity="0.35"/><ellipse cx="283" cy="345" rx="26" ry="21" fill="url(#glow)" opacity="0.55"/><ellipse cx="320" cy="184" rx="26" ry="21" fill="url(#glow)" opacity="0.55"/><ellipse cx="348" cy="325" rx="18" ry="14" fill="url(#glow)" opacity="0.35"/><ellipse cx="193" cy="353" rx="26" ry="21" fill="url(#glow)" opacity="0.55"/><ellipse cx="50" cy="72" rx="26" ry="21" fill="url(#glow)" opacity="0.55"/><ellipse cx="85" cy="137" rx="26" ry="21" fill="url(#glow)" opacity="0.55"/><ellipse cx="35" cy="167" rx="26" ry="21" fill="url(#glow)" opacity="0.55"/><ellipse cx="130" cy="207" rx="26" ry="21" fill="url(#glow)" opacity="0.55"/><ellipse cx="180" cy="187" rx="18" ry="14" fill="url(#glow)" opacity="0.35"/><ellipse cx="270" cy="147" rx="18" ry="14" fill="url(#glow)" opacity="0.35"/><ellipse cx="335" cy="147" rx="26" ry="21" fill="url(#glow)" opacity="0.55"/><ellipse cx="230" cy="327" rx="26" ry="21" fill="url(#glow)" opacity="0.55"/><ellipse cx="320" cy="347" rx="26" ry="21" fill="url(#glow)" opacity="0.55"/><ellipse cx="80" cy="357" rx="26" ry="21" fill="url(#glow)" opacity="0.55"/><ellipse cx="140" cy="7" rx="18" ry="14" fill="url(#glow)" opacity="0.35"/><ellipse cx="290" cy="17" rx="18" ry="14" fill="url(#glow)" opacity="0.35"/></g><g><ellipse cx="206" cy="181" rx="40" ry="40" fill="url(#plq)" opacity="0.8" transform="rotate(0 206 181)"/><ellipse cx="196" cy="165" rx="16" ry="16" fill="url(#plq)" opacity="0.8" transform="rotate(0 196 165)"/><ellipse cx="235" cy="185" rx="18" ry="14" fill="url(#plq)" opacity="0.6" transform="rotate(0 235 185)"/><ellipse cx="190" cy="200" rx="20" ry="15" fill="url(#plq)" opacity="0.6" transform="rotate(0 190 200)"/><ellipse cx="206" cy="181" rx="65" ry="62" fill="url(#plq)" opacity="0.25" transform="rotate(0 206 181)"/><ellipse cx="206" cy="181" rx="60" ry="60" fill="url(#gfade)" opacity="0.8" filter="url(#plF)" transform="rotate(0 206 181)"/><ellipse cx="206" cy="181" rx="48" ry="48" fill="url(#gfade)" opacity="0.8" filter="url(#plD)" transform="rotate(0 206 181)"/></g><g><ellipse cx="206" cy="181" rx="90" ry="88" fill="url(#gfade)" opacity="1" filter="url(#spR)"/><ellipse cx="206" cy="181" rx="90" ry="88" fill="url(#gfade)" opacity="1" filter="url(#spG)"/></g><g filter="url(#bl1)" fill="none" stroke="#d82010" stroke-width="0.85" opacity="0.50" stroke-dasharray="5 2" stroke-linecap="round" stroke-linejoin="round"><use href="#t18" transform="matrix(.07 -.86 .86 .07 5 35)"/><use href="#t7" transform="matrix(-.79 -.17 .17 -.79 72 87)"/><use href="#t13" transform="matrix(-.64 -.27 .27 -.64 95 116)"/><use href="#t14" transform="matrix(.64 .33 -.33 .64 64 153)"/><use href="#t7" transform="matrix(-.73 -.14 .14 -.73 257 42)"/><use href="#t13" transform="matrix(-.32 -.55 .55 -.32 242 22)"/><use href="#t6" transform="matrix(-.78 .04 -.04 -.78 320 52)"/><use href="#t11" transform="matrix(.58 -.65 .65 .58 245 111)"/><use href="#t16" transform="matrix(.81 .09 -.09 .81 307 144)"/><use href="#t8" transform="matrix(-.48 -.59 .59 -.48 49 301)"/><use href="#t7" transform="matrix(-.3 .71 -.71 -.3 308 279)"/><use href="#t14" transform="matrix(-.58 .64 -.64 -.58 351 324)"/><use href="#t1" transform="matrix(.47 -.52 .52 .47 178 189)"/><use href="#t10" transform="matrix(-.56 -.62 .62 -.56 269 148)"/><use href="#t8" transform="matrix(-.03 .84 -.84 -.03 138 7)"/><use href="#t15" transform="matrix(.72 -.42 .42 .72 286 15)"/><use href="#f0" transform="matrix(.33 -1.07 1.07 .33 14 324)"/><use href="#f1" transform="matrix(-.85 .64 -.64 -.85 355 293)"/><use href="#f1" transform="matrix(-.81 -.26 .26 -.81 59 261)"/><use href="#f0" transform="matrix(.3 -.79 .79 .3 85 81)"/><use href="#f3" transform="matrix(.02 1.16 -1.16 .02 265 239)"/><use href="#f9" transform="matrix(-.12 1.02 -1.02 -.12 291 270)"/><use href="#f0" transform="matrix(.92 -.51 .51 .92 366 327)"/><use href="#f3" transform="matrix(.94 .22 -.22 .94 43 195)"/><use href="#f8" transform="matrix(-.3 -1.22 1.22 -.3 336 213)"/><use href="#f1" transform="matrix(.61 -.9 .9 .61 42 20)"/><use href="#f9" transform="matrix(-1.09 -.44 .44 -1.09 226 366)"/><use href="#f0" transform="matrix(1.24 .36 -.36 1.24 47 250)"/><use href="#f4" transform="matrix(-1.1 -.23 .23 -1.1 106 64)"/><use href="#f6" transform="matrix(.48 -.84 .84 .48 51 312)"/><use href="#f0" transform="matrix(-.4 .95 -.95 -.4 93 142)"/><use href="#f3" transform="matrix(-.16 -1.01 1.01 -.16 151 222)"/><use href="#f3" transform="matrix(-.44 .86 -.86 -.44 323 280)"/><use href="#f0" transform="matrix(1.03 .57 -.57 1.03 83 189)"/><use href="#f6" transform="matrix(.86 -.78 .78 .86 48 222)"/><use href="#f9" transform="matrix(-.57 -.95 .95 -.57 140 294)"/><use href="#f4" transform="matrix(.93 -.2 .2 .93 312 23)"/><use href="#f2" transform="matrix(1.14 .46 -.46 1.14 247 134)"/><use href="#f6" transform="matrix(.99 .07 -.07 .99 19 21)"/><use href="#f7" transform="matrix(-.09 1.01 -1.01 -.09 358 305)"/><use href="#f7" transform="matrix(-.54 1.01 -1.01 -.54 101 354)"/><use href="#f4" transform="matrix(-.31 1.01 -1.01 -.31 318 48)"/><use href="#f7" transform="matrix(.32 -.76 .76 .32 107 84)"/><use href="#f8" transform="matrix(1.03 .2 -.2 1.03 40 265)"/><use href="#f7" transform="matrix(.37 .91 -.91 .37 233 229)"/><use href="#f7" transform="matrix(-.75 -.9 .9 -.75 90 52)"/><use href="#f6" transform="matrix(1.15 .61 -.61 1.15 36 278)"/><use href="#f0" transform="matrix(-1.21 -.08 .08 -1.21 325 165)"/><use href="#f2" transform="matrix(-.4 1.17 -1.17 -.4 280 209)"/><use href="#f8" transform="matrix(-.73 -.93 .93 -.73 188 354)"/><use href="#f0" transform="matrix(.55 .59 -.59 .55 133 308)"/><use href="#f4" transform="matrix(.9 .6 -.6 .9 297 54)"/><use href="#f4" transform="matrix(1.25 -.31 .31 1.25 191 216)"/><use href="#f8" transform="matrix(.28 .82 -.82 .28 202 256)"/><use href="#f8" transform="matrix(.2 -.85 .85 .2 66 173)"/><use href="#f7" transform="matrix(-.09 .87 -.87 -.09 354 68)"/><use href="#f6" transform="matrix(-1.05 -.58 .58 -1.05 180 18)"/><use href="#f1" transform="matrix(.8 -.07 .07 .8 204 66)"/><use href="#f5" transform="matrix(.84 -.26 .26 .84 9 94)"/><use href="#f6" transform="matrix(-.87 .09 -.09 -.87 95 320)"/><use href="#f9" transform="matrix(.99 -.07 .07 .99 122 348)"/><use href="#f3" transform="matrix(-.59 .88 -.88 -.59 212 104)"/><use href="#f6" transform="matrix(.63 .97 -.97 .63 363 55)"/><use href="#f0" transform="matrix(-.26 .89 -.89 -.26 135 198)"/><use href="#f7" transform="matrix(.35 .78 -.78 .35 182 209)"/><use href="#f6" transform="matrix(-.89 -.86 .86 -.89 333 294)"/><use href="#f0" transform="matrix(-.55 -.95 .95 -.55 108 226)"/><use href="#f6" transform="matrix(-1.09 -.19 .19 -1.09 22 262)"/><use href="#f2" transform="matrix(.97 -.73 .73 .97 75 332)"/><use href="#f0" transform="matrix(-1.3 .09 -.09 -1.3 67 18)"/><use href="#f8" transform="matrix(1.01 .35 -.35 1.01 70 321)"/><use href="#f2" transform="matrix(.87 .59 -.59 .87 83 131)"/><use href="#f3" transform="matrix(.82 .59 -.59 .82 114 162)"/><use href="#f7" transform="matrix(1.04 -.42 .42 1.04 135 337)"/><use href="#f7" transform="matrix(-1.01 .39 -.39 -1.01 14 26)"/><use href="#f1" transform="matrix(-.83 -.54 .54 -.83 21 286)"/><use href="#f3" transform="matrix(-.05 -.9 .9 -.05 104 82)"/><use href="#f2" transform="matrix(.36 -.77 .77 .36 188 109)"/><use href="#f2" transform="matrix(.19 1.09 -1.09 .19 126 224)"/><use href="#f5" transform="matrix(-1.17 -.02 .02 -1.17 223 134)"/><use href="#f6" transform="matrix(-.73 .71 -.71 -.73 251 193)"/><use href="#f0" transform="matrix(-.28 .87 -.87 -.28 13 137)"/><use href="#f5" transform="matrix(1.24 -.02 .02 1.24 284 28)"/><use href="#f1" transform="matrix(-.71 .39 -.39 -.71 117 100)"/><use href="#f3" transform="matrix(.94 .05 -.05 .94 91 15)"/><use href="#f9" transform="matrix(.85 .53 -.53 .85 148 165)"/><use href="#f6" transform="matrix(-.82 -.14 .14 -.82 138 353)"/><use href="#f1" transform="matrix(.78 .64 -.64 .78 94 199)"/><use href="#f2" transform="matrix(.71 .46 -.46 .71 3 178)"/><use href="#f2" transform="matrix(-.26 1.14 -1.14 -.26 339 215)"/><use href="#f7" transform="matrix(-.92 .32 -.32 -.92 25 58)"/><use href="#f2" transform="matrix(1.05 -.36 .36 1.05 36 69)"/><use href="#f4" transform="matrix(-.05 .97 -.97 -.05 20 347)"/><use href="#f9" transform="matrix(1.12 .16 -.16 1.12 272 23)"/><use href="#f6" transform="matrix(1.13 .52 -.52 1.13 248 266)"/><use href="#f3" transform="matrix(-.84 -.26 .26 -.84 45 181)"/><use href="#f2" transform="matrix(.91 -.31 .31 .91 142 301)"/><use href="#f8" transform="matrix(.14 -.8 .8 .14 312 282)"/><use href="#f2" transform="matrix(1.06 -.39 .39 1.06 199 171)"/><use href="#f2" transform="matrix(.21 -1.06 1.06 .21 252 90)"/><use href="#f1" transform="matrix(.15 1.26 -1.26 .15 63 245)"/><use href="#f3" transform="matrix(1.08 -.23 .23 1.08 21 339)"/><use href="#f0" transform="matrix(-.64 .82 -.82 -.64 44 77)"/><use href="#f1" transform="matrix(.43 -.82 .82 .43 20 74)"/><use href="#f8" transform="matrix(1.19 .28 -.28 1.19 167 350)"/><use href="#f1" transform="matrix(.74 .82 -.82 .74 91 107)"/><use href="#f7" transform="matrix(.67 -.5 .5 .67 311 340)"/><use href="#f0" transform="matrix(.55 .63 -.63 .55 314 43)"/><use href="#f2" transform="matrix(.63 -1.01 1.01 .63 355 265)"/><use href="#f4" transform="matrix(1.24 .15 -.15 1.24 231 232)"/><use href="#f2" transform="matrix(-.93 -.63 .63 -.93 241 37)"/><use href="#f1" transform="matrix(.53 1.03 -1.03 .53 288 116)"/><use href="#f7" transform="matrix(-.72 .63 -.63 -.72 212 261)"/><use href="#f2" transform="matrix(-.9 .68 -.68 -.9 64 163)"/><use href="#f8" transform="matrix(.87 -.17 .17 .87 236 85)"/><use href="#f7" transform="matrix(-.84 .15 -.15 -.84 122 325)"/></g><g filter="url(#bl1)" fill="none" stroke="#d82010" stroke-width="1.05" opacity="0.80" stroke-dasharray="5 2" stroke-linecap="round" stroke-linejoin="round"><use href="#t11" transform="matrix(.89 -.49 .49 .89 55 45)"/><use href="#t16" transform="matrix(.02 .92 -.92 .02 121 36)"/><use href="#t9" transform="matrix(.11 1.01 -1.01 .11 162 51)"/><use href="#t14" transform="matrix(-1.12 .02 -.02 -1.12 22 118)"/><use href="#t6" transform="matrix(-.86 .54 -.54 -.86 123 162)"/><use href="#t19" transform="matrix(.7 -.83 .83 .7 324 9)"/><use href="#t8" transform="matrix(-.98 .15 -.15 -.98 210 38)"/><use href="#t0" transform="matrix(-.95 -.24 .24 -.95 202 88)"/><use href="#t0" transform="matrix(.57 .75 -.75 .57 275 102)"/><use href="#t1" transform="matrix(-.77 .64 -.64 -.77 292 105)"/><use href="#t2" transform="matrix(-.84 -.73 .73 -.84 357 96)"/><use href="#t15" transform="matrix(.02 -.91 .91 .02 292 177)"/><use href="#t9" transform="matrix(0 1.15 -1.15 0 262 176)"/><use href="#t4" transform="matrix(-.58 .92 -.92 -.58 118 261)"/><use href="#t17" transform="matrix(.76 .66 -.66 .76 148 246)"/><use href="#t2" transform="matrix(-1.15 .27 -.27 -1.15 142 294)"/><use href="#t17" transform="matrix(-.99 .34 -.34 -.99 106 339)"/><use href="#t14" transform="matrix(-.58 .65 -.65 -.58 5 331)"/><use href="#t10" transform="matrix(.59 .66 -.66 .59 12 314)"/><use href="#t3" transform="matrix(-1.03 .13 -.13 -1.03 84 304)"/><use href="#t7" transform="matrix(.88 -.06 .06 .88 20 213)"/><use href="#t5" transform="matrix(.84 -.15 .15 .84 169 344)"/><use href="#t6" transform="matrix(.31 -1 1 .31 229 218)"/><use href="#t10" transform="matrix(.12 .96 -.96 .12 298 236)"/><use href="#t4" transform="matrix(.23 1.06 -1.06 .23 282 345)"/><use href="#t10" transform="matrix(.89 .02 -.02 .89 316 179)"/><use href="#t11" transform="matrix(.79 -.66 .66 .79 189 349)"/><use href="#t17" transform="matrix(-.5 -.77 .77 -.5 46 67)"/><use href="#t17" transform="matrix(-.86 .6 -.6 -.86 82 140)"/><use href="#t9" transform="matrix(-.27 1.07 -1.07 -.27 32 169)"/><use href="#t13" transform="matrix(-.58 .72 -.72 -.58 132 206)"/><use href="#t14" transform="matrix(-.53 .95 -.95 -.53 334 144)"/><use href="#t17" transform="matrix(1.09 -.13 .13 1.09 232 325)"/><use href="#t14" transform="matrix(.61 -1.02 1.02 .61 316 344)"/><use href="#t1" transform="matrix(-.69 -.5 .5 -.69 83 355)"/></g><g filter="url(#bl1)" fill="none" stroke="#d82010" stroke-width="1.35" opacity="1.00" stroke-dasharray="5 2" stroke-linecap="round" stroke-linejoin="round"><use href="#t10" transform="matrix(.97 1.2 -1.2 .97 146 98)"/><use href="#t8" transform="matrix(.61 1.02 -1.02 .61 11 129)"/><use href="#t2" transform="matrix(-.06 -1.13 1.13 -.06 12 205)"/><use href="#t11" transform="matrix(1.34 .09 -.09 1.34 36 198)"/><use href="#t14" transform="matrix(.77 1.27 -1.27 .77 12 259)"/><use href="#t19" transform="matrix(-1.01 -1.05 1.05 -1.01 73 250)"/><use href="#t10" transform="matrix(1.06 .71 -.71 1.06 100 319)"/><use href="#t12" transform="matrix(-.51 -1.4 1.4 -.51 218 280)"/><use href="#t18" transform="matrix(-.96 .58 -.58 -.96 270 309)"/><use href="#t7" transform="matrix(-1.26 -.75 .75 -1.26 189 322)"/><use href="#t9" transform="matrix(-1.12 -.57 .57 -1.12 352 205)"/><use href="#t12" transform="matrix(.89 .93 -.93 .89 351 277)"/></g><g filter="url(#bl1)" fill="none" stroke="#2ed41a" stroke-width="0.85" opacity="0.46" stroke-dasharray="6 1.5" stroke-linecap="round" stroke-linejoin="round"><use href="#t18" transform="matrix(.09 -.86 .86 .09 1 37)"/><use href="#t7" transform="matrix(-.72 -.35 .35 -.72 73 88)"/><use href="#t13" transform="matrix(-.53 -.44 .44 -.53 94 118)"/><use href="#t14" transform="matrix(.4 .59 -.59 .4 60 156)"/><use href="#t7" transform="matrix(-.67 -.34 .34 -.67 261 40)"/><use href="#t13" transform="matrix(-.35 -.54 .54 -.35 240 21)"/><use href="#t6" transform="matrix(-.78 .05 -.05 -.78 323 50)"/><use href="#t11" transform="matrix(.31 -.81 .81 .31 247 113)"/><use href="#t16" transform="matrix(.82 .04 -.04 .82 312 140)"/><use href="#t8" transform="matrix(-.61 -.46 .46 -.61 50 304)"/><use href="#t7" transform="matrix(-.26 .73 -.73 -.26 306 281)"/><use href="#t14" transform="matrix(-.19 .84 -.84 -.19 348 325)"/><use href="#t1" transform="matrix(.31 -.63 .63 .31 180 187)"/><use href="#t10" transform="matrix(-.6 -.58 .58 -.6 270 147)"/><use href="#t8" transform="matrix(.25 .8 -.8 .25 140 7)"/><use href="#t15" transform="matrix(.68 -.48 .48 .68 290 17)"/><use href="#f0" transform="matrix(.7 -.87 .87 .7 13 319)"/><use href="#f1" transform="matrix(-1.05 .13 -.13 -1.05 358 293)"/><use href="#f1" transform="matrix(-.72 -.47 .47 -.72 54 262)"/><use href="#f0" transform="matrix(.03 -.85 .85 .03 88 80)"/><use href="#f3" transform="matrix(.04 1.16 -1.16 .04 269 239)"/><use href="#f9" transform="matrix(-.14 1.01 -1.01 -.14 287 271)"/><use href="#f0" transform="matrix(1.04 -.2 .2 1.04 362 329)"/><use href="#f3" transform="matrix(.96 .1 -.1 .96 39 194)"/><use href="#f8" transform="matrix(-.51 -1.15 1.15 -.51 332 212)"/><use href="#f1" transform="matrix(.74 -.79 .79 .74 41 15)"/><use href="#f9" transform="matrix(-1.06 -.52 .52 -1.06 221 365)"/><use href="#f0" transform="matrix(1.11 .67 -.67 1.11 43 251)"/><use href="#f4" transform="matrix(-1.07 -.35 .35 -1.07 106 61)"/><use href="#f6" transform="matrix(.78 -.57 .57 .78 56 313)"/><use href="#f0" transform="matrix(-.56 .87 -.87 -.56 88 143)"/><use href="#f3" transform="matrix(-.3 -.97 .97 -.3 150 220)"/><use href="#f3" transform="matrix(-.12 .96 -.96 -.12 324 278)"/><use href="#f0" transform="matrix(1.13 .34 -.34 1.13 82 193)"/><use href="#f6" transform="matrix(1.08 -.42 .42 1.08 47 218)"/><use href="#f9" transform="matrix(-.65 -.9 .9 -.65 136 291)"/><use href="#f4" transform="matrix(.91 -.28 .28 .91 312 20)"/><use href="#f2" transform="matrix(1.14 .46 -.46 1.14 243 136)"/><use href="#f6" transform="matrix(.99 .02 -.02 .99 16 21)"/><use href="#f7" transform="matrix(-.09 1.01 -1.01 -.09 362 307)"/><use href="#f7" transform="matrix(-.37 1.08 -1.08 -.37 99 356)"/><use href="#f4" transform="matrix(.11 1.05 -1.05 .11 313 51)"/><use href="#f7" transform="matrix(-.01 -.82 .82 -.01 109 85)"/><use href="#f8" transform="matrix(1.04 -.07 .07 1.04 39 260)"/><use href="#f7" transform="matrix(.35 .92 -.92 .35 230 229)"/><use href="#f7" transform="matrix(-.81 -.84 .84 -.81 89 50)"/><use href="#f6" transform="matrix(.85 .98 -.98 .85 37 279)"/><use href="#f0" transform="matrix(-1.21 .06 -.06 -1.21 325 167)"/><use href="#f2" transform="matrix(-.6 1.08 -1.08 -.6 280 204)"/><use href="#f8" transform="matrix(-.98 -.66 .66 -.98 187 352)"/><use href="#f0" transform="matrix(.5 .64 -.64 .5 138 306)"/><use href="#f4" transform="matrix(.47 .97 -.97 .47 301 58)"/><use href="#f4" transform="matrix(1.25 -.31 .31 1.25 194 214)"/><use href="#f8" transform="matrix(-.12 .86 -.86 -.12 207 253)"/><use href="#f8" transform="matrix(.56 -.67 .67 .56 69 175)"/><use href="#f7" transform="matrix(-.08 .88 -.88 -.08 356 67)"/><use href="#f6" transform="matrix(-1.2 -.06 .06 -1.2 177 22)"/><use href="#f1" transform="matrix(.8 .03 -.03 .8 209 66)"/><use href="#f5" transform="matrix(.71 -.52 .52 .71 14 98)"/><use href="#f6" transform="matrix(-.84 .24 -.24 -.84 90 317)"/><use href="#f9" transform="matrix(.99 -.07 .07 .99 123 345)"/><use href="#f3" transform="matrix(-.88 .59 -.59 -.88 210 108)"/><use href="#f6" transform="matrix(.32 1.11 -1.11 .32 358 58)"/><use href="#f0" transform="matrix(-.03 .92 -.92 -.03 139 194)"/><use href="#f7" transform="matrix(.37 .77 -.77 .37 181 212)"/><use href="#f6" transform="matrix(-1.15 -.46 .46 -1.15 331 295)"/><use href="#f0" transform="matrix(-.27 -1.07 1.07 -.27 111 227)"/><use href="#f6" transform="matrix(-1.11 -.02 .02 -1.11 22 261)"/><use href="#f2" transform="matrix(1.16 -.33 .33 1.16 75 328)"/><use href="#f0" transform="matrix(-1.29 -.14 .14 -1.29 63 20)"/><use href="#f8" transform="matrix(1.06 -.07 .07 1.06 74 319)"/><use href="#f2" transform="matrix(1.04 .11 -.11 1.04 85 133)"/><use href="#f3" transform="matrix(.83 .58 -.58 .83 114 162)"/><use href="#f7" transform="matrix(1.12 -.08 .08 1.12 130 336)"/><use href="#f7" transform="matrix(-1.08 .06 -.06 -1.08 14 27)"/><use href="#f1" transform="matrix(-.51 -.85 .85 -.51 21 291)"/><use href="#f3" transform="matrix(.06 -.9 .9 .06 101 80)"/><use href="#f2" transform="matrix(.39 -.76 .76 .39 190 105)"/><use href="#f2" transform="matrix(-.06 1.1 -1.1 -.06 131 226)"/><use href="#f5" transform="matrix(-1.16 .16 -.16 -1.16 219 137)"/><use href="#f6" transform="matrix(-.43 .92 -.92 -.43 246 190)"/><use href="#f0" transform="matrix(-.16 .9 -.9 -.16 9 136)"/><use href="#f5" transform="matrix(1.22 -.24 .24 1.22 287 27)"/><use href="#f1" transform="matrix(-.81 .04 -.04 -.81 113 100)"/><use href="#f3" transform="matrix(.94 .05 -.05 .94 89 12)"/><use href="#f9" transform="matrix(.64 .77 -.77 .64 146 169)"/><use href="#f6" transform="matrix(-.71 -.44 .44 -.71 142 348)"/><use href="#f1" transform="matrix(.81 .61 -.61 .81 95 201)"/><use href="#f2" transform="matrix(.47 .7 -.7 .47 7 179)"/><use href="#f2" transform="matrix(-.12 1.17 -1.17 -.12 335 217)"/><use href="#f7" transform="matrix(-.79 .56 -.56 -.79 28 59)"/><use href="#f2" transform="matrix(.94 -.59 .59 .94 32 73)"/><use href="#f4" transform="matrix(-.05 .97 -.97 -.05 15 343)"/><use href="#f9" transform="matrix(1.09 .31 -.31 1.09 269 20)"/><use href="#f6" transform="matrix(1.15 .47 -.47 1.15 243 265)"/><use href="#f3" transform="matrix(-.83 -.29 .29 -.83 48 177)"/><use href="#f2" transform="matrix(.66 -.71 .71 .66 140 301)"/><use href="#f8" transform="matrix(-.1 -.81 .81 -.1 317 281)"/><use href="#f2" transform="matrix(1.07 -.35 .35 1.07 197 169)"/><use href="#f2" transform="matrix(.33 -1.02 1.02 .33 248 93)"/><use href="#f1" transform="matrix(-.07 1.27 -1.27 -.07 67 246)"/><use href="#f3" transform="matrix(.92 -.6 .6 .92 21 336)"/><use href="#f0" transform="matrix(-.54 .89 -.89 -.54 48 75)"/><use href="#f1" transform="matrix(.78 -.5 .5 .78 18 78)"/><use href="#f8" transform="matrix(1.22 -.06 .06 1.22 164 346)"/><use href="#f1" transform="matrix(.99 .48 -.48 .99 89 108)"/><use href="#f7" transform="matrix(.5 -.67 .67 .5 316 344)"/><use href="#f0" transform="matrix(.69 .47 -.47 .69 310 44)"/><use href="#f2" transform="matrix(.87 -.81 .81 .87 356 263)"/><use href="#f4" transform="matrix(1.07 .64 -.64 1.07 233 230)"/><use href="#f2" transform="matrix(-.82 -.76 .76 -.82 239 40)"/><use href="#f1" transform="matrix(.24 1.13 -1.13 .24 285 121)"/><use href="#f7" transform="matrix(-.49 .82 -.82 -.49 212 266)"/><use href="#f2" transform="matrix(-.7 .89 -.89 -.7 67 163)"/><use href="#f8" transform="matrix(.84 .29 -.29 .84 232 84)"/><use href="#f7" transform="matrix(-.73 .45 -.45 -.73 120 327)"/></g><g filter="url(#bl1)" fill="none" stroke="#2ed41a" stroke-width="1.05" opacity="0.74" stroke-dasharray="6 1.5" stroke-linecap="round" stroke-linejoin="round"><use href="#t11" transform="matrix(.95 -.36 .36 .95 50 40)"/><use href="#t16" transform="matrix(-.36 .85 -.85 -.36 118 38)"/><use href="#t9" transform="matrix(-.32 .97 -.97 -.32 161 52)"/><use href="#t14" transform="matrix(-1.11 -.14 .14 -1.11 25 120)"/><use href="#t6" transform="matrix(-.98 .25 -.25 -.98 127 160)"/><use href="#t19" transform="matrix(1.02 -.37 .37 1.02 324 7)"/><use href="#t8" transform="matrix(-.96 -.24 .24 -.96 209 40)"/><use href="#t0" transform="matrix(-.98 -.07 .07 -.98 203 84)"/><use href="#t0" transform="matrix(.2 .92 -.92 .2 275 98)"/><use href="#t1" transform="matrix(-.79 .62 -.62 -.79 294 104)"/><use href="#t2" transform="matrix(-1 -.51 .51 -1 355 98)"/><use href="#t15" transform="matrix(-.14 -.9 .9 -.14 292 177)"/><use href="#t9" transform="matrix(-.04 1.15 -1.15 -.04 260 180)"/><use href="#t4" transform="matrix(-.23 1.07 -1.07 -.23 115 256)"/><use href="#t17" transform="matrix(.33 .95 -.95 .33 150 249)"/><use href="#t2" transform="matrix(-1.11 .42 -.42 -1.11 144 291)"/><use href="#t17" transform="matrix(-1.04 .02 -.02 -1.04 108 336)"/><use href="#t14" transform="matrix(-.69 .54 -.54 -.69 6 328)"/><use href="#t10" transform="matrix(.18 .86 -.86 .18 13 311)"/><use href="#t3" transform="matrix(-.99 .3 -.3 -.99 80 305)"/><use href="#t7" transform="matrix(.79 -.39 .39 .79 23 215)"/><use href="#t5" transform="matrix(.69 -.5 .5 .69 171 346)"/><use href="#t6" transform="matrix(.07 -1.04 1.04 .07 224 214)"/><use href="#t10" transform="matrix(.36 .9 -.9 .36 302 238)"/><use href="#t4" transform="matrix(.3 1.04 -1.04 .3 283 345)"/><use href="#t10" transform="matrix(.87 .19 -.19 .87 320 184)"/><use href="#t11" transform="matrix(.79 -.66 .66 .79 193 353)"/><use href="#t17" transform="matrix(-.54 -.75 .75 -.54 50 72)"/><use href="#t17" transform="matrix(-.93 .47 -.47 -.93 85 137)"/><use href="#t9" transform="matrix(-.6 .93 -.93 -.6 35 167)"/><use href="#t13" transform="matrix(-.81 .43 -.43 -.81 130 207)"/><use href="#t14" transform="matrix(-.79 .74 -.74 -.79 335 147)"/><use href="#t17" transform="matrix(1.05 .32 -.32 1.05 230 327)"/><use href="#t14" transform="matrix(.86 -.83 .83 .86 320 347)"/><use href="#t1" transform="matrix(-.54 -.66 .66 -.54 80 357)"/></g><g filter="url(#bl1)" fill="none" stroke="#2ed41a" stroke-width="1.35" opacity="0.92" stroke-dasharray="6 1.5" stroke-linecap="round" stroke-linejoin="round"><use href="#t10" transform="matrix(1.25 .91 -.91 1.25 148 99)"/><use href="#t8" transform="matrix(.84 .84 -.84 .84 9 133)"/><use href="#t2" transform="matrix(.46 -1.04 1.04 .46 16 201)"/><use href="#t11" transform="matrix(1.35 -.02 .02 1.35 37 202)"/><use href="#t14" transform="matrix(.74 1.29 -1.29 .74 9 256)"/><use href="#t19" transform="matrix(-.84 -1.19 1.19 -.84 71 250)"/><use href="#t10" transform="matrix(1.1 .64 -.64 1.1 102 318)"/><use href="#t12" transform="matrix(-.88 -1.21 1.21 -.88 214 280)"/><use href="#t18" transform="matrix(-1.11 .16 -.16 -1.11 265 311)"/><use href="#t7" transform="matrix(-.71 -1.28 1.28 -.71 186 325)"/><use href="#t9" transform="matrix(-1.26 -.13 .13 -1.26 348 205)"/><use href="#t12" transform="matrix(1.15 .58 -.58 1.15 347 273)"/></g><g fill="none" stroke="#d82010" stroke-width="1.0" opacity="0.8" stroke-dasharray="5 2" stroke-linecap="round"><use href="#f5" transform="matrix(.76 .34 -.34 .76 348 145)"/><use href="#f8" transform="matrix(-.17 -.89 .89 -.17 35 214)"/><use href="#f1" transform="matrix(.75 .77 -.77 .75 159 26)"/><use href="#f0" transform="matrix(-.45 1.02 -1.02 -.45 303 45)"/><use href="#f9" transform="matrix(-.76 -.32 .32 -.76 348 212)"/><use href="#f3" transform="matrix(-.86 .53 -.53 -.86 17 315)"/><use href="#f8" transform="matrix(.87 -.17 .17 .87 43 113)"/><use href="#f9" transform="matrix(.7 .81 -.81 .7 210 69)"/><use href="#f1" transform="matrix(-.31 -1.1 1.1 -.31 207 227)"/><use href="#f6" transform="matrix(-.6 -.77 .77 -.6 285 171)"/><use href="#f3" transform="matrix(-.47 .7 -.7 -.47 292 257)"/><use href="#f4" transform="matrix(-.62 -.71 .71 -.62 193 321)"/><use href="#f1" transform="matrix(-.87 .08 -.08 -.87 43 153)"/><use href="#f7" transform="matrix(.92 .74 -.74 .92 155 353)"/><use href="#f9" transform="matrix(-1.14 .12 -.12 -1.14 290 300)"/><use href="#f9" transform="matrix(1 .7 -.7 1 182 292)"/><use href="#f4" transform="matrix(1 .6 -.6 1 174 244)"/><use href="#f4" transform="matrix(-.63 -.7 .7 -.63 237 364)"/><use href="#f6" transform="matrix(-.55 -.81 .81 -.55 326 127)"/><use href="#f9" transform="matrix(-.73 .47 -.47 -.73 43 22)"/><use href="#f3" transform="matrix(-.23 -.81 .81 -.23 146 336)"/><use href="#f7" transform="matrix(.41 1.14 -1.14 .41 147 102)"/><use href="#f8" transform="matrix(-1.14 -.06 .06 -1.14 102 152)"/><use href="#f6" transform="matrix(0 .88 -.88 0 351 55)"/><use href="#f3" transform="matrix(-.05 .93 -.93 -.05 4 305)"/><use href="#f0" transform="matrix(.72 -.8 .8 .72 53 196)"/><use href="#f2" transform="matrix(.81 -.78 .78 .81 253 189)"/><use href="#f0" transform="matrix(1.17 -.25 .25 1.17 168 320)"/><use href="#f6" transform="matrix(-.45 -1.02 1.02 -.45 146 145)"/><use href="#f0" transform="matrix(-.62 -.62 .62 -.62 70 361)"/><use href="#f5" transform="matrix(.3 -.82 .82 .3 220 38)"/><use href="#f1" transform="matrix(1 .73 -.73 1 348 225)"/><use href="#f9" transform="matrix(-1.1 .06 -.06 -1.1 138 233)"/><use href="#f7" transform="matrix(-.55 -.88 .88 -.55 45 312)"/><use href="#f4" transform="matrix(-1.17 .1 -.1 -1.17 32 38)"/><use href="#f7" transform="matrix(.89 .17 -.17 .89 304 59)"/><use href="#f8" transform="matrix(1.15 .27 -.27 1.15 133 253)"/><use href="#f4" transform="matrix(1.22 -.09 .09 1.22 359 317)"/><use href="#f8" transform="matrix(-.43 .97 -.97 -.43 135 61)"/><use href="#f8" transform="matrix(-.19 1.19 -1.19 -.19 121 82)"/><use href="#f6" transform="matrix(-.09 -1.04 1.04 -.09 272 83)"/><use href="#f0" transform="matrix(-.45 -.81 .81 -.45 363 290)"/><use href="#f9" transform="matrix(-1.28 .04 -.04 -1.28 351 164)"/><use href="#f5" transform="matrix(-.45 -.78 .78 -.45 30 37)"/><use href="#f3" transform="matrix(.82 -.91 .91 .82 177 362)"/><use href="#f7" transform="matrix(.72 -.43 .43 .72 334 126)"/><use href="#f1" transform="matrix(-.22 1.02 -1.02 -.22 334 287)"/><use href="#f2" transform="matrix(.86 .83 -.83 .86 159 233)"/><use href="#f6" transform="matrix(.85 .79 -.79 .85 170 273)"/><use href="#f2" transform="matrix(.66 -1.06 1.06 .66 364 10)"/><use href="#f2" transform="matrix(-.53 -1 1 -.53 224 219)"/><use href="#f5" transform="matrix(.79 .14 -.14 .79 57 201)"/><use href="#f1" transform="matrix(-.96 -.87 .87 -.96 193 343)"/><use href="#f3" transform="matrix(-.56 .71 -.71 -.56 303 77)"/><use href="#f8" transform="matrix(-.72 .8 -.8 -.72 88 215)"/><use href="#f2" transform="matrix(-.66 -.92 .92 -.66 22 272)"/><use href="#f8" transform="matrix(-.21 -.84 .84 -.21 154 337)"/><use href="#f2" transform="matrix(-.84 -.84 .84 -.84 192 7)"/><use href="#f9" transform="matrix(.03 .87 -.87 .03 1 293)"/><use href="#f9" transform="matrix(-1.11 .28 -.28 -1.11 266 204)"/></g><g fill="none" stroke="#30c818" stroke-width="0.8" opacity="0.6"><path d="M187 205l-2 10l-8 7l-9 5l-11 4l-13 1l-3 11"/><path d="M239 189l8 -3l7 -5l7 6l7 4l5 8l7 2"/><path d="M237 186l7 -3l8 -2l7 2l8 -2l7 2l8 -3"/><path d="M242 177l5 4l5 5l5 -3l5 -2l4 3l5 1"/><path d="M181 164l-7 -6l-11 -1l-5 -10l-12 0l-6 -8l-7 -8"/><path d="M180 206l-3 8l-3 9l-2 9l0 9l3 11l-2 8"/><path d="M223 155l7 -5l6 -5l9 -3l2 -8l3 -9l11 0"/><path d="M167 176l-5 -6l-7 1l-5 -8l-6 -5l-8 6l-7 0"/><path d="M187 206l-7 4l-6 4l-7 4l-6 4l-7 3l-7 4"/><path d="M194 152l-4 -8l-1 -9l-8 -7l-1 -9l4 -11l-11 -5"/><path d="M176 206l-7 -2l-4 1l-2 6l0 7l-3 3l-4 3"/><path d="M220 216l-2 8l7 5l-2 8l-2 7l6 6l9 4"/><path d="M187 207l-4 7l-4 8l0 10l1 10l1 9l-7 6"/><path d="M174 170l-10 -1l-10 3l-10 0l-10 1l-8 -9l-9 -1"/><path d="M176 193l-5 3l-3 6l-4 3l-5 2l-1 8l-6 1"/><path d="M199 146l3 -10l5 -10l5 -9l8 -8l7 -9l-1 -10"/><path d="M225 151l9 -6l3 -9l8 -6l12 -3l9 -5l7 -6"/><path d="M175 209l0 7l-1 5l2 7l-5 3l3 8l3 6"/><path d="M183 151l-3 -3l-1 -4l2 -7l1 -6l-6 -2l-7 -1"/><path d="M217 146l-2 -6l-3 -5l0 -5l-2 -5l5 -4l-2 -5"/><path d="M182 200l-7 6l-8 5l-8 4l-7 6l-7 5l-9 4"/><path d="M224 214l1 6l2 5l6 3l7 3l0 7l1 6"/><path d="M194 218l-7 7l1 10l1 10l3 11l-8 7l-7 8"/><path d="M213 222l-2 9l0 9l7 8l-5 9l-8 9l0 9"/><path d="M176 187l-9 -2l-8 -1l-8 -2l-8 -3l-8 5l-7 -9"/><path d="M204 223l3 6l5 6l-4 7l-6 6l-4 6l-8 6"/><path d="M177 192l-8 2l-7 5l-8 3l-7 5l-11 -4l-10 -3"/><path d="M194 144l2 -10l-6 -8l0 -10l-4 -8l5 -11l-10 -7"/><path d="M235 199l3 6l3 5l2 6l5 3l7 1l8 -2"/><path d="M174 182l-8 1l-7 1l-7 -3l-7 -2l-7 -6l-7 -2"/><path d="M167 187l-8 6l-9 4l-9 1l-8 5l-10 -1l-10 -3"/><path d="M171 165l-4 -7l-6 -5l-9 0l-9 3l-9 5l-9 4"/></g><g fill="none" stroke="#d02010" stroke-width="0.8" opacity="0.6"><path d="M233 199l6 4l4 6l9 -1l6 4l2 8l6 4"/><path d="M189 207l-4 7l-4 8l-9 4l-6 6l-2 10l-4 7"/><path d="M225 216l3 7l1 9l2 9l8 5l6 6l9 5"/><path d="M226 154l1 -10l2 -10l-1 -10l11 -5l10 -4l-2 -12"/><path d="M178 158l-7 -3l-4 -7l-9 -1l-2 -9l-6 -5l-4 -7"/><path d="M184 158l-8 -1l-2 -8l-4 -6l1 -9l0 -8l-7 -4"/><path d="M237 163l2 -5l4 -4l0 -7l6 -2l8 3l2 -7"/><path d="M165 182l-5 6l-7 -5l-5 4l-5 9l-7 -5l-6 -4"/><path d="M181 200l-8 1l-5 6l-5 5l-5 5l-10 -1l-1 11"/><path d="M237 192l8 -3l5 5l5 4l5 6l7 -1l8 -4"/><path d="M170 180l-7 -5l-7 0l-8 0l-6 -6l-6 -8l-6 -6"/><path d="M226 150l6 -3l4 -5l2 -6l-2 -8l-3 -8l1 -6"/><path d="M244 197l5 7l6 4l7 2l3 10l4 6l-1 12"/><path d="M242 167l5 -5l6 -4l5 -4l9 3l4 -7l8 1"/><path d="M212 151l1 -10l-1 -11l-2 -10l-1 -10l-1 -10l-8 -10"/><path d="M191 216l3 6l-6 2l-1 4l-2 4l-3 3l-2 4"/><path d="M188 149l-6 -3l-7 -2l-5 -3l-3 -4l2 -9l-2 -5"/><path d="M240 178l7 0l8 2l7 -5l8 0l7 -7l7 0"/><path d="M207 216l1 9l-4 8l-2 9l-2 9l3 9l7 9"/><path d="M216 149l1 -10l-1 -11l-2 -10l4 -10l-7 -11l5 -10"/><path d="M181 152l-1 -6l-1 -6l-3 -5l3 -8l-9 -1l-8 -1"/><path d="M211 140l7 -8l5 -7l6 -7l6 -6l12 -4l5 -7"/><path d="M241 184l5 -3l5 -3l4 3l5 3l5 -4l4 -7"/><path d="M195 147l-1 -11l-7 -8l-9 -8l-2 -10l2 -12l-13 -6"/><path d="M169 191l-6 2l-7 -3l-5 7l-6 1l-5 4l-4 8"/><path d="M180 163l-5 -4l-7 0l-6 -1l-7 -1l-7 1l-4 -6"/><path d="M225 211l0 8l0 7l0 7l-1 7l5 6l5 5"/><path d="M199 219l-5 7l4 8l0 8l-3 8l3 8l7 8"/></g><g filter="url(#bl2)"><ellipse cx="1" cy="37" rx="2.6" ry="2.2" fill="#9a9a18" transform="rotate(91 1 37)"/><ellipse cx="50" cy="40" rx="4.0" ry="3.5" fill="#40c020" transform="rotate(172 50 40)"/><ellipse cx="118" cy="38" rx="4.2" ry="3.5" fill="#d8d828" transform="rotate(169 118 38)"/><ellipse cx="161" cy="52" rx="3.3" ry="2.6" fill="#e8a020" transform="rotate(9 161 52)"/><ellipse cx="148" cy="99" rx="5.0" ry="4.6" fill="#f4f040" transform="rotate(82 148 99)"/><ellipse cx="9" cy="133" rx="5.1" ry="3.5" fill="#e8a020" transform="rotate(18 9 133)"/><ellipse cx="25" cy="120" rx="3.1" ry="2.2" fill="#40c020" transform="rotate(143 25 120)"/><ellipse cx="127" cy="160" rx="4.1" ry="3.9" fill="#d84010" transform="rotate(175 127 160)"/><ellipse cx="73" cy="88" rx="2.7" ry="1.8" fill="#d84010" transform="rotate(22 73 88)"/><ellipse cx="94" cy="118" rx="2.8" ry="1.9" fill="#9a9a18" transform="rotate(120 94 118)"/><ellipse cx="60" cy="156" rx="2.4" ry="2.0" fill="#9a9a18" transform="rotate(155 60 156)"/><ellipse cx="324" cy="7" rx="3.7" ry="3.3" fill="#e8a020" transform="rotate(16 324 7)"/><ellipse cx="209" cy="40" rx="3.5" ry="2.7" fill="#d8d828" transform="rotate(133 209 40)"/><ellipse cx="261" cy="40" rx="2.6" ry="2.0" fill="#d84010" transform="rotate(111 261 40)"/><ellipse cx="240" cy="21" rx="2.6" ry="1.9" fill="#40c020" transform="rotate(89 240 21)"/><ellipse cx="323" cy="50" rx="2.8" ry="2.5" fill="#9a9a18" transform="rotate(101 323 50)"/><ellipse cx="203" cy="84" rx="3.1" ry="2.4" fill="#40c020" transform="rotate(47 203 84)"/><ellipse cx="275" cy="98" rx="3.3" ry="2.1" fill="#40c020" transform="rotate(117 275 98)"/><ellipse cx="294" cy="104" rx="3.8" ry="3.5" fill="#e8a020" transform="rotate(169 294 104)"/><ellipse cx="355" cy="98" rx="3.1" ry="2.9" fill="#d8d828" transform="rotate(106 355 98)"/><ellipse cx="247" cy="113" rx="2.5" ry="2.2" fill="#40c020" transform="rotate(23 247 113)"/><ellipse cx="292" cy="177" rx="3.5" ry="2.6" fill="#40c020" transform="rotate(141 292 177)"/><ellipse cx="260" cy="180" rx="3.2" ry="2.6" fill="#e8a020" transform="rotate(132 260 180)"/><ellipse cx="312" cy="140" rx="2.8" ry="2.3" fill="#40c020" transform="rotate(72 312 140)"/><ellipse cx="16" cy="201" rx="4.8" ry="4.1" fill="#40c020" transform="rotate(138 16 201)"/><ellipse cx="37" cy="202" rx="4.2" ry="2.9" fill="#d84010" transform="rotate(88 37 202)"/><ellipse cx="9" cy="256" rx="5.9" ry="4.6" fill="#f4f040" transform="rotate(158 9 256)"/><ellipse cx="71" cy="250" rx="5.5" ry="3.8" fill="#f4f040" transform="rotate(67 71 250)"/><ellipse cx="115" cy="256" rx="3.6" ry="3.1" fill="#e8a020" transform="rotate(25 115 256)"/><ellipse cx="150" cy="249" rx="3.4" ry="3.2" fill="#e8a020" transform="rotate(116 150 249)"/><ellipse cx="144" cy="291" rx="3.5" ry="3.2" fill="#40c020" transform="rotate(74 144 291)"/><ellipse cx="102" cy="318" rx="5.9" ry="4.0" fill="#f4f040" transform="rotate(12 102 318)"/><ellipse cx="108" cy="336" rx="3.5" ry="2.3" fill="#e8a020" transform="rotate(39 108 336)"/><ellipse cx="6" cy="328" rx="3.8" ry="3.1" fill="#40c020" transform="rotate(27 6 328)"/><ellipse cx="13" cy="311" rx="4.0" ry="2.6" fill="#40c020" transform="rotate(167 13 311)"/><ellipse cx="50" cy="304" rx="2.4" ry="1.7" fill="#9a9a18" transform="rotate(123 50 304)"/><ellipse cx="80" cy="305" rx="4.1" ry="3.3" fill="#d8d828" transform="rotate(148 80 305)"/><ellipse cx="23" cy="215" rx="3.1" ry="2.2" fill="#40c020" transform="rotate(48 23 215)"/><ellipse cx="171" cy="346" rx="3.3" ry="2.2" fill="#40c020" transform="rotate(136 171 346)"/><ellipse cx="214" cy="280" rx="5.4" ry="4.4" fill="#f4f040" transform="rotate(84 214 280)"/><ellipse cx="265" cy="311" rx="4.6" ry="3.7" fill="#f4f040" transform="rotate(59 265 311)"/><ellipse cx="186" cy="325" rx="5.8" ry="5.3" fill="#f4f040" transform="rotate(157 186 325)"/><ellipse cx="224" cy="214" rx="3.7" ry="3.3" fill="#e8a020" transform="rotate(44 224 214)"/><ellipse cx="302" cy="238" rx="3.9" ry="3.2" fill="#40c020" transform="rotate(178 302 238)"/><ellipse cx="348" cy="205" rx="5.7" ry="3.7" fill="#f4f040" transform="rotate(172 348 205)"/><ellipse cx="347" cy="273" rx="4.5" ry="4.0" fill="#e8a020" transform="rotate(61 347 273)"/><ellipse cx="306" cy="281" rx="2.3" ry="2.1" fill="#d84010" transform="rotate(77 306 281)"/><ellipse cx="283" cy="345" rx="3.6" ry="2.7" fill="#d8d828" transform="rotate(89 283 345)"/><ellipse cx="320" cy="184" rx="3.6" ry="2.9" fill="#e8a020" transform="rotate(88 320 184)"/><ellipse cx="348" cy="325" rx="3.0" ry="2.5" fill="#40c020" transform="rotate(103 348 325)"/><ellipse cx="193" cy="353" rx="4.0" ry="3.8" fill="#d8d828" transform="rotate(87 193 353)"/><ellipse cx="50" cy="72" rx="4.1" ry="3.5" fill="#40c020" transform="rotate(59 50 72)"/><ellipse cx="85" cy="137" rx="4.2" ry="3.1" fill="#40c020" transform="rotate(41 85 137)"/><ellipse cx="35" cy="167" rx="3.1" ry="2.3" fill="#40c020" transform="rotate(29 35 167)"/><ellipse cx="130" cy="207" rx="3.5" ry="2.7" fill="#d8d828" transform="rotate(61 130 207)"/><ellipse cx="180" cy="187" rx="2.8" ry="2.1" fill="#9a9a18" transform="rotate(37 180 187)"/><ellipse cx="270" cy="147" rx="2.7" ry="2.3" fill="#d84010" transform="rotate(69 270 147)"/><ellipse cx="335" cy="147" rx="3.4" ry="2.8" fill="#40c020" transform="rotate(75 335 147)"/><ellipse cx="230" cy="327" rx="3.3" ry="2.2" fill="#e8a020" transform="rotate(62 230 327)"/><ellipse cx="320" cy="347" rx="3.7" ry="2.5" fill="#d8d828" transform="rotate(130 320 347)"/><ellipse cx="80" cy="357" rx="3.3" ry="2.7" fill="#d8d828" transform="rotate(67 80 357)"/><ellipse cx="140" cy="7" rx="2.7" ry="2.0" fill="#40c020" transform="rotate(169 140 7)"/><ellipse cx="290" cy="17" rx="2.7" ry="2.4" fill="#40c020" transform="rotate(18 290 17)"/></g></g></g><g clip-path="url(#ci_m2_553)"><rect x="872" y="553" width="120" height="120.5" fill="#0a0902"/><g filter="url(#blI)"><g transform="translate(872 553) scale(2.521) translate(-127.5 -77.1)"><g><rect x="-60" y="-60" width="487" height="487" fill="#0a0902"/></g><g><ellipse cx="161" cy="52" rx="26" ry="21" fill="url(#glow)" opacity="0.55"/><ellipse cx="148" cy="99" rx="34" ry="27" fill="url(#glow)" opacity="0.75"/><ellipse cx="203" cy="84" rx="26" ry="21" fill="url(#glow)" opacity="0.55"/></g><g><ellipse cx="206" cy="181" rx="65" ry="62" fill="url(#plq)" opacity="0.25" transform="rotate(0 206 181)"/><ellipse cx="206" cy="181" rx="60" ry="60" fill="url(#gfade)" opacity="0.8" filter="url(#plF)" transform="rotate(0 206 181)"/></g><g><ellipse cx="206" cy="181" rx="90" ry="88" fill="url(#gfade)" opacity="1" filter="url(#spR)"/><ellipse cx="206" cy="181" rx="90" ry="88" fill="url(#gfade)" opacity="1" filter="url(#spG)"/></g><g filter="url(#bl1)" fill="none" stroke="#d82010" stroke-width="0.85" opacity="0.50" stroke-dasharray="5 2" stroke-linecap="round" stroke-linejoin="round"><use href="#f4" transform="matrix(-1.1 -.23 .23 -1.1 106 64)"/><use href="#f0" transform="matrix(-.4 .95 -.95 -.4 93 142)"/><use href="#f7" transform="matrix(.32 -.76 .76 .32 107 84)"/><use href="#f7" transform="matrix(-.75 -.9 .9 -.75 90 52)"/><use href="#f1" transform="matrix(.8 -.07 .07 .8 204 66)"/><use href="#f3" transform="matrix(-.59 .88 -.88 -.59 212 104)"/><use href="#f2" transform="matrix(.87 .59 -.59 .87 83 131)"/><use href="#f3" transform="matrix(.82 .59 -.59 .82 114 162)"/><use href="#f3" transform="matrix(-.05 -.9 .9 -.05 104 82)"/><use href="#f2" transform="matrix(.36 -.77 .77 .36 188 109)"/><use href="#f5" transform="matrix(-1.17 -.02 .02 -1.17 223 134)"/><use href="#f1" transform="matrix(-.71 .39 -.39 -.71 117 100)"/><use href="#f9" transform="matrix(.85 .53 -.53 .85 148 165)"/><use href="#f2" transform="matrix(1.06 -.39 .39 1.06 199 171)"/><use href="#f1" transform="matrix(.74 .82 -.82 .74 91 107)"/></g><g filter="url(#bl1)" fill="none" stroke="#d82010" stroke-width="1.05" opacity="0.80" stroke-dasharray="5 2" stroke-linecap="round" stroke-linejoin="round"><use href="#t9" transform="matrix(.11 1.01 -1.01 .11 162 51)"/><use href="#t6" transform="matrix(-.86 .54 -.54 -.86 123 162)"/><use href="#t8" transform="matrix(-.98 .15 -.15 -.98 210 38)"/><use href="#t0" transform="matrix(-.95 -.24 .24 -.95 202 88)"/><use href="#t17" transform="matrix(-.86 .6 -.6 -.86 82 140)"/></g><g filter="url(#bl1)" fill="none" stroke="#d82010" stroke-width="1.35" opacity="1.00" stroke-dasharray="5 2" stroke-linecap="round" stroke-linejoin="round"><use href="#t10" transform="matrix(.97 1.2 -1.2 .97 146 98)"/></g><g filter="url(#bl1)" fill="none" stroke="#2ed41a" stroke-width="0.85" opacity="0.46" stroke-dasharray="6 1.5" stroke-linecap="round" stroke-linejoin="round"><use href="#f4" transform="matrix(-1.07 -.35 .35 -1.07 106 61)"/><use href="#f0" transform="matrix(-.56 .87 -.87 -.56 88 143)"/><use href="#f7" transform="matrix(-.01 -.82 .82 -.01 109 85)"/><use href="#f7" transform="matrix(-.81 -.84 .84 -.81 89 50)"/><use href="#f1" transform="matrix(.8 .03 -.03 .8 209 66)"/><use href="#f3" transform="matrix(-.88 .59 -.59 -.88 210 108)"/><use href="#f2" transform="matrix(1.04 .11 -.11 1.04 85 133)"/><use href="#f3" transform="matrix(.83 .58 -.58 .83 114 162)"/><use href="#f3" transform="matrix(.06 -.9 .9 .06 101 80)"/><use href="#f2" transform="matrix(.39 -.76 .76 .39 190 105)"/><use href="#f5" transform="matrix(-1.16 .16 -.16 -1.16 219 137)"/><use href="#f1" transform="matrix(-.81 .04 -.04 -.81 113 100)"/><use href="#f2" transform="matrix(1.07 -.35 .35 1.07 197 169)"/><use href="#f1" transform="matrix(.99 .48 -.48 .99 89 108)"/></g><g filter="url(#bl1)" fill="none" stroke="#2ed41a" stroke-width="1.05" opacity="0.74" stroke-dasharray="6 1.5" stroke-linecap="round" stroke-linejoin="round"><use href="#t16" transform="matrix(-.36 .85 -.85 -.36 118 38)"/><use href="#t9" transform="matrix(-.32 .97 -.97 -.32 161 52)"/><use href="#t6" transform="matrix(-.98 .25 -.25 -.98 127 160)"/><use href="#t8" transform="matrix(-.96 -.24 .24 -.96 209 40)"/><use href="#t0" transform="matrix(-.98 -.07 .07 -.98 203 84)"/><use href="#t17" transform="matrix(-.93 .47 -.47 -.93 85 137)"/></g><g filter="url(#bl1)" fill="none" stroke="#2ed41a" stroke-width="1.35" opacity="0.92" stroke-dasharray="6 1.5" stroke-linecap="round" stroke-linejoin="round"><use href="#t10" transform="matrix(1.25 .91 -.91 1.25 148 99)"/></g><g fill="none" stroke="#d82010" stroke-width="1.0" opacity="0.8" stroke-dasharray="5 2" stroke-linecap="round"><use href="#f7" transform="matrix(.41 1.14 -1.14 .41 147 102)"/><use href="#f6" transform="matrix(-.45 -1.02 1.02 -.45 146 145)"/><use href="#f8" transform="matrix(-.43 .97 -.97 -.43 135 61)"/><use href="#f8" transform="matrix(-.19 1.19 -1.19 -.19 121 82)"/></g><g fill="none" stroke="#30c818" stroke-width="0.8" opacity="0.6"><path d="M181 164l-7 -6l-11 -1l-5 -10l-12 0l-6 -8l-7 -8"/><path d="M194 152l-4 -8l-1 -9l-8 -7l-1 -9l4 -11l-11 -5"/><path d="M183 151l-3 -3l-1 -4l2 -7l1 -6l-6 -2l-7 -1"/><path d="M194 144l2 -10l-6 -8l0 -10l-4 -8l5 -11l-10 -7"/></g><g fill="none" stroke="#d02010" stroke-width="0.8" opacity="0.6"><path d="M178 158l-7 -3l-4 -7l-9 -1l-2 -9l-6 -5l-4 -7"/><path d="M184 158l-8 -1l-2 -8l-4 -6l1 -9l0 -8l-7 -4"/><path d="M212 151l1 -10l-1 -11l-2 -10l-1 -10l-1 -10l-8 -10"/><path d="M188 149l-6 -3l-7 -2l-5 -3l-3 -4l2 -9l-2 -5"/><path d="M181 152l-1 -6l-1 -6l-3 -5l3 -8l-9 -1l-8 -1"/><path d="M195 147l-1 -11l-7 -8l-9 -8l-2 -10l2 -12l-13 -6"/></g><g filter="url(#bl2)"><ellipse cx="148" cy="99" rx="5.0" ry="4.6" fill="#f4f040" transform="rotate(82 148 99)"/></g></g></g></g><g clip-path="url(#ci_m2_677)"><rect x="872" y="677" width="120" height="119.0" fill="#0a0902"/><g filter="url(#blI)"><g transform="translate(872 677) scale(2.521) translate(-185.0 -248.9)"><g><rect x="-60" y="-60" width="487" height="487" fill="#0a0902"/></g><g><ellipse cx="214" cy="280" rx="34" ry="27" fill="url(#glow)" opacity="0.75"/><ellipse cx="265" cy="311" rx="34" ry="27" fill="url(#glow)" opacity="0.75"/><ellipse cx="186" cy="325" rx="34" ry="27" fill="url(#glow)" opacity="0.75"/></g><g><ellipse cx="206" cy="181" rx="65" ry="62" fill="url(#plq)" opacity="0.25" transform="rotate(0 206 181)"/></g><g><ellipse cx="206" cy="181" rx="90" ry="88" fill="url(#gfade)" opacity="1" filter="url(#spR)"/><ellipse cx="206" cy="181" rx="90" ry="88" fill="url(#gfade)" opacity="1" filter="url(#spG)"/></g><g filter="url(#bl1)" fill="none" stroke="#d82010" stroke-width="0.85" opacity="0.50" stroke-dasharray="5 2" stroke-linecap="round" stroke-linejoin="round"><use href="#f3" transform="matrix(.02 1.16 -1.16 .02 265 239)"/><use href="#f3" transform="matrix(-.16 -1.01 1.01 -.16 151 222)"/><use href="#f9" transform="matrix(-.57 -.95 .95 -.57 140 294)"/><use href="#f7" transform="matrix(.37 .91 -.91 .37 233 229)"/><use href="#f2" transform="matrix(-.4 1.17 -1.17 -.4 280 209)"/><use href="#f4" transform="matrix(1.25 -.31 .31 1.25 191 216)"/><use href="#f8" transform="matrix(.28 .82 -.82 .28 202 256)"/><use href="#f6" transform="matrix(1.13 .52 -.52 1.13 248 266)"/><use href="#f4" transform="matrix(1.24 .15 -.15 1.24 231 232)"/><use href="#f7" transform="matrix(-.72 .63 -.63 -.72 212 261)"/></g><g filter="url(#bl1)" fill="none" stroke="#d82010" stroke-width="1.05" opacity="0.80" stroke-dasharray="5 2" stroke-linecap="round" stroke-linejoin="round"><use href="#t17" transform="matrix(.76 .66 -.66 .76 148 246)"/><use href="#t2" transform="matrix(-1.15 .27 -.27 -1.15 142 294)"/><use href="#t6" transform="matrix(.31 -1 1 .31 229 218)"/><use href="#t17" transform="matrix(1.09 -.13 .13 1.09 232 325)"/></g><g filter="url(#bl1)" fill="none" stroke="#d82010" stroke-width="1.35" opacity="1.00" stroke-dasharray="5 2" stroke-linecap="round" stroke-linejoin="round"><use href="#t12" transform="matrix(-.51 -1.4 1.4 -.51 218 280)"/><use href="#t18" transform="matrix(-.96 .58 -.58 -.96 270 309)"/><use href="#t7" transform="matrix(-1.26 -.75 .75 -1.26 189 322)"/></g><g filter="url(#bl1)" fill="none" stroke="#2ed41a" stroke-width="0.85" opacity="0.46" stroke-dasharray="6 1.5" stroke-linecap="round" stroke-linejoin="round"><use href="#f3" transform="matrix(.04 1.16 -1.16 .04 269 239)"/><use href="#f3" transform="matrix(-.3 -.97 .97 -.3 150 220)"/><use href="#f7" transform="matrix(.35 .92 -.92 .35 230 229)"/><use href="#f2" transform="matrix(-.6 1.08 -1.08 -.6 280 204)"/><use href="#f4" transform="matrix(1.25 -.31 .31 1.25 194 214)"/><use href="#f8" transform="matrix(-.12 .86 -.86 -.12 207 253)"/><use href="#f7" transform="matrix(.37 .77 -.77 .37 181 212)"/><use href="#f6" transform="matrix(1.15 .47 -.47 1.15 243 265)"/><use href="#f8" transform="matrix(1.22 -.06 .06 1.22 164 346)"/><use href="#f4" transform="matrix(1.07 .64 -.64 1.07 233 230)"/><use href="#f7" transform="matrix(-.49 .82 -.82 -.49 212 266)"/></g><g filter="url(#bl1)" fill="none" stroke="#2ed41a" stroke-width="1.05" opacity="0.74" stroke-dasharray="6 1.5" stroke-linecap="round" stroke-linejoin="round"><use href="#t17" transform="matrix(.33 .95 -.95 .33 150 249)"/><use href="#t2" transform="matrix(-1.11 .42 -.42 -1.11 144 291)"/><use href="#t6" transform="matrix(.07 -1.04 1.04 .07 224 214)"/><use href="#t17" transform="matrix(1.05 .32 -.32 1.05 230 327)"/></g><g filter="url(#bl1)" fill="none" stroke="#2ed41a" stroke-width="1.35" opacity="0.92" stroke-dasharray="6 1.5" stroke-linecap="round" stroke-linejoin="round"><use href="#t12" transform="matrix(-.88 -1.21 1.21 -.88 214 280)"/><use href="#t18" transform="matrix(-1.11 .16 -.16 -1.11 265 311)"/><use href="#t7" transform="matrix(-.71 -1.28 1.28 -.71 186 325)"/></g><g fill="none" stroke="#d82010" stroke-width="1.0" opacity="0.8" stroke-dasharray="5 2" stroke-linecap="round"><use href="#f1" transform="matrix(-.31 -1.1 1.1 -.31 207 227)"/><use href="#f9" transform="matrix(1 .7 -.7 1 182 292)"/><use href="#f4" transform="matrix(1 .6 -.6 1 174 244)"/><use href="#f0" transform="matrix(1.17 -.25 .25 1.17 168 320)"/><use href="#f6" transform="matrix(.85 .79 -.79 .85 170 273)"/></g><g fill="none" stroke="#30c818" stroke-width="0.8" opacity="0.6"><path d="M187 205l-2 10l-8 7l-9 5l-11 4l-13 1l-3 11"/><path d="M180 206l-3 8l-3 9l-2 9l0 9l3 11l-2 8"/><path d="M220 216l-2 8l7 5l-2 8l-2 7l6 6l9 4"/><path d="M187 207l-4 7l-4 8l0 10l1 10l1 9l-7 6"/><path d="M175 209l0 7l-1 5l2 7l-5 3l3 8l3 6"/><path d="M182 200l-7 6l-8 5l-8 4l-7 6l-7 5l-9 4"/><path d="M224 214l1 6l2 5l6 3l7 3l0 7l1 6"/><path d="M194 218l-7 7l1 10l1 10l3 11l-8 7l-7 8"/><path d="M213 222l-2 9l0 9l7 8l-5 9l-8 9l0 9"/><path d="M204 223l3 6l5 6l-4 7l-6 6l-4 6l-8 6"/></g><g fill="none" stroke="#d02010" stroke-width="0.8" opacity="0.6"><path d="M189 207l-4 7l-4 8l-9 4l-6 6l-2 10l-4 7"/><path d="M225 216l3 7l1 9l2 9l8 5l6 6l9 5"/><path d="M191 216l3 6l-6 2l-1 4l-2 4l-3 3l-2 4"/><path d="M207 216l1 9l-4 8l-2 9l-2 9l3 9l7 9"/><path d="M225 211l0 8l0 7l0 7l-1 7l5 6l5 5"/><path d="M199 219l-5 7l4 8l0 8l-3 8l3 8l7 8"/></g><g filter="url(#bl2)"><ellipse cx="214" cy="280" rx="5.4" ry="4.4" fill="#f4f040" transform="rotate(84 214 280)"/></g></g></g></g><g clip-path="url(#ci_m2_800)"><rect x="872" y="800" width="120" height="120.0" fill="#0a0902"/><g filter="url(#blI)"><g transform="translate(872 800) scale(2.521) translate(-227.8 -290.7)"><g><rect x="-60" y="-60" width="487" height="487" fill="#0a0902"/></g><g><ellipse cx="214" cy="280" rx="34" ry="27" fill="url(#glow)" opacity="0.75"/><ellipse cx="265" cy="311" rx="34" ry="27" fill="url(#glow)" opacity="0.75"/><ellipse cx="283" cy="345" rx="26" ry="21" fill="url(#glow)" opacity="0.55"/><ellipse cx="230" cy="327" rx="26" ry="21" fill="url(#glow)" opacity="0.55"/></g><g filter="url(#bl1)" fill="none" stroke="#d82010" stroke-width="0.85" opacity="0.50" stroke-dasharray="5 2" stroke-linecap="round" stroke-linejoin="round"><use href="#t7" transform="matrix(-.3 .71 -.71 -.3 308 279)"/><use href="#f9" transform="matrix(-.12 1.02 -1.02 -.12 291 270)"/><use href="#f9" transform="matrix(-1.09 -.44 .44 -1.09 226 366)"/><use href="#f8" transform="matrix(-.73 -.93 .93 -.73 188 354)"/><use href="#f8" transform="matrix(.28 .82 -.82 .28 202 256)"/><use href="#f6" transform="matrix(1.13 .52 -.52 1.13 248 266)"/><use href="#f7" transform="matrix(.67 -.5 .5 .67 311 340)"/><use href="#f7" transform="matrix(-.72 .63 -.63 -.72 212 261)"/></g><g filter="url(#bl1)" fill="none" stroke="#d82010" stroke-width="1.05" opacity="0.80" stroke-dasharray="5 2" stroke-linecap="round" stroke-linejoin="round"><use href="#t4" transform="matrix(.23 1.06 -1.06 .23 282 345)"/><use href="#t11" transform="matrix(.79 -.66 .66 .79 189 349)"/><use href="#t17" transform="matrix(1.09 -.13 .13 1.09 232 325)"/><use href="#t14" transform="matrix(.61 -1.02 1.02 .61 316 344)"/></g><g filter="url(#bl1)" fill="none" stroke="#d82010" stroke-width="1.35" opacity="1.00" stroke-dasharray="5 2" stroke-linecap="round" stroke-linejoin="round"><use href="#t12" transform="matrix(-.51 -1.4 1.4 -.51 218 280)"/><use href="#t18" transform="matrix(-.96 .58 -.58 -.96 270 309)"/><use href="#t7" transform="matrix(-1.26 -.75 .75 -1.26 189 322)"/></g><g filter="url(#bl1)" fill="none" stroke="#2ed41a" stroke-width="0.85" opacity="0.46" stroke-dasharray="6 1.5" stroke-linecap="round" stroke-linejoin="round"><use href="#t7" transform="matrix(-.26 .73 -.73 -.26 306 281)"/><use href="#f9" transform="matrix(-.14 1.01 -1.01 -.14 287 271)"/><use href="#f9" transform="matrix(-1.06 -.52 .52 -1.06 221 365)"/><use href="#f8" transform="matrix(-.98 -.66 .66 -.98 187 352)"/><use href="#f8" transform="matrix(-.12 .86 -.86 -.12 207 253)"/><use href="#f6" transform="matrix(1.15 .47 -.47 1.15 243 265)"/><use href="#f7" transform="matrix(-.49 .82 -.82 -.49 212 266)"/></g><g filter="url(#bl1)" fill="none" stroke="#2ed41a" stroke-width="1.05" opacity="0.74" stroke-dasharray="6 1.5" stroke-linecap="round" stroke-linejoin="round"><use href="#t4" transform="matrix(.3 1.04 -1.04 .3 283 345)"/><use href="#t11" transform="matrix(.79 -.66 .66 .79 193 353)"/><use href="#t17" transform="matrix(1.05 .32 -.32 1.05 230 327)"/><use href="#t14" transform="matrix(.86 -.83 .83 .86 320 347)"/></g><g filter="url(#bl1)" fill="none" stroke="#2ed41a" stroke-width="1.35" opacity="0.92" stroke-dasharray="6 1.5" stroke-linecap="round" stroke-linejoin="round"><use href="#t12" transform="matrix(-.88 -1.21 1.21 -.88 214 280)"/><use href="#t18" transform="matrix(-1.11 .16 -.16 -1.11 265 311)"/><use href="#t7" transform="matrix(-.71 -1.28 1.28 -.71 186 325)"/></g><g fill="none" stroke="#d82010" stroke-width="1.0" opacity="0.8" stroke-dasharray="5 2" stroke-linecap="round"><use href="#f9" transform="matrix(-1.14 .12 -.12 -1.14 290 300)"/></g><g filter="url(#bl2)"><ellipse cx="265" cy="311" rx="4.6" ry="3.7" fill="#f4f040" transform="rotate(59 265 311)"/><ellipse cx="283" cy="345" rx="3.6" ry="2.7" fill="#d8d828" transform="rotate(89 283 345)"/><ellipse cx="230" cy="327" rx="3.3" ry="2.2" fill="#e8a020" transform="rotate(62 230 327)"/></g></g></g></g><rect x="630.5" y="630.1" width="47.6" height="47.7" fill="none" stroke="#fff" stroke-width="1.8" stroke-dasharray="5.5 3.5"/><line x1="678.1" y1="654.6" x2="870.3" y2="617.6" stroke="#000" stroke-width="3.2" opacity="0.6"/><line x1="678.1" y1="654.6" x2="870.3" y2="617.6" stroke="#fff" stroke-width="1.8"/><rect x="688" y="801.9" width="47.6" height="46.9" fill="none" stroke="#fff" stroke-width="1.8" stroke-dasharray="5.5 3.5"/><line x1="735.6" y1="825" x2="877" y2="732.2" stroke="#000" stroke-width="3.2" opacity="0.6"/><line x1="735.6" y1="825" x2="877" y2="732.2" stroke="#fff" stroke-width="1.8"/><rect x="730.8" y="843.7" width="47.6" height="46.6" fill="none" stroke="#fff" stroke-width="1.8" stroke-dasharray="5.5 3.5"/><line x1="778.4" y1="867.2" x2="877.8" y2="852.2" stroke="#000" stroke-width="3.2" opacity="0.6"/><line x1="778.4" y1="867.2" x2="877.8" y2="852.2" stroke="#fff" stroke-width="1.8"/><g clip-path="url(#cp_m3)"><g transform="translate(5 930)"><g><rect x="-60" y="-60" width="487" height="487" fill="#0a0902"/></g><g><ellipse cx="45" cy="62" rx="26" ry="21" fill="url(#glow)" opacity="0.55"/><ellipse cx="113" cy="48" rx="26" ry="21" fill="url(#glow)" opacity="0.55"/><ellipse cx="135" cy="42" rx="26" ry="21" fill="url(#glow)" opacity="0.55"/><ellipse cx="150" cy="4" rx="26" ry="21" fill="url(#glow)" opacity="0.55"/><ellipse cx="177" cy="78" rx="34" ry="27" fill="url(#glow)" opacity="0.75"/><ellipse cx="103" cy="110" rx="34" ry="27" fill="url(#glow)" opacity="0.75"/><ellipse cx="76" cy="146" rx="18" ry="14" fill="url(#glow)" opacity="0.35"/><ellipse cx="50" cy="170" rx="26" ry="21" fill="url(#glow)" opacity="0.55"/><ellipse cx="52" cy="47" rx="18" ry="14" fill="url(#glow)" opacity="0.35"/><ellipse cx="188" cy="8" rx="34" ry="27" fill="url(#glow)" opacity="0.75"/><ellipse cx="239" cy="4" rx="26" ry="21" fill="url(#glow)" opacity="0.55"/><ellipse cx="210" cy="28" rx="26" ry="21" fill="url(#glow)" opacity="0.55"/><ellipse cx="222" cy="33" rx="26" ry="21" fill="url(#glow)" opacity="0.55"/><ellipse cx="218" cy="62" rx="26" ry="21" fill="url(#glow)" opacity="0.55"/><ellipse cx="312" cy="60" rx="34" ry="27" fill="url(#glow)" opacity="0.75"/><ellipse cx="326" cy="52" rx="26" ry="21" fill="url(#glow)" opacity="0.55"/><ellipse cx="350" cy="16" rx="34" ry="27" fill="url(#glow)" opacity="0.75"/><ellipse cx="357" cy="92" rx="34" ry="27" fill="url(#glow)" opacity="0.75"/><ellipse cx="241" cy="105" rx="34" ry="27" fill="url(#glow)" opacity="0.75"/><ellipse cx="191" cy="129" rx="26" ry="21" fill="url(#glow)" opacity="0.55"/><ellipse cx="304" cy="150" rx="26" ry="21" fill="url(#glow)" opacity="0.55"/><ellipse cx="292" cy="113" rx="18" ry="14" fill="url(#glow)" opacity="0.35"/><ellipse cx="365" cy="159" rx="26" ry="21" fill="url(#glow)" opacity="0.55"/><ellipse cx="86" cy="187" rx="26" ry="21" fill="url(#glow)" opacity="0.55"/><ellipse cx="16" cy="235" rx="34" ry="27" fill="url(#glow)" opacity="0.75"/><ellipse cx="35" cy="329" rx="34" ry="27" fill="url(#glow)" opacity="0.75"/><ellipse cx="117" cy="329" rx="34" ry="27" fill="url(#glow)" opacity="0.75"/><ellipse cx="163" cy="238" rx="26" ry="21" fill="url(#glow)" opacity="0.55"/><ellipse cx="137" cy="360" rx="26" ry="21" fill="url(#glow)" opacity="0.55"/><ellipse cx="178" cy="246" rx="18" ry="14" fill="url(#glow)" opacity="0.35"/><ellipse cx="78" cy="254" rx="18" ry="14" fill="url(#glow)" opacity="0.35"/><ellipse cx="25" cy="280" rx="26" ry="21" fill="url(#glow)" opacity="0.55"/><ellipse cx="55" cy="305" rx="26" ry="21" fill="url(#glow)" opacity="0.55"/><ellipse cx="145" cy="290" rx="26" ry="21" fill="url(#glow)" opacity="0.55"/><ellipse cx="267" cy="238" rx="34" ry="27" fill="url(#glow)" opacity="0.75"/><ellipse cx="280" cy="280" rx="26" ry="21" fill="url(#glow)" opacity="0.55"/><ellipse cx="311" cy="202" rx="26" ry="21" fill="url(#glow)" opacity="0.55"/><ellipse cx="329" cy="221" rx="26" ry="21" fill="url(#glow)" opacity="0.55"/><ellipse cx="362" cy="249" rx="26" ry="21" fill="url(#glow)" opacity="0.55"/><ellipse cx="335" cy="290" rx="34" ry="27" fill="url(#glow)" opacity="0.75"/><ellipse cx="342" cy="271" rx="26" ry="21" fill="url(#glow)" opacity="0.55"/><ellipse cx="212" cy="311" rx="34" ry="27" fill="url(#glow)" opacity="0.75"/><ellipse cx="229" cy="315" rx="34" ry="27" fill="url(#glow)" opacity="0.75"/><ellipse cx="276" cy="345" rx="34" ry="27" fill="url(#glow)" opacity="0.75"/><ellipse cx="323" cy="336" rx="34" ry="27" fill="url(#glow)" opacity="0.75"/><ellipse cx="360" cy="233" rx="26" ry="21" fill="url(#glow)" opacity="0.55"/><ellipse cx="198" cy="345" rx="26" ry="21" fill="url(#glow)" opacity="0.55"/><ellipse cx="255" cy="210" rx="26" ry="21" fill="url(#glow)" opacity="0.55"/><ellipse cx="295" cy="180" rx="26" ry="21" fill="url(#glow)" opacity="0.55"/><ellipse cx="15" cy="120" rx="18" ry="14" fill="url(#glow)" opacity="0.35"/><ellipse cx="135" cy="200" rx="18" ry="14" fill="url(#glow)" opacity="0.35"/><ellipse cx="245" cy="360" rx="26" ry="21" fill="url(#glow)" opacity="0.55"/><ellipse cx="350" cy="350" rx="26" ry="21" fill="url(#glow)" opacity="0.55"/></g><g><ellipse cx="225" cy="181" rx="32" ry="14" fill="url(#plq)" opacity="0.95" transform="rotate(32 225 181)"/><ellipse cx="202" cy="167" rx="9" ry="7" fill="url(#plq)" opacity="1" transform="rotate(0 202 167)"/><ellipse cx="222" cy="177" rx="11" ry="8" fill="url(#plq)" opacity="0.9" transform="rotate(0 222 177)"/><ellipse cx="130" cy="185" rx="85" ry="16" fill="url(#plq)" opacity="0.28" transform="rotate(-8 130 185)"/><ellipse cx="150" cy="262" rx="110" ry="60" fill="url(#plq)" opacity="0.14" transform="rotate(0 150 262)"/><ellipse cx="225" cy="181" rx="48" ry="21" fill="url(#gfade)" opacity="0.95" filter="url(#plF)" transform="rotate(32 225 181)"/><ellipse cx="225" cy="181" rx="38" ry="17" fill="url(#gfade)" opacity="0.8" filter="url(#plD)" transform="rotate(32 225 181)"/></g><g><ellipse cx="240" cy="200" rx="78" ry="66" fill="url(#gfade)" opacity="0.9" filter="url(#spR)"/><ellipse cx="240" cy="200" rx="78" ry="66" fill="url(#gfade)" opacity="0.9" filter="url(#spG)"/><ellipse cx="150" cy="300" rx="55" ry="40" fill="url(#gfade)" opacity="0.35" filter="url(#spR)"/><ellipse cx="150" cy="300" rx="55" ry="40" fill="url(#gfade)" opacity="0.35" filter="url(#spG)"/></g><g filter="url(#bl1)" fill="none" stroke="#d83010" stroke-width="0.85" opacity="0.50" stroke-dasharray="4.5 1.8" stroke-linecap="round" stroke-linejoin="round"><use href="#t12" transform="matrix(-.57 .36 -.36 -.57 77 146)"/><use href="#t13" transform="matrix(.67 .23 -.23 .67 53 47)"/><use href="#t7" transform="matrix(.68 -.57 .57 .68 292 114)"/><use href="#t12" transform="matrix(-.16 -.63 .63 -.16 178 246)"/><use href="#t4" transform="matrix(.7 -.36 .36 .7 78 255)"/><use href="#t2" transform="matrix(.77 -.37 .37 .77 16 120)"/><use href="#t8" transform="matrix(-.66 -.44 .44 -.66 136 200)"/><use href="#f4" transform="matrix(-.82 .27 -.27 -.82 316 66)"/><use href="#f7" transform="matrix(-1.16 -.1 .1 -1.16 264 102)"/><use href="#f6" transform="matrix(-.08 1.19 -1.19 -.08 307 125)"/><use href="#f6" transform="matrix(-.52 .9 -.9 -.52 27 18)"/><use href="#f5" transform="matrix(.16 -.9 .9 .16 260 280)"/><use href="#f1" transform="matrix(.36 .93 -.93 .36 171 281)"/><use href="#f7" transform="matrix(.81 -.31 .31 .81 168 325)"/><use href="#f8" transform="matrix(.66 .81 -.81 .66 88 259)"/><use href="#f1" transform="matrix(.41 -1.06 1.06 .41 344 167)"/><use href="#f5" transform="matrix(-.75 .7 -.7 -.75 3 28)"/><use href="#f1" transform="matrix(-.77 .27 -.27 -.77 149 144)"/><use href="#f4" transform="matrix(-1.12 .12 -.12 -1.12 93 230)"/><use href="#f9" transform="matrix(.45 .85 -.85 .45 265 26)"/><use href="#f1" transform="matrix(.98 -.85 .85 .98 292 54)"/><use href="#f3" transform="matrix(-.74 .58 -.58 -.74 76 30)"/><use href="#f9" transform="matrix(-.89 -.64 .64 -.89 225 114)"/><use href="#f2" transform="matrix(-1.14 -.31 .31 -1.14 77 131)"/><use href="#f2" transform="matrix(-.89 -.05 .05 -.89 163 134)"/><use href="#f5" transform="matrix(.22 1.22 -1.22 .22 266 130)"/><use href="#f8" transform="matrix(-1.05 -.28 .28 -1.05 236 248)"/><use href="#f0" transform="matrix(.73 -.78 .78 .73 360 344)"/><use href="#f2" transform="matrix(1.02 .2 -.2 1.02 218 362)"/><use href="#f2" transform="matrix(.81 -.4 .4 .81 321 233)"/><use href="#f5" transform="matrix(-.7 -.51 .51 -.7 177 39)"/><use href="#f4" transform="matrix(.73 .51 -.51 .73 330 34)"/><use href="#f8" transform="matrix(-.9 .02 -.02 -.9 340 83)"/><use href="#f4" transform="matrix(-.43 -.96 .96 -.43 150 63)"/><use href="#f1" transform="matrix(.52 -1.16 1.16 .52 106 269)"/><use href="#f4" transform="matrix(-1.16 .4 -.4 -1.16 243 81)"/><use href="#f0" transform="matrix(.23 .91 -.91 .23 171 96)"/><use href="#f0" transform="matrix(-.16 -1 1 -.16 206 269)"/><use href="#f0" transform="matrix(1.09 .09 -.09 1.09 122 163)"/><use href="#f1" transform="matrix(-.29 -.88 .88 -.29 5 245)"/><use href="#f1" transform="matrix(.28 -.99 .99 .28 32 76)"/><use href="#f2" transform="matrix(.68 -.98 .98 .68 143 207)"/><use href="#f4" transform="matrix(-1.17 0 -0 -1.17 90 79)"/><use href="#f6" transform="matrix(-.44 1.08 -1.08 -.44 197 247)"/><use href="#f5" transform="matrix(-1.17 -.45 .45 -1.17 330 7)"/><use href="#f2" transform="matrix(.83 .46 -.46 .83 242 282)"/><use href="#f6" transform="matrix(.98 .03 -.03 .98 195 105)"/><use href="#f0" transform="matrix(.45 -.71 .71 .45 34 258)"/><use href="#f5" transform="matrix(-.71 .71 -.71 -.71 254 55)"/><use href="#f8" transform="matrix(-.13 -1.04 1.04 -.13 246 329)"/><use href="#f3" transform="matrix(-.39 -.7 .7 -.39 187 313)"/><use href="#f5" transform="matrix(.12 1.12 -1.12 .12 302 303)"/><use href="#f1" transform="matrix(1.07 .55 -.55 1.07 289 121)"/><use href="#f4" transform="matrix(-.82 -.91 .91 -.82 37 99)"/><use href="#f1" transform="matrix(-.57 .78 -.78 -.57 262 313)"/><use href="#f2" transform="matrix(.84 -.03 .03 .84 8 5)"/><use href="#f9" transform="matrix(.43 1.19 -1.19 .43 356 265)"/><use href="#f4" transform="matrix(.18 1.01 -1.01 .18 195 268)"/><use href="#f9" transform="matrix(.95 -.03 .03 .95 274 42)"/><use href="#f2" transform="matrix(.51 .67 -.67 .51 36 171)"/><use href="#f3" transform="matrix(1.01 0 -0 1.01 174 23)"/><use href="#f8" transform="matrix(-1.18 .02 -.02 -1.18 120 153)"/><use href="#f9" transform="matrix(-.83 .13 -.13 -.83 239 51)"/><use href="#f4" transform="matrix(.26 -1.24 1.24 .26 314 41)"/><use href="#f0" transform="matrix(1.03 -.69 .69 1.03 92 286)"/><use href="#f9" transform="matrix(.88 .67 -.67 .88 251 172)"/><use href="#f2" transform="matrix(.02 1.02 -1.02 .02 91 258)"/><use href="#f8" transform="matrix(.84 -.81 .81 .84 360 136)"/><use href="#f8" transform="matrix(-.88 -.12 .12 -.88 16 292)"/><use href="#f4" transform="matrix(-.84 -.49 .49 -.84 260 208)"/><use href="#f7" transform="matrix(1.03 .24 -.24 1.03 257 262)"/><use href="#f4" transform="matrix(.26 .98 -.98 .26 268 319)"/><use href="#f6" transform="matrix(-.05 1.3 -1.3 -.05 130 14)"/><use href="#f3" transform="matrix(.18 .91 -.91 .18 296 74)"/><use href="#f8" transform="matrix(-.5 -1.02 1.02 -.5 286 188)"/><use href="#f2" transform="matrix(-.48 -.71 .71 -.48 281 115)"/><use href="#f3" transform="matrix(-.32 .99 -.99 -.32 362 60)"/><use href="#f9" transform="matrix(-.12 -.85 .85 -.12 281 190)"/><use href="#f2" transform="matrix(1.18 -.41 .41 1.18 112 156)"/><use href="#f7" transform="matrix(.8 -.36 .36 .8 67 82)"/><use href="#f5" transform="matrix(1.22 -.17 .17 1.22 8 31)"/><use href="#f5" transform="matrix(.36 -.8 .8 .36 301 79)"/><use href="#f4" transform="matrix(-.62 -.96 .96 -.62 232 120)"/><use href="#f5" transform="matrix(-.65 .67 -.67 -.65 138 241)"/><use href="#f1" transform="matrix(-1.01 -.23 .23 -1.01 237 225)"/><use href="#f9" transform="matrix(.87 -.22 .22 .87 109 137)"/><use href="#f3" transform="matrix(-.65 .74 -.74 -.65 170 38)"/><use href="#f3" transform="matrix(1.07 -.13 .13 1.07 237 127)"/><use href="#f4" transform="matrix(1.09 .58 -.58 1.09 32 324)"/><use href="#f3" transform="matrix(.54 .74 -.74 .54 26 63)"/><use href="#f3" transform="matrix(.22 1.13 -1.13 .22 327 10)"/><use href="#f2" transform="matrix(-.27 .84 -.84 -.27 42 287)"/><use href="#f6" transform="matrix(.55 -.73 .73 .55 279 241)"/><use href="#f1" transform="matrix(-.96 -.28 .28 -.96 81 293)"/><use href="#f1" transform="matrix(-.84 .29 -.29 -.84 364 360)"/><use href="#f9" transform="matrix(-1.11 .12 -.12 -1.11 248 4)"/><use href="#f2" transform="matrix(-.94 -.5 .5 -.94 353 219)"/><use href="#f0" transform="matrix(-.84 -.5 .5 -.84 175 9)"/><use href="#f0" transform="matrix(1.03 .3 -.3 1.03 198 62)"/><use href="#f4" transform="matrix(-.83 .24 -.24 -.83 213 313)"/><use href="#f6" transform="matrix(-.86 -.38 .38 -.86 184 325)"/><use href="#f9" transform="matrix(-.66 -.81 .81 -.66 218 287)"/><use href="#f9" transform="matrix(-1.18 -.06 .06 -1.18 183 301)"/><use href="#f6" transform="matrix(-.05 .93 -.93 -.05 197 267)"/><use href="#f9" transform="matrix(-1.05 -.4 .4 -1.05 122 84)"/><use href="#f8" transform="matrix(.88 .57 -.57 .88 323 75)"/><use href="#f3" transform="matrix(1.1 .1 -.1 1.1 314 235)"/></g><g filter="url(#bl1)" fill="none" stroke="#d83010" stroke-width="1.05" opacity="0.80" stroke-dasharray="4.5 1.8" stroke-linecap="round" stroke-linejoin="round"><use href="#t1" transform="matrix(-.15 .92 -.92 -.15 46 63)"/><use href="#t2" transform="matrix(.9 -.79 .79 .9 114 49)"/><use href="#t8" transform="matrix(-.97 -.41 .41 -.97 135 43)"/><use href="#t5" transform="matrix(.47 -.88 .88 .47 151 4)"/><use href="#t0" transform="matrix(1.1 -.29 .29 1.1 50 170)"/><use href="#t5" transform="matrix(-.8 .46 -.46 -.8 240 5)"/><use href="#t3" transform="matrix(1.1 -.02 .02 1.1 210 29)"/><use href="#t16" transform="matrix(-.66 .85 -.85 -.66 223 33)"/><use href="#t16" transform="matrix(1.17 .21 -.21 1.17 219 63)"/><use href="#t4" transform="matrix(-1.13 0 -0 -1.13 326 53)"/><use href="#t5" transform="matrix(-.05 1.02 -1.02 -.05 192 129)"/><use href="#t12" transform="matrix(.35 -.79 .79 .35 305 150)"/><use href="#t2" transform="matrix(1.1 .02 -.02 1.1 366 159)"/><use href="#t3" transform="matrix(.07 .96 -.96 .07 87 188)"/><use href="#t2" transform="matrix(-.17 1.18 -1.18 -.17 164 238)"/><use href="#t16" transform="matrix(-.06 1.09 -1.09 -.06 137 360)"/><use href="#t18" transform="matrix(-.33 -.81 .81 -.33 26 280)"/><use href="#t13" transform="matrix(-.09 -.9 .9 -.09 56 306)"/><use href="#t14" transform="matrix(-.26 -1.05 1.05 -.26 146 290)"/><use href="#t15" transform="matrix(-.6 -1 1 -.6 281 280)"/><use href="#t13" transform="matrix(-.75 .42 -.42 -.75 312 203)"/><use href="#t12" transform="matrix(-.23 .98 -.98 -.23 330 221)"/><use href="#t14" transform="matrix(.18 1.15 -1.15 .18 362 249)"/><use href="#t17" transform="matrix(-.7 .81 -.81 -.7 342 272)"/><use href="#t7" transform="matrix(.92 -.28 .28 .92 361 234)"/><use href="#t9" transform="matrix(.21 -1.01 1.01 .21 199 345)"/><use href="#t10" transform="matrix(.03 -.94 .94 .03 256 210)"/><use href="#t0" transform="matrix(.8 -.42 .42 .8 296 180)"/><use href="#t12" transform="matrix(-.18 1.11 -1.11 -.18 246 360)"/><use href="#t1" transform="matrix(.12 .95 -.95 .12 351 350)"/></g><g filter="url(#bl1)" fill="none" stroke="#d83010" stroke-width="1.35" opacity="1.00" stroke-dasharray="4.5 1.8" stroke-linecap="round" stroke-linejoin="round"><use href="#t2" transform="matrix(.17 -1.21 1.21 .17 178 78)"/><use href="#t1" transform="matrix(.65 1.21 -1.21 .65 104 111)"/><use href="#t7" transform="matrix(.29 1.17 -1.17 .29 189 9)"/><use href="#t8" transform="matrix(-1.15 .97 -.97 -1.15 312 60)"/><use href="#t2" transform="matrix(-.43 -1.33 1.33 -.43 350 16)"/><use href="#t5" transform="matrix(.28 -1.2 1.2 .28 358 92)"/><use href="#t4" transform="matrix(1.41 -.51 .51 1.41 242 105)"/><use href="#t8" transform="matrix(1.17 -.23 .23 1.17 16 235)"/><use href="#t0" transform="matrix(-.17 -1.38 1.38 -.17 36 330)"/><use href="#t0" transform="matrix(1.19 .3 -.3 1.19 118 330)"/><use href="#t13" transform="matrix(1.42 .49 -.49 1.42 268 238)"/><use href="#t10" transform="matrix(-.51 -1.25 1.25 -.51 336 290)"/><use href="#t4" transform="matrix(-1.17 .12 -.12 -1.17 213 311)"/><use href="#t8" transform="matrix(1.25 -.63 .63 1.25 230 316)"/><use href="#t7" transform="matrix(-.85 -1.3 1.3 -.85 276 345)"/><use href="#t8" transform="matrix(-.74 .85 -.85 -.74 324 336)"/></g><g filter="url(#bl1)" fill="none" stroke="#38c41a" stroke-width="0.85" opacity="0.50" stroke-dasharray="6 1.2" stroke-linecap="round" stroke-linejoin="round"><use href="#t12" transform="matrix(-.57 .36 -.36 -.57 76 146)"/><use href="#t13" transform="matrix(.67 .23 -.23 .67 52 46)"/><use href="#t7" transform="matrix(.68 -.57 .57 .68 291 113)"/><use href="#t12" transform="matrix(-.16 -.63 .63 -.16 177 246)"/><use href="#t4" transform="matrix(.7 -.36 .36 .7 77 254)"/><use href="#t2" transform="matrix(.77 -.37 .37 .77 14 120)"/><use href="#t8" transform="matrix(-.66 -.44 .44 -.66 134 200)"/><use href="#f4" transform="matrix(-.82 .27 -.27 -.82 315 65)"/><use href="#f7" transform="matrix(-1.16 -.1 .1 -1.16 263 101)"/><use href="#f6" transform="matrix(-.08 1.19 -1.19 -.08 306 125)"/><use href="#f6" transform="matrix(-.52 .9 -.9 -.52 25 17)"/><use href="#f5" transform="matrix(.16 -.9 .9 .16 258 279)"/><use href="#f1" transform="matrix(.36 .93 -.93 .36 170 281)"/><use href="#f7" transform="matrix(.81 -.31 .31 .81 166 324)"/><use href="#f8" transform="matrix(.66 .81 -.81 .66 87 258)"/><use href="#f1" transform="matrix(.41 -1.06 1.06 .41 343 166)"/><use href="#f5" transform="matrix(-.75 .7 -.7 -.75 2 27)"/><use href="#f1" transform="matrix(-.77 .27 -.27 -.77 148 143)"/><use href="#f4" transform="matrix(-1.12 .12 -.12 -1.12 91 230)"/><use href="#f9" transform="matrix(.45 .85 -.85 .45 264 25)"/><use href="#f1" transform="matrix(.98 -.85 .85 .98 290 53)"/><use href="#f3" transform="matrix(-.74 .58 -.58 -.74 75 29)"/><use href="#f9" transform="matrix(-.89 -.64 .64 -.89 224 113)"/><use href="#f2" transform="matrix(-1.14 -.31 .31 -1.14 76 130)"/><use href="#f2" transform="matrix(-.89 -.05 .05 -.89 162 133)"/><use href="#f5" transform="matrix(.22 1.22 -1.22 .22 264 129)"/><use href="#f8" transform="matrix(-1.05 -.28 .28 -1.05 235 247)"/><use href="#f0" transform="matrix(.73 -.78 .78 .73 358 343)"/><use href="#f2" transform="matrix(1.02 .2 -.2 1.02 217 362)"/><use href="#f2" transform="matrix(.81 -.4 .4 .81 319 233)"/><use href="#f5" transform="matrix(-.7 -.51 .51 -.7 175 39)"/><use href="#f4" transform="matrix(.73 .51 -.51 .73 329 33)"/><use href="#f8" transform="matrix(-.9 .02 -.02 -.9 338 82)"/><use href="#f4" transform="matrix(-.43 -.96 .96 -.43 149 62)"/><use href="#f1" transform="matrix(.52 -1.16 1.16 .52 105 269)"/><use href="#f4" transform="matrix(-1.16 .4 -.4 -1.16 242 80)"/><use href="#f0" transform="matrix(.23 .91 -.91 .23 169 95)"/><use href="#f0" transform="matrix(-.16 -1 1 -.16 205 268)"/><use href="#f0" transform="matrix(1.09 .09 -.09 1.09 120 162)"/><use href="#f1" transform="matrix(-.29 -.88 .88 -.29 4 244)"/><use href="#f1" transform="matrix(.28 -.99 .99 .28 31 75)"/><use href="#f2" transform="matrix(.68 -.98 .98 .68 141 206)"/><use href="#f4" transform="matrix(-1.17 0 -0 -1.17 89 78)"/><use href="#f6" transform="matrix(-.44 1.08 -1.08 -.44 196 247)"/><use href="#f5" transform="matrix(-1.17 -.45 .45 -1.17 329 6)"/><use href="#f2" transform="matrix(.83 .46 -.46 .83 241 281)"/><use href="#f6" transform="matrix(.98 .03 -.03 .98 194 104)"/><use href="#f0" transform="matrix(.45 -.71 .71 .45 32 257)"/><use href="#f5" transform="matrix(-.71 .71 -.71 -.71 253 54)"/><use href="#f8" transform="matrix(-.13 -1.04 1.04 -.13 244 328)"/><use href="#f3" transform="matrix(-.39 -.7 .7 -.39 186 313)"/><use href="#f5" transform="matrix(.12 1.12 -1.12 .12 301 302)"/><use href="#f1" transform="matrix(1.07 .55 -.55 1.07 287 121)"/><use href="#f4" transform="matrix(-.82 -.91 .91 -.82 35 98)"/><use href="#f1" transform="matrix(-.57 .78 -.78 -.57 261 312)"/><use href="#f2" transform="matrix(.84 -.03 .03 .84 6 4)"/><use href="#f9" transform="matrix(.43 1.19 -1.19 .43 354 265)"/><use href="#f4" transform="matrix(.18 1.01 -1.01 .18 193 268)"/><use href="#f9" transform="matrix(.95 -.03 .03 .95 273 41)"/><use href="#f2" transform="matrix(.51 .67 -.67 .51 35 171)"/><use href="#f3" transform="matrix(1.01 0 -0 1.01 173 22)"/><use href="#f8" transform="matrix(-1.18 .02 -.02 -1.18 119 153)"/><use href="#f9" transform="matrix(-.83 .13 -.13 -.83 238 51)"/><use href="#f4" transform="matrix(.26 -1.24 1.24 .26 312 40)"/><use href="#f0" transform="matrix(1.03 -.69 .69 1.03 90 285)"/><use href="#f9" transform="matrix(.88 .67 -.67 .88 249 171)"/><use href="#f2" transform="matrix(.02 1.02 -1.02 .02 90 257)"/><use href="#f8" transform="matrix(.84 -.81 .81 .84 359 135)"/><use href="#f8" transform="matrix(-.88 -.12 .12 -.88 14 291)"/><use href="#f4" transform="matrix(-.84 -.49 .49 -.84 259 207)"/><use href="#f7" transform="matrix(1.03 .24 -.24 1.03 256 261)"/><use href="#f4" transform="matrix(.26 .98 -.98 .26 267 318)"/><use href="#f6" transform="matrix(-.05 1.3 -1.3 -.05 129 14)"/><use href="#f3" transform="matrix(.18 .91 -.91 .18 295 73)"/><use href="#f8" transform="matrix(-.5 -1.02 1.02 -.5 284 187)"/><use href="#f2" transform="matrix(-.48 -.71 .71 -.48 279 115)"/><use href="#f3" transform="matrix(-.32 .99 -.99 -.32 361 59)"/><use href="#f9" transform="matrix(-.12 -.85 .85 -.12 279 189)"/><use href="#f2" transform="matrix(1.18 -.41 .41 1.18 111 155)"/><use href="#f7" transform="matrix(.8 -.36 .36 .8 66 81)"/><use href="#f5" transform="matrix(1.22 -.17 .17 1.22 6 30)"/><use href="#f5" transform="matrix(.36 -.8 .8 .36 300 78)"/><use href="#f4" transform="matrix(-.62 -.96 .96 -.62 230 119)"/><use href="#f5" transform="matrix(-.65 .67 -.67 -.65 137 241)"/><use href="#f1" transform="matrix(-1.01 -.23 .23 -1.01 235 224)"/><use href="#f9" transform="matrix(.87 -.22 .22 .87 108 136)"/><use href="#f3" transform="matrix(-.65 .74 -.74 -.65 168 37)"/><use href="#f3" transform="matrix(1.07 -.13 .13 1.07 236 127)"/><use href="#f4" transform="matrix(1.09 .58 -.58 1.09 31 323)"/><use href="#f3" transform="matrix(.54 .74 -.74 .54 25 62)"/><use href="#f3" transform="matrix(.22 1.13 -1.13 .22 326 10)"/><use href="#f2" transform="matrix(-.27 .84 -.84 -.27 41 286)"/><use href="#f6" transform="matrix(.55 -.73 .73 .55 278 240)"/><use href="#f1" transform="matrix(-.96 -.28 .28 -.96 80 292)"/><use href="#f1" transform="matrix(-.84 .29 -.29 -.84 363 360)"/><use href="#f9" transform="matrix(-1.11 .12 -.12 -1.11 247 3)"/><use href="#f2" transform="matrix(-.94 -.5 .5 -.94 352 218)"/><use href="#f0" transform="matrix(-.84 -.5 .5 -.84 174 8)"/><use href="#f0" transform="matrix(1.03 .3 -.3 1.03 196 61)"/><use href="#f4" transform="matrix(-.83 .24 -.24 -.83 212 312)"/><use href="#f6" transform="matrix(-.86 -.38 .38 -.86 183 324)"/><use href="#f9" transform="matrix(-.66 -.81 .81 -.66 217 286)"/><use href="#f9" transform="matrix(-1.18 -.06 .06 -1.18 182 300)"/><use href="#f6" transform="matrix(-.05 .93 -.93 -.05 195 266)"/><use href="#f9" transform="matrix(-1.05 -.4 .4 -1.05 121 83)"/><use href="#f8" transform="matrix(.88 .57 -.57 .88 321 74)"/><use href="#f3" transform="matrix(1.1 .1 -.1 1.1 312 234)"/></g><g filter="url(#bl1)" fill="none" stroke="#38c41a" stroke-width="1.05" opacity="0.80" stroke-dasharray="6 1.2" stroke-linecap="round" stroke-linejoin="round"><use href="#t1" transform="matrix(-.15 .92 -.92 -.15 45 62)"/><use href="#t2" transform="matrix(.9 -.79 .79 .9 113 48)"/><use href="#t8" transform="matrix(-.97 -.41 .41 -.97 134 42)"/><use href="#t5" transform="matrix(.47 -.88 .88 .47 150 4)"/><use href="#t0" transform="matrix(1.1 -.29 .29 1.1 49 170)"/><use href="#t5" transform="matrix(-.8 .46 -.46 -.8 239 4)"/><use href="#t3" transform="matrix(1.1 -.02 .02 1.1 209 28)"/><use href="#t16" transform="matrix(-.66 .85 -.85 -.66 222 32)"/><use href="#t16" transform="matrix(1.17 .21 -.21 1.17 218 62)"/><use href="#t4" transform="matrix(-1.13 0 -0 -1.13 325 52)"/><use href="#t5" transform="matrix(-.05 1.02 -1.02 -.05 190 129)"/><use href="#t12" transform="matrix(.35 -.79 .79 .35 304 150)"/><use href="#t2" transform="matrix(1.1 .02 -.02 1.1 364 158)"/><use href="#t3" transform="matrix(.07 .96 -.96 .07 86 187)"/><use href="#t2" transform="matrix(-.17 1.18 -1.18 -.17 163 237)"/><use href="#t16" transform="matrix(-.06 1.09 -1.09 -.06 136 360)"/><use href="#t18" transform="matrix(-.33 -.81 .81 -.33 24 280)"/><use href="#t13" transform="matrix(-.09 -.9 .9 -.09 54 305)"/><use href="#t14" transform="matrix(-.26 -1.05 1.05 -.26 144 290)"/><use href="#t15" transform="matrix(-.6 -1 1 -.6 279 279)"/><use href="#t13" transform="matrix(-.75 .42 -.42 -.75 310 202)"/><use href="#t12" transform="matrix(-.23 .98 -.98 -.23 328 220)"/><use href="#t14" transform="matrix(.18 1.15 -1.15 .18 361 248)"/><use href="#t17" transform="matrix(-.7 .81 -.81 -.7 341 271)"/><use href="#t7" transform="matrix(.92 -.28 .28 .92 360 233)"/><use href="#t9" transform="matrix(.21 -1.01 1.01 .21 198 344)"/><use href="#t10" transform="matrix(.03 -.94 .94 .03 254 210)"/><use href="#t0" transform="matrix(.8 -.42 .42 .8 294 180)"/><use href="#t12" transform="matrix(-.18 1.11 -1.11 -.18 244 360)"/><use href="#t1" transform="matrix(.12 .95 -.95 .12 350 350)"/></g><g filter="url(#bl1)" fill="none" stroke="#38c41a" stroke-width="1.35" opacity="1.00" stroke-dasharray="6 1.2" stroke-linecap="round" stroke-linejoin="round"><use href="#t2" transform="matrix(.17 -1.21 1.21 .17 176 78)"/><use href="#t1" transform="matrix(.65 1.21 -1.21 .65 103 110)"/><use href="#t7" transform="matrix(.29 1.17 -1.17 .29 188 8)"/><use href="#t8" transform="matrix(-1.15 .97 -.97 -1.15 311 59)"/><use href="#t2" transform="matrix(-.43 -1.33 1.33 -.43 349 15)"/><use href="#t5" transform="matrix(.28 -1.2 1.2 .28 356 92)"/><use href="#t4" transform="matrix(1.41 -.51 .51 1.41 240 104)"/><use href="#t8" transform="matrix(1.17 -.23 .23 1.17 15 234)"/><use href="#t0" transform="matrix(-.17 -1.38 1.38 -.17 35 329)"/><use href="#t0" transform="matrix(1.19 .3 -.3 1.19 116 329)"/><use href="#t13" transform="matrix(1.42 .49 -.49 1.42 266 237)"/><use href="#t10" transform="matrix(-.51 -1.25 1.25 -.51 334 289)"/><use href="#t4" transform="matrix(-1.17 .12 -.12 -1.17 212 310)"/><use href="#t8" transform="matrix(1.25 -.63 .63 1.25 228 315)"/><use href="#t7" transform="matrix(-.85 -1.3 1.3 -.85 275 344)"/><use href="#t8" transform="matrix(-.74 .85 -.85 -.74 323 336)"/></g><g filter="url(#bl1)" fill="none" stroke="#e8e030" stroke-width="0.72" opacity="0.47" stroke-dasharray="5 1.5" stroke-linecap="round" stroke-linejoin="round"><use href="#t12" transform="matrix(-.57 .36 -.36 -.57 76 146)"/><use href="#t13" transform="matrix(.67 .23 -.23 .67 52 47)"/><use href="#t7" transform="matrix(.68 -.57 .57 .68 292 113)"/><use href="#t12" transform="matrix(-.16 -.63 .63 -.16 178 246)"/><use href="#t4" transform="matrix(.7 -.36 .36 .7 78 254)"/><use href="#t2" transform="matrix(.77 -.37 .37 .77 15 120)"/><use href="#t8" transform="matrix(-.66 -.44 .44 -.66 135 200)"/><use href="#f4" transform="matrix(-.82 .27 -.27 -.82 315 65)"/><use href="#f7" transform="matrix(-1.16 -.1 .1 -1.16 264 101)"/><use href="#f6" transform="matrix(-.08 1.19 -1.19 -.08 306 125)"/><use href="#f6" transform="matrix(-.52 .9 -.9 -.52 26 17)"/><use href="#f5" transform="matrix(.16 -.9 .9 .16 259 280)"/><use href="#f1" transform="matrix(.36 .93 -.93 .36 170 281)"/><use href="#f7" transform="matrix(.81 -.31 .31 .81 167 324)"/><use href="#f8" transform="matrix(.66 .81 -.81 .66 87 258)"/><use href="#f1" transform="matrix(.41 -1.06 1.06 .41 344 167)"/><use href="#f5" transform="matrix(-.75 .7 -.7 -.75 2 28)"/><use href="#f1" transform="matrix(-.77 .27 -.27 -.77 149 144)"/><use href="#f4" transform="matrix(-1.12 .12 -.12 -1.12 92 230)"/><use href="#f9" transform="matrix(.45 .85 -.85 .45 265 25)"/><use href="#f1" transform="matrix(.98 -.85 .85 .98 291 53)"/><use href="#f3" transform="matrix(-.74 .58 -.58 -.74 76 29)"/><use href="#f9" transform="matrix(-.89 -.64 .64 -.89 224 113)"/><use href="#f2" transform="matrix(-1.14 -.31 .31 -1.14 76 131)"/><use href="#f2" transform="matrix(-.89 -.05 .05 -.89 163 133)"/><use href="#f5" transform="matrix(.22 1.22 -1.22 .22 265 129)"/><use href="#f8" transform="matrix(-1.05 -.28 .28 -1.05 236 248)"/><use href="#f0" transform="matrix(.73 -.78 .78 .73 359 344)"/><use href="#f2" transform="matrix(1.02 .2 -.2 1.02 217 362)"/><use href="#f2" transform="matrix(.81 -.4 .4 .81 320 233)"/><use href="#f5" transform="matrix(-.7 -.51 .51 -.7 176 39)"/><use href="#f4" transform="matrix(.73 .51 -.51 .73 329 33)"/><use href="#f8" transform="matrix(-.9 .02 -.02 -.9 339 83)"/><use href="#f4" transform="matrix(-.43 -.96 .96 -.43 149 62)"/><use href="#f1" transform="matrix(.52 -1.16 1.16 .52 105 269)"/><use href="#f4" transform="matrix(-1.16 .4 -.4 -1.16 242 80)"/><use href="#f0" transform="matrix(.23 .91 -.91 .23 170 95)"/><use href="#f0" transform="matrix(-.16 -1 1 -.16 205 268)"/><use href="#f0" transform="matrix(1.09 .09 -.09 1.09 121 162)"/><use href="#f1" transform="matrix(-.29 -.88 .88 -.29 4 245)"/><use href="#f1" transform="matrix(.28 -.99 .99 .28 32 75)"/><use href="#f2" transform="matrix(.68 -.98 .98 .68 142 206)"/><use href="#f4" transform="matrix(-1.17 0 -0 -1.17 90 79)"/><use href="#f6" transform="matrix(-.44 1.08 -1.08 -.44 196 247)"/><use href="#f5" transform="matrix(-1.17 -.45 .45 -1.17 329 7)"/><use href="#f2" transform="matrix(.83 .46 -.46 .83 241 281)"/><use href="#f6" transform="matrix(.98 .03 -.03 .98 195 104)"/><use href="#f0" transform="matrix(.45 -.71 .71 .45 33 257)"/><use href="#f5" transform="matrix(-.71 .71 -.71 -.71 253 54)"/><use href="#f8" transform="matrix(-.13 -1.04 1.04 -.13 245 328)"/><use href="#f3" transform="matrix(-.39 -.7 .7 -.39 186 313)"/><use href="#f5" transform="matrix(.12 1.12 -1.12 .12 301 302)"/><use href="#f1" transform="matrix(1.07 .55 -.55 1.07 288 121)"/><use href="#f4" transform="matrix(-.82 -.91 .91 -.82 36 99)"/><use href="#f1" transform="matrix(-.57 .78 -.78 -.57 261 313)"/><use href="#f2" transform="matrix(.84 -.03 .03 .84 7 5)"/><use href="#f9" transform="matrix(.43 1.19 -1.19 .43 355 265)"/><use href="#f4" transform="matrix(.18 1.01 -1.01 .18 194 268)"/><use href="#f9" transform="matrix(.95 -.03 .03 .95 274 42)"/><use href="#f2" transform="matrix(.51 .67 -.67 .51 35 171)"/><use href="#f3" transform="matrix(1.01 0 -0 1.01 173 22)"/><use href="#f8" transform="matrix(-1.18 .02 -.02 -1.18 119 153)"/><use href="#f9" transform="matrix(-.83 .13 -.13 -.83 238 51)"/><use href="#f4" transform="matrix(.26 -1.24 1.24 .26 313 40)"/><use href="#f0" transform="matrix(1.03 -.69 .69 1.03 91 286)"/><use href="#f9" transform="matrix(.88 .67 -.67 .88 250 171)"/><use href="#f2" transform="matrix(.02 1.02 -1.02 .02 90 257)"/><use href="#f8" transform="matrix(.84 -.81 .81 .84 359 136)"/><use href="#f8" transform="matrix(-.88 -.12 .12 -.88 15 291)"/><use href="#f4" transform="matrix(-.84 -.49 .49 -.84 259 208)"/><use href="#f7" transform="matrix(1.03 .24 -.24 1.03 257 261)"/><use href="#f4" transform="matrix(.26 .98 -.98 .26 267 318)"/><use href="#f6" transform="matrix(-.05 1.3 -1.3 -.05 129 14)"/><use href="#f3" transform="matrix(.18 .91 -.91 .18 295 73)"/><use href="#f8" transform="matrix(-.5 -1.02 1.02 -.5 285 187)"/><use href="#f2" transform="matrix(-.48 -.71 .71 -.48 280 115)"/><use href="#f3" transform="matrix(-.32 .99 -.99 -.32 361 59)"/><use href="#f9" transform="matrix(-.12 -.85 .85 -.12 280 190)"/><use href="#f2" transform="matrix(1.18 -.41 .41 1.18 112 156)"/><use href="#f7" transform="matrix(.8 -.36 .36 .8 67 81)"/><use href="#f5" transform="matrix(1.22 -.17 .17 1.22 7 30)"/><use href="#f5" transform="matrix(.36 -.8 .8 .36 300 79)"/><use href="#f4" transform="matrix(-.62 -.96 .96 -.62 231 119)"/><use href="#f5" transform="matrix(-.65 .67 -.67 -.65 138 241)"/><use href="#f1" transform="matrix(-1.01 -.23 .23 -1.01 236 225)"/><use href="#f9" transform="matrix(.87 -.22 .22 .87 108 137)"/><use href="#f3" transform="matrix(-.65 .74 -.74 -.65 169 37)"/><use href="#f3" transform="matrix(1.07 -.13 .13 1.07 236 127)"/><use href="#f4" transform="matrix(1.09 .58 -.58 1.09 31 324)"/><use href="#f3" transform="matrix(.54 .74 -.74 .54 26 63)"/><use href="#f3" transform="matrix(.22 1.13 -1.13 .22 327 10)"/><use href="#f2" transform="matrix(-.27 .84 -.84 -.27 42 287)"/><use href="#f6" transform="matrix(.55 -.73 .73 .55 279 240)"/><use href="#f1" transform="matrix(-.96 -.28 .28 -.96 80 293)"/><use href="#f1" transform="matrix(-.84 .29 -.29 -.84 364 360)"/><use href="#f9" transform="matrix(-1.11 .12 -.12 -1.11 247 3)"/><use href="#f2" transform="matrix(-.94 -.5 .5 -.94 352 219)"/><use href="#f0" transform="matrix(-.84 -.5 .5 -.84 174 9)"/><use href="#f0" transform="matrix(1.03 .3 -.3 1.03 197 62)"/><use href="#f4" transform="matrix(-.83 .24 -.24 -.83 213 312)"/><use href="#f6" transform="matrix(-.86 -.38 .38 -.86 184 324)"/><use href="#f9" transform="matrix(-.66 -.81 .81 -.66 217 286)"/><use href="#f9" transform="matrix(-1.18 -.06 .06 -1.18 183 300)"/><use href="#f6" transform="matrix(-.05 .93 -.93 -.05 196 266)"/><use href="#f9" transform="matrix(-1.05 -.4 .4 -1.05 121 83)"/><use href="#f8" transform="matrix(.88 .57 -.57 .88 322 74)"/><use href="#f3" transform="matrix(1.1 .1 -.1 1.1 313 234)"/></g><g filter="url(#bl1)" fill="none" stroke="#e8e030" stroke-width="0.89" opacity="0.76" stroke-dasharray="5 1.5" stroke-linecap="round" stroke-linejoin="round"><use href="#t1" transform="matrix(-.15 .92 -.92 -.15 45 62)"/><use href="#t2" transform="matrix(.9 -.79 .79 .9 113 48)"/><use href="#t8" transform="matrix(-.97 -.41 .41 -.97 135 42)"/><use href="#t5" transform="matrix(.47 -.88 .88 .47 150 4)"/><use href="#t0" transform="matrix(1.1 -.29 .29 1.1 50 170)"/><use href="#t5" transform="matrix(-.8 .46 -.46 -.8 239 4)"/><use href="#t3" transform="matrix(1.1 -.02 .02 1.1 210 28)"/><use href="#t16" transform="matrix(-.66 .85 -.85 -.66 222 33)"/><use href="#t16" transform="matrix(1.17 .21 -.21 1.17 218 62)"/><use href="#t4" transform="matrix(-1.13 0 -0 -1.13 326 52)"/><use href="#t5" transform="matrix(-.05 1.02 -1.02 -.05 191 129)"/><use href="#t12" transform="matrix(.35 -.79 .79 .35 304 150)"/><use href="#t2" transform="matrix(1.1 .02 -.02 1.1 365 159)"/><use href="#t3" transform="matrix(.07 .96 -.96 .07 86 187)"/><use href="#t2" transform="matrix(-.17 1.18 -1.18 -.17 163 238)"/><use href="#t16" transform="matrix(-.06 1.09 -1.09 -.06 137 360)"/><use href="#t18" transform="matrix(-.33 -.81 .81 -.33 25 280)"/><use href="#t13" transform="matrix(-.09 -.9 .9 -.09 55 305)"/><use href="#t14" transform="matrix(-.26 -1.05 1.05 -.26 145 290)"/><use href="#t15" transform="matrix(-.6 -1 1 -.6 280 280)"/><use href="#t13" transform="matrix(-.75 .42 -.42 -.75 311 202)"/><use href="#t12" transform="matrix(-.23 .98 -.98 -.23 329 221)"/><use href="#t14" transform="matrix(.18 1.15 -1.15 .18 362 249)"/><use href="#t17" transform="matrix(-.7 .81 -.81 -.7 342 271)"/><use href="#t7" transform="matrix(.92 -.28 .28 .92 360 233)"/><use href="#t9" transform="matrix(.21 -1.01 1.01 .21 198 345)"/><use href="#t10" transform="matrix(.03 -.94 .94 .03 255 210)"/><use href="#t0" transform="matrix(.8 -.42 .42 .8 295 180)"/><use href="#t12" transform="matrix(-.18 1.11 -1.11 -.18 245 360)"/><use href="#t1" transform="matrix(.12 .95 -.95 .12 350 350)"/></g><g filter="url(#bl1)" fill="none" stroke="#e8e030" stroke-width="1.15" opacity="0.95" stroke-dasharray="5 1.5" stroke-linecap="round" stroke-linejoin="round"><use href="#t2" transform="matrix(.17 -1.21 1.21 .17 177 78)"/><use href="#t1" transform="matrix(.65 1.21 -1.21 .65 103 110)"/><use href="#t7" transform="matrix(.29 1.17 -1.17 .29 188 8)"/><use href="#t8" transform="matrix(-1.15 .97 -.97 -1.15 312 60)"/><use href="#t2" transform="matrix(-.43 -1.33 1.33 -.43 350 16)"/><use href="#t5" transform="matrix(.28 -1.2 1.2 .28 357 92)"/><use href="#t4" transform="matrix(1.41 -.51 .51 1.41 241 105)"/><use href="#t8" transform="matrix(1.17 -.23 .23 1.17 16 235)"/><use href="#t0" transform="matrix(-.17 -1.38 1.38 -.17 35 329)"/><use href="#t0" transform="matrix(1.19 .3 -.3 1.19 117 329)"/><use href="#t13" transform="matrix(1.42 .49 -.49 1.42 267 238)"/><use href="#t10" transform="matrix(-.51 -1.25 1.25 -.51 335 290)"/><use href="#t4" transform="matrix(-1.17 .12 -.12 -1.17 212 311)"/><use href="#t8" transform="matrix(1.25 -.63 .63 1.25 229 315)"/><use href="#t7" transform="matrix(-.85 -1.3 1.3 -.85 276 345)"/><use href="#t8" transform="matrix(-.74 .85 -.85 -.74 323 336)"/></g><g filter="url(#bl2)"><ellipse cx="45" cy="62" rx="4.7" ry="3.1" fill="#d8d828" transform="rotate(67 45 62)"/><ellipse cx="113" cy="48" rx="3.6" ry="2.4" fill="#d8d828" transform="rotate(127 113 48)"/><ellipse cx="135" cy="42" rx="4.7" ry="4.2" fill="#d8d828" transform="rotate(7 135 42)"/><ellipse cx="150" cy="4" rx="4.9" ry="4.0" fill="#d8d828" transform="rotate(170 150 4)"/><ellipse cx="177" cy="78" rx="5.0" ry="3.5" fill="#f4f040" transform="rotate(52 177 78)"/><ellipse cx="103" cy="110" rx="5.8" ry="4.8" fill="#f4f040" transform="rotate(109 103 110)"/><ellipse cx="76" cy="146" rx="2.9" ry="1.9" fill="#9a9a18" transform="rotate(83 76 146)"/><ellipse cx="50" cy="170" rx="5.0" ry="3.8" fill="#d8d828" transform="rotate(177 50 170)"/><ellipse cx="52" cy="47" rx="2.9" ry="2.2" fill="#9a9a18" transform="rotate(176 52 47)"/><ellipse cx="188" cy="8" rx="5.9" ry="4.7" fill="#f4f040" transform="rotate(66 188 8)"/><ellipse cx="239" cy="4" rx="3.9" ry="3.3" fill="#d8d828" transform="rotate(43 239 4)"/><ellipse cx="210" cy="28" rx="4.2" ry="3.0" fill="#d8d828" transform="rotate(99 210 28)"/><ellipse cx="222" cy="33" rx="4.4" ry="4.1" fill="#d8d828" transform="rotate(15 222 33)"/><ellipse cx="218" cy="62" rx="5.0" ry="3.6" fill="#d8d828" transform="rotate(23 218 62)"/><ellipse cx="312" cy="60" rx="5.3" ry="4.5" fill="#f4f040" transform="rotate(23 312 60)"/><ellipse cx="326" cy="52" rx="4.1" ry="3.6" fill="#d8d828" transform="rotate(87 326 52)"/><ellipse cx="350" cy="16" rx="5.6" ry="4.8" fill="#f4f040" transform="rotate(85 350 16)"/><ellipse cx="357" cy="92" rx="7.0" ry="4.9" fill="#f4f040" transform="rotate(27 357 92)"/><ellipse cx="241" cy="105" rx="6.0" ry="5.3" fill="#f4f040" transform="rotate(114 241 105)"/><ellipse cx="191" cy="129" rx="3.8" ry="3.3" fill="#d8d828" transform="rotate(91 191 129)"/><ellipse cx="304" cy="150" rx="4.1" ry="3.8" fill="#d8d828" transform="rotate(138 304 150)"/><ellipse cx="292" cy="113" rx="3.3" ry="2.6" fill="#9a9a18" transform="rotate(32 292 113)"/><ellipse cx="365" cy="159" rx="4.7" ry="3.4" fill="#d8d828" transform="rotate(37 365 159)"/><ellipse cx="86" cy="187" rx="4.9" ry="3.2" fill="#d8d828" transform="rotate(44 86 187)"/><ellipse cx="16" cy="235" rx="6.7" ry="6.0" fill="#f4f040" transform="rotate(57 16 235)"/><ellipse cx="35" cy="329" rx="5.0" ry="3.7" fill="#f4f040" transform="rotate(20 35 329)"/><ellipse cx="117" cy="329" rx="5.6" ry="4.2" fill="#f4f040" transform="rotate(96 117 329)"/><ellipse cx="163" cy="238" rx="3.6" ry="3.0" fill="#d8d828" transform="rotate(33 163 238)"/><ellipse cx="137" cy="360" rx="4.9" ry="4.4" fill="#d8d828" transform="rotate(154 137 360)"/><ellipse cx="178" cy="246" rx="3.6" ry="3.2" fill="#9a9a18" transform="rotate(44 178 246)"/><ellipse cx="78" cy="254" rx="2.8" ry="1.8" fill="#9a9a18" transform="rotate(7 78 254)"/><ellipse cx="25" cy="280" rx="3.8" ry="2.8" fill="#d8d828" transform="rotate(136 25 280)"/><ellipse cx="55" cy="305" rx="3.7" ry="3.3" fill="#d8d828" transform="rotate(88 55 305)"/><ellipse cx="145" cy="290" rx="5.0" ry="4.3" fill="#d8d828" transform="rotate(6 145 290)"/><ellipse cx="267" cy="238" rx="6.2" ry="5.8" fill="#f4f040" transform="rotate(24 267 238)"/><ellipse cx="280" cy="280" rx="3.8" ry="3.5" fill="#d8d828" transform="rotate(111 280 280)"/><ellipse cx="311" cy="202" rx="3.7" ry="2.9" fill="#d8d828" transform="rotate(46 311 202)"/><ellipse cx="329" cy="221" rx="4.2" ry="2.9" fill="#d8d828" transform="rotate(73 329 221)"/><ellipse cx="362" cy="249" rx="4.8" ry="4.1" fill="#d8d828" transform="rotate(104 362 249)"/><ellipse cx="335" cy="290" rx="6.7" ry="5.9" fill="#f4f040" transform="rotate(133 335 290)"/><ellipse cx="342" cy="271" rx="5.0" ry="4.1" fill="#d8d828" transform="rotate(58 342 271)"/><ellipse cx="212" cy="311" rx="5.5" ry="4.1" fill="#f4f040" transform="rotate(179 212 311)"/><ellipse cx="229" cy="315" rx="6.4" ry="5.2" fill="#f4f040" transform="rotate(61 229 315)"/><ellipse cx="276" cy="345" rx="6.0" ry="4.0" fill="#f4f040" transform="rotate(175 276 345)"/><ellipse cx="323" cy="336" rx="5.5" ry="5.0" fill="#f4f040" transform="rotate(105 323 336)"/><ellipse cx="360" cy="233" rx="3.8" ry="2.6" fill="#d8d828" transform="rotate(39 360 233)"/><ellipse cx="198" cy="345" rx="4.0" ry="2.9" fill="#d8d828" transform="rotate(178 198 345)"/><ellipse cx="255" cy="210" rx="5.0" ry="3.9" fill="#d8d828" transform="rotate(9 255 210)"/><ellipse cx="295" cy="180" rx="4.6" ry="3.8" fill="#d8d828" transform="rotate(175 295 180)"/><ellipse cx="15" cy="120" rx="2.8" ry="2.5" fill="#9a9a18" transform="rotate(9 15 120)"/><ellipse cx="135" cy="200" rx="3.2" ry="2.4" fill="#9a9a18" transform="rotate(10 135 200)"/><ellipse cx="245" cy="360" rx="4.7" ry="4.3" fill="#d8d828" transform="rotate(97 245 360)"/><ellipse cx="350" cy="350" rx="3.7" ry="3.2" fill="#d8d828" transform="rotate(151 350 350)"/></g></g></g><g clip-path="url(#ci_m3_930)"><rect x="375" y="930" width="120" height="120.5" fill="#0a0902"/><g filter="url(#blI)"><g transform="translate(375 930) scale(2.521) translate(-86.7 -96.0)"><g><rect x="-60" y="-60" width="487" height="487" fill="#0a0902"/></g><g><ellipse cx="103" cy="110" rx="34" ry="27" fill="url(#glow)" opacity="0.75"/><ellipse cx="76" cy="146" rx="18" ry="14" fill="url(#glow)" opacity="0.35"/></g><g><ellipse cx="130" cy="185" rx="85" ry="16" fill="url(#plq)" opacity="0.28" transform="rotate(-8 130 185)"/></g><g filter="url(#bl1)" fill="none" stroke="#d83010" stroke-width="0.85" opacity="0.50" stroke-dasharray="4.5 1.8" stroke-linecap="round" stroke-linejoin="round"><use href="#t12" transform="matrix(-.57 .36 -.36 -.57 77 146)"/><use href="#f1" transform="matrix(-.77 .27 -.27 -.77 149 144)"/><use href="#f2" transform="matrix(-1.14 -.31 .31 -1.14 77 131)"/><use href="#f2" transform="matrix(-.89 -.05 .05 -.89 163 134)"/><use href="#f4" transform="matrix(-.43 -.96 .96 -.43 150 63)"/><use href="#f0" transform="matrix(.23 .91 -.91 .23 171 96)"/><use href="#f0" transform="matrix(1.09 .09 -.09 1.09 122 163)"/><use href="#f4" transform="matrix(-1.17 0 -0 -1.17 90 79)"/><use href="#f4" transform="matrix(-.82 -.91 .91 -.82 37 99)"/><use href="#f8" transform="matrix(-1.18 .02 -.02 -1.18 120 153)"/><use href="#f2" transform="matrix(1.18 -.41 .41 1.18 112 156)"/><use href="#f7" transform="matrix(.8 -.36 .36 .8 67 82)"/><use href="#f9" transform="matrix(.87 -.22 .22 .87 109 137)"/><use href="#f9" transform="matrix(-1.05 -.4 .4 -1.05 122 84)"/></g><g filter="url(#bl1)" fill="none" stroke="#d83010" stroke-width="1.05" opacity="0.80" stroke-dasharray="4.5 1.8" stroke-linecap="round" stroke-linejoin="round"><use href="#t1" transform="matrix(-.15 .92 -.92 -.15 46 63)"/><use href="#t2" transform="matrix(.9 -.79 .79 .9 114 49)"/><use href="#t0" transform="matrix(1.1 -.29 .29 1.1 50 170)"/></g><g filter="url(#bl1)" fill="none" stroke="#d83010" stroke-width="1.35" opacity="1.00" stroke-dasharray="4.5 1.8" stroke-linecap="round" stroke-linejoin="round"><use href="#t2" transform="matrix(.17 -1.21 1.21 .17 178 78)"/><use href="#t1" transform="matrix(.65 1.21 -1.21 .65 104 111)"/></g><g filter="url(#bl1)" fill="none" stroke="#38c41a" stroke-width="0.85" opacity="0.50" stroke-dasharray="6 1.2" stroke-linecap="round" stroke-linejoin="round"><use href="#t12" transform="matrix(-.57 .36 -.36 -.57 76 146)"/><use href="#f1" transform="matrix(-.77 .27 -.27 -.77 148 143)"/><use href="#f2" transform="matrix(-1.14 -.31 .31 -1.14 76 130)"/><use href="#f2" transform="matrix(-.89 -.05 .05 -.89 162 133)"/><use href="#f4" transform="matrix(-.43 -.96 .96 -.43 149 62)"/><use href="#f0" transform="matrix(.23 .91 -.91 .23 169 95)"/><use href="#f0" transform="matrix(1.09 .09 -.09 1.09 120 162)"/><use href="#f4" transform="matrix(-1.17 0 -0 -1.17 89 78)"/><use href="#f4" transform="matrix(-.82 -.91 .91 -.82 35 98)"/><use href="#f8" transform="matrix(-1.18 .02 -.02 -1.18 119 153)"/><use href="#f2" transform="matrix(1.18 -.41 .41 1.18 111 155)"/><use href="#f7" transform="matrix(.8 -.36 .36 .8 66 81)"/><use href="#f9" transform="matrix(.87 -.22 .22 .87 108 136)"/><use href="#f9" transform="matrix(-1.05 -.4 .4 -1.05 121 83)"/></g><g filter="url(#bl1)" fill="none" stroke="#38c41a" stroke-width="1.05" opacity="0.80" stroke-dasharray="6 1.2" stroke-linecap="round" stroke-linejoin="round"><use href="#t2" transform="matrix(.9 -.79 .79 .9 113 48)"/><use href="#t0" transform="matrix(1.1 -.29 .29 1.1 49 170)"/></g><g filter="url(#bl1)" fill="none" stroke="#38c41a" stroke-width="1.35" opacity="1.00" stroke-dasharray="6 1.2" stroke-linecap="round" stroke-linejoin="round"><use href="#t2" transform="matrix(.17 -1.21 1.21 .17 176 78)"/><use href="#t1" transform="matrix(.65 1.21 -1.21 .65 103 110)"/></g><g filter="url(#bl1)" fill="none" stroke="#e8e030" stroke-width="0.72" opacity="0.47" stroke-dasharray="5 1.5" stroke-linecap="round" stroke-linejoin="round"><use href="#t12" transform="matrix(-.57 .36 -.36 -.57 76 146)"/><use href="#f1" transform="matrix(-.77 .27 -.27 -.77 149 144)"/><use href="#f2" transform="matrix(-1.14 -.31 .31 -1.14 76 131)"/><use href="#f2" transform="matrix(-.89 -.05 .05 -.89 163 133)"/><use href="#f4" transform="matrix(-.43 -.96 .96 -.43 149 62)"/><use href="#f0" transform="matrix(.23 .91 -.91 .23 170 95)"/><use href="#f0" transform="matrix(1.09 .09 -.09 1.09 121 162)"/><use href="#f4" transform="matrix(-1.17 0 -0 -1.17 90 79)"/><use href="#f4" transform="matrix(-.82 -.91 .91 -.82 36 99)"/><use href="#f8" transform="matrix(-1.18 .02 -.02 -1.18 119 153)"/><use href="#f2" transform="matrix(1.18 -.41 .41 1.18 112 156)"/><use href="#f7" transform="matrix(.8 -.36 .36 .8 67 81)"/><use href="#f9" transform="matrix(.87 -.22 .22 .87 108 137)"/><use href="#f9" transform="matrix(-1.05 -.4 .4 -1.05 121 83)"/></g><g filter="url(#bl1)" fill="none" stroke="#e8e030" stroke-width="0.89" opacity="0.76" stroke-dasharray="5 1.5" stroke-linecap="round" stroke-linejoin="round"><use href="#t2" transform="matrix(.9 -.79 .79 .9 113 48)"/><use href="#t0" transform="matrix(1.1 -.29 .29 1.1 50 170)"/></g><g filter="url(#bl1)" fill="none" stroke="#e8e030" stroke-width="1.15" opacity="0.95" stroke-dasharray="5 1.5" stroke-linecap="round" stroke-linejoin="round"><use href="#t2" transform="matrix(.17 -1.21 1.21 .17 177 78)"/><use href="#t1" transform="matrix(.65 1.21 -1.21 .65 103 110)"/></g><g filter="url(#bl2)"><ellipse cx="103" cy="110" rx="5.8" ry="4.8" fill="#f4f040" transform="rotate(109 103 110)"/><ellipse cx="76" cy="146" rx="2.9" ry="1.9" fill="#9a9a18" transform="rotate(83 76 146)"/></g></g></g></g><g clip-path="url(#ci_m3_1054)"><rect x="375" y="1054" width="120" height="119.0" fill="#0a0902"/><g filter="url(#blI)"><g transform="translate(375 1054) scale(2.500) translate(-274.3 -128.3)"><g><rect x="-60" y="-60" width="487" height="487" fill="#0a0902"/></g><g><ellipse cx="357" cy="92" rx="34" ry="27" fill="url(#glow)" opacity="0.75"/><ellipse cx="241" cy="105" rx="34" ry="27" fill="url(#glow)" opacity="0.75"/><ellipse cx="304" cy="150" rx="26" ry="21" fill="url(#glow)" opacity="0.55"/><ellipse cx="292" cy="113" rx="18" ry="14" fill="url(#glow)" opacity="0.35"/><ellipse cx="311" cy="202" rx="26" ry="21" fill="url(#glow)" opacity="0.55"/><ellipse cx="295" cy="180" rx="26" ry="21" fill="url(#glow)" opacity="0.55"/></g><g><ellipse cx="225" cy="181" rx="48" ry="21" fill="url(#gfade)" opacity="0.95" filter="url(#plF)" transform="rotate(32 225 181)"/></g><g><ellipse cx="240" cy="200" rx="78" ry="66" fill="url(#gfade)" opacity="0.9" filter="url(#spR)"/><ellipse cx="240" cy="200" rx="78" ry="66" fill="url(#gfade)" opacity="0.9" filter="url(#spG)"/></g><g filter="url(#bl1)" fill="none" stroke="#d83010" stroke-width="0.85" opacity="0.50" stroke-dasharray="4.5 1.8" stroke-linecap="round" stroke-linejoin="round"><use href="#t7" transform="matrix(.68 -.57 .57 .68 292 114)"/><use href="#f7" transform="matrix(-1.16 -.1 .1 -1.16 264 102)"/><use href="#f6" transform="matrix(-.08 1.19 -1.19 -.08 307 125)"/><use href="#f1" transform="matrix(.41 -1.06 1.06 .41 344 167)"/><use href="#f5" transform="matrix(.22 1.22 -1.22 .22 266 130)"/><use href="#f4" transform="matrix(-1.16 .4 -.4 -1.16 243 81)"/><use href="#f1" transform="matrix(1.07 .55 -.55 1.07 289 121)"/><use href="#f9" transform="matrix(.88 .67 -.67 .88 251 172)"/><use href="#f8" transform="matrix(.84 -.81 .81 .84 360 136)"/><use href="#f4" transform="matrix(-.84 -.49 .49 -.84 260 208)"/><use href="#f8" transform="matrix(-.5 -1.02 1.02 -.5 286 188)"/><use href="#f2" transform="matrix(-.48 -.71 .71 -.48 281 115)"/><use href="#f9" transform="matrix(-.12 -.85 .85 -.12 281 190)"/><use href="#f4" transform="matrix(-.62 -.96 .96 -.62 232 120)"/><use href="#f3" transform="matrix(1.07 -.13 .13 1.07 237 127)"/><use href="#f2" transform="matrix(-.94 -.5 .5 -.94 353 219)"/></g><g filter="url(#bl1)" fill="none" stroke="#d83010" stroke-width="1.05" opacity="0.80" stroke-dasharray="4.5 1.8" stroke-linecap="round" stroke-linejoin="round"><use href="#t12" transform="matrix(.35 -.79 .79 .35 305 150)"/><use href="#t2" transform="matrix(1.1 .02 -.02 1.1 366 159)"/><use href="#t13" transform="matrix(-.75 .42 -.42 -.75 312 203)"/><use href="#t10" transform="matrix(.03 -.94 .94 .03 256 210)"/><use href="#t0" transform="matrix(.8 -.42 .42 .8 296 180)"/></g><g filter="url(#bl1)" fill="none" stroke="#d83010" stroke-width="1.35" opacity="1.00" stroke-dasharray="4.5 1.8" stroke-linecap="round" stroke-linejoin="round"><use href="#t5" transform="matrix(.28 -1.2 1.2 .28 358 92)"/><use href="#t4" transform="matrix(1.41 -.51 .51 1.41 242 105)"/><use href="#t13" transform="matrix(1.42 .49 -.49 1.42 268 238)"/></g><g filter="url(#bl1)" fill="none" stroke="#38c41a" stroke-width="0.85" opacity="0.50" stroke-dasharray="6 1.2" stroke-linecap="round" stroke-linejoin="round"><use href="#t7" transform="matrix(.68 -.57 .57 .68 291 113)"/><use href="#f7" transform="matrix(-1.16 -.1 .1 -1.16 263 101)"/><use href="#f6" transform="matrix(-.08 1.19 -1.19 -.08 306 125)"/><use href="#f1" transform="matrix(.41 -1.06 1.06 .41 343 166)"/><use href="#f5" transform="matrix(.22 1.22 -1.22 .22 264 129)"/><use href="#f4" transform="matrix(-1.16 .4 -.4 -1.16 242 80)"/><use href="#f1" transform="matrix(1.07 .55 -.55 1.07 287 121)"/><use href="#f9" transform="matrix(.88 .67 -.67 .88 249 171)"/><use href="#f8" transform="matrix(.84 -.81 .81 .84 359 135)"/><use href="#f4" transform="matrix(-.84 -.49 .49 -.84 259 207)"/><use href="#f8" transform="matrix(-.5 -1.02 1.02 -.5 284 187)"/><use href="#f2" transform="matrix(-.48 -.71 .71 -.48 279 115)"/><use href="#f9" transform="matrix(-.12 -.85 .85 -.12 279 189)"/><use href="#f4" transform="matrix(-.62 -.96 .96 -.62 230 119)"/><use href="#f3" transform="matrix(1.07 -.13 .13 1.07 236 127)"/><use href="#f2" transform="matrix(-.94 -.5 .5 -.94 352 218)"/></g><g filter="url(#bl1)" fill="none" stroke="#38c41a" stroke-width="1.05" opacity="0.80" stroke-dasharray="6 1.2" stroke-linecap="round" stroke-linejoin="round"><use href="#t12" transform="matrix(.35 -.79 .79 .35 304 150)"/><use href="#t2" transform="matrix(1.1 .02 -.02 1.1 364 158)"/><use href="#t13" transform="matrix(-.75 .42 -.42 -.75 310 202)"/><use href="#t10" transform="matrix(.03 -.94 .94 .03 254 210)"/><use href="#t0" transform="matrix(.8 -.42 .42 .8 294 180)"/></g><g filter="url(#bl1)" fill="none" stroke="#38c41a" stroke-width="1.35" opacity="1.00" stroke-dasharray="6 1.2" stroke-linecap="round" stroke-linejoin="round"><use href="#t5" transform="matrix(.28 -1.2 1.2 .28 356 92)"/><use href="#t4" transform="matrix(1.41 -.51 .51 1.41 240 104)"/><use href="#t13" transform="matrix(1.42 .49 -.49 1.42 266 237)"/></g><g filter="url(#bl1)" fill="none" stroke="#e8e030" stroke-width="0.72" opacity="0.47" stroke-dasharray="5 1.5" stroke-linecap="round" stroke-linejoin="round"><use href="#t7" transform="matrix(.68 -.57 .57 .68 292 113)"/><use href="#f7" transform="matrix(-1.16 -.1 .1 -1.16 264 101)"/><use href="#f6" transform="matrix(-.08 1.19 -1.19 -.08 306 125)"/><use href="#f1" transform="matrix(.41 -1.06 1.06 .41 344 167)"/><use href="#f5" transform="matrix(.22 1.22 -1.22 .22 265 129)"/><use href="#f4" transform="matrix(-1.16 .4 -.4 -1.16 242 80)"/><use href="#f1" transform="matrix(1.07 .55 -.55 1.07 288 121)"/><use href="#f9" transform="matrix(.88 .67 -.67 .88 250 171)"/><use href="#f8" transform="matrix(.84 -.81 .81 .84 359 136)"/><use href="#f4" transform="matrix(-.84 -.49 .49 -.84 259 208)"/><use href="#f8" transform="matrix(-.5 -1.02 1.02 -.5 285 187)"/><use href="#f2" transform="matrix(-.48 -.71 .71 -.48 280 115)"/><use href="#f9" transform="matrix(-.12 -.85 .85 -.12 280 190)"/><use href="#f4" transform="matrix(-.62 -.96 .96 -.62 231 119)"/><use href="#f3" transform="matrix(1.07 -.13 .13 1.07 236 127)"/><use href="#f2" transform="matrix(-.94 -.5 .5 -.94 352 219)"/></g><g filter="url(#bl1)" fill="none" stroke="#e8e030" stroke-width="0.89" opacity="0.76" stroke-dasharray="5 1.5" stroke-linecap="round" stroke-linejoin="round"><use href="#t12" transform="matrix(.35 -.79 .79 .35 304 150)"/><use href="#t2" transform="matrix(1.1 .02 -.02 1.1 365 159)"/><use href="#t13" transform="matrix(-.75 .42 -.42 -.75 311 202)"/><use href="#t10" transform="matrix(.03 -.94 .94 .03 255 210)"/><use href="#t0" transform="matrix(.8 -.42 .42 .8 295 180)"/></g><g filter="url(#bl1)" fill="none" stroke="#e8e030" stroke-width="1.15" opacity="0.95" stroke-dasharray="5 1.5" stroke-linecap="round" stroke-linejoin="round"><use href="#t5" transform="matrix(.28 -1.2 1.2 .28 357 92)"/><use href="#t4" transform="matrix(1.41 -.51 .51 1.41 241 105)"/><use href="#t13" transform="matrix(1.42 .49 -.49 1.42 267 238)"/></g><g filter="url(#bl2)"><ellipse cx="304" cy="150" rx="4.1" ry="3.8" fill="#d8d828" transform="rotate(138 304 150)"/><ellipse cx="295" cy="180" rx="4.6" ry="3.8" fill="#d8d828" transform="rotate(175 295 180)"/></g></g></g></g><g clip-path="url(#ci_m3_1177)"><rect x="375" y="1177" width="120" height="120.0" fill="#0a0902"/><g filter="url(#blI)"><g transform="translate(375 1177) scale(2.521) translate(-241.7 -240.7)"><g><rect x="-60" y="-60" width="487" height="487" fill="#0a0902"/></g><g><ellipse cx="267" cy="238" rx="34" ry="27" fill="url(#glow)" opacity="0.75"/><ellipse cx="280" cy="280" rx="26" ry="21" fill="url(#glow)" opacity="0.55"/><ellipse cx="212" cy="311" rx="34" ry="27" fill="url(#glow)" opacity="0.75"/><ellipse cx="229" cy="315" rx="34" ry="27" fill="url(#glow)" opacity="0.75"/></g><g><ellipse cx="150" cy="262" rx="110" ry="60" fill="url(#plq)" opacity="0.14" transform="rotate(0 150 262)"/></g><g><ellipse cx="240" cy="200" rx="78" ry="66" fill="url(#gfade)" opacity="0.9" filter="url(#spR)"/><ellipse cx="240" cy="200" rx="78" ry="66" fill="url(#gfade)" opacity="0.9" filter="url(#spG)"/></g><g filter="url(#bl1)" fill="none" stroke="#d83010" stroke-width="0.85" opacity="0.50" stroke-dasharray="4.5 1.8" stroke-linecap="round" stroke-linejoin="round"><use href="#f5" transform="matrix(.16 -.9 .9 .16 260 280)"/><use href="#f8" transform="matrix(-1.05 -.28 .28 -1.05 236 248)"/><use href="#f2" transform="matrix(.81 -.4 .4 .81 321 233)"/><use href="#f0" transform="matrix(-.16 -1 1 -.16 206 269)"/><use href="#f6" transform="matrix(-.44 1.08 -1.08 -.44 197 247)"/><use href="#f2" transform="matrix(.83 .46 -.46 .83 242 282)"/><use href="#f8" transform="matrix(-.13 -1.04 1.04 -.13 246 329)"/><use href="#f5" transform="matrix(.12 1.12 -1.12 .12 302 303)"/><use href="#f1" transform="matrix(-.57 .78 -.78 -.57 262 313)"/><use href="#f4" transform="matrix(-.84 -.49 .49 -.84 260 208)"/><use href="#f7" transform="matrix(1.03 .24 -.24 1.03 257 262)"/><use href="#f4" transform="matrix(.26 .98 -.98 .26 268 319)"/><use href="#f1" transform="matrix(-1.01 -.23 .23 -1.01 237 225)"/><use href="#f6" transform="matrix(.55 -.73 .73 .55 279 241)"/><use href="#f4" transform="matrix(-.83 .24 -.24 -.83 213 313)"/><use href="#f9" transform="matrix(-.66 -.81 .81 -.66 218 287)"/><use href="#f3" transform="matrix(1.1 .1 -.1 1.1 314 235)"/></g><g filter="url(#bl1)" fill="none" stroke="#d83010" stroke-width="1.05" opacity="0.80" stroke-dasharray="4.5 1.8" stroke-linecap="round" stroke-linejoin="round"><use href="#t15" transform="matrix(-.6 -1 1 -.6 281 280)"/><use href="#t13" transform="matrix(-.75 .42 -.42 -.75 312 203)"/><use href="#t12" transform="matrix(-.23 .98 -.98 -.23 330 221)"/><use href="#t10" transform="matrix(.03 -.94 .94 .03 256 210)"/></g><g filter="url(#bl1)" fill="none" stroke="#d83010" stroke-width="1.35" opacity="1.00" stroke-dasharray="4.5 1.8" stroke-linecap="round" stroke-linejoin="round"><use href="#t13" transform="matrix(1.42 .49 -.49 1.42 268 238)"/><use href="#t10" transform="matrix(-.51 -1.25 1.25 -.51 336 290)"/><use href="#t4" transform="matrix(-1.17 .12 -.12 -1.17 213 311)"/><use href="#t8" transform="matrix(1.25 -.63 .63 1.25 230 316)"/><use href="#t7" transform="matrix(-.85 -1.3 1.3 -.85 276 345)"/><use href="#t8" transform="matrix(-.74 .85 -.85 -.74 324 336)"/></g><g filter="url(#bl1)" fill="none" stroke="#38c41a" stroke-width="0.85" opacity="0.50" stroke-dasharray="6 1.2" stroke-linecap="round" stroke-linejoin="round"><use href="#f5" transform="matrix(.16 -.9 .9 .16 258 279)"/><use href="#f8" transform="matrix(-1.05 -.28 .28 -1.05 235 247)"/><use href="#f2" transform="matrix(.81 -.4 .4 .81 319 233)"/><use href="#f0" transform="matrix(-.16 -1 1 -.16 205 268)"/><use href="#f6" transform="matrix(-.44 1.08 -1.08 -.44 196 247)"/><use href="#f2" transform="matrix(.83 .46 -.46 .83 241 281)"/><use href="#f8" transform="matrix(-.13 -1.04 1.04 -.13 244 328)"/><use href="#f5" transform="matrix(.12 1.12 -1.12 .12 301 302)"/><use href="#f1" transform="matrix(-.57 .78 -.78 -.57 261 312)"/><use href="#f4" transform="matrix(-.84 -.49 .49 -.84 259 207)"/><use href="#f7" transform="matrix(1.03 .24 -.24 1.03 256 261)"/><use href="#f4" transform="matrix(.26 .98 -.98 .26 267 318)"/><use href="#f1" transform="matrix(-1.01 -.23 .23 -1.01 235 224)"/><use href="#f6" transform="matrix(.55 -.73 .73 .55 278 240)"/><use href="#f4" transform="matrix(-.83 .24 -.24 -.83 212 312)"/><use href="#f9" transform="matrix(-.66 -.81 .81 -.66 217 286)"/><use href="#f3" transform="matrix(1.1 .1 -.1 1.1 312 234)"/></g><g filter="url(#bl1)" fill="none" stroke="#38c41a" stroke-width="1.05" opacity="0.80" stroke-dasharray="6 1.2" stroke-linecap="round" stroke-linejoin="round"><use href="#t15" transform="matrix(-.6 -1 1 -.6 279 279)"/><use href="#t12" transform="matrix(-.23 .98 -.98 -.23 328 220)"/><use href="#t10" transform="matrix(.03 -.94 .94 .03 254 210)"/></g><g filter="url(#bl1)" fill="none" stroke="#38c41a" stroke-width="1.35" opacity="1.00" stroke-dasharray="6 1.2" stroke-linecap="round" stroke-linejoin="round"><use href="#t13" transform="matrix(1.42 .49 -.49 1.42 266 237)"/><use href="#t10" transform="matrix(-.51 -1.25 1.25 -.51 334 289)"/><use href="#t4" transform="matrix(-1.17 .12 -.12 -1.17 212 310)"/><use href="#t8" transform="matrix(1.25 -.63 .63 1.25 228 315)"/><use href="#t7" transform="matrix(-.85 -1.3 1.3 -.85 275 344)"/><use href="#t8" transform="matrix(-.74 .85 -.85 -.74 323 336)"/></g><g filter="url(#bl1)" fill="none" stroke="#e8e030" stroke-width="0.72" opacity="0.47" stroke-dasharray="5 1.5" stroke-linecap="round" stroke-linejoin="round"><use href="#f5" transform="matrix(.16 -.9 .9 .16 259 280)"/><use href="#f8" transform="matrix(-1.05 -.28 .28 -1.05 236 248)"/><use href="#f2" transform="matrix(.81 -.4 .4 .81 320 233)"/><use href="#f0" transform="matrix(-.16 -1 1 -.16 205 268)"/><use href="#f6" transform="matrix(-.44 1.08 -1.08 -.44 196 247)"/><use href="#f2" transform="matrix(.83 .46 -.46 .83 241 281)"/><use href="#f8" transform="matrix(-.13 -1.04 1.04 -.13 245 328)"/><use href="#f5" transform="matrix(.12 1.12 -1.12 .12 301 302)"/><use href="#f1" transform="matrix(-.57 .78 -.78 -.57 261 313)"/><use href="#f4" transform="matrix(-.84 -.49 .49 -.84 259 208)"/><use href="#f7" transform="matrix(1.03 .24 -.24 1.03 257 261)"/><use href="#f4" transform="matrix(.26 .98 -.98 .26 267 318)"/><use href="#f1" transform="matrix(-1.01 -.23 .23 -1.01 236 225)"/><use href="#f6" transform="matrix(.55 -.73 .73 .55 279 240)"/><use href="#f4" transform="matrix(-.83 .24 -.24 -.83 213 312)"/><use href="#f9" transform="matrix(-.66 -.81 .81 -.66 217 286)"/><use href="#f3" transform="matrix(1.1 .1 -.1 1.1 313 234)"/></g><g filter="url(#bl1)" fill="none" stroke="#e8e030" stroke-width="0.89" opacity="0.76" stroke-dasharray="5 1.5" stroke-linecap="round" stroke-linejoin="round"><use href="#t15" transform="matrix(-.6 -1 1 -.6 280 280)"/><use href="#t12" transform="matrix(-.23 .98 -.98 -.23 329 221)"/><use href="#t10" transform="matrix(.03 -.94 .94 .03 255 210)"/></g><g filter="url(#bl1)" fill="none" stroke="#e8e030" stroke-width="1.15" opacity="0.95" stroke-dasharray="5 1.5" stroke-linecap="round" stroke-linejoin="round"><use href="#t13" transform="matrix(1.42 .49 -.49 1.42 267 238)"/><use href="#t10" transform="matrix(-.51 -1.25 1.25 -.51 335 290)"/><use href="#t4" transform="matrix(-1.17 .12 -.12 -1.17 212 311)"/><use href="#t8" transform="matrix(1.25 -.63 .63 1.25 229 315)"/><use href="#t7" transform="matrix(-.85 -1.3 1.3 -.85 276 345)"/><use href="#t8" transform="matrix(-.74 .85 -.85 -.74 323 336)"/></g><g filter="url(#bl2)"><ellipse cx="267" cy="238" rx="6.2" ry="5.8" fill="#f4f040" transform="rotate(24 267 238)"/><ellipse cx="280" cy="280" rx="3.8" ry="3.5" fill="#d8d828" transform="rotate(111 280 280)"/></g></g></g></g><rect x="91.7" y="1026" width="47.6" height="47.3" fill="none" stroke="#fff" stroke-width="1.8" stroke-dasharray="5.5 3.5"/><line x1="139.3" y1="1048.3" x2="383.3" y2="995" stroke="#000" stroke-width="3.2" opacity="0.6" stroke-dasharray="6 3.5"/><line x1="139.3" y1="1048.3" x2="383.3" y2="995" stroke="#fff" stroke-width="1.8" stroke-dasharray="6 3.5"/><rect x="279.3" y="1058.3" width="48.0" height="46.7" fill="none" stroke="#fff" stroke-width="1.8" stroke-dasharray="5.5 3.5"/><line x1="327.3" y1="1082.7" x2="385" y2="1106.7" stroke="#000" stroke-width="3.2" opacity="0.6" stroke-dasharray="6 3.5"/><line x1="327.3" y1="1082.7" x2="385" y2="1106.7" stroke="#fff" stroke-width="1.8" stroke-dasharray="6 3.5"/><rect x="246.7" y="1170.7" width="47.6" height="47.0" fill="none" stroke="#fff" stroke-width="1.8" stroke-dasharray="5.5 3.5"/><line x1="294.3" y1="1198.3" x2="385" y2="1240" stroke="#000" stroke-width="3.2" opacity="0.6"/><line x1="294.3" y1="1198.3" x2="385" y2="1240" stroke="#fff" stroke-width="1.8"/><g clip-path="url(#cp_m4)"><g transform="translate(503 930)"><g><rect x="-60" y="-60" width="487" height="487" fill="#0a0902"/></g><g><ellipse cx="47" cy="62" rx="26" ry="21" fill="url(#glow)" opacity="0.55"/><ellipse cx="115" cy="48" rx="26" ry="21" fill="url(#glow)" opacity="0.55"/><ellipse cx="137" cy="42" rx="26" ry="21" fill="url(#glow)" opacity="0.55"/><ellipse cx="152" cy="4" rx="26" ry="21" fill="url(#glow)" opacity="0.55"/><ellipse cx="179" cy="78" rx="34" ry="27" fill="url(#glow)" opacity="0.75"/><ellipse cx="105" cy="110" rx="34" ry="27" fill="url(#glow)" opacity="0.75"/><ellipse cx="78" cy="146" rx="18" ry="14" fill="url(#glow)" opacity="0.35"/><ellipse cx="52" cy="170" rx="26" ry="21" fill="url(#glow)" opacity="0.55"/><ellipse cx="54" cy="47" rx="18" ry="14" fill="url(#glow)" opacity="0.35"/><ellipse cx="190" cy="8" rx="34" ry="27" fill="url(#glow)" opacity="0.75"/><ellipse cx="241" cy="4" rx="26" ry="21" fill="url(#glow)" opacity="0.55"/><ellipse cx="212" cy="28" rx="26" ry="21" fill="url(#glow)" opacity="0.55"/><ellipse cx="224" cy="33" rx="26" ry="21" fill="url(#glow)" opacity="0.55"/><ellipse cx="220" cy="62" rx="26" ry="21" fill="url(#glow)" opacity="0.55"/><ellipse cx="314" cy="60" rx="34" ry="27" fill="url(#glow)" opacity="0.75"/><ellipse cx="328" cy="52" rx="26" ry="21" fill="url(#glow)" opacity="0.55"/><ellipse cx="352" cy="16" rx="34" ry="27" fill="url(#glow)" opacity="0.75"/><ellipse cx="359" cy="92" rx="34" ry="27" fill="url(#glow)" opacity="0.75"/><ellipse cx="243" cy="105" rx="34" ry="27" fill="url(#glow)" opacity="0.75"/><ellipse cx="193" cy="129" rx="26" ry="21" fill="url(#glow)" opacity="0.55"/><ellipse cx="306" cy="150" rx="26" ry="21" fill="url(#glow)" opacity="0.55"/><ellipse cx="294" cy="113" rx="18" ry="14" fill="url(#glow)" opacity="0.35"/><ellipse cx="367" cy="159" rx="26" ry="21" fill="url(#glow)" opacity="0.55"/><ellipse cx="88" cy="187" rx="26" ry="21" fill="url(#glow)" opacity="0.55"/><ellipse cx="18" cy="235" rx="34" ry="27" fill="url(#glow)" opacity="0.75"/><ellipse cx="37" cy="329" rx="34" ry="27" fill="url(#glow)" opacity="0.75"/><ellipse cx="119" cy="329" rx="34" ry="27" fill="url(#glow)" opacity="0.75"/><ellipse cx="165" cy="238" rx="26" ry="21" fill="url(#glow)" opacity="0.55"/><ellipse cx="139" cy="360" rx="26" ry="21" fill="url(#glow)" opacity="0.55"/><ellipse cx="180" cy="246" rx="18" ry="14" fill="url(#glow)" opacity="0.35"/><ellipse cx="80" cy="254" rx="18" ry="14" fill="url(#glow)" opacity="0.35"/><ellipse cx="27" cy="280" rx="26" ry="21" fill="url(#glow)" opacity="0.55"/><ellipse cx="57" cy="305" rx="26" ry="21" fill="url(#glow)" opacity="0.55"/><ellipse cx="147" cy="290" rx="26" ry="21" fill="url(#glow)" opacity="0.55"/><ellipse cx="269" cy="238" rx="34" ry="27" fill="url(#glow)" opacity="0.75"/><ellipse cx="282" cy="280" rx="26" ry="21" fill="url(#glow)" opacity="0.55"/><ellipse cx="313" cy="202" rx="26" ry="21" fill="url(#glow)" opacity="0.55"/><ellipse cx="331" cy="221" rx="26" ry="21" fill="url(#glow)" opacity="0.55"/><ellipse cx="364" cy="249" rx="26" ry="21" fill="url(#glow)" opacity="0.55"/><ellipse cx="337" cy="290" rx="34" ry="27" fill="url(#glow)" opacity="0.75"/><ellipse cx="344" cy="271" rx="26" ry="21" fill="url(#glow)" opacity="0.55"/><ellipse cx="214" cy="311" rx="34" ry="27" fill="url(#glow)" opacity="0.75"/><ellipse cx="231" cy="315" rx="34" ry="27" fill="url(#glow)" opacity="0.75"/><ellipse cx="278" cy="345" rx="34" ry="27" fill="url(#glow)" opacity="0.75"/><ellipse cx="325" cy="336" rx="34" ry="27" fill="url(#glow)" opacity="0.75"/><ellipse cx="362" cy="233" rx="26" ry="21" fill="url(#glow)" opacity="0.55"/><ellipse cx="200" cy="345" rx="26" ry="21" fill="url(#glow)" opacity="0.55"/><ellipse cx="257" cy="210" rx="26" ry="21" fill="url(#glow)" opacity="0.55"/><ellipse cx="297" cy="180" rx="26" ry="21" fill="url(#glow)" opacity="0.55"/><ellipse cx="17" cy="120" rx="18" ry="14" fill="url(#glow)" opacity="0.35"/><ellipse cx="137" cy="200" rx="18" ry="14" fill="url(#glow)" opacity="0.35"/><ellipse cx="247" cy="360" rx="26" ry="21" fill="url(#glow)" opacity="0.55"/><ellipse cx="352" cy="350" rx="26" ry="21" fill="url(#glow)" opacity="0.55"/></g><g><ellipse cx="225" cy="181" rx="32" ry="14" fill="url(#plq)" opacity="0.95" transform="rotate(32 225 181)"/><ellipse cx="202" cy="167" rx="9" ry="7" fill="url(#plq)" opacity="1" transform="rotate(0 202 167)"/><ellipse cx="222" cy="177" rx="11" ry="8" fill="url(#plq)" opacity="0.9" transform="rotate(0 222 177)"/><ellipse cx="130" cy="185" rx="85" ry="16" fill="url(#plq)" opacity="0.28" transform="rotate(-8 130 185)"/><ellipse cx="150" cy="262" rx="110" ry="60" fill="url(#plq)" opacity="0.14" transform="rotate(0 150 262)"/><ellipse cx="225" cy="181" rx="48" ry="21" fill="url(#gfade)" opacity="0.95" filter="url(#plF)" transform="rotate(32 225 181)"/><ellipse cx="225" cy="181" rx="38" ry="17" fill="url(#gfade)" opacity="0.8" filter="url(#plD)" transform="rotate(32 225 181)"/></g><g><ellipse cx="240" cy="200" rx="78" ry="66" fill="url(#gfade)" opacity="0.9" filter="url(#spR)"/><ellipse cx="240" cy="200" rx="78" ry="66" fill="url(#gfade)" opacity="0.9" filter="url(#spG)"/><ellipse cx="150" cy="300" rx="55" ry="40" fill="url(#gfade)" opacity="0.35" filter="url(#spR)"/><ellipse cx="150" cy="300" rx="55" ry="40" fill="url(#gfade)" opacity="0.35" filter="url(#spG)"/></g><g filter="url(#bl1)" fill="none" stroke="#d82010" stroke-width="0.85" opacity="0.50" stroke-dasharray="5 2" stroke-linecap="round" stroke-linejoin="round"><use href="#t12" transform="matrix(-.65 .17 -.17 -.65 74 146)"/><use href="#t13" transform="matrix(.71 .06 -.06 .71 50 42)"/><use href="#t7" transform="matrix(.69 -.56 .56 .69 296 117)"/><use href="#t12" transform="matrix(.06 -.65 .65 .06 175 251)"/><use href="#t4" transform="matrix(.57 -.55 .55 .57 81 253)"/><use href="#t2" transform="matrix(.77 -.36 .36 .77 22 117)"/><use href="#t8" transform="matrix(-.36 -.71 .71 -.36 138 204)"/><use href="#f4" transform="matrix(-.75 .43 -.43 -.75 313 63)"/><use href="#f7" transform="matrix(-1.16 -.06 .06 -1.16 262 103)"/><use href="#f6" transform="matrix(.31 1.15 -1.15 .31 305 127)"/><use href="#f6" transform="matrix(-.57 .87 -.87 -.57 26 15)"/><use href="#f5" transform="matrix(.14 -.9 .9 .14 261 284)"/><use href="#f1" transform="matrix(.66 .75 -.75 .66 169 278)"/><use href="#f7" transform="matrix(.87 -.05 .05 .87 166 326)"/><use href="#f8" transform="matrix(.49 .92 -.92 .49 89 263)"/><use href="#f1" transform="matrix(.08 -1.13 1.13 .08 346 164)"/><use href="#f5" transform="matrix(-.88 .53 -.53 -.88 1 24)"/><use href="#f1" transform="matrix(-.68 .44 -.44 -.68 152 142)"/><use href="#f4" transform="matrix(-1.12 -.1 .1 -1.12 94 228)"/><use href="#f9" transform="matrix(.7 .66 -.66 .7 261 21)"/><use href="#f1" transform="matrix(1.24 -.38 .38 1.24 294 53)"/><use href="#f3" transform="matrix(-.72 .6 -.6 -.72 79 28)"/><use href="#f9" transform="matrix(-.85 -.69 .69 -.85 229 113)"/><use href="#f2" transform="matrix(-1.17 .14 -.14 -1.17 76 127)"/><use href="#f2" transform="matrix(-.87 .22 -.22 -.87 160 130)"/><use href="#f5" transform="matrix(-.15 1.23 -1.23 -.15 260 126)"/><use href="#f8" transform="matrix(-1.07 -.21 .21 -1.07 239 245)"/><use href="#f0" transform="matrix(.28 -1.03 1.03 .28 357 347)"/><use href="#f2" transform="matrix(1.04 .02 -.02 1.04 218 364)"/><use href="#f2" transform="matrix(.77 -.48 .48 .77 315 233)"/><use href="#f5" transform="matrix(-.84 -.21 .21 -.84 180 42)"/><use href="#f4" transform="matrix(.56 .69 -.69 .56 333 38)"/><use href="#f8" transform="matrix(-.82 -.38 .38 -.82 334 79)"/><use href="#f4" transform="matrix(-.29 -1.01 1.01 -.29 144 58)"/><use href="#f1" transform="matrix(.97 -.82 .82 .97 103 269)"/><use href="#f4" transform="matrix(-1.22 .11 -.11 -1.22 245 82)"/><use href="#f0" transform="matrix(.35 .87 -.87 .35 175 97)"/><use href="#f0" transform="matrix(-.63 -.8 .8 -.63 207 273)"/><use href="#f0" transform="matrix(1.03 -.35 .35 1.03 117 166)"/><use href="#f1" transform="matrix(.11 -.92 .92 .11 7 241)"/><use href="#f1" transform="matrix(.21 -1 1 .21 31 75)"/><use href="#f2" transform="matrix(.27 -1.16 1.16 .27 139 204)"/><use href="#f4" transform="matrix(-1.1 -.4 .4 -1.1 91 78)"/><use href="#f6" transform="matrix(-.78 .87 -.87 -.78 199 249)"/><use href="#f5" transform="matrix(-1.24 .15 -.15 -1.24 330 4)"/><use href="#f2" transform="matrix(.9 .31 -.31 .9 239 285)"/><use href="#f6" transform="matrix(.92 .32 -.32 .92 199 106)"/><use href="#f0" transform="matrix(.48 -.69 .69 .48 33 254)"/><use href="#f5" transform="matrix(-.95 .33 -.33 -.95 255 51)"/><use href="#f8" transform="matrix(-.55 -.89 .89 -.55 244 327)"/><use href="#f3" transform="matrix(-.21 -.77 .77 -.21 188 311)"/><use href="#f5" transform="matrix(.39 1.06 -1.06 .39 299 307)"/><use href="#f1" transform="matrix(1.1 .49 -.49 1.1 284 123)"/><use href="#f4" transform="matrix(-.65 -1.04 1.04 -.65 31 96)"/><use href="#f1" transform="matrix(-.82 .51 -.51 -.82 261 308)"/><use href="#f2" transform="matrix(.84 -.01 .01 .84 5 -0)"/><use href="#f9" transform="matrix(.76 1.01 -1.01 .76 358 264)"/><use href="#f4" transform="matrix(-.02 1.03 -1.03 -.02 196 270)"/><use href="#f9" transform="matrix(.9 .33 -.33 .9 271 43)"/><use href="#f2" transform="matrix(.23 .81 -.81 .23 39 175)"/><use href="#f3" transform="matrix(1.01 -.09 .09 1.01 169 24)"/><use href="#f8" transform="matrix(-1.14 -.31 .31 -1.14 120 152)"/><use href="#f9" transform="matrix(-.84 -.04 .04 -.84 238 47)"/><use href="#f4" transform="matrix(.24 -1.24 1.24 .24 311 41)"/><use href="#f0" transform="matrix(.94 -.81 .81 .94 90 283)"/><use href="#f9" transform="matrix(.6 .93 -.93 .6 251 167)"/><use href="#f2" transform="matrix(-.35 .96 -.96 -.35 89 259)"/><use href="#f8" transform="matrix(1.04 -.53 .53 1.04 361 139)"/><use href="#f8" transform="matrix(-.87 -.18 .18 -.87 11 293)"/><use href="#f4" transform="matrix(-.87 -.44 .44 -.87 255 206)"/><use href="#f7" transform="matrix(.97 .43 -.43 .97 253 264)"/><use href="#f4" transform="matrix(.38 .94 -.94 .38 271 314)"/><use href="#f6" transform="matrix(-.02 1.3 -1.3 -.02 130 18)"/><use href="#f3" transform="matrix(0 .92 -.92 0 293 73)"/><use href="#f8" transform="matrix(-.35 -1.08 1.08 -.35 285 190)"/><use href="#f2" transform="matrix(-.35 -.78 .78 -.35 279 115)"/><use href="#f3" transform="matrix(-.49 .92 -.92 -.49 366 60)"/><use href="#f9" transform="matrix(.32 -.8 .8 .32 280 188)"/><use href="#f2" transform="matrix(1.02 -.72 .72 1.02 116 155)"/><use href="#f7" transform="matrix(.59 -.65 .65 .59 63 85)"/><use href="#f5" transform="matrix(1.12 -.5 .5 1.12 8 30)"/><use href="#f5" transform="matrix(.34 -.81 .81 .34 298 81)"/><use href="#f4" transform="matrix(-.16 -1.13 1.13 -.16 234 115)"/><use href="#f5" transform="matrix(-.78 .51 -.51 -.78 140 242)"/><use href="#f1" transform="matrix(-.96 -.37 .37 -.96 232 224)"/><use href="#f9" transform="matrix(.75 -.49 .49 .75 111 135)"/><use href="#f3" transform="matrix(-.4 .9 -.9 -.4 173 38)"/><use href="#f3" transform="matrix(.88 -.62 .62 .88 236 131)"/><use href="#f4" transform="matrix(1.21 .19 -.19 1.21 34 324)"/><use href="#f3" transform="matrix(.42 .82 -.82 .42 30 59)"/><use href="#f3" transform="matrix(.02 1.15 -1.15 .02 329 5)"/><use href="#f2" transform="matrix(-.15 .87 -.87 -.15 43 289)"/><use href="#f6" transform="matrix(.62 -.66 .66 .62 278 244)"/><use href="#f1" transform="matrix(-.88 -.47 .47 -.88 76 289)"/><use href="#f1" transform="matrix(-.89 .08 -.08 -.89 363 360)"/><use href="#f9" transform="matrix(-.93 .62 -.62 -.93 252 -1)"/><use href="#f2" transform="matrix(-1.06 -.13 .13 -1.06 353 215)"/><use href="#f0" transform="matrix(-.82 -.53 .53 -.82 172 8)"/><use href="#f0" transform="matrix(1.06 -.19 .19 1.06 201 58)"/><use href="#f4" transform="matrix(-.82 .3 -.3 -.82 210 313)"/><use href="#f6" transform="matrix(-.93 .1 -.1 -.93 179 327)"/><use href="#f9" transform="matrix(-.73 -.75 .75 -.73 212 283)"/><use href="#f9" transform="matrix(-1.08 -.48 .48 -1.08 187 304)"/><use href="#f6" transform="matrix(.33 .87 -.87 .33 191 267)"/><use href="#f9" transform="matrix(-.95 -.6 .6 -.95 121 87)"/><use href="#f8" transform="matrix(.66 .82 -.82 .66 320 73)"/><use href="#f3" transform="matrix(1.11 .04 -.04 1.11 312 239)"/></g><g filter="url(#bl1)" fill="none" stroke="#d82010" stroke-width="1.05" opacity="0.80" stroke-dasharray="5 2" stroke-linecap="round" stroke-linejoin="round"><use href="#t1" transform="matrix(-.55 .76 -.76 -.55 52 67)"/><use href="#t2" transform="matrix(1.16 -.29 .29 1.16 116 47)"/><use href="#t8" transform="matrix(-.63 -.84 .84 -.63 137 46)"/><use href="#t5" transform="matrix(.36 -.93 .93 .36 149 3)"/><use href="#t0" transform="matrix(.82 -.79 .79 .82 53 171)"/><use href="#t5" transform="matrix(-.92 .02 -.02 -.92 239 1)"/><use href="#t3" transform="matrix(.97 -.51 .51 .97 213 33)"/><use href="#t16" transform="matrix(-.71 .81 -.81 -.71 225 37)"/><use href="#t16" transform="matrix(1.14 .33 -.33 1.14 224 59)"/><use href="#t4" transform="matrix(-1.11 -.2 .2 -1.11 332 57)"/><use href="#t5" transform="matrix(.12 1.01 -1.01 .12 190 130)"/><use href="#t12" transform="matrix(.68 -.53 .53 .68 303 148)"/><use href="#t2" transform="matrix(1.02 .41 -.41 1.02 372 155)"/><use href="#t3" transform="matrix(-.2 .94 -.94 -.2 89 190)"/><use href="#t2" transform="matrix(.35 1.14 -1.14 .35 161 235)"/><use href="#t16" transform="matrix(-.11 1.09 -1.09 -.11 141 359)"/><use href="#t18" transform="matrix(-.28 -.82 .82 -.28 25 277)"/><use href="#t13" transform="matrix(-.49 -.76 .76 -.49 59 308)"/><use href="#t14" transform="matrix(-.06 -1.08 1.08 -.06 149 295)"/><use href="#t15" transform="matrix(-.75 -.9 .9 -.75 279 282)"/><use href="#t13" transform="matrix(-.85 .13 -.13 -.85 314 202)"/><use href="#t12" transform="matrix(-.55 .84 -.84 -.55 336 222)"/><use href="#t14" transform="matrix(-.42 1.09 -1.09 -.42 360 249)"/><use href="#t17" transform="matrix(-.97 .45 -.45 -.97 342 271)"/><use href="#t7" transform="matrix(.76 -.6 .6 .76 366 236)"/><use href="#t9" transform="matrix(.25 -1 1 .25 202 340)"/><use href="#t10" transform="matrix(.46 -.82 .82 .46 258 211)"/><use href="#t0" transform="matrix(.82 -.38 .38 .82 296 180)"/><use href="#t12" transform="matrix(-.23 1.1 -1.1 -.23 244 357)"/><use href="#t1" transform="matrix(0 .96 -.96 0 354 350)"/></g><g filter="url(#bl1)" fill="none" stroke="#d82010" stroke-width="1.35" opacity="1.00" stroke-dasharray="5 2" stroke-linecap="round" stroke-linejoin="round"><use href="#t2" transform="matrix(-.27 -1.19 1.19 -.27 180 73)"/><use href="#t1" transform="matrix(.58 1.25 -1.25 .58 108 115)"/><use href="#t7" transform="matrix(-.29 1.17 -1.17 -.29 185 13)"/><use href="#t8" transform="matrix(-1.48 .29 -.29 -1.48 316 56)"/><use href="#t2" transform="matrix(-.72 -1.2 1.2 -.72 354 17)"/><use href="#t5" transform="matrix(-.19 -1.21 1.21 -.19 356 88)"/><use href="#t4" transform="matrix(1.01 -1.12 1.12 1.01 245 105)"/><use href="#t8" transform="matrix(1.15 -.31 .31 1.15 17 240)"/><use href="#t0" transform="matrix(-.45 -1.31 1.31 -.45 35 326)"/><use href="#t0" transform="matrix(1.09 .56 -.56 1.09 118 332)"/><use href="#t13" transform="matrix(1.08 1.04 -1.04 1.08 266 235)"/><use href="#t10" transform="matrix(-.97 -.94 .94 -.97 332 286)"/><use href="#t4" transform="matrix(-1.17 .06 -.06 -1.17 217 312)"/><use href="#t8" transform="matrix(1.32 -.46 .46 1.32 231 312)"/><use href="#t7" transform="matrix(-.14 -1.55 1.55 -.14 275 348)"/><use href="#t8" transform="matrix(-.48 1.02 -1.02 -.48 328 337)"/></g><g filter="url(#bl1)" fill="none" stroke="#2ed41a" stroke-width="0.85" opacity="0.46" stroke-dasharray="6 1.5" stroke-linecap="round" stroke-linejoin="round"><use href="#t12" transform="matrix(-.57 .36 -.36 -.57 78 146)"/><use href="#t13" transform="matrix(.67 .23 -.23 .67 54 47)"/><use href="#t7" transform="matrix(.68 -.57 .57 .68 294 113)"/><use href="#t12" transform="matrix(-.16 -.63 .63 -.16 180 246)"/><use href="#t4" transform="matrix(.7 -.36 .36 .7 80 254)"/><use href="#t2" transform="matrix(.77 -.37 .37 .77 17 120)"/><use href="#t8" transform="matrix(-.66 -.44 .44 -.66 137 200)"/><use href="#f4" transform="matrix(-.82 .27 -.27 -.82 315 65)"/><use href="#f7" transform="matrix(-1.16 -.1 .1 -1.16 264 101)"/><use href="#f6" transform="matrix(-.08 1.19 -1.19 -.08 306 125)"/><use href="#f6" transform="matrix(-.52 .9 -.9 -.52 26 17)"/><use href="#f5" transform="matrix(.16 -.9 .9 .16 259 280)"/><use href="#f1" transform="matrix(.36 .93 -.93 .36 170 281)"/><use href="#f7" transform="matrix(.81 -.31 .31 .81 167 324)"/><use href="#f8" transform="matrix(.66 .81 -.81 .66 87 258)"/><use href="#f1" transform="matrix(.41 -1.06 1.06 .41 344 167)"/><use href="#f5" transform="matrix(-.75 .7 -.7 -.75 2 28)"/><use href="#f1" transform="matrix(-.77 .27 -.27 -.77 149 144)"/><use href="#f4" transform="matrix(-1.12 .12 -.12 -1.12 92 230)"/><use href="#f9" transform="matrix(.45 .85 -.85 .45 265 25)"/><use href="#f1" transform="matrix(.98 -.85 .85 .98 291 53)"/><use href="#f3" transform="matrix(-.74 .58 -.58 -.74 76 29)"/><use href="#f9" transform="matrix(-.89 -.64 .64 -.89 224 113)"/><use href="#f2" transform="matrix(-1.14 -.31 .31 -1.14 76 131)"/><use href="#f2" transform="matrix(-.89 -.05 .05 -.89 163 133)"/><use href="#f5" transform="matrix(.22 1.22 -1.22 .22 265 129)"/><use href="#f8" transform="matrix(-1.05 -.28 .28 -1.05 236 248)"/><use href="#f0" transform="matrix(.73 -.78 .78 .73 359 344)"/><use href="#f2" transform="matrix(1.02 .2 -.2 1.02 217 362)"/><use href="#f2" transform="matrix(.81 -.4 .4 .81 320 233)"/><use href="#f5" transform="matrix(-.7 -.51 .51 -.7 176 39)"/><use href="#f4" transform="matrix(.73 .51 -.51 .73 329 33)"/><use href="#f8" transform="matrix(-.9 .02 -.02 -.9 339 83)"/><use href="#f4" transform="matrix(-.43 -.96 .96 -.43 149 62)"/><use href="#f1" transform="matrix(.52 -1.16 1.16 .52 105 269)"/><use href="#f4" transform="matrix(-1.16 .4 -.4 -1.16 242 80)"/><use href="#f0" transform="matrix(.23 .91 -.91 .23 170 95)"/><use href="#f0" transform="matrix(-.16 -1 1 -.16 205 268)"/><use href="#f0" transform="matrix(1.09 .09 -.09 1.09 121 162)"/><use href="#f1" transform="matrix(-.29 -.88 .88 -.29 4 245)"/><use href="#f1" transform="matrix(.28 -.99 .99 .28 32 75)"/><use href="#f2" transform="matrix(.68 -.98 .98 .68 142 206)"/><use href="#f4" transform="matrix(-1.17 0 -0 -1.17 90 79)"/><use href="#f6" transform="matrix(-.44 1.08 -1.08 -.44 196 247)"/><use href="#f5" transform="matrix(-1.17 -.45 .45 -1.17 329 7)"/><use href="#f2" transform="matrix(.83 .46 -.46 .83 241 281)"/><use href="#f6" transform="matrix(.98 .03 -.03 .98 195 104)"/><use href="#f0" transform="matrix(.45 -.71 .71 .45 33 257)"/><use href="#f5" transform="matrix(-.71 .71 -.71 -.71 253 54)"/><use href="#f8" transform="matrix(-.13 -1.04 1.04 -.13 245 328)"/><use href="#f3" transform="matrix(-.39 -.7 .7 -.39 186 313)"/><use href="#f5" transform="matrix(.12 1.12 -1.12 .12 301 302)"/><use href="#f1" transform="matrix(1.07 .55 -.55 1.07 288 121)"/><use href="#f4" transform="matrix(-.82 -.91 .91 -.82 36 99)"/><use href="#f1" transform="matrix(-.57 .78 -.78 -.57 261 313)"/><use href="#f2" transform="matrix(.84 -.03 .03 .84 7 5)"/><use href="#f9" transform="matrix(.43 1.19 -1.19 .43 355 265)"/><use href="#f4" transform="matrix(.18 1.01 -1.01 .18 194 268)"/><use href="#f9" transform="matrix(.95 -.03 .03 .95 274 42)"/><use href="#f2" transform="matrix(.51 .67 -.67 .51 35 171)"/><use href="#f3" transform="matrix(1.01 0 -0 1.01 173 22)"/><use href="#f8" transform="matrix(-1.18 .02 -.02 -1.18 119 153)"/><use href="#f9" transform="matrix(-.83 .13 -.13 -.83 238 51)"/><use href="#f4" transform="matrix(.26 -1.24 1.24 .26 313 40)"/><use href="#f0" transform="matrix(1.03 -.69 .69 1.03 91 286)"/><use href="#f9" transform="matrix(.88 .67 -.67 .88 250 171)"/><use href="#f2" transform="matrix(.02 1.02 -1.02 .02 90 257)"/><use href="#f8" transform="matrix(.84 -.81 .81 .84 359 136)"/><use href="#f8" transform="matrix(-.88 -.12 .12 -.88 15 291)"/><use href="#f4" transform="matrix(-.84 -.49 .49 -.84 259 208)"/><use href="#f7" transform="matrix(1.03 .24 -.24 1.03 257 261)"/><use href="#f4" transform="matrix(.26 .98 -.98 .26 267 318)"/><use href="#f6" transform="matrix(-.05 1.3 -1.3 -.05 129 14)"/><use href="#f3" transform="matrix(.18 .91 -.91 .18 295 73)"/><use href="#f8" transform="matrix(-.5 -1.02 1.02 -.5 285 187)"/><use href="#f2" transform="matrix(-.48 -.71 .71 -.48 280 115)"/><use href="#f3" transform="matrix(-.32 .99 -.99 -.32 361 59)"/><use href="#f9" transform="matrix(-.12 -.85 .85 -.12 280 190)"/><use href="#f2" transform="matrix(1.18 -.41 .41 1.18 112 156)"/><use href="#f7" transform="matrix(.8 -.36 .36 .8 67 81)"/><use href="#f5" transform="matrix(1.22 -.17 .17 1.22 7 30)"/><use href="#f5" transform="matrix(.36 -.8 .8 .36 300 79)"/><use href="#f4" transform="matrix(-.62 -.96 .96 -.62 231 119)"/><use href="#f5" transform="matrix(-.65 .67 -.67 -.65 138 241)"/><use href="#f1" transform="matrix(-1.01 -.23 .23 -1.01 236 225)"/><use href="#f9" transform="matrix(.87 -.22 .22 .87 108 137)"/><use href="#f3" transform="matrix(-.65 .74 -.74 -.65 169 37)"/><use href="#f3" transform="matrix(1.07 -.13 .13 1.07 236 127)"/><use href="#f4" transform="matrix(1.09 .58 -.58 1.09 31 324)"/><use href="#f3" transform="matrix(.54 .74 -.74 .54 26 63)"/><use href="#f3" transform="matrix(.22 1.13 -1.13 .22 327 10)"/><use href="#f2" transform="matrix(-.27 .84 -.84 -.27 42 287)"/><use href="#f6" transform="matrix(.55 -.73 .73 .55 279 240)"/><use href="#f1" transform="matrix(-.96 -.28 .28 -.96 80 293)"/><use href="#f1" transform="matrix(-.84 .29 -.29 -.84 364 360)"/><use href="#f9" transform="matrix(-1.11 .12 -.12 -1.11 247 3)"/><use href="#f2" transform="matrix(-.94 -.5 .5 -.94 352 219)"/><use href="#f0" transform="matrix(-.84 -.5 .5 -.84 174 9)"/><use href="#f0" transform="matrix(1.03 .3 -.3 1.03 197 62)"/><use href="#f4" transform="matrix(-.83 .24 -.24 -.83 213 312)"/><use href="#f6" transform="matrix(-.86 -.38 .38 -.86 184 324)"/><use href="#f9" transform="matrix(-.66 -.81 .81 -.66 217 286)"/><use href="#f9" transform="matrix(-1.18 -.06 .06 -1.18 183 300)"/><use href="#f6" transform="matrix(-.05 .93 -.93 -.05 196 266)"/><use href="#f9" transform="matrix(-1.05 -.4 .4 -1.05 121 83)"/><use href="#f8" transform="matrix(.88 .57 -.57 .88 322 74)"/><use href="#f3" transform="matrix(1.1 .1 -.1 1.1 313 234)"/></g><g filter="url(#bl1)" fill="none" stroke="#2ed41a" stroke-width="1.05" opacity="0.74" stroke-dasharray="6 1.5" stroke-linecap="round" stroke-linejoin="round"><use href="#t1" transform="matrix(-.15 .92 -.92 -.15 47 62)"/><use href="#t2" transform="matrix(.9 -.79 .79 .9 115 48)"/><use href="#t8" transform="matrix(-.97 -.41 .41 -.97 137 42)"/><use href="#t5" transform="matrix(.47 -.88 .88 .47 152 4)"/><use href="#t0" transform="matrix(1.1 -.29 .29 1.1 52 170)"/><use href="#t5" transform="matrix(-.8 .46 -.46 -.8 241 4)"/><use href="#t3" transform="matrix(1.1 -.02 .02 1.1 212 28)"/><use href="#t16" transform="matrix(-.66 .85 -.85 -.66 224 33)"/><use href="#t16" transform="matrix(1.17 .21 -.21 1.17 220 62)"/><use href="#t4" transform="matrix(-1.13 0 -0 -1.13 328 52)"/><use href="#t5" transform="matrix(-.05 1.02 -1.02 -.05 193 129)"/><use href="#t12" transform="matrix(.35 -.79 .79 .35 306 150)"/><use href="#t2" transform="matrix(1.1 .02 -.02 1.1 367 159)"/><use href="#t3" transform="matrix(.07 .96 -.96 .07 88 187)"/><use href="#t2" transform="matrix(-.17 1.18 -1.18 -.17 165 238)"/><use href="#t16" transform="matrix(-.06 1.09 -1.09 -.06 139 360)"/><use href="#t18" transform="matrix(-.33 -.81 .81 -.33 27 280)"/><use href="#t13" transform="matrix(-.09 -.9 .9 -.09 57 305)"/><use href="#t14" transform="matrix(-.26 -1.05 1.05 -.26 147 290)"/><use href="#t15" transform="matrix(-.6 -1 1 -.6 282 280)"/><use href="#t13" transform="matrix(-.75 .42 -.42 -.75 313 202)"/><use href="#t12" transform="matrix(-.23 .98 -.98 -.23 331 221)"/><use href="#t14" transform="matrix(.18 1.15 -1.15 .18 364 249)"/><use href="#t17" transform="matrix(-.7 .81 -.81 -.7 344 271)"/><use href="#t7" transform="matrix(.92 -.28 .28 .92 362 233)"/><use href="#t9" transform="matrix(.21 -1.01 1.01 .21 200 345)"/><use href="#t10" transform="matrix(.03 -.94 .94 .03 257 210)"/><use href="#t0" transform="matrix(.8 -.42 .42 .8 297 180)"/><use href="#t12" transform="matrix(-.18 1.11 -1.11 -.18 247 360)"/><use href="#t1" transform="matrix(.12 .95 -.95 .12 352 350)"/></g><g filter="url(#bl1)" fill="none" stroke="#2ed41a" stroke-width="1.35" opacity="0.92" stroke-dasharray="6 1.5" stroke-linecap="round" stroke-linejoin="round"><use href="#t2" transform="matrix(.17 -1.21 1.21 .17 179 78)"/><use href="#t1" transform="matrix(.65 1.21 -1.21 .65 105 110)"/><use href="#t7" transform="matrix(.29 1.17 -1.17 .29 190 8)"/><use href="#t8" transform="matrix(-1.15 .97 -.97 -1.15 314 60)"/><use href="#t2" transform="matrix(-.43 -1.33 1.33 -.43 352 16)"/><use href="#t5" transform="matrix(.28 -1.2 1.2 .28 359 92)"/><use href="#t4" transform="matrix(1.41 -.51 .51 1.41 243 105)"/><use href="#t8" transform="matrix(1.17 -.23 .23 1.17 18 235)"/><use href="#t0" transform="matrix(-.17 -1.38 1.38 -.17 37 329)"/><use href="#t0" transform="matrix(1.19 .3 -.3 1.19 119 329)"/><use href="#t13" transform="matrix(1.42 .49 -.49 1.42 269 238)"/><use href="#t10" transform="matrix(-.51 -1.25 1.25 -.51 337 290)"/><use href="#t4" transform="matrix(-1.17 .12 -.12 -1.17 214 311)"/><use href="#t8" transform="matrix(1.25 -.63 .63 1.25 231 315)"/><use href="#t7" transform="matrix(-.85 -1.3 1.3 -.85 278 345)"/><use href="#t8" transform="matrix(-.74 .85 -.85 -.74 325 336)"/></g><g fill="none" stroke="#30d41a" stroke-width="0.85" opacity="0.85" stroke-linecap="round"><use href="#t14" transform="matrix(-.12 1.43 -1.43 -.12 257 39)"/><use href="#t0" transform="matrix(.65 -.81 .81 .65 232 57)"/><use href="#t17" transform="matrix(-1.05 -.26 .26 -1.05 286 78)"/><use href="#t14" transform="matrix(.08 1.12 -1.12 .08 288 53)"/><use href="#t3" transform="matrix(.55 -.87 .87 .55 214 93)"/><use href="#t12" transform="matrix(-.95 .57 -.57 -.95 273 95)"/><use href="#t7" transform="matrix(1 .96 -.96 1 267 53)"/><use href="#t6" transform="matrix(1.02 .41 -.41 1.02 238 46)"/><use href="#t0" transform="matrix(-1.39 -.32 .32 -1.39 281 20)"/><use href="#t4" transform="matrix(.81 1.24 -1.24 .81 204 53)"/><use href="#t0" transform="matrix(-.26 1.14 -1.14 -.26 213 67)"/><use href="#t2" transform="matrix(-.25 -1.01 1.01 -.25 214 98)"/><use href="#t15" transform="matrix(.98 .69 -.69 .98 250 33)"/><use href="#t2" transform="matrix(.89 -1.03 1.03 .89 265 28)"/></g><g><ellipse cx="242" cy="65" rx="7" ry="7" fill="#40e020" filter="url(#bl2)"/></g><g fill="none" stroke="#d82010" stroke-width="1.0" opacity="0.8" stroke-dasharray="5 2" stroke-linecap="round"><use href="#f3" transform="matrix(-.16 1.14 -1.14 -.16 136 138)"/><use href="#f1" transform="matrix(-.17 -.89 .89 -.17 50 298)"/><use href="#f0" transform="matrix(-.32 -1.04 1.04 -.32 169 166)"/><use href="#f6" transform="matrix(1.13 .2 -.2 1.13 33 86)"/><use href="#f8" transform="matrix(-1.13 -.28 .28 -1.13 150 331)"/><use href="#f4" transform="matrix(-1.06 -.32 .32 -1.06 36 299)"/><use href="#f6" transform="matrix(-.57 .99 -.99 -.57 40 21)"/><use href="#f7" transform="matrix(-.3 1.05 -1.05 -.3 332 190)"/><use href="#f2" transform="matrix(.99 .34 -.34 .99 223 198)"/><use href="#f3" transform="matrix(-.7 -.93 .93 -.7 54 316)"/><use href="#f7" transform="matrix(-.68 -.53 .53 -.68 105 131)"/><use href="#f9" transform="matrix(.98 -.02 .02 .98 36 253)"/><use href="#f7" transform="matrix(.24 .95 -.95 .24 185 73)"/><use href="#f4" transform="matrix(-.24 -1.23 1.23 -.24 187 26)"/><use href="#f8" transform="matrix(.94 .1 -.1 .94 81 90)"/><use href="#f3" transform="matrix(-.93 -.2 .2 -.93 98 155)"/><use href="#f6" transform="matrix(.11 1.26 -1.26 .11 64 145)"/><use href="#f0" transform="matrix(-.76 .39 -.39 -.76 74 281)"/><use href="#f6" transform="matrix(-.92 -.85 .85 -.92 125 62)"/><use href="#f2" transform="matrix(-.7 -.46 .46 -.7 151 164)"/><use href="#f1" transform="matrix(.83 .77 -.77 .83 106 35)"/><use href="#f8" transform="matrix(-.22 -1.02 1.02 -.22 194 56)"/><use href="#f2" transform="matrix(1.24 .17 -.17 1.24 360 23)"/><use href="#f5" transform="matrix(-.87 .44 -.44 -.87 142 211)"/><use href="#f5" transform="matrix(-.24 .79 -.79 -.24 1 307)"/><use href="#f9" transform="matrix(.39 -.8 .8 .39 12 354)"/><use href="#f5" transform="matrix(.67 .6 -.6 .67 356 162)"/><use href="#f3" transform="matrix(.19 .97 -.97 .19 182 174)"/><use href="#f1" transform="matrix(.51 1.04 -1.04 .51 213 166)"/><use href="#f8" transform="matrix(-.52 -.95 .95 -.52 266 263)"/><use href="#f5" transform="matrix(.93 .43 -.43 .93 167 19)"/><use href="#f1" transform="matrix(.67 -.88 .88 .67 78 2)"/><use href="#f0" transform="matrix(-0 -.85 .85 -0 240 304)"/><use href="#f9" transform="matrix(-.22 1.03 -1.03 -.22 184 259)"/><use href="#f5" transform="matrix(.79 -.44 .44 .79 193 273)"/><use href="#f4" transform="matrix(-1.21 .35 -.35 -1.21 225 334)"/><use href="#f6" transform="matrix(.18 -.99 .99 .18 82 109)"/><use href="#f5" transform="matrix(-1.02 .29 -.29 -1.02 296 272)"/><use href="#f5" transform="matrix(.51 .74 -.74 .51 287 109)"/><use href="#f5" transform="matrix(-.84 .32 -.32 -.84 139 215)"/></g><g filter="url(#bl2)"><ellipse cx="47" cy="62" rx="3.6" ry="3.2" fill="#d8d828" transform="rotate(22 47 62)"/><ellipse cx="115" cy="48" rx="3.5" ry="2.9" fill="#d8d828" transform="rotate(6 115 48)"/><ellipse cx="137" cy="42" rx="3.1" ry="2.7" fill="#d8d828" transform="rotate(60 137 42)"/><ellipse cx="152" cy="4" rx="4.0" ry="3.0" fill="#d8d828" transform="rotate(9 152 4)"/><ellipse cx="179" cy="78" rx="5.1" ry="3.6" fill="#f4f040" transform="rotate(82 179 78)"/><ellipse cx="105" cy="110" rx="5.1" ry="4.1" fill="#40c020" transform="rotate(112 105 110)"/><ellipse cx="78" cy="146" rx="2.3" ry="1.8" fill="#e8a020" transform="rotate(117 78 146)"/><ellipse cx="52" cy="170" rx="3.1" ry="2.7" fill="#d8d828" transform="rotate(138 52 170)"/><ellipse cx="54" cy="47" rx="2.6" ry="2.4" fill="#e8a020" transform="rotate(135 54 47)"/><ellipse cx="190" cy="8" rx="5.8" ry="4.9" fill="#f4f040" transform="rotate(54 190 8)"/><ellipse cx="241" cy="4" rx="3.7" ry="2.6" fill="#d8d828" transform="rotate(118 241 4)"/><ellipse cx="212" cy="28" rx="3.5" ry="2.6" fill="#d8d828" transform="rotate(52 212 28)"/><ellipse cx="224" cy="33" rx="3.7" ry="3.2" fill="#d84010" transform="rotate(112 224 33)"/><ellipse cx="220" cy="62" rx="3.3" ry="2.3" fill="#d8d828" transform="rotate(64 220 62)"/><ellipse cx="314" cy="60" rx="5.8" ry="4.3" fill="#40c020" transform="rotate(165 314 60)"/><ellipse cx="328" cy="52" rx="3.1" ry="2.8" fill="#d84010" transform="rotate(36 328 52)"/><ellipse cx="352" cy="16" rx="4.9" ry="3.3" fill="#40c020" transform="rotate(8 352 16)"/><ellipse cx="359" cy="92" rx="4.9" ry="3.6" fill="#f4f040" transform="rotate(43 359 92)"/><ellipse cx="243" cy="105" rx="4.9" ry="3.9" fill="#f4f040" transform="rotate(7 243 105)"/><ellipse cx="193" cy="129" rx="4.2" ry="2.7" fill="#e8a020" transform="rotate(41 193 129)"/><ellipse cx="306" cy="150" rx="3.8" ry="2.6" fill="#d8d828" transform="rotate(79 306 150)"/><ellipse cx="294" cy="113" rx="2.7" ry="2.1" fill="#e8a020" transform="rotate(89 294 113)"/><ellipse cx="367" cy="159" rx="3.9" ry="2.8" fill="#d84010" transform="rotate(6 367 159)"/><ellipse cx="88" cy="187" rx="4.1" ry="3.0" fill="#d8d828" transform="rotate(33 88 187)"/><ellipse cx="18" cy="235" rx="5.4" ry="4.9" fill="#e8a020" transform="rotate(14 18 235)"/><ellipse cx="37" cy="329" rx="5.2" ry="3.8" fill="#e8a020" transform="rotate(149 37 329)"/><ellipse cx="119" cy="329" rx="5.0" ry="3.4" fill="#f4f040" transform="rotate(118 119 329)"/><ellipse cx="165" cy="238" rx="3.1" ry="2.1" fill="#40c020" transform="rotate(27 165 238)"/><ellipse cx="139" cy="360" rx="3.5" ry="2.6" fill="#d84010" transform="rotate(168 139 360)"/><ellipse cx="180" cy="246" rx="2.9" ry="2.1" fill="#40c020" transform="rotate(128 180 246)"/><ellipse cx="80" cy="254" rx="2.6" ry="2.3" fill="#9a9a18" transform="rotate(17 80 254)"/><ellipse cx="27" cy="280" rx="3.2" ry="2.7" fill="#40c020" transform="rotate(8 27 280)"/><ellipse cx="57" cy="305" rx="3.6" ry="2.6" fill="#40c020" transform="rotate(89 57 305)"/><ellipse cx="147" cy="290" rx="3.4" ry="3.1" fill="#40c020" transform="rotate(74 147 290)"/><ellipse cx="269" cy="238" rx="4.8" ry="3.6" fill="#40c020" transform="rotate(90 269 238)"/><ellipse cx="282" cy="280" rx="3.3" ry="2.3" fill="#40c020" transform="rotate(179 282 280)"/><ellipse cx="313" cy="202" rx="4.1" ry="3.7" fill="#e8a020" transform="rotate(32 313 202)"/><ellipse cx="331" cy="221" rx="3.3" ry="2.9" fill="#40c020" transform="rotate(62 331 221)"/><ellipse cx="364" cy="249" rx="3.1" ry="2.1" fill="#e8a020" transform="rotate(10 364 249)"/><ellipse cx="337" cy="290" rx="5.8" ry="4.8" fill="#e8a020" transform="rotate(137 337 290)"/><ellipse cx="344" cy="271" rx="3.8" ry="3.4" fill="#d84010" transform="rotate(112 344 271)"/><ellipse cx="214" cy="311" rx="4.8" ry="3.7" fill="#f4f040" transform="rotate(31 214 311)"/><ellipse cx="231" cy="315" rx="5.5" ry="5.1" fill="#e8a020" transform="rotate(149 231 315)"/><ellipse cx="278" cy="345" rx="5.2" ry="4.1" fill="#f4f040" transform="rotate(169 278 345)"/><ellipse cx="325" cy="336" rx="4.6" ry="3.3" fill="#f4f040" transform="rotate(0 325 336)"/><ellipse cx="362" cy="233" rx="4.2" ry="2.8" fill="#d8d828" transform="rotate(7 362 233)"/><ellipse cx="200" cy="345" rx="3.8" ry="3.5" fill="#d8d828" transform="rotate(57 200 345)"/><ellipse cx="257" cy="210" rx="3.4" ry="2.6" fill="#40c020" transform="rotate(27 257 210)"/><ellipse cx="297" cy="180" rx="3.2" ry="2.2" fill="#d8d828" transform="rotate(40 297 180)"/><ellipse cx="17" cy="120" rx="3.0" ry="2.1" fill="#9a9a18" transform="rotate(25 17 120)"/><ellipse cx="137" cy="200" rx="2.9" ry="2.3" fill="#40c020" transform="rotate(92 137 200)"/><ellipse cx="247" cy="360" rx="3.3" ry="2.6" fill="#d8d828" transform="rotate(34 247 360)"/><ellipse cx="352" cy="350" rx="3.9" ry="3.0" fill="#40c020" transform="rotate(94 352 350)"/></g></g></g><g clip-path="url(#ci_m4_930)"><rect x="872" y="930" width="120" height="120.5" fill="#0a0902"/><g filter="url(#blI)"><g transform="translate(872 930) scale(2.516) translate(-89.0 -95.4)"><g><rect x="-60" y="-60" width="487" height="487" fill="#0a0902"/></g><g><ellipse cx="105" cy="110" rx="34" ry="27" fill="url(#glow)" opacity="0.75"/><ellipse cx="78" cy="146" rx="18" ry="14" fill="url(#glow)" opacity="0.35"/></g><g><ellipse cx="130" cy="185" rx="85" ry="16" fill="url(#plq)" opacity="0.28" transform="rotate(-8 130 185)"/></g><g filter="url(#bl1)" fill="none" stroke="#d82010" stroke-width="0.85" opacity="0.50" stroke-dasharray="5 2" stroke-linecap="round" stroke-linejoin="round"><use href="#t12" transform="matrix(-.65 .17 -.17 -.65 74 146)"/><use href="#f1" transform="matrix(-.68 .44 -.44 -.68 152 142)"/><use href="#f2" transform="matrix(-1.17 .14 -.14 -1.17 76 127)"/><use href="#f2" transform="matrix(-.87 .22 -.22 -.87 160 130)"/><use href="#f4" transform="matrix(-.29 -1.01 1.01 -.29 144 58)"/><use href="#f0" transform="matrix(.35 .87 -.87 .35 175 97)"/><use href="#f0" transform="matrix(1.03 -.35 .35 1.03 117 166)"/><use href="#f4" transform="matrix(-1.1 -.4 .4 -1.1 91 78)"/><use href="#f8" transform="matrix(-1.14 -.31 .31 -1.14 120 152)"/><use href="#f2" transform="matrix(1.02 -.72 .72 1.02 116 155)"/><use href="#f7" transform="matrix(.59 -.65 .65 .59 63 85)"/><use href="#f9" transform="matrix(.75 -.49 .49 .75 111 135)"/><use href="#f9" transform="matrix(-.95 -.6 .6 -.95 121 87)"/></g><g filter="url(#bl1)" fill="none" stroke="#d82010" stroke-width="1.05" opacity="0.80" stroke-dasharray="5 2" stroke-linecap="round" stroke-linejoin="round"><use href="#t1" transform="matrix(-.55 .76 -.76 -.55 52 67)"/><use href="#t2" transform="matrix(1.16 -.29 .29 1.16 116 47)"/><use href="#t0" transform="matrix(.82 -.79 .79 .82 53 171)"/></g><g filter="url(#bl1)" fill="none" stroke="#d82010" stroke-width="1.35" opacity="1.00" stroke-dasharray="5 2" stroke-linecap="round" stroke-linejoin="round"><use href="#t2" transform="matrix(-.27 -1.19 1.19 -.27 180 73)"/><use href="#t1" transform="matrix(.58 1.25 -1.25 .58 108 115)"/></g><g filter="url(#bl1)" fill="none" stroke="#2ed41a" stroke-width="0.85" opacity="0.46" stroke-dasharray="6 1.5" stroke-linecap="round" stroke-linejoin="round"><use href="#t12" transform="matrix(-.57 .36 -.36 -.57 78 146)"/><use href="#f1" transform="matrix(-.77 .27 -.27 -.77 149 144)"/><use href="#f2" transform="matrix(-1.14 -.31 .31 -1.14 76 131)"/><use href="#f2" transform="matrix(-.89 -.05 .05 -.89 163 133)"/><use href="#f4" transform="matrix(-.43 -.96 .96 -.43 149 62)"/><use href="#f0" transform="matrix(.23 .91 -.91 .23 170 95)"/><use href="#f0" transform="matrix(1.09 .09 -.09 1.09 121 162)"/><use href="#f4" transform="matrix(-1.17 0 -0 -1.17 90 79)"/><use href="#f8" transform="matrix(-1.18 .02 -.02 -1.18 119 153)"/><use href="#f2" transform="matrix(1.18 -.41 .41 1.18 112 156)"/><use href="#f7" transform="matrix(.8 -.36 .36 .8 67 81)"/><use href="#f9" transform="matrix(.87 -.22 .22 .87 108 137)"/><use href="#f9" transform="matrix(-1.05 -.4 .4 -1.05 121 83)"/></g><g filter="url(#bl1)" fill="none" stroke="#2ed41a" stroke-width="1.05" opacity="0.74" stroke-dasharray="6 1.5" stroke-linecap="round" stroke-linejoin="round"><use href="#t2" transform="matrix(.9 -.79 .79 .9 115 48)"/><use href="#t0" transform="matrix(1.1 -.29 .29 1.1 52 170)"/></g><g filter="url(#bl1)" fill="none" stroke="#2ed41a" stroke-width="1.35" opacity="0.92" stroke-dasharray="6 1.5" stroke-linecap="round" stroke-linejoin="round"><use href="#t2" transform="matrix(.17 -1.21 1.21 .17 179 78)"/><use href="#t1" transform="matrix(.65 1.21 -1.21 .65 105 110)"/></g><g fill="none" stroke="#d82010" stroke-width="1.0" opacity="0.8" stroke-dasharray="5 2" stroke-linecap="round"><use href="#f3" transform="matrix(-.16 1.14 -1.14 -.16 136 138)"/><use href="#f7" transform="matrix(-.68 -.53 .53 -.68 105 131)"/><use href="#f8" transform="matrix(.94 .1 -.1 .94 81 90)"/><use href="#f3" transform="matrix(-.93 -.2 .2 -.93 98 155)"/><use href="#f2" transform="matrix(-.7 -.46 .46 -.7 151 164)"/><use href="#f6" transform="matrix(.18 -.99 .99 .18 82 109)"/></g><g filter="url(#bl2)"><ellipse cx="105" cy="110" rx="5.1" ry="4.1" fill="#40c020" transform="rotate(112 105 110)"/></g></g></g></g><g clip-path="url(#ci_m4_1054)"><rect x="872" y="1054" width="120" height="119.0" fill="#0a0902"/><g filter="url(#blI)"><g transform="translate(872 1054) scale(2.537) translate(-273.7 -128.4)"><g><rect x="-60" y="-60" width="487" height="487" fill="#0a0902"/></g><g><ellipse cx="359" cy="92" rx="34" ry="27" fill="url(#glow)" opacity="0.75"/><ellipse cx="243" cy="105" rx="34" ry="27" fill="url(#glow)" opacity="0.75"/><ellipse cx="306" cy="150" rx="26" ry="21" fill="url(#glow)" opacity="0.55"/><ellipse cx="294" cy="113" rx="18" ry="14" fill="url(#glow)" opacity="0.35"/><ellipse cx="313" cy="202" rx="26" ry="21" fill="url(#glow)" opacity="0.55"/><ellipse cx="297" cy="180" rx="26" ry="21" fill="url(#glow)" opacity="0.55"/></g><g><ellipse cx="225" cy="181" rx="48" ry="21" fill="url(#gfade)" opacity="0.95" filter="url(#plF)" transform="rotate(32 225 181)"/></g><g><ellipse cx="240" cy="200" rx="78" ry="66" fill="url(#gfade)" opacity="0.9" filter="url(#spR)"/><ellipse cx="240" cy="200" rx="78" ry="66" fill="url(#gfade)" opacity="0.9" filter="url(#spG)"/></g><g filter="url(#bl1)" fill="none" stroke="#d82010" stroke-width="0.85" opacity="0.50" stroke-dasharray="5 2" stroke-linecap="round" stroke-linejoin="round"><use href="#t7" transform="matrix(.69 -.56 .56 .69 296 117)"/><use href="#f7" transform="matrix(-1.16 -.06 .06 -1.16 262 103)"/><use href="#f6" transform="matrix(.31 1.15 -1.15 .31 305 127)"/><use href="#f1" transform="matrix(.08 -1.13 1.13 .08 346 164)"/><use href="#f9" transform="matrix(-.85 -.69 .69 -.85 229 113)"/><use href="#f5" transform="matrix(-.15 1.23 -1.23 -.15 260 126)"/><use href="#f4" transform="matrix(-1.22 .11 -.11 -1.22 245 82)"/><use href="#f1" transform="matrix(1.1 .49 -.49 1.1 284 123)"/><use href="#f9" transform="matrix(.6 .93 -.93 .6 251 167)"/><use href="#f8" transform="matrix(1.04 -.53 .53 1.04 361 139)"/><use href="#f4" transform="matrix(-.87 -.44 .44 -.87 255 206)"/><use href="#f8" transform="matrix(-.35 -1.08 1.08 -.35 285 190)"/><use href="#f2" transform="matrix(-.35 -.78 .78 -.35 279 115)"/><use href="#f9" transform="matrix(.32 -.8 .8 .32 280 188)"/><use href="#f4" transform="matrix(-.16 -1.13 1.13 -.16 234 115)"/><use href="#f3" transform="matrix(.88 -.62 .62 .88 236 131)"/><use href="#f2" transform="matrix(-1.06 -.13 .13 -1.06 353 215)"/></g><g filter="url(#bl1)" fill="none" stroke="#d82010" stroke-width="1.05" opacity="0.80" stroke-dasharray="5 2" stroke-linecap="round" stroke-linejoin="round"><use href="#t12" transform="matrix(.68 -.53 .53 .68 303 148)"/><use href="#t13" transform="matrix(-.85 .13 -.13 -.85 314 202)"/><use href="#t10" transform="matrix(.46 -.82 .82 .46 258 211)"/><use href="#t0" transform="matrix(.82 -.38 .38 .82 296 180)"/></g><g filter="url(#bl1)" fill="none" stroke="#d82010" stroke-width="1.35" opacity="1.00" stroke-dasharray="5 2" stroke-linecap="round" stroke-linejoin="round"><use href="#t5" transform="matrix(-.19 -1.21 1.21 -.19 356 88)"/><use href="#t4" transform="matrix(1.01 -1.12 1.12 1.01 245 105)"/><use href="#t13" transform="matrix(1.08 1.04 -1.04 1.08 266 235)"/></g><g filter="url(#bl1)" fill="none" stroke="#2ed41a" stroke-width="0.85" opacity="0.46" stroke-dasharray="6 1.5" stroke-linecap="round" stroke-linejoin="round"><use href="#t7" transform="matrix(.68 -.57 .57 .68 294 113)"/><use href="#f7" transform="matrix(-1.16 -.1 .1 -1.16 264 101)"/><use href="#f6" transform="matrix(-.08 1.19 -1.19 -.08 306 125)"/><use href="#f1" transform="matrix(.41 -1.06 1.06 .41 344 167)"/><use href="#f5" transform="matrix(.22 1.22 -1.22 .22 265 129)"/><use href="#f4" transform="matrix(-1.16 .4 -.4 -1.16 242 80)"/><use href="#f1" transform="matrix(1.07 .55 -.55 1.07 288 121)"/><use href="#f9" transform="matrix(.88 .67 -.67 .88 250 171)"/><use href="#f8" transform="matrix(.84 -.81 .81 .84 359 136)"/><use href="#f4" transform="matrix(-.84 -.49 .49 -.84 259 208)"/><use href="#f8" transform="matrix(-.5 -1.02 1.02 -.5 285 187)"/><use href="#f2" transform="matrix(-.48 -.71 .71 -.48 280 115)"/><use href="#f9" transform="matrix(-.12 -.85 .85 -.12 280 190)"/><use href="#f4" transform="matrix(-.62 -.96 .96 -.62 231 119)"/><use href="#f3" transform="matrix(1.07 -.13 .13 1.07 236 127)"/><use href="#f2" transform="matrix(-.94 -.5 .5 -.94 352 219)"/></g><g filter="url(#bl1)" fill="none" stroke="#2ed41a" stroke-width="1.05" opacity="0.74" stroke-dasharray="6 1.5" stroke-linecap="round" stroke-linejoin="round"><use href="#t12" transform="matrix(.35 -.79 .79 .35 306 150)"/><use href="#t2" transform="matrix(1.1 .02 -.02 1.1 367 159)"/><use href="#t13" transform="matrix(-.75 .42 -.42 -.75 313 202)"/><use href="#t10" transform="matrix(.03 -.94 .94 .03 257 210)"/><use href="#t0" transform="matrix(.8 -.42 .42 .8 297 180)"/></g><g filter="url(#bl1)" fill="none" stroke="#2ed41a" stroke-width="1.35" opacity="0.92" stroke-dasharray="6 1.5" stroke-linecap="round" stroke-linejoin="round"><use href="#t5" transform="matrix(.28 -1.2 1.2 .28 359 92)"/><use href="#t4" transform="matrix(1.41 -.51 .51 1.41 243 105)"/><use href="#t13" transform="matrix(1.42 .49 -.49 1.42 269 238)"/></g><g fill="none" stroke="#30d41a" stroke-width="0.85" opacity="0.85" stroke-linecap="round"><use href="#t17" transform="matrix(-1.05 -.26 .26 -1.05 286 78)"/><use href="#t12" transform="matrix(-.95 .57 -.57 -.95 273 95)"/></g><g fill="none" stroke="#d82010" stroke-width="1.0" opacity="0.8" stroke-dasharray="5 2" stroke-linecap="round"><use href="#f7" transform="matrix(-.3 1.05 -1.05 -.3 332 190)"/><use href="#f5" transform="matrix(.51 .74 -.74 .51 287 109)"/></g><g filter="url(#bl2)"><ellipse cx="306" cy="150" rx="3.8" ry="2.6" fill="#d8d828" transform="rotate(79 306 150)"/><ellipse cx="297" cy="180" rx="3.2" ry="2.2" fill="#d8d828" transform="rotate(40 297 180)"/></g></g></g></g><g clip-path="url(#ci_m4_1177)"><rect x="872" y="1177" width="120" height="120.0" fill="#0a0902"/><g filter="url(#blI)"><g transform="translate(872 1177) scale(2.521) translate(-254.7 -241.0)"><g><rect x="-60" y="-60" width="487" height="487" fill="#0a0902"/></g><g><ellipse cx="269" cy="238" rx="34" ry="27" fill="url(#glow)" opacity="0.75"/><ellipse cx="282" cy="280" rx="26" ry="21" fill="url(#glow)" opacity="0.55"/><ellipse cx="331" cy="221" rx="26" ry="21" fill="url(#glow)" opacity="0.55"/><ellipse cx="337" cy="290" rx="34" ry="27" fill="url(#glow)" opacity="0.75"/><ellipse cx="231" cy="315" rx="34" ry="27" fill="url(#glow)" opacity="0.75"/></g><g><ellipse cx="150" cy="262" rx="110" ry="60" fill="url(#plq)" opacity="0.14" transform="rotate(0 150 262)"/></g><g><ellipse cx="240" cy="200" rx="78" ry="66" fill="url(#gfade)" opacity="0.9" filter="url(#spR)"/><ellipse cx="240" cy="200" rx="78" ry="66" fill="url(#gfade)" opacity="0.9" filter="url(#spG)"/></g><g filter="url(#bl1)" fill="none" stroke="#d82010" stroke-width="0.85" opacity="0.50" stroke-dasharray="5 2" stroke-linecap="round" stroke-linejoin="round"><use href="#f5" transform="matrix(.14 -.9 .9 .14 261 284)"/><use href="#f8" transform="matrix(-1.07 -.21 .21 -1.07 239 245)"/><use href="#f2" transform="matrix(.77 -.48 .48 .77 315 233)"/><use href="#f2" transform="matrix(.9 .31 -.31 .9 239 285)"/><use href="#f8" transform="matrix(-.55 -.89 .89 -.55 244 327)"/><use href="#f5" transform="matrix(.39 1.06 -1.06 .39 299 307)"/><use href="#f1" transform="matrix(-.82 .51 -.51 -.82 261 308)"/><use href="#f4" transform="matrix(-.87 -.44 .44 -.87 255 206)"/><use href="#f7" transform="matrix(.97 .43 -.43 .97 253 264)"/><use href="#f4" transform="matrix(.38 .94 -.94 .38 271 314)"/><use href="#f1" transform="matrix(-.96 -.37 .37 -.96 232 224)"/><use href="#f6" transform="matrix(.62 -.66 .66 .62 278 244)"/><use href="#f9" transform="matrix(-.73 -.75 .75 -.73 212 283)"/><use href="#f3" transform="matrix(1.11 .04 -.04 1.11 312 239)"/></g><g filter="url(#bl1)" fill="none" stroke="#d82010" stroke-width="1.05" opacity="0.80" stroke-dasharray="5 2" stroke-linecap="round" stroke-linejoin="round"><use href="#t15" transform="matrix(-.75 -.9 .9 -.75 279 282)"/><use href="#t12" transform="matrix(-.55 .84 -.84 -.55 336 222)"/><use href="#t17" transform="matrix(-.97 .45 -.45 -.97 342 271)"/><use href="#t10" transform="matrix(.46 -.82 .82 .46 258 211)"/></g><g filter="url(#bl1)" fill="none" stroke="#d82010" stroke-width="1.35" opacity="1.00" stroke-dasharray="5 2" stroke-linecap="round" stroke-linejoin="round"><use href="#t13" transform="matrix(1.08 1.04 -1.04 1.08 266 235)"/><use href="#t10" transform="matrix(-.97 -.94 .94 -.97 332 286)"/><use href="#t4" transform="matrix(-1.17 .06 -.06 -1.17 217 312)"/><use href="#t8" transform="matrix(1.32 -.46 .46 1.32 231 312)"/><use href="#t7" transform="matrix(-.14 -1.55 1.55 -.14 275 348)"/><use href="#t8" transform="matrix(-.48 1.02 -1.02 -.48 328 337)"/></g><g filter="url(#bl1)" fill="none" stroke="#2ed41a" stroke-width="0.85" opacity="0.46" stroke-dasharray="6 1.5" stroke-linecap="round" stroke-linejoin="round"><use href="#f5" transform="matrix(.16 -.9 .9 .16 259 280)"/><use href="#f8" transform="matrix(-1.05 -.28 .28 -1.05 236 248)"/><use href="#f2" transform="matrix(.81 -.4 .4 .81 320 233)"/><use href="#f2" transform="matrix(.83 .46 -.46 .83 241 281)"/><use href="#f8" transform="matrix(-.13 -1.04 1.04 -.13 245 328)"/><use href="#f5" transform="matrix(.12 1.12 -1.12 .12 301 302)"/><use href="#f1" transform="matrix(-.57 .78 -.78 -.57 261 313)"/><use href="#f9" transform="matrix(.43 1.19 -1.19 .43 355 265)"/><use href="#f4" transform="matrix(-.84 -.49 .49 -.84 259 208)"/><use href="#f7" transform="matrix(1.03 .24 -.24 1.03 257 261)"/><use href="#f4" transform="matrix(.26 .98 -.98 .26 267 318)"/><use href="#f1" transform="matrix(-1.01 -.23 .23 -1.01 236 225)"/><use href="#f6" transform="matrix(.55 -.73 .73 .55 279 240)"/><use href="#f9" transform="matrix(-.66 -.81 .81 -.66 217 286)"/><use href="#f3" transform="matrix(1.1 .1 -.1 1.1 313 234)"/></g><g filter="url(#bl1)" fill="none" stroke="#2ed41a" stroke-width="1.05" opacity="0.74" stroke-dasharray="6 1.5" stroke-linecap="round" stroke-linejoin="round"><use href="#t15" transform="matrix(-.6 -1 1 -.6 282 280)"/><use href="#t12" transform="matrix(-.23 .98 -.98 -.23 331 221)"/><use href="#t17" transform="matrix(-.7 .81 -.81 -.7 344 271)"/><use href="#t10" transform="matrix(.03 -.94 .94 .03 257 210)"/></g><g filter="url(#bl1)" fill="none" stroke="#2ed41a" stroke-width="1.35" opacity="0.92" stroke-dasharray="6 1.5" stroke-linecap="round" stroke-linejoin="round"><use href="#t13" transform="matrix(1.42 .49 -.49 1.42 269 238)"/><use href="#t10" transform="matrix(-.51 -1.25 1.25 -.51 337 290)"/><use href="#t4" transform="matrix(-1.17 .12 -.12 -1.17 214 311)"/><use href="#t8" transform="matrix(1.25 -.63 .63 1.25 231 315)"/><use href="#t7" transform="matrix(-.85 -1.3 1.3 -.85 278 345)"/><use href="#t8" transform="matrix(-.74 .85 -.85 -.74 325 336)"/></g><g fill="none" stroke="#d82010" stroke-width="1.0" opacity="0.8" stroke-dasharray="5 2" stroke-linecap="round"><use href="#f8" transform="matrix(-.52 -.95 .95 -.52 266 263)"/><use href="#f0" transform="matrix(-0 -.85 .85 -0 240 304)"/><use href="#f5" transform="matrix(-1.02 .29 -.29 -1.02 296 272)"/></g><g filter="url(#bl2)"><ellipse cx="269" cy="238" rx="4.8" ry="3.6" fill="#40c020" transform="rotate(90 269 238)"/><ellipse cx="282" cy="280" rx="3.3" ry="2.3" fill="#40c020" transform="rotate(179 282 280)"/></g></g></g></g><rect x="592" y="1025.4" width="47.7" height="47.6" fill="none" stroke="#fff" stroke-width="1.8" stroke-dasharray="5.5 3.5"/><line x1="639.7" y1="1049.3" x2="884.6" y2="993.1" stroke="#000" stroke-width="3.2" opacity="0.6" stroke-dasharray="6 3.5"/><line x1="639.7" y1="1049.3" x2="884.6" y2="993.1" stroke="#fff" stroke-width="1.8" stroke-dasharray="6 3.5"/><rect x="776.7" y="1058.4" width="47.3" height="47.0" fill="none" stroke="#fff" stroke-width="1.8" stroke-dasharray="5.5 3.5"/><line x1="824" y1="1083.3" x2="887.3" y2="1116.6" stroke="#000" stroke-width="3.2" opacity="0.6"/><line x1="824" y1="1083.3" x2="887.3" y2="1116.6" stroke="#fff" stroke-width="1.8"/><rect x="757.7" y="1171" width="47.6" height="47.6" fill="none" stroke="#fff" stroke-width="1.8" stroke-dasharray="5.5 3.5"/><line x1="805.3" y1="1197.2" x2="884.6" y2="1233" stroke="#000" stroke-width="3.2" opacity="0.6" stroke-dasharray="6 3.5"/><line x1="805.3" y1="1197.2" x2="884.6" y2="1233" stroke="#fff" stroke-width="1.8" stroke-dasharray="6 3.5"/><text x="7" y="576.4" font-size="27" font-weight="normal" fill="#fff" text-anchor="start"  textLength="72" lengthAdjust="spacingAndGlyphs">AβE3</text><text x="7" y="953.7" font-size="27" font-weight="normal" fill="#fff" text-anchor="start"  textLength="70.5" lengthAdjust="spacingAndGlyphs">AβE4</text><text x="9" y="917.7" font-size="25.4" font-weight="normal" fill="#fff" text-anchor="start"  textLength="99.5" lengthAdjust="spacingAndGlyphs">0-10 min</text><text x="9" y="1294.5" font-size="25.4" font-weight="normal" fill="#fff" text-anchor="start"  textLength="99.5" lengthAdjust="spacingAndGlyphs">0-10 min</text><text x="506" y="917.6" font-size="25.4" font-weight="normal" fill="#fff" text-anchor="start"  textLength="98.5" lengthAdjust="spacingAndGlyphs">0-80 min</text><text x="506" y="1294.5" font-size="25.4" font-weight="normal" fill="#fff" text-anchor="start"  textLength="98.5" lengthAdjust="spacingAndGlyphs">0-80 min</text><text x="828" y="1282" font-size="17" font-weight="bold" fill="#fff" text-anchor="middle" >50 μm</text><line x1="801" y1="1290" x2="855.6" y2="1290" stroke="#fff" stroke-width="3"/>
</svg></body></html>
